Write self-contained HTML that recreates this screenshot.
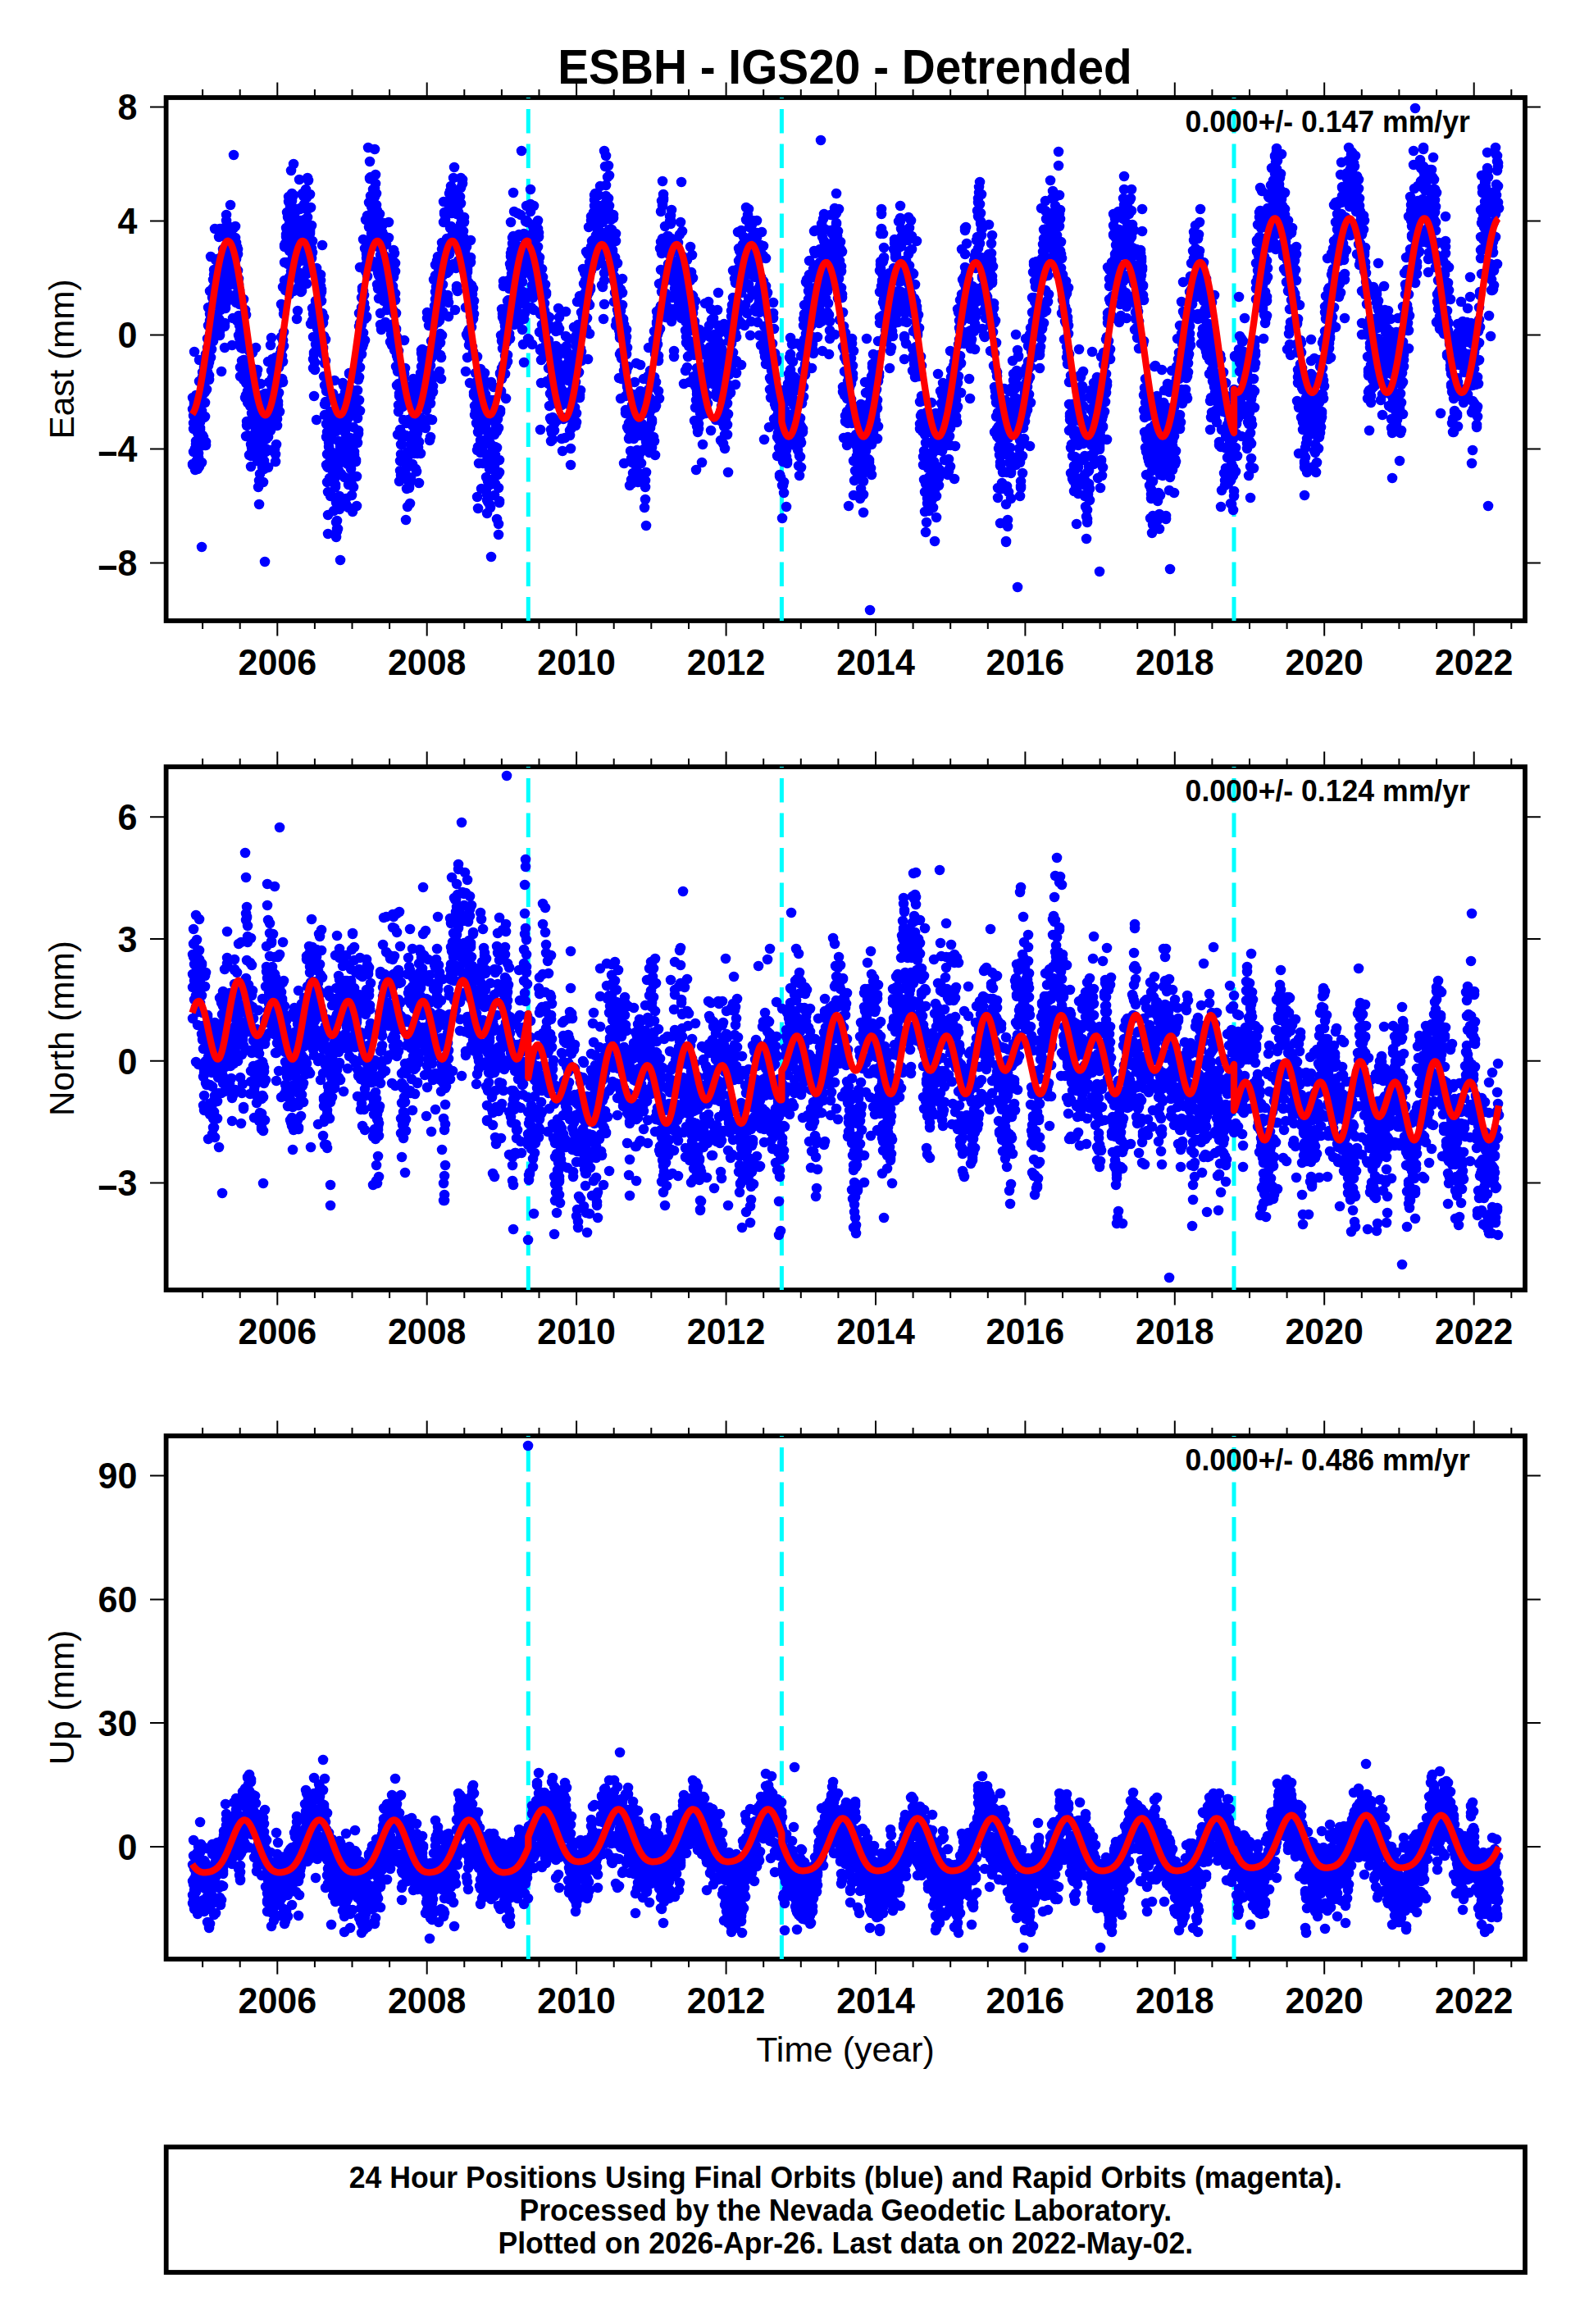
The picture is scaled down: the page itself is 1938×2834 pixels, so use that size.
<!DOCTYPE html><html><head><meta charset="utf-8"><style>html,body{margin:0;padding:0;background:#fff}svg{display:block}text{font-family:"Liberation Sans",sans-serif}</style></head><body>
<svg width="1938" height="2834" viewBox="0 0 1938 2834">
<rect width="1938" height="2834" fill="#fff"/>
<clipPath id="c0"><rect x="202.6" y="119.0" width="1657.4" height="638.0"/></clipPath>
<clipPath id="c1"><rect x="202.6" y="935.1" width="1657.4" height="638.0"/></clipPath>
<clipPath id="c2"><rect x="202.6" y="1751.0" width="1657.4" height="638.0"/></clipPath>
<text transform="translate(1030.4 101.8) scale(0.988 1.035)" text-anchor="middle" font-weight="bold" font-size="57.5">ESBH - IGS20 - Detrended</text>
<rect x="202.6" y="119.0" width="1657.4" height="638.0" fill="none" stroke="#000" stroke-width="5.8"/>
<g clip-path="url(#c0)"><line x1="644.3" y1="119.0" x2="644.3" y2="757.0" stroke="#00ffff" stroke-width="5" stroke-dasharray="29.5 13" stroke-dashoffset="28.6"/><line x1="953.4" y1="119.0" x2="953.4" y2="757.0" stroke="#00ffff" stroke-width="5" stroke-dasharray="29.5 13" stroke-dashoffset="28.6"/><line x1="1505.0" y1="119.0" x2="1505.0" y2="757.0" stroke="#00ffff" stroke-width="5" stroke-dasharray="29.5 13" stroke-dashoffset="28.6"/><path fill="none" stroke="#0000ff" stroke-width="12.5" stroke-linecap="round" d="M235 485h.1M235 567h.1M235 566h.1M235 499h.1M236 516h.1M236 507h.1M236 551h.1M236 523h.1M237 492h.1M237 429h.1M237 494h.1M237 499h.1M237 491h.1M238 512h.1M238 547h.1M238 573h.1M238 492h.1M239 563h.1M239 482h.1M239 542h.1M239 538h.1M240 566h.1M240 543h.1M240 514h.1M240 516h.1M241 568h.1M241 556h.1M241 572h.1M241 528h.1M242 526h.1M242 492h.1M242 558h.1M242 553h.1M243 542h.1M243 465h.1M243 569h.1M243 439h.1M244 515h.1M244 524h.1M244 491h.1M244 522h.1M245 532h.1M245 504h.1M245 507h.1M245 544h.1M246 467h.1M246 564h.1M246 491h.1M246 501h.1M247 531h.1M247 460h.1M247 454h.1M247 541h.1M248 469h.1M248 479h.1M248 480h.1M248 533h.1M249 452h.1M249 448h.1M249 479h.1M249 509h.1M250 491h.1M250 478h.1M250 508h.1M250 543h.1M251 539h.1M251 543h.1M251 475h.1M251 432h.1M252 441h.1M252 475h.1M252 442h.1M253 437h.1M253 413h.1M253 424h.1M253 454h.1M254 436h.1M254 397h.1M254 446h.1M254 375h.1M255 463h.1M255 458h.1M255 442h.1M255 434h.1M256 383h.1M256 408h.1M256 391h.1M256 355h.1M257 436h.1M257 389h.1M257 313h.1M257 384h.1M258 411h.1M258 386h.1M258 426h.1M258 390h.1M259 372h.1M259 386h.1M259 363h.1M259 401h.1M260 351h.1M260 341h.1M260 416h.1M260 383h.1M261 329h.1M261 394h.1M261 335h.1M261 366h.1M262 367h.1M262 348h.1M262 279h.1M262 390h.1M263 339h.1M263 362h.1M263 317h.1M263 348h.1M264 337h.1M264 331h.1M264 345h.1M264 316h.1M265 319h.1M265 369h.1M265 365h.1M265 350h.1M266 318h.1M266 343h.1M266 370h.1M267 370h.1M267 389h.1M267 289h.1M267 327h.1M268 279h.1M268 404h.1M268 409h.1M268 344h.1M269 372h.1M269 378h.1M269 396h.1M269 394h.1M270 453h.1M270 279h.1M270 369h.1M270 355h.1M271 317h.1M271 358h.1M271 331h.1M271 312h.1M272 323h.1M272 318h.1M272 304h.1M272 315h.1M273 359h.1M273 346h.1M273 358h.1M273 325h.1M274 394h.1M274 424h.1M274 398h.1M274 337h.1M275 376h.1M275 372h.1M275 310h.1M275 287h.1M276 262h.1M276 269h.1M276 280h.1M276 290h.1M277 346h.1M277 303h.1M277 310h.1M277 274h.1M278 287h.1M278 358h.1M278 323h.1M278 301h.1M279 329h.1M279 347h.1M279 280h.1M279 366h.1M280 282h.1M280 341h.1M280 324h.1M280 279h.1M281 250h.1M281 347h.1M281 299h.1M281 313h.1M282 327h.1M282 332h.1M282 305h.1M282 285h.1M283 280h.1M283 421h.1M283 337h.1M283 300h.1M284 388h.1M284 298h.1M284 300h.1M284 322h.1M285 278h.1M285 318h.1M285 337h.1M285 323h.1M286 329h.1M286 293h.1M286 320h.1M286 292h.1M287 290h.1M287 276h.1M287 318h.1M287 307h.1M288 359h.1M288 369h.1M288 296h.1M288 316h.1M289 391h.1M289 389h.1M289 301h.1M289 349h.1M290 310h.1M290 304h.1M290 359h.1M290 330h.1M291 409h.1M291 385h.1M291 347h.1M291 340h.1M292 397h.1M292 371h.1M292 412h.1M292 354h.1M293 459h.1M293 417h.1M293 404h.1M293 448h.1M294 424h.1M294 421h.1M294 390h.1M294 397h.1M295 407h.1M295 401h.1M295 420h.1M295 440h.1M296 425h.1M296 440h.1M296 395h.1M296 413h.1M297 399h.1M297 463h.1M297 365h.1M297 439h.1M298 460h.1M298 414h.1M298 411h.1M298 439h.1M299 378h.1M299 443h.1M299 485h.1M300 384h.1M300 467h.1M300 482h.1M300 532h.1M301 519h.1M301 514h.1M301 483h.1M301 452h.1M302 457h.1M302 531h.1M302 491h.1M302 477h.1M303 464h.1M303 466h.1M303 459h.1M303 471h.1M304 487h.1M304 428h.1M304 555h.1M304 482h.1M305 472h.1M305 495h.1M305 491h.1M305 517h.1M306 457h.1M306 556h.1M306 542h.1M306 569h.1M307 546h.1M307 551h.1M307 504h.1M307 479h.1M308 531h.1M308 498h.1M308 430h.1M308 479h.1M309 552h.1M309 450h.1M309 474h.1M309 485h.1M310 477h.1M310 468h.1M310 495h.1M310 470h.1M311 494h.1M311 460h.1M311 471h.1M311 515h.1M312 525h.1M312 424h.1M312 490h.1M312 509h.1M313 454h.1M313 456h.1M313 498h.1M313 470h.1M314 530h.1M314 547h.1M314 562h.1M314 451h.1M315 519h.1M315 509h.1M315 594h.1M315 522h.1M316 615h.1M316 586h.1M316 538h.1M316 516h.1M317 495h.1M317 534h.1M317 578h.1M317 511h.1M318 557h.1M318 506h.1M318 513h.1M318 468h.1M319 482h.1M319 536h.1M319 510h.1M319 551h.1M320 548h.1M320 569h.1M320 561h.1M320 570h.1M321 536h.1M321 588h.1M321 562h.1M321 530h.1M322 564h.1M322 572h.1M322 496h.1M322 562h.1M323 480h.1M323 525h.1M323 509h.1M323 487h.1M324 551h.1M324 547h.1M324 522h.1M324 517h.1M325 480h.1M325 528h.1M325 535h.1M325 503h.1M326 520h.1M326 517h.1M326 494h.1M326 510h.1M327 533h.1M327 441h.1M327 494h.1M327 570h.1M328 501h.1M328 466h.1M328 509h.1M328 526h.1M329 484h.1M329 521h.1M329 502h.1M329 479h.1M330 502h.1M330 421h.1M330 549h.1M330 525h.1M331 452h.1M331 470h.1M331 412h.1M331 442h.1M332 438h.1M332 444h.1M332 461h.1M332 514h.1M333 470h.1M333 452h.1M333 477h.1M333 513h.1M334 451h.1M334 503h.1M334 512h.1M334 493h.1M335 504h.1M335 548h.1M335 512h.1M335 493h.1M336 436h.1M336 563h.1M336 554h.1M336 478h.1M337 482h.1M337 470h.1M337 542h.1M337 489h.1M338 489h.1M338 483h.1M338 519h.1M338 511h.1M339 499h.1M339 494h.1M339 490h.1M340 448h.1M340 479h.1M340 467h.1M340 438h.1M341 467h.1M341 438h.1M341 502h.1M341 443h.1M342 439h.1M342 441h.1M342 443h.1M342 431h.1M343 371h.1M343 411h.1M343 435h.1M343 426h.1M344 434h.1M344 411h.1M344 425h.1M344 462h.1M345 466h.1M345 415h.1M345 441h.1M345 350h.1M346 383h.1M346 405h.1M346 377h.1M346 422h.1M347 320h.1M347 342h.1M347 299h.1M347 301h.1M348 354h.1M348 297h.1M348 350h.1M348 346h.1M349 286h.1M349 289h.1M349 320h.1M349 278h.1M350 301h.1M350 295h.1M350 282h.1M350 259h.1M351 322h.1M351 265h.1M351 300h.1M351 289h.1M352 246h.1M352 266h.1M352 301h.1M352 240h.1M353 359h.1M353 306h.1M353 273h.1M353 338h.1M354 283h.1M354 299h.1M354 252h.1M354 278h.1M355 281h.1M355 331h.1M355 292h.1M355 208h.1M356 236h.1M356 272h.1M356 245h.1M356 296h.1M357 253h.1M357 301h.1M357 314h.1M357 290h.1M358 238h.1M358 306h.1M358 355h.1M358 200h.1M359 302h.1M359 300h.1M359 322h.1M359 269h.1M360 259h.1M360 273h.1M360 294h.1M360 295h.1M361 295h.1M361 324h.1M361 279h.1M362 315h.1M362 303h.1M362 389h.1M362 296h.1M363 339h.1M363 379h.1M363 307h.1M363 255h.1M364 273h.1M364 283h.1M364 341h.1M364 350h.1M365 305h.1M365 339h.1M365 288h.1M365 219h.1M366 255h.1M366 269h.1M366 254h.1M366 333h.1M367 285h.1M367 318h.1M367 356h.1M367 339h.1M368 334h.1M368 301h.1M368 355h.1M368 291h.1M369 300h.1M369 302h.1M369 236h.1M369 283h.1M370 269h.1M370 314h.1M370 239h.1M370 277h.1M371 249h.1M371 270h.1M371 268h.1M371 316h.1M372 277h.1M372 318h.1M372 296h.1M372 274h.1M373 333h.1M373 305h.1M373 282h.1M373 231h.1M374 255h.1M374 334h.1M374 241h.1M374 346h.1M375 328h.1M375 265h.1M375 217h.1M375 295h.1M376 308h.1M376 286h.1M376 254h.1M376 220h.1M377 282h.1M377 293h.1M377 274h.1M377 254h.1M378 237h.1M378 283h.1M378 285h.1M378 281h.1M379 253h.1M379 306h.1M379 395h.1M379 329h.1M380 303h.1M380 315h.1M380 275h.1M380 328h.1M381 294h.1M381 308h.1M381 376h.1M381 391h.1M382 383h.1M382 449h.1M382 411h.1M382 438h.1M383 430h.1M383 483h.1M383 391h.1M383 432h.1M384 380h.1M384 442h.1M384 451h.1M384 429h.1M385 420h.1M385 392h.1M385 367h.1M385 372h.1M386 327h.1M386 383h.1M386 335h.1M386 512h.1M387 383h.1M387 373h.1M387 401h.1M387 384h.1M388 406h.1M388 387h.1M388 423h.1M388 412h.1M389 368h.1M389 391h.1M389 383h.1M389 334h.1M390 338h.1M390 367h.1M390 387h.1M390 358h.1M391 349h.1M391 359h.1M391 335h.1M391 342h.1M392 367h.1M392 356h.1M392 353h.1M392 396h.1M393 382h.1M393 299h.1M393 413h.1M393 418h.1M394 394h.1M394 432h.1M394 425h.1M394 424h.1M395 410h.1M395 387h.1M395 459h.1M396 443h.1M396 493h.1M396 470h.1M396 506h.1M397 440h.1M397 414h.1M397 493h.1M397 490h.1M398 477h.1M398 533h.1M398 567h.1M398 517h.1M399 527h.1M399 588h.1M399 554h.1M399 569h.1M400 600h.1M400 570h.1M400 628h.1M400 651h.1M401 552h.1M401 545h.1M401 565h.1M401 540h.1M402 532h.1M402 569h.1M402 479h.1M402 583h.1M403 559h.1M403 605h.1M403 537h.1M403 502h.1M404 551h.1M404 585h.1M404 604h.1M404 519h.1M405 573h.1M405 554h.1M405 514h.1M405 567h.1M406 511h.1M406 480h.1M406 559h.1M406 528h.1M407 553h.1M407 623h.1M407 565h.1M407 511h.1M408 464h.1M408 563h.1M408 520h.1M408 519h.1M409 559h.1M409 591h.1M409 582h.1M409 594h.1M410 613h.1M410 637h.1M410 655h.1M410 526h.1M411 635h.1M411 648h.1M411 645h.1M411 493h.1M412 568h.1M412 645h.1M412 486h.1M412 552h.1M413 560h.1M413 606h.1M413 538h.1M413 574h.1M414 621h.1M414 605h.1M414 557h.1M414 500h.1M415 545h.1M415 489h.1M415 512h.1M415 554h.1M416 496h.1M416 578h.1M416 564h.1M416 616h.1M417 539h.1M417 485h.1M417 553h.1M417 559h.1M418 467h.1M418 506h.1M418 547h.1M418 519h.1M419 470h.1M419 562h.1M419 509h.1M419 524h.1M420 537h.1M420 557h.1M420 538h.1M420 582h.1M421 536h.1M421 478h.1M421 523h.1M421 528h.1M422 505h.1M422 608h.1M422 615h.1M422 478h.1M423 505h.1M423 506h.1M423 542h.1M423 519h.1M424 511h.1M424 538h.1M424 549h.1M424 566h.1M425 591h.1M425 619h.1M425 556h.1M425 565h.1M426 455h.1M426 552h.1M426 544h.1M426 456h.1M427 564h.1M427 534h.1M427 474h.1M427 479h.1M428 496h.1M428 505h.1M428 582h.1M428 572h.1M429 591h.1M429 550h.1M429 604h.1M429 553h.1M430 555h.1M430 550h.1M430 624h.1M430 544h.1M431 594h.1M431 540h.1M431 557h.1M431 521h.1M432 496h.1M432 551h.1M432 555h.1M432 487h.1M433 454h.1M433 501h.1M433 536h.1M433 461h.1M434 563h.1M434 491h.1M434 561h.1M434 454h.1M435 476h.1M435 534h.1M435 581h.1M435 617h.1M436 510h.1M436 476h.1M436 499h.1M436 540h.1M437 438h.1M437 463h.1M437 525h.1M437 529h.1M438 488h.1M438 398h.1M438 460h.1M438 382h.1M439 394h.1M439 501h.1M439 448h.1M439 326h.1M440 421h.1M440 399h.1M440 412h.1M440 416h.1M441 432h.1M441 396h.1M441 375h.1M441 363h.1M442 351h.1M442 415h.1M442 423h.1M442 354h.1M443 355h.1M443 420h.1M443 406h.1M443 292h.1M444 389h.1M444 387h.1M444 360h.1M444 370h.1M445 415h.1M445 389h.1M445 303h.1M445 376h.1M446 323h.1M446 268h.1M446 331h.1M446 329h.1M447 387h.1M447 386h.1M447 310h.1M447 315h.1M448 309h.1M448 337h.1M448 268h.1M448 263h.1M449 296h.1M449 308h.1M449 321h.1M449 180h.1M450 317h.1M450 277h.1M450 247h.1M450 307h.1M451 268h.1M451 197h.1M451 217h.1M451 218h.1M452 239h.1M452 248h.1M452 245h.1M452 216h.1M453 252h.1M453 244h.1M453 245h.1M453 285h.1M454 271h.1M454 298h.1M454 288h.1M454 259h.1M455 319h.1M455 231h.1M455 272h.1M455 325h.1M456 280h.1M456 283h.1M456 215h.1M456 238h.1M457 230h.1M457 182h.1M457 240h.1M457 255h.1M458 283h.1M458 270h.1M458 224h.1M458 213h.1M459 268h.1M459 250h.1M459 271h.1M459 236h.1M460 274h.1M460 257h.1M460 288h.1M460 297h.1M460 347h.1M461 333h.1M461 301h.1M461 352h.1M461 271h.1M462 336h.1M462 364h.1M462 297h.1M463 261h.1M463 287h.1M463 364h.1M463 324h.1M464 396h.1M464 382h.1M464 327h.1M464 311h.1M465 333h.1M465 294h.1M465 402h.1M466 305h.1M466 349h.1M466 283h.1M466 316h.1M467 274h.1M467 364h.1M467 294h.1M467 337h.1M468 287h.1M468 272h.1M468 367h.1M468 357h.1M469 340h.1M469 363h.1M469 312h.1M469 367h.1M470 393h.1M470 365h.1M470 351h.1M470 296h.1M471 353h.1M471 342h.1M471 294h.1M471 298h.1M472 378h.1M472 365h.1M472 396h.1M472 326h.1M473 374h.1M473 358h.1M473 348h.1M473 342h.1M474 324h.1M474 290h.1M474 315h.1M474 271h.1M475 324h.1M475 398h.1M475 330h.1M475 366h.1M476 316h.1M476 366h.1M476 349h.1M476 417h.1M477 408h.1M477 369h.1M477 403h.1M478 335h.1M478 421h.1M478 411h.1M478 323h.1M479 331h.1M479 378h.1M479 353h.1M479 349h.1M480 395h.1M480 338h.1M480 360h.1M480 305h.1M481 427h.1M481 309h.1M481 383h.1M481 320h.1M482 366h.1M482 331h.1M482 321h.1M482 358h.1M483 382h.1M483 402h.1M483 447h.1M483 401h.1M484 470h.1M484 411h.1M484 433h.1M484 434h.1M485 453h.1M485 437h.1M485 530h.1M485 452h.1M486 468h.1M486 428h.1M486 502h.1M486 494h.1M487 480h.1M487 483h.1M487 530h.1M487 587h.1M488 562h.1M488 574h.1M488 524h.1M489 580h.1M489 527h.1M489 554h.1M489 542h.1M490 533h.1M490 542h.1M490 486h.1M490 466h.1M491 555h.1M491 492h.1M491 496h.1M491 467h.1M492 512h.1M492 461h.1M492 457h.1M492 464h.1M493 415h.1M493 491h.1M493 456h.1M493 451h.1M494 449h.1M494 483h.1M494 470h.1M494 474h.1M495 531h.1M495 572h.1M495 554h.1M495 634h.1M496 516h.1M496 532h.1M496 471h.1M496 596h.1M497 551h.1M497 558h.1M497 557h.1M497 618h.1M498 512h.1M498 586h.1M498 582h.1M498 566h.1M499 594h.1M499 590h.1M499 582h.1M499 595h.1M500 614h.1M500 565h.1M500 534h.1M501 583h.1M501 542h.1M501 493h.1M501 532h.1M502 484h.1M502 487h.1M502 473h.1M502 539h.1M503 519h.1M503 488h.1M503 540h.1M503 566h.1M504 476h.1M504 462h.1M504 541h.1M504 507h.1M505 517h.1M505 528h.1M505 530h.1M505 553h.1M506 541h.1M506 482h.1M506 517h.1M506 488h.1M507 572h.1M507 488h.1M507 490h.1M507 504h.1M508 470h.1M508 530h.1M508 532h.1M508 575h.1M509 553h.1M509 519h.1M509 528h.1M509 497h.1M510 546h.1M510 509h.1M510 538h.1M510 523h.1M511 521h.1M511 589h.1M511 487h.1M511 539h.1M512 509h.1M512 468h.1M512 515h.1M512 492h.1M513 553h.1M513 479h.1M513 455h.1M513 486h.1M514 431h.1M514 427h.1M514 447h.1M514 470h.1M515 437h.1M515 438h.1M515 465h.1M515 426h.1M516 445h.1M516 489h.1M516 466h.1M516 456h.1M517 512h.1M517 518h.1M517 460h.1M517 447h.1M518 482h.1M518 434h.1M518 463h.1M518 475h.1M519 431h.1M519 449h.1M519 515h.1M519 522h.1M520 457h.1M520 483h.1M520 476h.1M520 500h.1M521 460h.1M521 381h.1M521 479h.1M521 388h.1M522 464h.1M522 470h.1M522 428h.1M522 481h.1M523 453h.1M523 431h.1M523 397h.1M524 512h.1M524 537h.1M524 511h.1M524 456h.1M525 492h.1M525 484h.1M525 446h.1M525 533h.1M526 430h.1M526 437h.1M526 426h.1M526 416h.1M527 458h.1M527 463h.1M527 512h.1M527 432h.1M528 471h.1M528 414h.1M528 478h.1M528 415h.1M529 396h.1M529 397h.1M529 341h.1M529 395h.1M530 373h.1M530 384h.1M530 387h.1M530 382h.1M531 365h.1M531 336h.1M531 323h.1M531 356h.1M532 350h.1M532 363h.1M532 413h.1M532 338h.1M533 318h.1M533 370h.1M533 353h.1M533 423h.1M534 364h.1M534 313h.1M534 356h.1M534 393h.1M535 328h.1M535 362h.1M535 386h.1M535 353h.1M536 391h.1M536 347h.1M536 453h.1M536 364h.1M537 418h.1M537 378h.1M537 407h.1M537 433h.1M538 370h.1M538 436h.1M538 462h.1M538 356h.1M539 316h.1M539 296h.1M539 304h.1M539 409h.1M540 336h.1M540 347h.1M540 302h.1M540 380h.1M541 301h.1M541 308h.1M541 271h.1M541 246h.1M542 261h.1M542 329h.1M542 259h.1M542 312h.1M543 310h.1M543 268h.1M543 362h.1M543 318h.1M544 321h.1M544 295h.1M544 301h.1M544 297h.1M545 291h.1M545 333h.1M545 326h.1M545 306h.1M546 299h.1M546 310h.1M546 365h.1M546 360h.1M547 331h.1M547 386h.1M547 369h.1M547 300h.1M548 251h.1M548 310h.1M548 327h.1M548 236h.1M549 247h.1M549 278h.1M549 233h.1M549 234h.1M550 227h.1M550 300h.1M550 237h.1M550 276h.1M551 260h.1M551 297h.1M551 233h.1M551 252h.1M552 286h.1M552 250h.1M552 244h.1M552 240h.1M553 217h.1M553 322h.1M553 295h.1M553 254h.1M554 241h.1M554 289h.1M554 204h.1M554 237h.1M555 326h.1M555 301h.1M555 248h.1M555 378h.1M556 239h.1M556 245h.1M556 327h.1M556 281h.1M557 261h.1M557 353h.1M557 349h.1M557 233h.1M558 279h.1M558 355h.1M558 256h.1M558 241h.1M559 249h.1M559 259h.1M559 289h.1M559 318h.1M560 240h.1M560 247h.1M560 306h.1M560 297h.1M561 278h.1M561 285h.1M561 277h.1M561 240h.1M562 273h.1M562 229h.1M562 248h.1M562 217h.1M563 271h.1M563 219h.1M563 268h.1M563 303h.1M564 224h.1M564 303h.1M564 298h.1M564 219h.1M565 282h.1M565 303h.1M565 299h.1M565 289h.1M566 271h.1M566 313h.1M566 331h.1M566 265h.1M567 306h.1M567 304h.1M567 295h.1M567 310h.1M568 337h.1M568 453h.1M568 321h.1M568 375h.1M569 408h.1M569 338h.1M569 297h.1M569 301h.1M570 332h.1M570 329h.1M570 410h.1M570 436h.1M571 323h.1M571 344h.1M571 352h.1M571 404h.1M572 321h.1M572 402h.1M572 354h.1M572 421h.1M573 467h.1M573 363h.1M573 352h.1M573 417h.1M574 293h.1M574 386h.1M574 320h.1M574 314h.1M575 392h.1M575 348h.1M575 399h.1M575 366h.1M576 378h.1M576 359h.1M576 423h.1M576 380h.1M577 352h.1M577 375h.1M577 429h.1M577 389h.1M578 383h.1M578 367h.1M578 479h.1M578 482h.1M579 506h.1M579 483h.1M579 495h.1M579 470h.1M580 472h.1M580 435h.1M580 455h.1M580 502h.1M581 472h.1M581 516h.1M581 498h.1M581 466h.1M582 489h.1M582 435h.1M582 606h.1M582 549h.1M583 527h.1M583 509h.1M583 545h.1M583 620h.1M584 565h.1M584 521h.1M584 526h.1M584 488h.1M585 472h.1M585 525h.1M585 515h.1M585 494h.1M586 552h.1M586 537h.1M586 450h.1M586 511h.1M587 505h.1M587 596h.1M587 544h.1M587 518h.1M588 499h.1M588 523h.1M588 517h.1M588 546h.1M589 513h.1M589 475h.1M589 539h.1M589 565h.1M590 495h.1M590 463h.1M590 476h.1M590 537h.1M591 516h.1M591 500h.1M591 469h.1M591 455h.1M592 518h.1M592 489h.1M592 500h.1M592 481h.1M593 524h.1M593 525h.1M593 597h.1M593 582h.1M594 556h.1M594 626h.1M594 610h.1M594 603h.1M595 608h.1M595 612h.1M595 587h.1M595 554h.1M596 528h.1M596 558h.1M596 568h.1M596 507h.1M597 615h.1M597 540h.1M597 572h.1M597 565h.1M598 619h.1M598 591h.1M598 541h.1M598 567h.1M599 568h.1M599 512h.1M599 466h.1M599 488h.1M600 497h.1M600 552h.1M600 553h.1M600 545h.1M601 491h.1M601 559h.1M601 490h.1M601 499h.1M602 554h.1M602 488h.1M602 472h.1M602 502h.1M603 530h.1M603 504h.1M603 604h.1M603 568h.1M604 555h.1M604 547h.1M604 545h.1M604 590h.1M605 563h.1M605 521h.1M605 519h.1M605 580h.1M606 577h.1M606 546h.1M606 526h.1M606 633h.1M607 508h.1M607 579h.1M607 511h.1M607 504h.1M608 595h.1M608 639h.1M608 652h.1M608 522h.1M609 611h.1M609 576h.1M609 613h.1M609 561h.1M610 500h.1M610 455h.1M610 456h.1M610 503h.1M611 479h.1M611 477h.1M611 409h.1M611 455h.1M612 462h.1M612 416h.1M612 449h.1M612 377h.1M613 383h.1M613 425h.1M613 415h.1M613 387h.1M614 445h.1M614 349h.1M614 343h.1M614 377h.1M615 387h.1M615 417h.1M615 423h.1M615 392h.1M616 398h.1M616 434h.1M616 404h.1M616 456h.1M617 408h.1M617 486h.1M617 445h.1M617 414h.1M618 388h.1M618 433h.1M618 414h.1M618 417h.1M619 367h.1M619 433h.1M619 409h.1M619 441h.1M620 342h.1M620 366h.1M620 381h.1M620 368h.1M621 342h.1M621 373h.1M621 352h.1M621 407h.1M622 413h.1M622 322h.1M622 346h.1M622 382h.1M623 313h.1M623 309h.1M623 271h.1M623 326h.1M624 305h.1M624 323h.1M624 334h.1M624 321h.1M625 310h.1M625 329h.1M625 290h.1M625 297h.1M626 291h.1M626 235h.1M626 296h.1M626 288h.1M627 258h.1M627 396h.1M627 384h.1M627 349h.1M628 368h.1M628 296h.1M628 354h.1M628 352h.1M629 314h.1M629 392h.1M629 352h.1M629 325h.1M630 376h.1M630 305h.1M630 309h.1M630 310h.1M631 337h.1M631 369h.1M631 260h.1M631 350h.1M632 341h.1M632 340h.1M632 343h.1M632 329h.1M633 393h.1M633 329h.1M633 286h.1M633 361h.1M634 324h.1M634 357h.1M634 322h.1M634 301h.1M635 345h.1M635 262h.1M635 370h.1M635 288h.1M636 363h.1M636 343h.1M636 383h.1M636 318h.1M637 335h.1M637 402h.1M637 344h.1M637 369h.1M638 357h.1M638 420h.1M638 359h.1M638 356h.1M639 285h.1M639 389h.1M639 314h.1M639 442h.1M640 382h.1M640 360h.1M640 371h.1M640 291h.1M641 323h.1M641 310h.1M641 301h.1M641 270h.1M642 330h.1M642 251h.1M642 291h.1M642 269h.1M643 271h.1M643 270h.1M643 296h.1M643 300h.1M644 324h.1M644 301h.1M644 319h.1M644 413h.1M645 414h.1M645 313h.1M645 362h.1M645 318h.1M646 357h.1M646 321h.1M646 306h.1M646 318h.1M647 249h.1M647 231h.1M647 258h.1M647 356h.1M648 336h.1M648 314h.1M648 310h.1M648 375h.1M649 420h.1M649 355h.1M649 293h.1M649 348h.1M650 284h.1M650 340h.1M650 276h.1M650 363h.1M651 319h.1M651 297h.1M651 378h.1M651 251h.1M652 326h.1M652 360h.1M652 333h.1M652 352h.1M653 327h.1M653 278h.1M653 317h.1M653 276h.1M654 344h.1M654 309h.1M654 304h.1M654 282h.1M655 319h.1M655 290h.1M655 271h.1M655 337h.1M656 269h.1M656 279h.1M656 301h.1M656 288h.1M657 289h.1M657 333h.1M657 320h.1M657 284h.1M658 314h.1M658 329h.1M658 359h.1M658 405h.1M659 348h.1M659 383h.1M659 427h.1M659 524h.1M660 439h.1M660 467h.1M660 425h.1M660 382h.1M661 396h.1M661 361h.1M661 328h.1M661 357h.1M662 338h.1M662 384h.1M662 348h.1M662 408h.1M663 406h.1M663 376h.1M663 412h.1M663 435h.1M664 401h.1M664 370h.1M664 379h.1M664 388h.1M665 347h.1M665 387h.1M665 406h.1M665 422h.1M666 404h.1M666 357h.1M666 359h.1M666 395h.1M667 465h.1M667 430h.1M667 385h.1M667 389h.1M668 395h.1M668 390h.1M668 431h.1M668 416h.1M669 429h.1M669 468h.1M669 415h.1M669 449h.1M670 428h.1M670 495h.1M670 397h.1M670 387h.1M671 480h.1M671 450h.1M671 510h.1M671 431h.1M672 538h.1M672 512h.1M672 524h.1M672 445h.1M673 528h.1M673 473h.1M673 460h.1M673 480h.1M674 509h.1M674 484h.1M674 536h.1M674 485h.1M675 490h.1M675 479h.1M675 452h.1M675 511h.1M676 525h.1M676 490h.1M676 492h.1M676 517h.1M677 486h.1M677 462h.1M677 478h.1M677 469h.1M678 466h.1M678 422h.1M678 488h.1M678 404h.1M679 464h.1M679 513h.1M679 437h.1M679 425h.1M680 447h.1M680 426h.1M680 435h.1M680 397h.1M681 458h.1M681 443h.1M681 376h.1M681 403h.1M682 426h.1M682 387h.1M682 462h.1M682 401h.1M682 485h.1M683 470h.1M683 468h.1M683 426h.1M683 448h.1M684 459h.1M684 455h.1M684 447h.1M684 431h.1M685 491h.1M685 494h.1M685 475h.1M685 535h.1M686 550h.1M686 493h.1M686 478h.1M686 509h.1M687 511h.1M687 491h.1M687 447h.1M687 425h.1M688 478h.1M688 452h.1M688 462h.1M688 487h.1M689 449h.1M689 534h.1M689 487h.1M689 451h.1M690 430h.1M690 487h.1M690 410h.1M690 380h.1M691 460h.1M691 422h.1M691 428h.1M692 487h.1M692 433h.1M692 451h.1M692 491h.1M693 434h.1M693 490h.1M693 442h.1M693 464h.1M694 483h.1M694 413h.1M694 436h.1M694 458h.1M695 531h.1M695 510h.1M695 492h.1M695 525h.1M696 547h.1M696 496h.1M696 567h.1M697 489h.1M697 522h.1M697 437h.1M697 491h.1M698 503h.1M698 519h.1M698 475h.1M698 488h.1M699 470h.1M699 436h.1M699 439h.1M699 462h.1M700 453h.1M700 443h.1M700 470h.1M700 399h.1M701 432h.1M701 486h.1M701 497h.1M701 478h.1M702 416h.1M702 519h.1M702 466h.1M702 475h.1M703 515h.1M703 504h.1M703 423h.1M703 409h.1M704 476h.1M704 400h.1M704 406h.1M704 368h.1M705 442h.1M705 415h.1M705 396h.1M705 455h.1M706 428h.1M706 420h.1M706 407h.1M706 454h.1M707 361h.1M707 425h.1M707 482h.1M707 485h.1M708 476h.1M708 413h.1M708 425h.1M708 396h.1M709 400h.1M709 440h.1M709 429h.1M709 381h.1M710 365h.1M710 405h.1M710 394h.1M710 362h.1M711 398h.1M711 369h.1M711 387h.1M711 328h.1M712 372h.1M712 381h.1M712 346h.1M712 394h.1M713 358h.1M713 333h.1M713 385h.1M713 371h.1M714 342h.1M714 386h.1M714 390h.1M714 343h.1M715 401h.1M715 307h.1M715 351h.1M715 369h.1M716 361h.1M716 388h.1M716 331h.1M716 369h.1M717 438h.1M717 369h.1M717 310h.1M717 352h.1M718 357h.1M718 354h.1M718 277h.1M718 339h.1M719 320h.1M719 407h.1M719 352h.1M719 372h.1M720 350h.1M720 328h.1M720 353h.1M720 326h.1M721 269h.1M721 301h.1M721 330h.1M721 264h.1M722 311h.1M722 302h.1M722 265h.1M722 294h.1M723 293h.1M723 272h.1M723 301h.1M723 271h.1M724 308h.1M724 260h.1M724 270h.1M724 259h.1M725 238h.1M725 244h.1M725 262h.1M725 251h.1M726 260h.1M726 259h.1M726 252h.1M726 236h.1M727 292h.1M727 264h.1M727 324h.1M727 287h.1M728 259h.1M728 276h.1M728 275h.1M728 278h.1M729 270h.1M729 263h.1M729 283h.1M729 251h.1M730 308h.1M730 275h.1M730 238h.1M730 276h.1M731 306h.1M731 302h.1M731 272h.1M731 251h.1M732 284h.1M732 290h.1M732 227h.1M732 315h.1M733 255h.1M733 293h.1M733 314h.1M733 295h.1M734 294h.1M734 297h.1M734 269h.1M734 348h.1M735 262h.1M735 271h.1M735 305h.1M735 350h.1M736 261h.1M736 389h.1M736 298h.1M736 308h.1M737 371h.1M737 268h.1M737 342h.1M737 333h.1M738 324h.1M738 302h.1M738 203h.1M738 284h.1M739 190h.1M739 247h.1M739 226h.1M739 239h.1M740 263h.1M740 264h.1M740 260h.1M741 216h.1M741 288h.1M741 295h.1M741 302h.1M742 301h.1M742 257h.1M742 242h.1M742 202h.1M743 251h.1M743 280h.1M743 282h.1M743 214h.1M744 305h.1M744 321h.1M744 286h.1M744 284h.1M745 288h.1M745 309h.1M745 292h.1M745 268h.1M746 267h.1M746 280h.1M746 288h.1M746 310h.1M747 287h.1M747 307h.1M747 305h.1M747 284h.1M748 266h.1M748 328h.1M748 262h.1M748 321h.1M749 368h.1M749 289h.1M749 343h.1M749 337h.1M750 317h.1M750 357h.1M750 314h.1M751 294h.1M751 358h.1M751 397h.1M751 285h.1M752 392h.1M752 343h.1M752 391h.1M752 395h.1M753 321h.1M753 362h.1M753 398h.1M753 378h.1M754 357h.1M754 382h.1M754 349h.1M754 378h.1M755 384h.1M755 382h.1M755 403h.1M755 461h.1M756 383h.1M756 432h.1M756 408h.1M756 412h.1M757 430h.1M757 353h.1M757 486h.1M757 379h.1M758 462h.1M758 437h.1M758 396h.1M758 410h.1M759 399h.1M759 340h.1M759 372h.1M759 357h.1M760 389h.1M760 406h.1M760 432h.1M760 390h.1M761 565h.1M761 414h.1M761 396h.1M761 452h.1M762 406h.1M762 400h.1M762 446h.1M762 429h.1M763 483h.1M763 416h.1M763 504h.1M763 500h.1M764 453h.1M764 432h.1M764 402h.1M764 411h.1M765 424h.1M765 521h.1M765 470h.1M765 472h.1M766 447h.1M766 502h.1M766 477h.1M766 523h.1M767 535h.1M767 521h.1M767 523h.1M767 516h.1M768 533h.1M768 515h.1M768 518h.1M768 592h.1M769 507h.1M769 518h.1M769 531h.1M769 550h.1M770 509h.1M770 590h.1M770 559h.1M770 585h.1M771 532h.1M771 494h.1M771 564h.1M771 529h.1M772 577h.1M772 533h.1M772 481h.1M772 526h.1M773 535h.1M773 489h.1M773 492h.1M773 501h.1M774 483h.1M774 496h.1M774 466h.1M774 486h.1M775 499h.1M775 530h.1M775 556h.1M775 567h.1M776 500h.1M776 443h.1M776 520h.1M777 562h.1M777 514h.1M777 549h.1M777 511h.1M778 576h.1M778 529h.1M778 588h.1M778 495h.1M779 531h.1M779 505h.1M779 510h.1M779 559h.1M780 579h.1M780 496h.1M780 510h.1M780 486h.1M781 445h.1M781 498h.1M781 477h.1M781 552h.1M782 565h.1M782 531h.1M782 525h.1M782 530h.1M783 526h.1M783 503h.1M783 486h.1M783 517h.1M784 520h.1M784 501h.1M784 481h.1M784 482h.1M785 488h.1M785 462h.1M785 495h.1M785 548h.1M786 525h.1M786 487h.1M786 504h.1M786 619h.1M787 609h.1M787 548h.1M787 594h.1M787 586h.1M788 641h.1M788 576h.1M788 539h.1M788 532h.1M789 534h.1M789 528h.1M789 524h.1M789 495h.1M790 498h.1M790 533h.1M790 520h.1M790 459h.1M791 484h.1M791 489h.1M791 424h.1M791 475h.1M792 504h.1M792 530h.1M792 535h.1M792 552h.1M793 522h.1M793 486h.1M793 466h.1M793 452h.1M794 535h.1M794 472h.1M794 517h.1M794 492h.1M795 499h.1M795 512h.1M795 546h.1M795 515h.1M796 496h.1M796 465h.1M796 498h.1M797 415h.1M797 420h.1M797 492h.1M797 533h.1M798 404h.1M798 423h.1M798 460h.1M798 538h.1M799 419h.1M799 432h.1M799 497h.1M799 555h.1M800 425h.1M800 495h.1M800 466h.1M800 433h.1M801 395h.1M801 415h.1M801 380h.1M801 393h.1M802 408h.1M802 387h.1M802 393h.1M802 420h.1M803 405h.1M803 477h.1M803 440h.1M803 434h.1M804 380h.1M804 486h.1M804 346h.1M804 379h.1M805 376h.1M805 401h.1M805 384h.1M805 303h.1M806 329h.1M806 373h.1M806 295h.1M806 258h.1M807 309h.1M807 306h.1M807 245h.1M807 356h.1M808 248h.1M808 291h.1M808 251h.1M808 221h.1M809 242h.1M809 244h.1M809 237h.1M809 298h.1M810 294h.1M810 342h.1M810 304h.1M810 330h.1M811 343h.1M811 335h.1M811 276h.1M811 374h.1M812 358h.1M812 378h.1M812 363h.1M812 387h.1M813 373h.1M813 377h.1M813 291h.1M813 331h.1M814 334h.1M814 385h.1M814 336h.1M814 288h.1M815 322h.1M815 288h.1M815 302h.1M815 296h.1M816 295h.1M816 309h.1M816 310h.1M816 324h.1M817 294h.1M817 264h.1M817 270h.1M817 332h.1M818 269h.1M818 263h.1M818 310h.1M818 273h.1M819 291h.1M819 256h.1M819 392h.1M819 295h.1M820 363h.1M820 324h.1M820 332h.1M820 298h.1M821 335h.1M821 377h.1M821 327h.1M821 343h.1M822 297h.1M822 428h.1M822 324h.1M822 435h.1M823 325h.1M823 346h.1M823 352h.1M823 330h.1M824 331h.1M824 300h.1M824 292h.1M824 355h.1M825 380h.1M825 384h.1M825 319h.1M825 351h.1M826 346h.1M826 306h.1M826 338h.1M826 341h.1M827 338h.1M827 296h.1M827 382h.1M827 362h.1M828 349h.1M828 352h.1M828 369h.1M828 308h.1M829 361h.1M829 286h.1M829 325h.1M829 340h.1M830 366h.1M830 329h.1M830 271h.1M830 325h.1M831 388h.1M831 337h.1M831 222h.1M831 355h.1M832 328h.1M832 318h.1M832 331h.1M832 282h.1M833 339h.1M833 314h.1M833 313h.1M833 345h.1M834 374h.1M834 361h.1M834 351h.1M834 468h.1M835 326h.1M835 362h.1M835 375h.1M835 343h.1M836 452h.1M836 343h.1M836 392h.1M836 403h.1M837 418h.1M837 362h.1M837 411h.1M837 381h.1M838 448h.1M838 360h.1M838 393h.1M838 317h.1M839 374h.1M839 399h.1M839 435h.1M840 390h.1M840 434h.1M840 422h.1M840 337h.1M841 466h.1M841 399h.1M841 383h.1M841 416h.1M842 397h.1M842 403h.1M842 301h.1M842 342h.1M843 332h.1M843 424h.1M843 366h.1M843 397h.1M844 311h.1M844 360h.1M844 377h.1M844 361h.1M845 363h.1M845 382h.1M845 339h.1M845 361h.1M846 394h.1M846 375h.1M846 400h.1M846 459h.1M847 397h.1M847 513h.1M847 392h.1M847 433h.1M848 497h.1M848 431h.1M848 367h.1M848 471h.1M849 497h.1M849 488h.1M849 573h.1M849 471h.1M850 520h.1M850 477h.1M850 449h.1M850 481h.1M851 461h.1M851 527h.1M851 513h.1M851 468h.1M852 517h.1M852 523h.1M852 486h.1M852 448h.1M853 410h.1M853 402h.1M853 422h.1M854 478h.1M854 471h.1M854 504h.1M854 481h.1M855 460h.1M855 413h.1M855 506h.1M855 480h.1M856 500h.1M856 481h.1M856 564h.1M856 411h.1M857 477h.1M857 478h.1M857 542h.1M858 472h.1M858 483h.1M858 459h.1M858 432h.1M859 450h.1M859 477h.1M859 470h.1M859 495h.1M860 370h.1M860 483h.1M860 407h.1M860 479h.1M861 460h.1M861 488h.1M861 504h.1M861 447h.1M862 459h.1M862 461h.1M862 429h.1M862 404h.1M863 482h.1M863 468h.1M863 492h.1M863 456h.1M864 434h.1M864 440h.1M864 425h.1M864 368h.1M865 397h.1M865 443h.1M865 439h.1M866 411h.1M866 454h.1M866 423h.1M866 457h.1M867 424h.1M867 377h.1M867 525h.1M867 438h.1M868 462h.1M868 446h.1M868 390h.1M868 449h.1M869 457h.1M869 426h.1M869 433h.1M869 411h.1M870 388h.1M870 430h.1M870 414h.1M870 459h.1M871 469h.1M871 430h.1M871 429h.1M871 408h.1M872 419h.1M872 445h.1M872 462h.1M872 410h.1M873 417h.1M873 512h.1M873 449h.1M873 453h.1M874 478h.1M874 484h.1M874 412h.1M874 423h.1M875 469h.1M875 414h.1M875 378h.1M875 425h.1M876 357h.1M876 475h.1M876 397h.1M876 440h.1M877 456h.1M877 442h.1M877 397h.1M877 472h.1M878 402h.1M878 398h.1M878 508h.1M878 430h.1M879 405h.1M879 466h.1M879 537h.1M879 419h.1M880 425h.1M880 426h.1M880 495h.1M880 514h.1M881 491h.1M881 435h.1M881 512h.1M881 481h.1M882 541h.1M882 431h.1M882 483h.1M882 480h.1M883 395h.1M883 467h.1M883 503h.1M883 520h.1M884 530h.1M884 547h.1M884 446h.1M884 481h.1M885 468h.1M885 511h.1M885 432h.1M885 494h.1M886 475h.1M886 492h.1M886 478h.1M886 457h.1M887 453h.1M887 518h.1M887 530h.1M887 492h.1M888 469h.1M888 576h.1M888 505h.1M888 482h.1M889 457h.1M889 416h.1M889 471h.1M889 409h.1M890 449h.1M890 400h.1M890 448h.1M890 430h.1M891 395h.1M891 416h.1M891 479h.1M891 397h.1M892 379h.1M892 386h.1M892 419h.1M892 410h.1M893 383h.1M893 372h.1M893 388h.1M893 440h.1M894 444h.1M894 330h.1M894 430h.1M894 363h.1M895 400h.1M895 365h.1M895 377h.1M895 401h.1M896 340h.1M896 385h.1M896 370h.1M896 374h.1M897 469h.1M897 345h.1M897 394h.1M897 407h.1M898 455h.1M898 397h.1M898 440h.1M898 411h.1M899 386h.1M899 369h.1M899 368h.1M899 394h.1M900 372h.1M900 328h.1M900 377h.1M900 283h.1M901 303h.1M901 337h.1M901 372h.1M901 318h.1M902 306h.1M902 327h.1M902 338h.1M902 392h.1M903 315h.1M903 377h.1M903 284h.1M903 329h.1M904 281h.1M904 326h.1M904 445h.1M904 357h.1M905 323h.1M905 313h.1M905 339h.1M905 324h.1M905 395h.1M906 320h.1M906 332h.1M906 298h.1M906 337h.1M907 341h.1M907 340h.1M907 311h.1M907 289h.1M908 310h.1M908 311h.1M908 372h.1M908 397h.1M909 379h.1M909 372h.1M909 313h.1M909 330h.1M910 328h.1M910 253h.1M910 268h.1M911 306h.1M911 350h.1M911 382h.1M911 315h.1M912 299h.1M912 295h.1M912 262h.1M912 294h.1M913 255h.1M913 347h.1M913 364h.1M913 309h.1M914 334h.1M914 296h.1M914 277h.1M914 305h.1M915 314h.1M915 409h.1M915 319h.1M915 307h.1M916 392h.1M916 335h.1M916 331h.1M916 328h.1M917 314h.1M917 274h.1M917 355h.1M917 324h.1M918 313h.1M918 269h.1M918 320h.1M918 287h.1M919 300h.1M919 290h.1M919 293h.1M919 283h.1M920 295h.1M920 322h.1M920 336h.1M921 338h.1M921 291h.1M921 376h.1M922 312h.1M922 358h.1M922 380h.1M922 315h.1M923 269h.1M923 284h.1M923 290h.1M923 337h.1M924 373h.1M924 393h.1M924 361h.1M924 353h.1M925 333h.1M925 339h.1M925 376h.1M925 318h.1M926 409h.1M926 357h.1M926 381h.1M926 368h.1M927 355h.1M927 338h.1M927 348h.1M927 337h.1M928 421h.1M928 338h.1M928 341h.1M928 299h.1M929 300h.1M929 283h.1M929 310h.1M929 361h.1M930 313h.1M930 366h.1M930 370h.1M931 300h.1M931 312h.1M931 343h.1M931 365h.1M932 429h.1M932 363h.1M932 536h.1M932 398h.1M933 427h.1M933 435h.1M933 380h.1M933 420h.1M934 349h.1M934 444h.1M934 315h.1M934 417h.1M935 359h.1M935 404h.1M935 410h.1M935 401h.1M936 357h.1M936 399h.1M936 414h.1M936 408h.1M937 437h.1M937 444h.1M937 411h.1M937 385h.1M938 389h.1M938 425h.1M938 403h.1M938 521h.1M939 475h.1M939 461h.1M939 426h.1M939 422h.1M940 436h.1M940 463h.1M940 387h.1M940 485h.1M941 444h.1M941 474h.1M941 476h.1M941 452h.1M942 419h.1M942 447h.1M942 385h.1M942 449h.1M943 443h.1M943 388h.1M943 369h.1M943 382h.1M944 401h.1M944 511h.1M944 456h.1M944 460h.1M945 493h.1M945 431h.1M945 435h.1M946 518h.1M946 515h.1M946 496h.1M946 463h.1M947 441h.1M947 476h.1M947 438h.1M947 509h.1M948 483h.1M948 533h.1M948 507h.1M948 556h.1M949 505h.1M949 501h.1M949 529h.1M949 528h.1M950 481h.1M950 546h.1M950 479h.1M950 536h.1M951 581h.1M951 579h.1M951 547h.1M951 499h.1M952 533h.1M952 582h.1M952 538h.1M952 488h.1M953 500h.1M953 527h.1M953 529h.1M953 476h.1M954 632h.1M954 592h.1M954 519h.1M954 523h.1M955 510h.1M955 563h.1M955 497h.1M955 592h.1M956 601h.1M956 526h.1M956 588h.1M957 518h.1M957 552h.1M957 500h.1M957 549h.1M958 476h.1M958 541h.1M958 539h.1M958 554h.1M959 557h.1M959 549h.1M959 543h.1M959 618h.1M960 565h.1M960 527h.1M960 562h.1M960 517h.1M961 477h.1M961 471h.1M961 468h.1M961 486h.1M962 456h.1M962 532h.1M962 506h.1M962 525h.1M963 489h.1M963 436h.1M963 461h.1M963 530h.1M964 412h.1M964 432h.1M964 451h.1M964 462h.1M965 478h.1M965 474h.1M965 487h.1M965 439h.1M966 514h.1M966 458h.1M966 420h.1M966 481h.1M967 441h.1M967 469h.1M967 505h.1M968 470h.1M968 468h.1M968 535h.1M968 494h.1M969 543h.1M969 515h.1M969 460h.1M969 508h.1M970 535h.1M970 489h.1M970 467h.1M970 471h.1M971 465h.1M971 492h.1M971 506h.1M971 489h.1M972 469h.1M972 419h.1M972 518h.1M972 519h.1M973 514h.1M973 541h.1M973 531h.1M973 549h.1M974 474h.1M974 489h.1M974 568h.1M974 525h.1M975 580h.1M975 556h.1M975 516h.1M975 524h.1M976 557h.1M976 477h.1M976 510h.1M976 537h.1M977 540h.1M977 570h.1M977 520h.1M977 434h.1M978 424h.1M978 469h.1M978 492h.1M978 463h.1M979 485h.1M979 523h.1M979 527h.1M979 452h.1M980 472h.1M980 484h.1M980 389h.1M980 397h.1M981 372h.1M981 414h.1M981 423h.1M981 383h.1M982 446h.1M982 444h.1M982 390h.1M982 457h.1M983 407h.1M983 428h.1M983 425h.1M983 344h.1M984 426h.1M984 406h.1M984 376h.1M984 341h.1M985 370h.1M985 407h.1M985 397h.1M985 346h.1M986 365h.1M986 376h.1M986 367h.1M986 355h.1M987 364h.1M987 335h.1M987 318h.1M987 384h.1M988 373h.1M988 338h.1M988 354h.1M988 399h.1M989 426h.1M989 410h.1M989 370h.1M989 338h.1M990 416h.1M990 396h.1M990 449h.1M990 377h.1M991 411h.1M991 420h.1M991 426h.1M991 386h.1M992 359h.1M992 431h.1M992 328h.1M992 387h.1M993 364h.1M993 374h.1M993 306h.1M993 282h.1M994 355h.1M994 309h.1M994 338h.1M994 281h.1M995 331h.1M995 366h.1M995 281h.1M995 339h.1M996 350h.1M996 323h.1M996 380h.1M996 356h.1M997 357h.1M997 327h.1M997 411h.1M998 329h.1M998 325h.1M998 361h.1M998 360h.1M999 376h.1M999 348h.1M999 394h.1M999 336h.1M1000 305h.1M1000 320h.1M1000 304h.1M1000 352h.1M1001 328h.1M1001 339h.1M1001 336h.1M1001 364h.1M1002 365h.1M1002 392h.1M1002 386h.1M1002 273h.1M1003 353h.1M1003 333h.1M1003 428h.1M1003 289h.1M1004 278h.1M1004 368h.1M1004 312h.1M1004 267h.1M1005 321h.1M1005 261h.1M1005 308h.1M1005 294h.1M1006 356h.1M1006 330h.1M1006 306h.1M1006 308h.1M1007 364h.1M1007 341h.1M1007 280h.1M1007 329h.1M1008 315h.1M1008 306h.1M1008 346h.1M1008 301h.1M1009 381h.1M1009 355h.1M1009 311h.1M1009 344h.1M1010 370h.1M1010 302h.1M1010 307h.1M1010 338h.1M1011 384h.1M1011 339h.1M1011 432h.1M1011 323h.1M1012 315h.1M1012 413h.1M1012 403h.1M1012 392h.1M1013 346h.1M1013 281h.1M1013 306h.1M1013 262h.1M1014 297h.1M1014 310h.1M1014 345h.1M1014 281h.1M1015 282h.1M1015 348h.1M1015 316h.1M1015 285h.1M1016 336h.1M1016 282h.1M1016 304h.1M1016 309h.1M1017 316h.1M1017 312h.1M1017 263h.1M1017 288h.1M1018 408h.1M1018 334h.1M1018 254h.1M1018 327h.1M1019 302h.1M1019 316h.1M1019 261h.1M1019 339h.1M1020 272h.1M1020 260h.1M1020 236h.1M1020 273h.1M1021 302h.1M1021 288h.1M1021 295h.1M1021 299h.1M1022 282h.1M1022 364h.1M1022 334h.1M1022 293h.1M1023 255h.1M1023 317h.1M1023 340h.1M1023 352h.1M1024 390h.1M1024 318h.1M1024 297h.1M1025 308h.1M1025 295h.1M1025 328h.1M1025 304h.1M1026 305h.1M1026 331h.1M1026 325h.1M1026 351h.1M1027 307h.1M1027 359h.1M1027 381h.1M1027 363h.1M1028 472h.1M1028 478h.1M1028 423h.1M1028 381h.1M1029 404h.1M1029 398h.1M1029 422h.1M1029 534h.1M1030 453h.1M1030 482h.1M1030 436h.1M1030 427h.1M1031 514h.1M1031 481h.1M1031 507h.1M1031 406h.1M1032 440h.1M1032 414h.1M1032 424h.1M1032 478h.1M1033 486h.1M1033 543h.1M1033 483h.1M1033 502h.1M1034 533h.1M1034 539h.1M1034 465h.1M1034 516h.1M1035 617h.1M1035 511h.1M1035 457h.1M1035 459h.1M1036 473h.1M1036 502h.1M1036 471h.1M1036 452h.1M1037 497h.1M1037 488h.1M1037 466h.1M1037 450h.1M1038 468h.1M1038 487h.1M1038 458h.1M1038 437h.1M1039 413h.1M1039 495h.1M1039 419h.1M1039 516h.1M1040 461h.1M1040 456h.1M1040 446h.1M1041 428h.1M1041 497h.1M1041 562h.1M1041 604h.1M1042 540h.1M1042 586h.1M1042 506h.1M1043 505h.1M1043 540h.1M1043 535h.1M1043 574h.1M1044 502h.1M1044 496h.1M1044 543h.1M1044 530h.1M1045 563h.1M1045 503h.1M1045 556h.1M1045 511h.1M1046 580h.1M1046 550h.1M1046 529h.1M1046 562h.1M1047 554h.1M1047 558h.1M1047 579h.1M1047 502h.1M1048 584h.1M1048 538h.1M1048 521h.1M1048 579h.1M1049 555h.1M1049 608h.1M1049 547h.1M1049 521h.1M1050 540h.1M1050 606h.1M1050 596h.1M1050 493h.1M1051 511h.1M1051 550h.1M1051 582h.1M1051 568h.1M1052 577h.1M1052 549h.1M1052 561h.1M1052 556h.1M1053 506h.1M1053 587h.1M1053 625h.1M1053 603h.1M1054 531h.1M1054 566h.1M1054 568h.1M1054 564h.1M1055 573h.1M1055 503h.1M1055 548h.1M1055 466h.1M1056 550h.1M1056 543h.1M1056 519h.1M1056 479h.1M1057 538h.1M1057 509h.1M1057 525h.1M1057 413h.1M1058 494h.1M1058 523h.1M1058 540h.1M1059 563h.1M1059 521h.1M1059 493h.1M1059 560h.1M1060 561h.1M1060 564h.1M1060 499h.1M1060 531h.1M1061 508h.1M1061 471h.1M1061 482h.1M1061 524h.1M1062 488h.1M1062 571h.1M1062 530h.1M1062 495h.1M1063 515h.1M1063 459h.1M1063 579h.1M1063 542h.1M1064 509h.1M1064 474h.1M1064 444h.1M1064 448h.1M1065 432h.1M1065 455h.1M1065 528h.1M1065 495h.1M1066 515h.1M1066 443h.1M1066 504h.1M1066 485h.1M1067 508h.1M1067 484h.1M1067 473h.1M1067 505h.1M1068 513h.1M1068 469h.1M1068 477h.1M1068 440h.1M1069 495h.1M1069 461h.1M1069 441h.1M1069 475h.1M1070 498h.1M1070 488h.1M1070 455h.1M1070 535h.1M1071 416h.1M1071 520h.1M1071 465h.1M1071 448h.1M1072 433h.1M1072 455h.1M1072 459h.1M1072 439h.1M1073 356h.1M1073 387h.1M1073 330h.1M1073 394h.1M1074 328h.1M1074 285h.1M1074 319h.1M1074 323h.1M1075 261h.1M1075 255h.1M1075 279h.1M1075 349h.1M1076 342h.1M1076 344h.1M1076 334h.1M1076 385h.1M1077 319h.1M1077 336h.1M1077 369h.1M1077 285h.1M1078 365h.1M1078 314h.1M1078 315h.1M1078 302h.1M1079 411h.1M1079 374h.1M1079 337h.1M1079 389h.1M1080 358h.1M1080 403h.1M1080 352h.1M1080 372h.1M1081 353h.1M1081 366h.1M1081 416h.1M1081 394h.1M1082 378h.1M1082 377h.1M1082 354h.1M1082 361h.1M1083 353h.1M1083 408h.1M1083 335h.1M1083 344h.1M1084 398h.1M1084 383h.1M1084 410h.1M1084 407h.1M1085 347h.1M1085 333h.1M1085 366h.1M1085 449h.1M1086 428h.1M1086 402h.1M1086 399h.1M1086 390h.1M1087 424h.1M1087 391h.1M1087 381h.1M1087 356h.1M1088 404h.1M1088 393h.1M1088 372h.1M1088 397h.1M1089 391h.1M1089 336h.1M1089 364h.1M1089 410h.1M1090 328h.1M1090 304h.1M1090 327h.1M1090 335h.1M1091 292h.1M1091 293h.1M1091 329h.1M1091 297h.1M1092 330h.1M1092 310h.1M1092 376h.1M1092 314h.1M1093 308h.1M1093 384h.1M1093 341h.1M1093 312h.1M1094 296h.1M1094 300h.1M1094 329h.1M1094 373h.1M1095 296h.1M1095 377h.1M1095 393h.1M1095 355h.1M1096 333h.1M1096 326h.1M1096 341h.1M1096 270h.1M1097 359h.1M1097 332h.1M1097 360h.1M1097 344h.1M1098 270h.1M1098 301h.1M1098 251h.1M1098 266h.1M1099 279h.1M1099 300h.1M1099 364h.1M1099 356h.1M1100 366h.1M1100 380h.1M1100 363h.1M1100 288h.1M1101 329h.1M1101 357h.1M1101 365h.1M1101 336h.1M1102 285h.1M1102 337h.1M1102 374h.1M1102 318h.1M1103 410h.1M1103 438h.1M1103 412h.1M1103 392h.1M1104 382h.1M1104 342h.1M1104 292h.1M1104 359h.1M1105 419h.1M1105 339h.1M1105 318h.1M1105 360h.1M1106 393h.1M1106 326h.1M1106 285h.1M1106 377h.1M1107 292h.1M1107 293h.1M1107 327h.1M1107 365h.1M1108 372h.1M1108 310h.1M1108 346h.1M1108 265h.1M1109 324h.1M1109 278h.1M1109 341h.1M1109 306h.1M1110 351h.1M1110 291h.1M1110 378h.1M1110 350h.1M1111 358h.1M1111 362h.1M1111 269h.1M1111 335h.1M1112 361h.1M1112 377h.1M1112 288h.1M1112 304h.1M1113 372h.1M1113 425h.1M1113 452h.1M1113 333h.1M1114 334h.1M1114 434h.1M1114 404h.1M1114 383h.1M1115 364h.1M1115 440h.1M1115 454h.1M1115 444h.1M1116 460h.1M1116 375h.1M1116 424h.1M1116 347h.1M1117 368h.1M1117 423h.1M1117 400h.1M1117 392h.1M1118 294h.1M1118 374h.1M1118 390h.1M1118 378h.1M1119 407h.1M1119 433h.1M1119 385h.1M1119 409h.1M1120 400h.1M1120 384h.1M1120 459h.1M1121 400h.1M1121 437h.1M1121 445h.1M1122 458h.1M1122 517h.1M1122 490h.1M1122 523h.1M1123 435h.1M1123 507h.1M1123 447h.1M1123 456h.1M1124 488h.1M1124 446h.1M1124 505h.1M1124 483h.1M1125 525h.1M1125 488h.1M1125 489h.1M1125 526h.1M1126 513h.1M1126 557h.1M1126 524h.1M1126 567h.1M1127 505h.1M1127 585h.1M1127 550h.1M1127 557h.1M1127 509h.1M1128 530h.1M1128 624h.1M1128 518h.1M1128 600h.1M1129 540h.1M1129 649h.1M1129 589h.1M1129 590h.1M1130 503h.1M1130 528h.1M1130 560h.1M1130 637h.1M1131 561h.1M1131 608h.1M1131 614h.1M1131 603h.1M1132 592h.1M1132 553h.1M1132 571h.1M1133 522h.1M1133 582h.1M1133 623h.1M1134 607h.1M1134 540h.1M1134 588h.1M1134 618h.1M1135 585h.1M1135 591h.1M1135 569h.1M1135 615h.1M1136 491h.1M1136 587h.1M1136 606h.1M1136 556h.1M1137 512h.1M1137 507h.1M1137 554h.1M1137 609h.1M1138 575h.1M1138 600h.1M1138 619h.1M1138 552h.1M1139 548h.1M1139 600h.1M1139 530h.1M1139 563h.1M1140 660h.1M1140 598h.1M1140 523h.1M1140 531h.1M1141 531h.1M1141 528h.1M1141 504h.1M1141 593h.1M1142 527h.1M1142 514h.1M1142 605h.1M1142 631h.1M1143 569h.1M1143 549h.1M1143 534h.1M1143 542h.1M1144 456h.1M1144 584h.1M1144 574h.1M1144 527h.1M1145 583h.1M1145 592h.1M1145 579h.1M1145 512h.1M1146 542h.1M1146 573h.1M1146 523h.1M1146 514h.1M1147 477h.1M1147 530h.1M1147 511h.1M1147 508h.1M1148 492h.1M1148 517h.1M1148 519h.1M1149 482h.1M1149 513h.1M1149 501h.1M1149 550h.1M1150 509h.1M1150 534h.1M1150 467h.1M1150 501h.1M1151 507h.1M1151 486h.1M1151 491h.1M1151 517h.1M1152 561h.1M1152 470h.1M1152 499h.1M1152 496h.1M1153 536h.1M1153 507h.1M1153 538h.1M1153 483h.1M1154 514h.1M1154 511h.1M1154 481h.1M1154 539h.1M1155 576h.1M1155 539h.1M1155 508h.1M1155 511h.1M1156 510h.1M1156 579h.1M1156 543h.1M1156 528h.1M1157 573h.1M1157 575h.1M1157 473h.1M1157 560h.1M1158 517h.1M1158 532h.1M1158 510h.1M1158 519h.1M1159 543h.1M1159 569h.1M1159 522h.1M1159 428h.1M1160 464h.1M1160 504h.1M1160 460h.1M1160 451h.1M1161 516h.1M1161 492h.1M1161 482h.1M1161 504h.1M1162 488h.1M1162 463h.1M1162 495h.1M1162 500h.1M1163 496h.1M1163 455h.1M1163 446h.1M1163 488h.1M1164 441h.1M1164 584h.1M1164 491h.1M1164 481h.1M1165 435h.1M1165 432h.1M1165 544h.1M1165 492h.1M1166 462h.1M1166 513h.1M1166 488h.1M1166 508h.1M1167 498h.1M1167 468h.1M1167 476h.1M1167 515h.1M1168 467h.1M1168 496h.1M1168 377h.1M1168 447h.1M1169 434h.1M1169 420h.1M1169 459h.1M1169 381h.1M1170 414h.1M1170 391h.1M1170 436h.1M1170 400h.1M1171 434h.1M1171 382h.1M1171 404h.1M1171 366h.1M1172 414h.1M1172 391h.1M1172 479h.1M1172 443h.1M1173 392h.1M1173 413h.1M1173 359h.1M1173 304h.1M1174 388h.1M1174 341h.1M1174 415h.1M1174 371h.1M1175 361h.1M1175 380h.1M1175 405h.1M1175 359h.1M1176 338h.1M1176 419h.1M1176 387h.1M1176 346h.1M1177 310h.1M1177 278h.1M1177 326h.1M1177 281h.1M1178 277h.1M1178 346h.1M1178 333h.1M1178 353h.1M1179 297h.1M1179 343h.1M1179 327h.1M1179 385h.1M1180 384h.1M1180 346h.1M1180 380h.1M1180 344h.1M1181 371h.1M1181 361h.1M1181 341h.1M1182 462h.1M1182 415h.1M1182 412h.1M1182 404h.1M1183 405h.1M1183 389h.1M1183 406h.1M1183 486h.1M1184 367h.1M1184 418h.1M1184 403h.1M1184 425h.1M1185 380h.1M1185 371h.1M1185 414h.1M1185 385h.1M1186 350h.1M1186 368h.1M1186 349h.1M1186 390h.1M1187 369h.1M1187 374h.1M1187 364h.1M1187 381h.1M1188 318h.1M1188 378h.1M1188 361h.1M1188 404h.1M1189 384h.1M1189 395h.1M1189 312h.1M1189 426h.1M1190 308h.1M1190 386h.1M1190 327h.1M1190 322h.1M1191 361h.1M1191 318h.1M1191 293h.1M1191 368h.1M1192 257h.1M1192 352h.1M1192 289h.1M1192 312h.1M1193 303h.1M1193 264h.1M1193 242h.1M1193 247h.1M1194 262h.1M1194 235h.1M1194 248h.1M1194 228h.1M1195 297h.1M1195 249h.1M1195 222h.1M1195 260h.1M1196 270h.1M1196 288h.1M1196 260h.1M1196 273h.1M1197 237h.1M1197 314h.1M1197 280h.1M1197 287h.1M1198 339h.1M1198 337h.1M1198 354h.1M1198 401h.1M1199 356h.1M1199 277h.1M1199 349h.1M1199 324h.1M1200 341h.1M1200 379h.1M1200 325h.1M1200 409h.1M1201 334h.1M1201 411h.1M1201 363h.1M1202 382h.1M1202 388h.1M1202 372h.1M1202 350h.1M1203 347h.1M1203 348h.1M1203 339h.1M1203 360h.1M1204 343h.1M1204 363h.1M1204 317h.1M1204 362h.1M1205 321h.1M1205 349h.1M1205 326h.1M1206 310h.1M1206 274h.1M1206 326h.1M1206 348h.1M1207 346h.1M1207 333h.1M1207 311h.1M1207 390h.1M1208 428h.1M1208 397h.1M1208 318h.1M1208 329h.1M1209 297h.1M1209 321h.1M1209 309h.1M1209 317h.1M1210 337h.1M1210 287h.1M1210 342h.1M1210 345h.1M1211 325h.1M1211 405h.1M1211 389h.1M1211 385h.1M1212 376h.1M1212 394h.1M1212 446h.1M1212 370h.1M1213 393h.1M1213 527h.1M1213 431h.1M1213 472h.1M1214 484h.1M1214 476h.1M1214 391h.1M1214 477h.1M1215 452h.1M1215 491h.1M1215 418h.1M1215 508h.1M1216 523h.1M1216 459h.1M1216 454h.1M1216 532h.1M1217 533h.1M1217 595h.1M1217 607h.1M1217 503h.1M1218 534h.1M1218 492h.1M1218 520h.1M1218 547h.1M1219 533h.1M1219 546h.1M1219 544h.1M1219 555h.1M1220 568h.1M1220 507h.1M1220 564h.1M1220 638h.1M1221 552h.1M1221 515h.1M1221 534h.1M1221 541h.1M1222 589h.1M1222 592h.1M1222 596h.1M1222 553h.1M1223 543h.1M1223 488h.1M1223 474h.1M1223 576h.1M1224 538h.1M1224 554h.1M1224 510h.1M1224 522h.1M1225 515h.1M1225 493h.1M1225 533h.1M1225 474h.1M1226 488h.1M1226 506h.1M1226 522h.1M1226 596h.1M1227 660h.1M1227 518h.1M1227 661h.1M1227 615h.1M1228 545h.1M1228 593h.1M1228 576h.1M1228 529h.1M1229 634h.1M1229 528h.1M1229 642h.1M1229 575h.1M1230 497h.1M1230 507h.1M1230 534h.1M1230 600h.1M1231 556h.1M1231 564h.1M1231 554h.1M1231 477h.1M1232 510h.1M1232 503h.1M1232 546h.1M1232 509h.1M1233 577h.1M1233 576h.1M1233 564h.1M1233 608h.1M1234 525h.1M1234 491h.1M1234 497h.1M1234 473h.1M1235 503h.1M1235 440h.1M1235 498h.1M1235 567h.1M1236 504h.1M1236 567h.1M1236 464h.1M1236 456h.1M1237 558h.1M1237 509h.1M1237 522h.1M1237 510h.1M1238 530h.1M1238 474h.1M1238 485h.1M1238 518h.1M1239 567h.1M1239 504h.1M1239 513h.1M1239 408h.1M1240 469h.1M1240 452h.1M1240 497h.1M1240 530h.1M1241 456h.1M1241 523h.1M1241 427h.1M1241 459h.1M1242 435h.1M1242 503h.1M1242 504h.1M1242 434h.1M1243 487h.1M1243 513h.1M1243 522h.1M1243 547h.1M1244 554h.1M1244 537h.1M1244 564h.1M1244 605h.1M1245 587h.1M1245 595h.1M1245 593h.1M1245 518h.1M1246 502h.1M1246 557h.1M1246 509h.1M1246 541h.1M1247 556h.1M1247 515h.1M1247 577h.1M1247 511h.1M1248 541h.1M1248 522h.1M1248 506h.1M1248 453h.1M1249 505h.1M1249 474h.1M1249 511h.1M1249 535h.1M1250 514h.1M1250 479h.1M1250 487h.1M1250 508h.1M1251 455h.1M1251 468h.1M1251 413h.1M1251 505h.1M1252 466h.1M1252 473h.1M1252 475h.1M1252 448h.1M1253 450h.1M1253 472h.1M1253 500h.1M1253 463h.1M1254 464h.1M1254 441h.1M1254 422h.1M1254 451h.1M1255 411h.1M1255 445h.1M1255 481h.1M1255 414h.1M1256 421h.1M1256 460h.1M1256 408h.1M1256 544h.1M1257 447h.1M1257 491h.1M1257 400h.1M1257 419h.1M1258 403h.1M1258 407h.1M1258 429h.1M1259 409h.1M1259 363h.1M1259 381h.1M1259 433h.1M1260 332h.1M1260 436h.1M1260 392h.1M1260 394h.1M1261 429h.1M1261 363h.1M1261 320h.1M1261 323h.1M1262 368h.1M1262 322h.1M1262 343h.1M1262 365h.1M1263 410h.1M1263 326h.1M1263 321h.1M1263 350h.1M1264 376h.1M1264 319h.1M1264 346h.1M1264 381h.1M1265 374h.1M1265 385h.1M1265 339h.1M1265 369h.1M1266 433h.1M1266 346h.1M1266 374h.1M1266 349h.1M1267 386h.1M1267 378h.1M1267 332h.1M1267 396h.1M1268 428h.1M1268 433h.1M1268 373h.1M1268 449h.1M1269 403h.1M1269 423h.1M1269 391h.1M1269 394h.1M1270 372h.1M1270 413h.1M1270 328h.1M1270 254h.1M1271 371h.1M1271 353h.1M1271 401h.1M1271 315h.1M1272 378h.1M1272 317h.1M1272 298h.1M1272 307h.1M1273 280h.1M1273 381h.1M1273 394h.1M1273 291h.1M1274 320h.1M1274 304h.1M1274 337h.1M1274 335h.1M1275 316h.1M1275 354h.1M1275 257h.1M1275 245h.1M1276 279h.1M1276 267h.1M1276 322h.1M1276 379h.1M1277 367h.1M1277 289h.1M1277 303h.1M1277 330h.1M1278 321h.1M1278 290h.1M1278 336h.1M1278 368h.1M1279 359h.1M1279 316h.1M1279 315h.1M1279 260h.1M1280 280h.1M1280 265h.1M1280 298h.1M1280 281h.1M1281 283h.1M1281 271h.1M1281 268h.1M1281 220h.1M1282 275h.1M1282 291h.1M1282 260h.1M1282 317h.1M1283 268h.1M1283 290h.1M1283 242h.1M1283 273h.1M1284 233h.1M1284 262h.1M1284 300h.1M1284 273h.1M1285 302h.1M1285 286h.1M1285 283h.1M1285 291h.1M1286 313h.1M1286 315h.1M1286 262h.1M1286 310h.1M1287 240h.1M1287 251h.1M1287 274h.1M1287 278h.1M1288 270h.1M1288 286h.1M1288 317h.1M1288 307h.1M1289 287h.1M1289 273h.1M1289 269h.1M1289 261h.1M1290 335h.1M1290 310h.1M1290 312h.1M1290 258h.1M1291 274h.1M1291 270h.1M1291 202h.1M1291 185h.1M1292 238h.1M1292 265h.1M1292 276h.1M1292 261h.1M1293 328h.1M1293 267h.1M1293 306h.1M1293 256h.1M1294 327h.1M1294 310h.1M1294 337h.1M1294 295h.1M1295 382h.1M1295 315h.1M1295 347h.1M1295 342h.1M1296 335h.1M1296 360h.1M1296 337h.1M1296 366h.1M1297 354h.1M1297 345h.1M1297 376h.1M1297 375h.1M1298 367h.1M1298 414h.1M1298 353h.1M1298 370h.1M1299 374h.1M1299 362h.1M1299 353h.1M1299 392h.1M1300 378h.1M1300 384h.1M1300 343h.1M1300 394h.1M1301 436h.1M1301 423h.1M1301 358h.1M1301 379h.1M1302 392h.1M1302 387h.1M1302 444h.1M1302 430h.1M1303 351h.1M1303 430h.1M1303 407h.1M1303 397h.1M1304 466h.1M1304 432h.1M1304 525h.1M1304 493h.1M1305 505h.1M1305 508h.1M1305 512h.1M1306 577h.1M1306 458h.1M1306 546h.1M1306 465h.1M1307 522h.1M1307 523h.1M1307 496h.1M1307 542h.1M1308 505h.1M1308 584h.1M1308 493h.1M1308 556h.1M1309 514h.1M1309 495h.1M1309 525h.1M1309 586h.1M1310 531h.1M1310 599h.1M1310 569h.1M1310 568h.1M1311 525h.1M1311 512h.1M1311 557h.1M1311 588h.1M1312 592h.1M1312 566h.1M1312 582h.1M1312 572h.1M1313 566h.1M1313 600h.1M1313 598h.1M1313 639h.1M1314 559h.1M1314 479h.1M1314 570h.1M1314 537h.1M1315 565h.1M1315 602h.1M1315 543h.1M1315 570h.1M1316 532h.1M1316 485h.1M1316 585h.1M1316 426h.1M1317 481h.1M1317 487h.1M1317 458h.1M1318 460h.1M1318 514h.1M1318 562h.1M1318 538h.1M1319 505h.1M1319 506h.1M1319 526h.1M1319 471h.1M1320 475h.1M1320 471h.1M1320 485h.1M1321 453h.1M1321 541h.1M1321 495h.1M1322 591h.1M1322 560h.1M1322 540h.1M1322 511h.1M1323 556h.1M1323 579h.1M1323 605h.1M1323 591h.1M1324 539h.1M1324 590h.1M1324 618h.1M1324 587h.1M1325 602h.1M1325 657h.1M1325 630h.1M1326 622h.1M1326 637h.1M1326 590h.1M1326 633h.1M1327 603h.1M1327 607h.1M1327 520h.1M1327 575h.1M1328 574h.1M1328 569h.1M1328 534h.1M1328 590h.1M1329 610h.1M1329 596h.1M1329 556h.1M1329 484h.1M1330 499h.1M1330 526h.1M1330 516h.1M1330 476h.1M1331 543h.1M1331 477h.1M1331 519h.1M1331 487h.1M1332 516h.1M1332 532h.1M1332 482h.1M1332 429h.1M1333 485h.1M1333 503h.1M1333 520h.1M1334 467h.1M1334 566h.1M1334 508h.1M1334 552h.1M1335 498h.1M1335 478h.1M1335 509h.1M1335 561h.1M1336 508h.1M1336 471h.1M1336 514h.1M1336 496h.1M1337 493h.1M1337 464h.1M1337 490h.1M1337 498h.1M1338 546h.1M1338 460h.1M1338 479h.1M1338 539h.1M1339 583h.1M1339 513h.1M1339 525h.1M1339 489h.1M1340 544h.1M1340 498h.1M1340 510h.1M1340 527h.1M1341 546h.1M1341 506h.1M1341 548h.1M1341 543h.1M1342 532h.1M1342 526h.1M1342 512h.1M1342 595h.1M1343 561h.1M1343 562h.1M1343 435h.1M1343 479h.1M1344 511h.1M1344 487h.1M1344 580h.1M1344 508h.1M1345 520h.1M1345 570h.1M1345 507h.1M1345 521h.1M1346 502h.1M1346 445h.1M1346 430h.1M1346 464h.1M1347 467h.1M1347 502h.1M1347 441h.1M1347 446h.1M1348 480h.1M1348 490h.1M1348 434h.1M1348 476h.1M1349 473h.1M1349 456h.1M1349 479h.1M1349 414h.1M1350 466h.1M1350 536h.1M1350 411h.1M1350 428h.1M1350 470h.1M1351 394h.1M1351 382h.1M1351 388h.1M1351 326h.1M1352 431h.1M1352 381h.1M1352 384h.1M1352 416h.1M1353 349h.1M1353 340h.1M1353 329h.1M1353 365h.1M1354 438h.1M1354 368h.1M1354 386h.1M1354 426h.1M1355 384h.1M1355 331h.1M1355 339h.1M1355 386h.1M1356 370h.1M1356 334h.1M1356 335h.1M1356 320h.1M1357 388h.1M1357 348h.1M1357 328h.1M1357 361h.1M1358 275h.1M1358 287h.1M1358 261h.1M1358 286h.1M1359 334h.1M1359 277h.1M1359 322h.1M1360 267h.1M1360 289h.1M1360 315h.1M1360 310h.1M1361 299h.1M1361 332h.1M1361 342h.1M1361 284h.1M1362 310h.1M1362 297h.1M1362 320h.1M1362 307h.1M1363 299h.1M1363 305h.1M1363 306h.1M1363 350h.1M1364 295h.1M1364 291h.1M1364 258h.1M1364 262h.1M1365 325h.1M1365 288h.1M1365 280h.1M1365 393h.1M1366 335h.1M1366 339h.1M1366 371h.1M1366 297h.1M1367 359h.1M1367 311h.1M1367 385h.1M1367 331h.1M1368 352h.1M1368 283h.1M1368 324h.1M1368 363h.1M1369 263h.1M1369 369h.1M1369 287h.1M1369 325h.1M1370 311h.1M1370 267h.1M1370 343h.1M1370 242h.1M1371 250h.1M1371 215h.1M1371 258h.1M1371 231h.1M1372 256h.1M1372 302h.1M1372 261h.1M1372 285h.1M1373 309h.1M1373 340h.1M1373 359h.1M1373 357h.1M1374 364h.1M1374 359h.1M1374 388h.1M1374 374h.1M1375 363h.1M1375 273h.1M1375 322h.1M1375 293h.1M1376 336h.1M1376 254h.1M1376 290h.1M1376 255h.1M1377 305h.1M1377 289h.1M1377 322h.1M1377 261h.1M1378 244h.1M1378 302h.1M1378 278h.1M1378 292h.1M1379 242h.1M1379 289h.1M1379 280h.1M1379 312h.1M1380 289h.1M1380 275h.1M1380 231h.1M1380 257h.1M1381 302h.1M1381 282h.1M1381 274h.1M1381 322h.1M1382 327h.1M1382 312h.1M1382 365h.1M1382 363h.1M1383 310h.1M1383 361h.1M1383 346h.1M1383 281h.1M1384 342h.1M1384 326h.1M1384 402h.1M1384 328h.1M1385 370h.1M1385 389h.1M1385 338h.1M1385 381h.1M1386 304h.1M1386 354h.1M1386 402h.1M1386 400h.1M1387 412h.1M1387 367h.1M1387 376h.1M1387 390h.1M1388 380h.1M1388 345h.1M1388 398h.1M1388 368h.1M1389 425h.1M1389 348h.1M1389 340h.1M1389 392h.1M1390 411h.1M1390 308h.1M1390 339h.1M1390 409h.1M1391 349h.1M1391 341h.1M1391 305h.1M1391 309h.1M1392 319h.1M1392 314h.1M1392 336h.1M1392 316h.1M1393 326h.1M1393 282h.1M1393 255h.1M1393 329h.1M1394 360h.1M1394 420h.1M1394 349h.1M1394 348h.1M1395 366h.1M1395 482h.1M1395 416h.1M1395 500h.1M1396 527h.1M1396 480h.1M1396 473h.1M1396 509h.1M1397 491h.1M1397 505h.1M1397 462h.1M1397 546h.1M1398 535h.1M1398 551h.1M1398 533h.1M1398 579h.1M1399 489h.1M1399 552h.1M1399 533h.1M1399 529h.1M1400 492h.1M1400 558h.1M1400 534h.1M1400 501h.1M1401 499h.1M1401 507h.1M1401 562h.1M1401 525h.1M1402 592h.1M1402 526h.1M1402 537h.1M1402 565h.1M1403 522h.1M1403 529h.1M1403 632h.1M1403 563h.1M1404 603h.1M1404 586h.1M1404 608h.1M1404 597h.1M1405 546h.1M1405 574h.1M1405 650h.1M1405 535h.1M1406 528h.1M1406 640h.1M1406 629h.1M1406 587h.1M1407 554h.1M1407 562h.1M1407 549h.1M1407 543h.1M1408 570h.1M1408 518h.1M1408 524h.1M1408 447h.1M1409 563h.1M1409 519h.1M1409 446h.1M1409 490h.1M1410 559h.1M1410 503h.1M1410 506h.1M1410 533h.1M1411 541h.1M1411 483h.1M1411 568h.1M1411 518h.1M1412 553h.1M1412 634h.1M1412 567h.1M1412 611h.1M1413 558h.1M1413 548h.1M1413 513h.1M1413 601h.1M1414 517h.1M1414 645h.1M1414 627h.1M1414 507h.1M1415 579h.1M1415 530h.1M1415 558h.1M1415 604h.1M1416 510h.1M1416 538h.1M1416 495h.1M1416 541h.1M1417 507h.1M1417 451h.1M1417 506h.1M1417 521h.1M1418 576h.1M1418 508h.1M1418 580h.1M1418 567h.1M1419 553h.1M1419 530h.1M1419 577h.1M1419 491h.1M1420 555h.1M1420 476h.1M1420 529h.1M1420 550h.1M1421 564h.1M1421 559h.1M1421 521h.1M1421 578h.1M1422 514h.1M1422 496h.1M1422 633h.1M1422 629h.1M1423 503h.1M1423 526h.1M1423 561h.1M1423 550h.1M1424 551h.1M1424 541h.1M1424 468h.1M1424 516h.1M1425 532h.1M1425 549h.1M1425 512h.1M1425 511h.1M1426 478h.1M1426 598h.1M1426 520h.1M1426 578h.1M1427 469h.1M1427 582h.1M1427 523h.1M1427 518h.1M1428 551h.1M1428 572h.1M1428 506h.1M1429 502h.1M1429 508h.1M1429 452h.1M1429 522h.1M1430 538h.1M1430 573h.1M1430 544h.1M1430 512h.1M1431 567h.1M1431 554h.1M1431 509h.1M1431 549h.1M1432 601h.1M1432 510h.1M1432 497h.1M1432 532h.1M1433 508h.1M1433 566h.1M1433 510h.1M1433 560h.1M1434 550h.1M1434 563h.1M1434 474h.1M1434 524h.1M1435 447h.1M1435 523h.1M1435 476h.1M1435 462h.1M1436 523h.1M1436 487h.1M1436 479h.1M1436 413h.1M1437 447h.1M1437 478h.1M1437 438h.1M1437 517h.1M1438 447h.1M1438 461h.1M1438 430h.1M1438 462h.1M1439 523h.1M1439 440h.1M1439 397h.1M1439 506h.1M1440 480h.1M1440 484h.1M1440 450h.1M1440 515h.1M1441 407h.1M1441 368h.1M1441 475h.1M1441 444h.1M1442 492h.1M1442 457h.1M1442 414h.1M1442 420h.1M1443 380h.1M1443 419h.1M1443 420h.1M1443 344h.1M1444 402h.1M1444 435h.1M1444 446h.1M1444 398h.1M1445 384h.1M1445 401h.1M1445 420h.1M1445 425h.1M1446 411h.1M1446 450h.1M1446 455h.1M1446 475h.1M1447 461h.1M1447 410h.1M1447 483h.1M1448 459h.1M1448 486h.1M1448 416h.1M1448 390h.1M1449 454h.1M1449 443h.1M1449 435h.1M1449 416h.1M1450 424h.1M1450 414h.1M1450 395h.1M1450 432h.1M1451 398h.1M1451 356h.1M1451 407h.1M1451 414h.1M1452 337h.1M1452 382h.1M1452 365h.1M1452 421h.1M1453 387h.1M1453 362h.1M1453 353h.1M1453 321h.1M1454 344h.1M1454 371h.1M1454 383h.1M1454 365h.1M1455 342h.1M1455 306h.1M1455 354h.1M1456 283h.1M1456 293h.1M1456 322h.1M1456 315h.1M1457 289h.1M1457 287h.1M1457 338h.1M1457 354h.1M1458 275h.1M1458 303h.1M1458 313h.1M1458 347h.1M1459 306h.1M1459 362h.1M1459 289h.1M1459 354h.1M1460 291h.1M1460 327h.1M1460 338h.1M1460 318h.1M1461 383h.1M1461 361h.1M1461 291h.1M1461 389h.1M1462 334h.1M1462 329h.1M1462 286h.1M1462 311h.1M1463 271h.1M1463 306h.1M1463 318h.1M1463 317h.1M1464 255h.1M1464 358h.1M1464 336h.1M1464 325h.1M1465 419h.1M1465 344h.1M1465 388h.1M1465 360h.1M1466 408h.1M1466 358h.1M1466 330h.1M1466 347h.1M1467 359h.1M1467 331h.1M1467 323h.1M1467 401h.1M1468 360h.1M1468 320h.1M1468 367h.1M1468 411h.1M1469 379h.1M1469 423h.1M1469 347h.1M1469 403h.1M1470 377h.1M1470 345h.1M1470 413h.1M1470 384h.1M1471 340h.1M1471 429h.1M1471 398h.1M1471 399h.1M1472 434h.1M1472 367h.1M1472 352h.1M1472 378h.1M1473 418h.1M1473 362h.1M1473 382h.1M1473 412h.1M1474 381h.1M1474 420h.1M1474 408h.1M1474 395h.1M1475 404h.1M1475 379h.1M1475 439h.1M1475 456h.1M1476 489h.1M1476 439h.1M1476 413h.1M1476 524h.1M1477 485h.1M1477 420h.1M1477 454h.1M1477 509h.1M1478 451h.1M1478 369h.1M1478 429h.1M1478 503h.1M1479 443h.1M1479 507h.1M1479 465h.1M1480 406h.1M1480 446h.1M1480 440h.1M1480 422h.1M1481 360h.1M1481 472h.1M1481 441h.1M1481 510h.1M1482 509h.1M1482 479h.1M1482 501h.1M1482 470h.1M1483 469h.1M1483 455h.1M1483 467h.1M1483 425h.1M1484 459h.1M1484 431h.1M1484 515h.1M1484 469h.1M1485 482h.1M1485 472h.1M1485 487h.1M1485 442h.1M1486 494h.1M1486 491h.1M1486 478h.1M1486 498h.1M1487 466h.1M1487 539h.1M1487 543h.1M1487 463h.1M1488 458h.1M1488 456h.1M1488 433h.1M1488 489h.1M1489 486h.1M1489 545h.1M1489 438h.1M1489 618h.1M1490 524h.1M1490 598h.1M1490 487h.1M1490 475h.1M1491 488h.1M1491 480h.1M1492 502h.1M1492 482h.1M1492 492h.1M1492 454h.1M1493 489h.1M1493 486h.1M1493 525h.1M1493 577h.1M1494 586h.1M1494 499h.1M1494 592h.1M1494 546h.1M1495 531h.1M1495 571h.1M1495 467h.1M1495 503h.1M1496 525h.1M1496 547h.1M1496 483h.1M1496 584h.1M1497 518h.1M1497 558h.1M1497 484h.1M1497 533h.1M1498 576h.1M1498 520h.1M1498 590h.1M1498 522h.1M1499 523h.1M1499 531h.1M1499 512h.1M1499 570h.1M1500 540h.1M1500 551h.1M1500 512h.1M1500 581h.1M1501 509h.1M1501 614h.1M1501 586h.1M1501 530h.1M1502 531h.1M1502 522h.1M1502 615h.1M1502 566h.1M1503 532h.1M1503 557h.1M1503 548h.1M1503 525h.1M1504 535h.1M1504 580h.1M1504 622h.1M1504 570h.1M1505 605h.1M1505 599h.1M1505 482h.1M1505 475h.1M1506 498h.1M1506 434h.1M1506 435h.1M1506 492h.1M1507 575h.1M1507 546h.1M1507 491h.1M1508 485h.1M1508 490h.1M1508 529h.1M1508 517h.1M1509 494h.1M1509 556h.1M1509 484h.1M1509 481h.1M1510 490h.1M1510 481h.1M1510 505h.1M1510 510h.1M1511 479h.1M1511 362h.1M1511 426h.1M1511 433h.1M1512 453h.1M1512 442h.1M1512 410h.1M1512 476h.1M1513 489h.1M1513 453h.1M1513 444h.1M1514 532h.1M1514 481h.1M1514 413h.1M1514 505h.1M1515 464h.1M1515 417h.1M1515 430h.1M1515 415h.1M1516 462h.1M1516 504h.1M1516 431h.1M1516 416h.1M1517 440h.1M1517 429h.1M1517 474h.1M1517 477h.1M1518 482h.1M1518 456h.1M1518 388h.1M1518 455h.1M1519 463h.1M1519 451h.1M1519 441h.1M1519 458h.1M1520 477h.1M1520 506h.1M1520 498h.1M1520 453h.1M1521 456h.1M1521 547h.1M1521 467h.1M1521 541h.1M1522 449h.1M1522 515h.1M1522 498h.1M1522 532h.1M1523 517h.1M1523 441h.1M1523 580h.1M1523 495h.1M1524 432h.1M1524 494h.1M1524 503h.1M1524 538h.1M1525 444h.1M1525 569h.1M1525 607h.1M1525 528h.1M1526 512h.1M1526 541h.1M1526 559h.1M1526 487h.1M1527 482h.1M1527 495h.1M1527 518h.1M1527 498h.1M1528 435h.1M1528 430h.1M1528 475h.1M1528 479h.1M1529 462h.1M1529 437h.1M1529 571h.1M1529 434h.1M1530 477h.1M1530 497h.1M1530 448h.1M1530 422h.1M1531 443h.1M1531 433h.1M1531 415h.1M1531 429h.1M1532 365h.1M1532 344h.1M1532 352h.1M1532 321h.1M1533 295h.1M1533 307h.1M1533 293h.1M1534 293h.1M1534 274h.1M1534 330h.1M1534 339h.1M1535 367h.1M1535 291h.1M1535 324h.1M1535 312h.1M1536 259h.1M1536 265h.1M1536 309h.1M1536 289h.1M1537 270h.1M1537 229h.1M1537 257h.1M1537 271h.1M1538 364h.1M1538 278h.1M1538 303h.1M1538 337h.1M1539 364h.1M1539 296h.1M1539 363h.1M1539 233h.1M1540 377h.1M1540 348h.1M1540 374h.1M1540 331h.1M1541 274h.1M1541 369h.1M1541 413h.1M1541 317h.1M1542 313h.1M1542 384h.1M1542 291h.1M1543 356h.1M1543 337h.1M1543 276h.1M1543 394h.1M1544 327h.1M1544 342h.1M1544 388h.1M1544 263h.1M1545 385h.1M1545 362h.1M1545 367h.1M1545 318h.1M1546 338h.1M1546 327h.1M1546 254h.1M1546 278h.1M1547 267h.1M1547 274h.1M1547 240h.1M1547 290h.1M1548 302h.1M1548 271h.1M1548 280h.1M1548 241h.1M1549 256h.1M1549 288h.1M1549 274h.1M1549 236h.1M1550 226h.1M1550 257h.1M1550 241h.1M1550 256h.1M1551 257h.1M1551 282h.1M1551 273h.1M1551 205h.1M1552 290h.1M1552 266h.1M1552 256h.1M1552 292h.1M1553 247h.1M1553 295h.1M1553 220h.1M1553 237h.1M1554 226h.1M1554 255h.1M1554 206h.1M1555 190h.1M1555 234h.1M1555 191h.1M1555 212h.1M1556 304h.1M1556 221h.1M1556 216h.1M1556 198h.1M1557 206h.1M1557 230h.1M1557 185h.1M1557 181h.1M1558 236h.1M1558 196h.1M1558 285h.1M1558 282h.1M1559 302h.1M1559 212h.1M1559 230h.1M1559 260h.1M1560 243h.1M1560 225h.1M1560 211h.1M1560 272h.1M1561 217h.1M1561 282h.1M1561 215h.1M1561 231h.1M1562 256h.1M1562 241h.1M1562 212h.1M1563 261h.1M1563 270h.1M1563 243h.1M1563 188h.1M1564 264h.1M1564 251h.1M1564 283h.1M1564 238h.1M1565 312h.1M1565 296h.1M1565 303h.1M1565 278h.1M1566 272h.1M1566 328h.1M1566 311h.1M1566 274h.1M1567 262h.1M1567 278h.1M1567 255h.1M1567 235h.1M1568 295h.1M1568 331h.1M1568 314h.1M1568 303h.1M1569 275h.1M1569 344h.1M1569 313h.1M1569 314h.1M1570 318h.1M1570 283h.1M1570 287h.1M1570 426h.1M1571 355h.1M1571 287h.1M1571 269h.1M1571 307h.1M1572 318h.1M1572 334h.1M1572 353h.1M1572 321h.1M1572 407h.1M1573 400h.1M1573 317h.1M1573 377h.1M1573 420h.1M1574 433h.1M1574 304h.1M1574 325h.1M1574 393h.1M1575 366h.1M1575 321h.1M1575 283h.1M1575 284h.1M1576 344h.1M1576 278h.1M1576 310h.1M1576 336h.1M1577 400h.1M1577 354h.1M1577 323h.1M1577 365h.1M1578 327h.1M1578 334h.1M1578 369h.1M1578 328h.1M1579 318h.1M1579 358h.1M1579 390h.1M1579 359h.1M1580 373h.1M1580 364h.1M1580 329h.1M1580 392h.1M1581 310h.1M1581 420h.1M1581 301h.1M1581 342h.1M1582 394h.1M1582 430h.1M1582 395h.1M1582 489h.1M1583 467h.1M1583 389h.1M1583 460h.1M1583 451h.1M1584 553h.1M1584 457h.1M1584 497h.1M1584 452h.1M1585 450h.1M1585 458h.1M1585 372h.1M1585 452h.1M1586 444h.1M1586 417h.1M1586 415h.1M1586 428h.1M1587 509h.1M1587 418h.1M1587 450h.1M1587 430h.1M1588 449h.1M1588 454h.1M1588 469h.1M1588 473h.1M1589 524h.1M1589 515h.1M1589 494h.1M1589 475h.1M1590 463h.1M1590 474h.1M1590 505h.1M1590 554h.1M1591 604h.1M1591 565h.1M1591 563h.1M1591 570h.1M1592 546h.1M1592 523h.1M1592 558h.1M1592 497h.1M1593 462h.1M1593 541h.1M1593 485h.1M1593 504h.1M1594 576h.1M1594 466h.1M1594 535h.1M1594 512h.1M1595 509h.1M1595 501h.1M1595 493h.1M1595 500h.1M1596 514h.1M1596 531h.1M1596 483h.1M1596 527h.1M1597 571h.1M1597 524h.1M1597 492h.1M1597 467h.1M1598 498h.1M1598 473h.1M1598 506h.1M1598 459h.1M1599 440h.1M1599 414h.1M1599 497h.1M1599 456h.1M1600 479h.1M1600 570h.1M1600 458h.1M1600 463h.1M1601 473h.1M1601 492h.1M1601 466h.1M1602 463h.1M1602 485h.1M1602 522h.1M1602 569h.1M1603 550h.1M1603 460h.1M1603 437h.1M1603 469h.1M1604 509h.1M1604 542h.1M1604 513h.1M1604 552h.1M1605 516h.1M1605 524h.1M1605 576h.1M1605 499h.1M1606 500h.1M1606 515h.1M1606 527h.1M1606 564h.1M1607 486h.1M1607 512h.1M1607 508h.1M1607 533h.1M1608 547h.1M1608 502h.1M1608 530h.1M1608 526h.1M1609 491h.1M1609 517h.1M1609 439h.1M1609 533h.1M1610 528h.1M1610 489h.1M1610 447h.1M1610 519h.1M1611 481h.1M1611 508h.1M1611 521h.1M1611 512h.1M1612 461h.1M1612 504h.1M1612 509h.1M1612 502h.1M1613 449h.1M1613 418h.1M1613 459h.1M1613 481h.1M1614 469h.1M1614 486h.1M1614 464h.1M1614 415h.1M1615 425h.1M1615 471h.1M1615 420h.1M1615 419h.1M1616 412h.1M1616 374h.1M1616 381h.1M1616 404h.1M1617 383h.1M1617 389h.1M1617 361h.1M1618 432h.1M1618 408h.1M1618 385h.1M1619 429h.1M1619 376h.1M1619 315h.1M1619 371h.1M1620 438h.1M1620 408h.1M1620 353h.1M1621 351h.1M1621 419h.1M1621 400h.1M1621 425h.1M1622 405h.1M1622 386h.1M1622 411h.1M1622 413h.1M1623 358h.1M1623 361h.1M1623 436h.1M1623 384h.1M1624 394h.1M1624 385h.1M1624 309h.1M1624 335h.1M1625 387h.1M1625 335h.1M1625 331h.1M1625 356h.1M1626 303h.1M1626 340h.1M1626 328h.1M1626 345h.1M1627 359h.1M1627 294h.1M1627 375h.1M1627 250h.1M1628 317h.1M1628 361h.1M1628 316h.1M1628 314h.1M1629 399h.1M1629 271h.1M1629 247h.1M1629 337h.1M1630 293h.1M1630 251h.1M1630 337h.1M1630 308h.1M1631 280h.1M1631 352h.1M1631 290h.1M1631 261h.1M1632 280h.1M1632 269h.1M1632 246h.1M1633 291h.1M1633 362h.1M1633 305h.1M1633 307h.1M1634 318h.1M1634 307h.1M1634 346h.1M1634 312h.1M1635 357h.1M1635 213h.1M1635 293h.1M1635 295h.1M1636 247h.1M1636 277h.1M1636 261h.1M1636 198h.1M1637 269h.1M1637 239h.1M1637 229h.1M1637 228h.1M1638 300h.1M1638 297h.1M1638 338h.1M1638 265h.1M1639 317h.1M1639 311h.1M1639 288h.1M1639 268h.1M1640 334h.1M1640 388h.1M1640 341h.1M1640 268h.1M1641 265h.1M1641 278h.1M1641 267h.1M1641 277h.1M1642 267h.1M1642 277h.1M1642 305h.1M1642 245h.1M1643 218h.1M1643 226h.1M1643 274h.1M1643 211h.1M1644 196h.1M1644 247h.1M1644 248h.1M1644 241h.1M1645 231h.1M1645 218h.1M1645 180h.1M1646 252h.1M1646 212h.1M1646 221h.1M1646 247h.1M1647 287h.1M1647 199h.1M1647 217h.1M1647 206h.1M1648 237h.1M1648 185h.1M1648 275h.1M1648 189h.1M1649 196h.1M1649 186h.1M1649 209h.1M1649 198h.1M1650 250h.1M1650 221h.1M1650 280h.1M1650 247h.1M1651 192h.1M1651 199h.1M1651 252h.1M1651 223h.1M1652 227h.1M1652 236h.1M1652 203h.1M1652 238h.1M1653 226h.1M1653 241h.1M1653 190h.1M1653 234h.1M1654 250h.1M1654 258h.1M1654 256h.1M1654 227h.1M1655 215h.1M1655 241h.1M1655 233h.1M1655 310h.1M1656 279h.1M1656 276h.1M1656 284h.1M1656 244h.1M1657 298h.1M1657 219h.1M1657 230h.1M1657 257h.1M1658 251h.1M1658 242h.1M1658 323h.1M1658 309h.1M1659 270h.1M1659 319h.1M1659 258h.1M1659 297h.1M1660 314h.1M1660 304h.1M1660 265h.1M1660 302h.1M1661 286h.1M1661 408h.1M1661 355h.1M1661 394h.1M1662 313h.1M1662 321h.1M1662 269h.1M1662 322h.1M1663 263h.1M1663 280h.1M1663 321h.1M1663 268h.1M1664 269h.1M1664 331h.1M1664 308h.1M1664 311h.1M1665 302h.1M1665 326h.1M1665 320h.1M1665 359h.1M1666 333h.1M1666 344h.1M1666 351h.1M1666 408h.1M1667 352h.1M1667 371h.1M1667 346h.1M1667 357h.1M1668 399h.1M1668 435h.1M1668 486h.1M1669 454h.1M1669 458h.1M1669 478h.1M1669 451h.1M1670 525h.1M1670 476h.1M1670 480h.1M1670 394h.1M1671 424h.1M1671 419h.1M1671 389h.1M1671 355h.1M1672 445h.1M1672 418h.1M1672 491h.1M1672 483h.1M1673 454h.1M1673 474h.1M1673 416h.1M1673 431h.1M1674 463h.1M1674 436h.1M1674 429h.1M1674 389h.1M1675 390h.1M1675 350h.1M1675 472h.1M1675 412h.1M1676 355h.1M1676 401h.1M1676 397h.1M1676 402h.1M1677 434h.1M1677 361h.1M1677 470h.1M1677 360h.1M1678 416h.1M1678 363h.1M1678 426h.1M1678 395h.1M1679 415h.1M1679 369h.1M1679 359h.1M1679 355h.1M1680 374h.1M1680 400h.1M1680 369h.1M1680 388h.1M1681 321h.1M1681 413h.1M1681 367h.1M1681 378h.1M1682 386h.1M1682 417h.1M1682 420h.1M1683 425h.1M1683 457h.1M1683 456h.1M1683 451h.1M1684 433h.1M1684 458h.1M1684 488h.1M1684 443h.1M1685 459h.1M1685 466h.1M1685 432h.1M1686 481h.1M1686 451h.1M1686 506h.1M1686 463h.1M1687 433h.1M1687 456h.1M1687 451h.1M1687 435h.1M1688 392h.1M1688 349h.1M1688 448h.1M1688 457h.1M1689 378h.1M1689 445h.1M1689 437h.1M1689 399h.1M1690 425h.1M1690 446h.1M1690 405h.1M1690 468h.1M1691 388h.1M1691 447h.1M1691 417h.1M1691 441h.1M1692 390h.1M1692 470h.1M1692 434h.1M1692 401h.1M1693 379h.1M1693 413h.1M1693 412h.1M1693 404h.1M1694 445h.1M1694 412h.1M1694 495h.1M1694 453h.1M1695 404h.1M1695 422h.1M1695 443h.1M1695 435h.1M1696 389h.1M1696 481h.1M1696 478h.1M1696 414h.1M1697 456h.1M1697 511h.1M1697 522h.1M1697 497h.1M1698 583h.1M1698 474h.1M1698 528h.1M1698 497h.1M1699 448h.1M1699 477h.1M1699 433h.1M1699 488h.1M1700 491h.1M1700 432h.1M1700 498h.1M1700 489h.1M1701 444h.1M1701 521h.1M1701 492h.1M1701 479h.1M1702 501h.1M1702 449h.1M1702 462h.1M1702 457h.1M1703 514h.1M1703 519h.1M1703 405h.1M1703 482h.1M1704 419h.1M1704 512h.1M1704 466h.1M1704 431h.1M1705 388h.1M1705 406h.1M1705 481h.1M1705 422h.1M1706 446h.1M1706 452h.1M1706 412h.1M1706 480h.1M1707 495h.1M1707 562h.1M1707 444h.1M1707 499h.1M1708 434h.1M1708 528h.1M1708 480h.1M1708 408h.1M1709 469h.1M1709 491h.1M1709 439h.1M1709 525h.1M1710 443h.1M1710 455h.1M1710 421h.1M1710 465h.1M1711 466h.1M1711 505h.1M1711 374h.1M1711 417h.1M1712 447h.1M1712 401h.1M1712 439h.1M1712 433h.1M1713 385h.1M1713 383h.1M1713 388h.1M1713 333h.1M1714 396h.1M1714 359h.1M1714 399h.1M1714 347h.1M1715 401h.1M1715 351h.1M1715 379h.1M1715 314h.1M1716 372h.1M1716 397h.1M1716 330h.1M1716 329h.1M1717 394h.1M1717 403h.1M1717 377h.1M1717 381h.1M1718 425h.1M1718 403h.1M1718 264h.1M1718 359h.1M1719 334h.1M1719 344h.1M1719 385h.1M1719 311h.1M1720 313h.1M1720 304h.1M1720 240h.1M1720 263h.1M1721 269h.1M1721 334h.1M1721 250h.1M1721 257h.1M1722 287h.1M1722 276h.1M1722 245h.1M1722 289h.1M1723 261h.1M1723 338h.1M1723 289h.1M1723 290h.1M1724 271h.1M1724 201h.1M1724 184h.1M1724 333h.1M1725 230h.1M1725 252h.1M1725 250h.1M1725 260h.1M1726 308h.1M1726 300h.1M1726 281h.1M1726 345h.1M1727 299h.1M1727 280h.1M1727 246h.1M1727 283h.1M1728 334h.1M1728 310h.1M1728 325h.1M1728 320h.1M1729 294h.1M1729 289h.1M1729 245h.1M1729 227h.1M1730 263h.1M1730 254h.1M1730 297h.1M1730 276h.1M1731 284h.1M1731 294h.1M1731 307h.1M1732 266h.1M1732 284h.1M1732 195h.1M1732 262h.1M1733 221h.1M1733 255h.1M1733 205h.1M1733 254h.1M1734 246h.1M1734 255h.1M1734 262h.1M1734 228h.1M1735 295h.1M1735 281h.1M1735 243h.1M1735 207h.1M1736 180h.1M1736 182h.1M1736 203h.1M1736 218h.1M1737 225h.1M1737 211h.1M1737 245h.1M1737 227h.1M1738 232h.1M1738 260h.1M1738 284h.1M1738 231h.1M1739 250h.1M1739 226h.1M1739 245h.1M1739 232h.1M1740 247h.1M1740 232h.1M1740 292h.1M1740 230h.1M1741 265h.1M1741 296h.1M1741 258h.1M1741 219h.1M1742 332h.1M1742 316h.1M1742 284h.1M1742 269h.1M1743 276h.1M1743 269h.1M1743 308h.1M1743 246h.1M1744 280h.1M1744 207h.1M1744 296h.1M1744 265h.1M1745 269h.1M1745 283h.1M1745 235h.1M1745 313h.1M1746 291h.1M1746 207h.1M1746 274h.1M1746 262h.1M1747 216h.1M1747 281h.1M1747 307h.1M1747 263h.1M1748 255h.1M1748 192h.1M1748 231h.1M1748 259h.1M1749 219h.1M1749 245h.1M1749 316h.1M1749 268h.1M1750 299h.1M1750 259h.1M1750 231h.1M1750 244h.1M1751 271h.1M1751 281h.1M1751 252h.1M1751 326h.1M1752 235h.1M1752 319h.1M1752 311h.1M1752 393h.1M1753 319h.1M1753 392h.1M1753 359h.1M1753 368h.1M1754 316h.1M1754 377h.1M1754 370h.1M1754 342h.1M1755 341h.1M1755 356h.1M1755 368h.1M1755 296h.1M1756 401h.1M1756 393h.1M1756 386h.1M1756 354h.1M1757 394h.1M1757 504h.1M1757 338h.1M1757 384h.1M1758 360h.1M1758 380h.1M1758 382h.1M1758 341h.1M1759 365h.1M1759 363h.1M1759 376h.1M1759 351h.1M1760 351h.1M1760 368h.1M1760 405h.1M1760 318h.1M1761 345h.1M1761 407h.1M1761 348h.1M1761 347h.1M1762 335h.1M1762 331h.1M1762 365h.1M1763 264h.1M1763 309h.1M1763 294h.1M1763 301h.1M1764 323h.1M1764 364h.1M1764 388h.1M1764 345h.1M1765 348h.1M1765 379h.1M1765 432h.1M1765 434h.1M1766 393h.1M1766 345h.1M1766 403h.1M1766 395h.1M1767 410h.1M1767 326h.1M1767 354h.1M1767 411h.1M1768 408h.1M1768 417h.1M1768 420h.1M1769 365h.1M1769 446h.1M1769 450h.1M1769 440h.1M1770 471h.1M1770 456h.1M1770 469h.1M1770 429h.1M1771 516h.1M1771 471h.1M1771 478h.1M1771 421h.1M1772 475h.1M1772 527h.1M1772 458h.1M1772 511h.1M1773 460h.1M1773 527h.1M1773 471h.1M1773 486h.1M1774 503h.1M1774 466h.1M1774 412h.1M1774 501h.1M1775 445h.1M1775 437h.1M1775 435h.1M1775 484h.1M1776 442h.1M1776 426h.1M1776 472h.1M1776 441h.1M1777 507h.1M1777 443h.1M1777 461h.1M1777 505h.1M1778 520h.1M1778 415h.1M1778 466h.1M1778 395h.1M1779 405h.1M1779 431h.1M1779 432h.1M1779 424h.1M1780 445h.1M1780 479h.1M1780 438h.1M1780 440h.1M1781 431h.1M1781 437h.1M1781 444h.1M1781 422h.1M1782 403h.1M1782 423h.1M1782 368h.1M1782 415h.1M1783 394h.1M1783 440h.1M1783 396h.1M1784 392h.1M1784 445h.1M1784 405h.1M1784 475h.1M1785 444h.1M1785 491h.1M1785 475h.1M1785 430h.1M1786 454h.1M1786 442h.1M1786 483h.1M1786 449h.1M1787 436h.1M1787 411h.1M1787 409h.1M1787 415h.1M1788 397h.1M1788 412h.1M1788 407h.1M1788 434h.1M1789 443h.1M1789 439h.1M1789 442h.1M1789 393h.1M1790 481h.1M1790 397h.1M1790 417h.1M1790 376h.1M1791 397h.1M1791 396h.1M1791 432h.1M1791 414h.1M1792 403h.1M1792 405h.1M1792 399h.1M1792 408h.1M1793 362h.1M1793 338h.1M1793 408h.1M1793 442h.1M1794 409h.1M1794 394h.1M1794 396h.1M1794 452h.1M1794 441h.1M1795 468h.1M1795 565h.1M1795 503h.1M1795 470h.1M1796 420h.1M1796 549h.1M1796 489h.1M1796 470h.1M1797 468h.1M1797 459h.1M1797 403h.1M1797 499h.1M1798 430h.1M1798 450h.1M1798 461h.1M1798 492h.1M1799 494h.1M1799 414h.1M1799 423h.1M1799 469h.1M1800 469h.1M1800 423h.1M1800 420h.1M1800 421h.1M1801 466h.1M1801 518h.1M1801 521h.1M1801 499h.1M1802 440h.1M1802 508h.1M1802 460h.1M1802 496h.1M1803 468h.1M1803 404h.1M1803 392h.1M1803 403h.1M1804 390h.1M1804 418h.1M1804 439h.1M1804 375h.1M1805 399h.1M1805 360h.1M1805 356h.1M1806 289h.1M1806 315h.1M1806 256h.1M1806 305h.1M1807 334h.1M1807 304h.1M1807 214h.1M1807 272h.1M1808 229h.1M1808 235h.1M1808 270h.1M1808 268h.1M1809 304h.1M1809 292h.1M1809 261h.1M1809 273h.1M1810 277h.1M1810 287h.1M1810 269h.1M1810 253h.1M1811 222h.1M1811 246h.1M1811 301h.1M1811 271h.1M1812 265h.1M1812 228h.1M1812 222h.1M1812 238h.1M1813 242h.1M1813 273h.1M1813 259h.1M1813 235h.1M1814 186h.1M1814 242h.1M1814 209h.1M1814 205h.1M1815 257h.1M1815 216h.1M1815 234h.1M1816 272h.1M1816 274h.1M1816 385h.1M1816 336h.1M1817 247h.1M1817 305h.1M1817 286h.1M1817 278h.1M1818 410h.1M1818 322h.1M1818 306h.1M1818 339h.1M1819 294h.1M1819 354h.1M1819 341h.1M1819 326h.1M1820 306h.1M1820 354h.1M1820 302h.1M1820 307h.1M1821 324h.1M1821 353h.1M1821 308h.1M1821 295h.1M1822 348h.1M1822 330h.1M1822 288h.1M1822 271h.1M1823 261h.1M1823 324h.1M1823 290h.1M1823 250h.1M1824 233h.1M1824 261h.1M1824 180h.1M1824 289h.1M1825 253h.1M1825 225h.1M1825 238h.1M1825 189h.1M1826 190h.1M1826 197h.1M1826 208h.1M1826 322h.1M1827 199h.1M1827 203h.1M1827 247h.1M1827 227h.1M1828 254h.1M1061 744h.1M1241 716h.1M323 685h.1M1341 697h.1M1427 694h.1M1726 132h.1M1001 171h.1M636 184h.1M285 189h.1M737 184h.1M246 667h.1M599 679h.1M415 683h.1M1815 617h.1"/><path fill="none" stroke="#ff0000" stroke-width="8.3" stroke-linejoin="round" d="M234.5 505.1L236.0 502.9L237.5 499.6L239.0 495.3L240.5 489.9L242.0 483.5L243.5 476.3L245.0 468.2L246.5 459.5L248.0 450.1L249.5 440.1L251.0 429.7L252.5 419.1L254.0 408.2L255.5 397.2L257.0 386.2L258.5 375.4L260.0 364.9L261.5 354.7L263.0 345.1L264.5 336.0L266.0 327.6L267.5 319.9L269.0 313.1L270.5 307.3L272.0 302.4L273.5 298.6L275.0 295.9L276.5 294.2L278.0 293.7L279.5 294.4L281.0 296.1L282.5 299.0L284.0 303.0L285.5 307.9L287.0 313.9L288.5 320.8L290.0 328.5L291.5 337.0L293.0 346.2L294.5 355.9L296.0 366.2L297.5 376.7L299.0 387.6L300.5 398.5L302.0 409.5L303.5 420.4L305.0 431.0L306.5 441.3L308.0 451.2L309.5 460.6L311.0 469.3L312.5 477.2L314.0 484.3L315.5 490.6L317.0 495.8L318.5 500.1L320.0 503.3L321.5 505.3L323.0 506.3L324.5 506.1L326.0 504.8L327.5 502.3L329.0 498.8L330.5 494.2L332.0 488.7L333.5 482.1L335.0 474.7L336.5 466.5L338.0 457.6L339.5 448.1L341.0 438.0L342.5 427.6L344.0 416.9L345.5 405.9L347.0 395.0L348.5 384.0L350.0 373.3L351.5 362.8L353.0 352.7L354.5 343.2L356.0 334.2L357.5 325.9L359.0 318.5L360.5 311.9L362.0 306.2L363.5 301.6L365.0 298.0L366.5 295.4L368.0 294.0L369.5 293.8L371.0 294.6L372.5 296.6L374.0 299.7L375.5 303.9L377.0 309.1L378.5 315.2L380.0 322.3L381.5 330.2L383.0 338.8L384.5 348.1L386.0 358.0L387.5 368.3L389.0 378.9L390.5 389.8L392.0 400.7L393.5 411.7L395.0 422.5L396.5 433.1L398.0 443.4L399.5 453.2L401.0 462.4L402.5 470.9L404.0 478.7L405.5 485.7L407.0 491.7L408.5 496.8L410.0 500.8L411.5 503.8L413.0 505.6L414.5 506.3L416.0 505.9L417.5 504.4L419.0 501.7L420.5 498.0L422.0 493.2L423.5 487.4L425.0 480.7L426.5 473.1L428.0 464.8L429.5 455.7L431.0 446.1L432.5 435.9L434.0 425.4L435.5 414.6L437.0 403.7L438.5 392.7L440.0 381.8L441.5 371.1L443.0 360.7L444.5 350.7L446.0 341.3L447.5 332.5L449.0 324.4L450.5 317.1L452.0 310.6L453.5 305.2L455.0 300.7L456.5 297.4L458.0 295.1L459.5 293.9L461.0 293.9L462.5 295.0L464.0 297.2L465.5 300.5L467.0 304.9L468.5 310.3L470.0 316.6L471.5 323.8L473.0 331.9L474.5 340.7L476.0 350.1L477.5 360.0L479.0 370.4L480.5 381.1L482.0 392.0L483.5 403.0L485.0 413.9L486.5 424.7L488.0 435.3L489.5 445.4L491.0 455.1L492.5 464.2L494.0 472.6L495.5 480.2L497.0 487.0L498.5 492.8L500.0 497.7L501.5 501.5L503.0 504.2L504.5 505.9L506.0 506.3L507.5 505.7L509.0 503.9L510.5 501.0L512.0 497.1L513.5 492.1L515.0 486.1L516.5 479.2L518.0 471.5L519.5 463.0L521.0 453.8L522.5 444.1L524.0 433.8L525.5 423.3L527.1 412.4L528.6 401.5L530.1 390.5L531.6 379.6L533.1 369.0L534.6 358.7L536.1 348.8L537.6 339.4L539.1 330.8L540.6 322.8L542.1 315.7L543.6 309.5L545.1 304.2L546.6 300.0L548.1 296.8L549.6 294.7L551.1 293.8L552.6 294.0L554.1 295.3L555.6 297.8L557.1 301.3L558.6 305.9L560.1 311.5L561.6 318.0L563.1 325.4L564.6 333.6L566.1 342.5L567.6 352.1L569.1 362.1L570.6 372.6L572.1 383.3L573.6 394.2L575.1 405.2L576.6 416.1L578.1 426.9L579.6 437.4L581.1 447.4L582.6 457.0L584.1 465.9L585.6 474.2L587.1 481.7L588.6 488.3L590.1 493.9L591.6 498.5L593.1 502.1L594.6 504.7L596.1 506.0L597.6 506.3L599.1 505.4L600.6 503.4L602.1 500.3L603.6 496.2L605.1 491.0L606.6 484.8L608.1 477.7L609.6 469.8L611.1 461.2L612.6 451.9L614.1 442.0L615.6 431.7L617.1 421.1L618.6 410.2L620.1 399.2L621.6 388.3L623.1 377.4L624.6 366.8L626.1 356.6L627.6 346.8L629.1 337.6L630.6 329.1L632.1 321.3L633.6 314.3L635.1 308.3L636.6 303.3L638.1 299.2L639.6 296.3L641.1 294.5L642.6 293.7L644.1 294.2L644.3 294.3L644.3 298.5L645.6 299.9L647.1 302.6L648.6 306.3L650.1 311.1L651.6 316.9L653.1 323.6L654.6 331.2L656.1 339.6L657.6 348.6L659.1 358.2L660.6 368.4L662.1 378.9L663.6 389.7L665.1 400.6L666.6 411.6L668.1 422.5L669.6 433.2L671.1 443.6L672.6 453.6L674.1 463.0L675.6 471.9L677.1 480.0L678.6 487.2L680.1 493.6L681.6 499.1L683.1 503.5L684.6 506.9L686.1 509.2L687.6 510.4L689.1 510.4L690.6 509.3L692.1 507.1L693.6 503.7L695.1 499.3L696.6 493.9L698.1 487.6L699.6 480.3L701.1 472.3L702.6 463.5L704.1 454.1L705.6 444.1L707.1 433.7L708.6 423.1L710.1 412.2L711.6 401.2L713.1 390.2L714.6 379.4L716.1 368.9L717.6 358.7L719.1 349.1L720.6 340.0L722.1 331.6L723.6 324.0L725.1 317.2L726.6 311.4L728.1 306.5L729.6 302.7L731.1 300.0L732.6 298.4L734.1 297.9L735.6 298.6L737.1 300.3L738.6 303.2L740.1 307.2L741.6 312.2L743.1 318.2L744.6 325.1L746.1 332.8L747.6 341.3L749.1 350.5L750.6 360.3L752.1 370.5L753.6 381.1L755.1 391.9L756.6 402.9L758.1 413.8L759.6 424.7L761.1 435.4L762.6 445.7L764.1 455.5L765.6 464.9L767.1 473.6L768.6 481.5L770.1 488.6L771.6 494.8L773.1 500.1L774.6 504.3L776.1 507.5L777.6 509.5L779.1 510.5L780.6 510.3L782.1 508.9L783.6 506.5L785.1 502.9L786.6 498.3L788.1 492.7L789.6 486.2L791.1 478.8L792.6 470.6L794.1 461.6L795.6 452.1L797.1 442.0L798.6 431.6L800.1 420.9L801.6 409.9L803.1 399.0L804.6 388.0L806.1 377.3L807.6 366.8L809.1 356.7L810.6 347.2L812.1 338.2L813.6 330.0L815.1 322.5L816.6 315.9L818.1 310.3L819.6 305.7L821.1 302.1L822.6 299.6L824.1 298.2L825.6 297.9L827.1 298.8L828.6 300.8L830.1 304.0L831.6 308.1L833.1 313.3L834.6 319.5L836.1 326.6L837.6 334.5L839.1 343.2L840.6 352.5L842.1 362.3L843.6 372.6L845.1 383.3L846.6 394.1L848.1 405.1L849.6 416.0L851.1 426.9L852.6 437.5L854.1 447.7L855.6 457.5L857.1 466.7L858.6 475.2L860.1 483.0L861.6 490.0L863.1 496.0L864.6 501.0L866.1 505.0L867.6 508.0L869.1 509.8L870.6 510.5L872.1 510.1L873.6 508.5L875.1 505.8L876.6 502.1L878.1 497.3L879.6 491.5L881.1 484.7L882.6 477.2L884.1 468.8L885.6 459.7L887.1 450.1L888.6 440.0L890.1 429.4L891.6 418.6L893.1 407.7L894.6 396.7L896.1 385.8L897.6 375.1L899.1 364.7L900.6 354.8L902.1 345.3L903.6 336.5L905.1 328.4L906.6 321.1L908.1 314.7L909.6 309.3L911.1 304.9L912.6 301.5L914.1 299.2L915.6 298.1L917.1 298.0L918.6 299.1L920.1 301.4L921.6 304.7L923.1 309.1L924.6 314.5L926.1 320.9L927.6 328.1L929.1 336.2L930.6 345.0L932.1 354.4L933.6 364.4L935.1 374.8L936.6 385.4L938.1 396.3L939.6 407.3L941.1 418.3L942.6 429.1L944.1 439.6L945.6 449.7L947.1 459.4L948.6 468.5L950.1 476.9L951.6 484.5L953.1 491.3L953.4 492.5L953.4 514.6L954.6 519.1L956.1 524.0L957.6 527.8L959.1 530.5L960.6 532.1L962.1 532.6L963.6 531.9L965.1 530.1L966.6 527.2L968.1 523.2L969.6 518.2L971.1 512.2L972.6 505.3L974.1 497.6L975.6 489.1L977.1 479.9L978.6 470.1L980.1 459.9L981.6 449.3L983.1 438.5L984.6 427.5L986.1 416.6L987.6 405.7L989.1 395.0L990.6 384.7L992.1 374.9L993.6 365.5L995.1 356.9L996.6 348.9L998.1 341.8L999.6 335.6L1001.1 330.4L1002.6 326.1L1004.1 323.0L1005.6 320.9L1007.1 320.0L1008.6 320.2L1010.1 321.6L1011.6 324.0L1013.1 327.6L1014.6 332.2L1016.1 337.8L1017.6 344.3L1019.1 351.8L1020.6 360.0L1022.1 368.9L1023.6 378.5L1025.1 388.5L1026.6 399.0L1028.1 409.7L1029.6 420.6L1031.1 431.6L1032.6 442.5L1034.1 453.3L1035.6 463.7L1037.1 473.8L1038.6 483.4L1040.1 492.3L1041.6 500.6L1043.1 508.0L1044.6 514.6L1046.1 520.2L1047.6 524.8L1049.1 528.4L1050.6 530.9L1052.1 532.3L1053.6 532.5L1055.1 531.6L1056.6 529.6L1058.1 526.5L1059.6 522.3L1061.1 517.1L1062.6 510.9L1064.1 503.8L1065.6 495.9L1067.1 487.3L1068.6 477.9L1070.1 468.1L1071.6 457.8L1073.1 447.1L1074.6 436.3L1076.1 425.3L1077.6 414.3L1079.1 403.5L1080.6 392.9L1082.1 382.7L1083.6 372.9L1085.1 363.7L1086.6 355.2L1088.1 347.4L1089.6 340.5L1091.1 334.5L1092.6 329.4L1094.1 325.4L1095.6 322.5L1097.1 320.7L1098.6 320.0L1100.1 320.4L1101.6 322.0L1103.1 324.7L1104.6 328.4L1106.1 333.2L1107.6 339.0L1109.1 345.8L1110.6 353.4L1112.1 361.7L1113.6 370.8L1115.1 380.5L1116.6 390.6L1118.1 401.1L1119.6 411.9L1121.1 422.9L1122.6 433.8L1124.1 444.7L1125.6 455.4L1127.1 465.8L1128.6 475.8L1130.1 485.2L1131.6 494.0L1133.1 502.1L1134.6 509.4L1136.1 515.8L1137.6 521.2L1139.1 525.7L1140.6 529.0L1142.1 531.3L1143.6 532.4L1145.1 532.4L1146.6 531.3L1148.1 529.1L1149.7 525.7L1151.2 521.3L1152.7 515.9L1154.2 509.5L1155.7 502.3L1157.2 494.2L1158.7 485.4L1160.2 476.0L1161.7 466.0L1163.2 455.6L1164.7 444.9L1166.2 434.0L1167.7 423.1L1169.2 412.1L1170.7 401.3L1172.2 390.8L1173.7 380.7L1175.2 371.0L1176.7 361.9L1178.2 353.5L1179.7 345.9L1181.2 339.2L1182.7 333.3L1184.2 328.5L1185.7 324.7L1187.2 322.0L1188.7 320.4L1190.2 320.0L1191.7 320.6L1193.2 322.4L1194.7 325.3L1196.2 329.3L1197.7 334.3L1199.2 340.3L1200.7 347.3L1202.2 355.0L1203.7 363.5L1205.2 372.7L1206.7 382.5L1208.2 392.7L1209.7 403.3L1211.2 414.1L1212.7 425.1L1214.2 436.1L1215.7 446.9L1217.2 457.6L1218.7 467.9L1220.2 477.8L1221.7 487.1L1223.2 495.7L1224.7 503.7L1226.2 510.8L1227.7 517.0L1229.2 522.2L1230.7 526.4L1232.2 529.6L1233.7 531.6L1235.2 532.5L1236.7 532.3L1238.2 530.9L1239.7 528.5L1241.2 524.9L1242.7 520.3L1244.2 514.7L1245.7 508.1L1247.2 500.7L1248.7 492.5L1250.2 483.5L1251.7 474.0L1253.2 463.9L1254.7 453.5L1256.2 442.7L1257.7 431.8L1259.2 420.8L1260.7 409.9L1262.2 399.2L1263.7 388.7L1265.2 378.6L1266.7 369.1L1268.2 360.2L1269.7 351.9L1271.2 344.5L1272.7 337.9L1274.2 332.3L1275.7 327.7L1277.2 324.1L1278.7 321.6L1280.2 320.2L1281.7 320.0L1283.2 320.9L1284.7 322.9L1286.2 326.1L1287.7 330.3L1289.2 335.5L1290.7 341.7L1292.2 348.8L1293.7 356.7L1295.2 365.4L1296.7 374.7L1298.2 384.5L1299.7 394.8L1301.2 405.5L1302.7 416.3L1304.2 427.3L1305.7 438.3L1307.2 449.1L1308.7 459.7L1310.2 469.9L1311.7 479.7L1313.2 488.9L1314.7 497.4L1316.2 505.2L1317.7 512.1L1319.2 518.1L1320.7 523.2L1322.2 527.2L1323.7 530.1L1325.2 531.9L1326.7 532.6L1328.2 532.1L1329.7 530.5L1331.2 527.8L1332.7 524.1L1334.2 519.2L1335.7 513.4L1337.2 506.7L1338.7 499.1L1340.2 490.7L1341.7 481.7L1343.2 472.0L1344.7 461.9L1346.2 451.3L1347.7 440.5L1349.2 429.6L1350.7 418.6L1352.2 407.7L1353.7 397.0L1355.2 386.6L1356.7 376.7L1358.2 367.2L1359.7 358.4L1361.2 350.3L1362.7 343.1L1364.2 336.7L1365.7 331.3L1367.2 326.8L1368.7 323.5L1370.2 321.2L1371.7 320.1L1373.2 320.1L1374.7 321.2L1376.2 323.5L1377.7 326.8L1379.2 331.2L1380.7 336.7L1382.2 343.0L1383.7 350.3L1385.2 358.4L1386.7 367.2L1388.2 376.6L1389.7 386.6L1391.2 397.0L1392.7 407.7L1394.2 418.6L1395.7 429.5L1397.2 440.5L1398.7 451.3L1400.2 461.8L1401.7 472.0L1403.2 481.6L1404.7 490.7L1406.2 499.1L1407.7 506.7L1409.2 513.4L1410.7 519.2L1412.2 524.1L1413.7 527.8L1415.2 530.5L1416.7 532.1L1418.2 532.6L1419.7 531.9L1421.2 530.1L1422.7 527.2L1424.2 523.2L1425.7 518.1L1427.2 512.1L1428.7 505.2L1430.2 497.5L1431.7 488.9L1433.2 479.7L1434.7 470.0L1436.2 459.7L1437.7 449.2L1439.2 438.3L1440.7 427.4L1442.2 416.4L1443.7 405.5L1445.2 394.9L1446.7 384.6L1448.2 374.7L1449.7 365.4L1451.2 356.7L1452.7 348.8L1454.2 341.7L1455.7 335.5L1457.2 330.3L1458.7 326.1L1460.2 322.9L1461.7 320.9L1463.2 320.0L1464.7 320.2L1466.2 321.6L1467.7 324.1L1469.2 327.6L1470.7 332.3L1472.2 337.9L1473.7 344.5L1475.2 351.9L1476.7 360.1L1478.2 369.1L1479.7 378.6L1481.2 388.7L1482.7 399.1L1484.2 409.9L1485.7 420.8L1487.2 431.8L1488.7 442.7L1490.2 453.4L1491.7 463.9L1493.2 474.0L1494.7 483.5L1496.2 492.4L1497.7 500.7L1499.2 508.1L1500.7 514.7L1502.2 520.3L1503.7 524.9L1505.0 528.0L1505.0 474.4L1505.2 474.8L1506.7 477.3L1508.2 478.6L1509.7 478.8L1511.2 477.9L1512.7 475.9L1514.2 472.8L1515.7 468.6L1517.2 463.3L1518.7 457.1L1520.2 450.0L1521.7 442.1L1523.2 433.4L1524.7 424.1L1526.2 414.3L1527.7 403.9L1529.2 393.3L1530.7 382.4L1532.2 371.5L1533.7 360.5L1535.2 349.7L1536.7 339.1L1538.2 328.9L1539.7 319.1L1541.2 309.9L1542.7 301.4L1544.2 293.6L1545.7 286.7L1547.2 280.7L1548.7 275.7L1550.2 271.7L1551.7 268.8L1553.2 267.0L1554.7 266.3L1556.2 266.8L1557.7 268.3L1559.2 271.0L1560.7 274.8L1562.2 279.7L1563.7 285.5L1565.2 292.2L1566.7 299.8L1568.2 308.2L1569.7 317.3L1571.2 326.9L1572.7 337.1L1574.2 347.6L1575.7 358.4L1577.2 369.4L1578.7 380.3L1580.2 391.2L1581.7 401.9L1583.2 412.3L1584.7 422.3L1586.2 431.7L1587.7 440.5L1589.2 448.6L1590.7 455.8L1592.2 462.2L1593.7 467.6L1595.2 472.0L1596.7 475.4L1598.2 477.6L1599.7 478.8L1601.2 478.8L1602.7 477.6L1604.2 475.4L1605.7 472.0L1607.2 467.6L1608.7 462.1L1610.2 455.8L1611.7 448.5L1613.2 440.4L1614.7 431.6L1616.2 422.2L1617.7 412.2L1619.2 401.8L1620.7 391.1L1622.2 380.2L1623.7 369.2L1625.2 358.3L1626.7 347.5L1628.2 337.0L1629.7 326.8L1631.2 317.2L1632.7 308.1L1634.2 299.7L1635.7 292.1L1637.2 285.4L1638.7 279.6L1640.2 274.8L1641.7 271.0L1643.2 268.3L1644.7 266.7L1646.2 266.3L1647.7 267.0L1649.2 268.8L1650.7 271.7L1652.2 275.7L1653.7 280.8L1655.2 286.8L1656.7 293.7L1658.2 301.5L1659.7 310.0L1661.2 319.2L1662.7 329.0L1664.2 339.2L1665.7 349.8L1667.2 360.6L1668.7 371.6L1670.2 382.6L1671.7 393.4L1673.2 404.1L1674.7 414.4L1676.2 424.2L1677.7 433.5L1679.2 442.2L1680.7 450.1L1682.2 457.2L1683.7 463.4L1685.2 468.6L1686.7 472.8L1688.2 475.9L1689.7 478.0L1691.2 478.9L1692.7 478.6L1694.2 477.2L1695.7 474.8L1697.2 471.2L1698.7 466.6L1700.2 460.9L1701.7 454.4L1703.2 446.9L1704.7 438.7L1706.2 429.7L1707.7 420.2L1709.2 410.1L1710.7 399.7L1712.2 388.9L1713.7 378.0L1715.2 367.0L1716.7 356.1L1718.2 345.3L1719.7 334.9L1721.2 324.8L1722.7 315.3L1724.2 306.4L1725.7 298.1L1727.2 290.7L1728.7 284.1L1730.2 278.5L1731.7 273.9L1733.2 270.4L1734.7 267.9L1736.2 266.6L1737.7 266.3L1739.2 267.3L1740.7 269.3L1742.2 272.5L1743.7 276.7L1745.2 281.9L1746.7 288.1L1748.2 295.2L1749.7 303.1L1751.2 311.8L1752.7 321.1L1754.2 331.0L1755.7 341.3L1757.2 352.0L1758.7 362.8L1760.2 373.8L1761.7 384.8L1763.2 395.6L1764.7 406.2L1766.2 416.4L1767.7 426.2L1769.2 435.4L1770.8 443.9L1772.3 451.6L1773.8 458.5L1775.3 464.5L1776.8 469.6L1778.3 473.5L1779.8 476.4L1781.3 478.2L1782.8 478.9L1784.3 478.4L1785.8 476.8L1787.3 474.1L1788.8 470.3L1790.3 465.5L1791.8 459.7L1793.3 452.9L1794.8 445.3L1796.3 436.9L1797.8 427.8L1799.3 418.2L1800.8 408.0L1802.3 397.5L1803.8 386.7L1805.3 375.7L1806.8 364.8L1808.3 353.9L1809.8 343.2L1811.3 332.8L1812.8 322.8L1814.3 313.4L1815.8 304.6L1817.3 296.6L1818.8 289.3L1820.3 282.9L1821.8 277.5L1823.3 273.1L1824.8 269.8L1826.3 267.5L1827.8 266.4"/></g>
<path stroke="#000" stroke-width="2" fill="none" d="M247.1 119.0v-10.0M247.1 757.0v10.0M292.7 119.0v-10.0M292.7 757.0v10.0M338.3 119.0v-18.5M338.3 757.0v18.5M383.9 119.0v-10.0M383.9 757.0v10.0M429.5 119.0v-10.0M429.5 757.0v10.0M475.1 119.0v-10.0M475.1 757.0v10.0M520.7 119.0v-18.5M520.7 757.0v18.5M566.3 119.0v-10.0M566.3 757.0v10.0M611.9 119.0v-10.0M611.9 757.0v10.0M657.5 119.0v-10.0M657.5 757.0v10.0M703.1 119.0v-18.5M703.1 757.0v18.5M748.7 119.0v-10.0M748.7 757.0v10.0M794.3 119.0v-10.0M794.3 757.0v10.0M840.0 119.0v-10.0M840.0 757.0v10.0M885.6 119.0v-18.5M885.6 757.0v18.5M931.2 119.0v-10.0M931.2 757.0v10.0M976.8 119.0v-10.0M976.8 757.0v10.0M1022.4 119.0v-10.0M1022.4 757.0v10.0M1068.0 119.0v-18.5M1068.0 757.0v18.5M1113.6 119.0v-10.0M1113.6 757.0v10.0M1159.2 119.0v-10.0M1159.2 757.0v10.0M1204.8 119.0v-10.0M1204.8 757.0v10.0M1250.4 119.0v-18.5M1250.4 757.0v18.5M1296.0 119.0v-10.0M1296.0 757.0v10.0M1341.6 119.0v-10.0M1341.6 757.0v10.0M1387.2 119.0v-10.0M1387.2 757.0v10.0M1432.8 119.0v-18.5M1432.8 757.0v18.5M1478.4 119.0v-10.0M1478.4 757.0v10.0M1524.0 119.0v-10.0M1524.0 757.0v10.0M1569.6 119.0v-10.0M1569.6 757.0v10.0M1615.2 119.0v-18.5M1615.2 757.0v18.5M1660.8 119.0v-10.0M1660.8 757.0v10.0M1706.4 119.0v-10.0M1706.4 757.0v10.0M1752.1 119.0v-10.0M1752.1 757.0v10.0M1797.7 119.0v-18.5M1797.7 757.0v18.5M1843.3 119.0v-10.0M1843.3 757.0v10.0M202.6 130.6H183.0M1860.0 130.6H1878.9M202.6 269.6H183.0M1860.0 269.6H1878.9M202.6 408.6H183.0M1860.0 408.6H1878.9M202.6 547.5H183.0M1860.0 547.5H1878.9M202.6 686.5H183.0M1860.0 686.5H1878.9"/>
<text transform="translate(167.4 146.4) scale(1 1.035)" text-anchor="end" font-weight="bold" font-size="43">8</text>
<text transform="translate(167.4 285.4) scale(1 1.035)" text-anchor="end" font-weight="bold" font-size="43">4</text>
<text transform="translate(167.4 424.4) scale(1 1.035)" text-anchor="end" font-weight="bold" font-size="43">0</text>
<text transform="translate(167.4 563.3) scale(1 1.035)" text-anchor="end" font-weight="bold" font-size="43">4</text>
<rect x="120.8" y="550.9" width="21.2" height="5" fill="#000"/>
<text transform="translate(167.4 702.3) scale(1 1.035)" text-anchor="end" font-weight="bold" font-size="43">8</text>
<rect x="120.8" y="689.9" width="21.2" height="5" fill="#000"/>
<text transform="translate(338.3 823.3) scale(1 1.035)" text-anchor="middle" font-weight="bold" font-size="43">2006</text>
<text transform="translate(520.7 823.3) scale(1 1.035)" text-anchor="middle" font-weight="bold" font-size="43">2008</text>
<text transform="translate(703.1 823.3) scale(1 1.035)" text-anchor="middle" font-weight="bold" font-size="43">2010</text>
<text transform="translate(885.6 823.3) scale(1 1.035)" text-anchor="middle" font-weight="bold" font-size="43">2012</text>
<text transform="translate(1068.0 823.3) scale(1 1.035)" text-anchor="middle" font-weight="bold" font-size="43">2014</text>
<text transform="translate(1250.4 823.3) scale(1 1.035)" text-anchor="middle" font-weight="bold" font-size="43">2016</text>
<text transform="translate(1432.8 823.3) scale(1 1.035)" text-anchor="middle" font-weight="bold" font-size="43">2018</text>
<text transform="translate(1615.2 823.3) scale(1 1.035)" text-anchor="middle" font-weight="bold" font-size="43">2020</text>
<text transform="translate(1797.7 823.3) scale(1 1.035)" text-anchor="middle" font-weight="bold" font-size="43">2022</text>
<text transform="translate(90 438.0) rotate(-90) scale(0.984 1)" text-anchor="middle" font-size="43">East (mm)</text>
<text transform="translate(1792.8 160.5) scale(0.989 1.04)" text-anchor="end" font-weight="bold" font-size="36">0.000+/- 0.147 mm/yr</text>
<rect x="202.6" y="935.1" width="1657.4" height="638.0" fill="none" stroke="#000" stroke-width="5.8"/>
<g clip-path="url(#c1)"><line x1="644.3" y1="935.1" x2="644.3" y2="1573.1" stroke="#00ffff" stroke-width="5" stroke-dasharray="29.5 13" stroke-dashoffset="28.6"/><line x1="953.4" y1="935.1" x2="953.4" y2="1573.1" stroke="#00ffff" stroke-width="5" stroke-dasharray="29.5 13" stroke-dashoffset="28.6"/><line x1="1505.0" y1="935.1" x2="1505.0" y2="1573.1" stroke="#00ffff" stroke-width="5" stroke-dasharray="29.5 13" stroke-dashoffset="28.6"/><path fill="none" stroke="#0000ff" stroke-width="12.5" stroke-linecap="round" d="M235 1188h.1M235 1242h.1M235 1204h.1M235 1164h.1M236 1167h.1M236 1151h.1M236 1204h.1M236 1133h.1M237 1219h.1M237 1196h.1M237 1204h.1M237 1176h.1M237 1150h.1M238 1194h.1M238 1190h.1M238 1177h.1M238 1174h.1M239 1228h.1M239 1116h.1M239 1295h.1M239 1214h.1M240 1190h.1M240 1205h.1M240 1234h.1M240 1146h.1M241 1169h.1M241 1160h.1M241 1195h.1M241 1250h.1M242 1298h.1M242 1195h.1M242 1234h.1M242 1203h.1M243 1121h.1M243 1159h.1M243 1170h.1M243 1189h.1M244 1223h.1M244 1211h.1M244 1216h.1M244 1196h.1M245 1214h.1M245 1175h.1M245 1185h.1M245 1174h.1M246 1175h.1M246 1261h.1M246 1214h.1M246 1177h.1M247 1235h.1M247 1268h.1M247 1251h.1M247 1253h.1M248 1279h.1M248 1300h.1M248 1313h.1M248 1348h.1M249 1354h.1M249 1305h.1M249 1336h.1M249 1309h.1M250 1295h.1M250 1256h.1M250 1190h.1M250 1203h.1M251 1321h.1M251 1261h.1M251 1186h.1M251 1294h.1M252 1259h.1M252 1323h.1M252 1294h.1M252 1302h.1M253 1276h.1M253 1240h.1M253 1238h.1M253 1275h.1M254 1305h.1M254 1323h.1M254 1389h.1M254 1289h.1M255 1272h.1M255 1292h.1M255 1273h.1M255 1253h.1M256 1250h.1M256 1346h.1M256 1359h.1M256 1323h.1M257 1287h.1M257 1292h.1M257 1288h.1M257 1291h.1M258 1350h.1M258 1308h.1M258 1306h.1M258 1260h.1M259 1251h.1M259 1383h.1M259 1325h.1M259 1346h.1M260 1300h.1M260 1281h.1M260 1364h.1M260 1375h.1M261 1365h.1M261 1356h.1M261 1375h.1M261 1342h.1M262 1336h.1M262 1247h.1M262 1308h.1M262 1387h.1M263 1338h.1M263 1291h.1M263 1283h.1M263 1260h.1M264 1270h.1M264 1306h.1M264 1274h.1M264 1305h.1M265 1343h.1M265 1256h.1M265 1364h.1M265 1283h.1M266 1297h.1M266 1314h.1M266 1265h.1M266 1285h.1M267 1278h.1M267 1277h.1M267 1399h.1M267 1333h.1M268 1276h.1M268 1271h.1M268 1279h.1M268 1217h.1M269 1288h.1M269 1305h.1M269 1253h.1M269 1216h.1M270 1219h.1M270 1284h.1M270 1223h.1M270 1333h.1M271 1310h.1M271 1237h.1M271 1285h.1M271 1311h.1M272 1227h.1M272 1209h.1M272 1321h.1M272 1248h.1M273 1317h.1M273 1258h.1M273 1245h.1M273 1280h.1M274 1262h.1M274 1182h.1M274 1331h.1M274 1315h.1M275 1267h.1M275 1233h.1M275 1292h.1M275 1301h.1M276 1276h.1M276 1269h.1M276 1244h.1M276 1230h.1M277 1237h.1M277 1168h.1M277 1175h.1M277 1136h.1M278 1217h.1M278 1212h.1M278 1261h.1M278 1229h.1M279 1241h.1M279 1275h.1M279 1323h.1M280 1289h.1M280 1273h.1M280 1211h.1M280 1322h.1M281 1264h.1M281 1300h.1M281 1287h.1M281 1267h.1M282 1330h.1M282 1271h.1M282 1315h.1M282 1299h.1M283 1292h.1M283 1367h.1M283 1339h.1M283 1268h.1M284 1336h.1M284 1254h.1M284 1230h.1M284 1286h.1M285 1254h.1M285 1277h.1M285 1286h.1M285 1297h.1M286 1170h.1M286 1200h.1M286 1182h.1M286 1183h.1M287 1251h.1M287 1261h.1M287 1223h.1M287 1329h.1M288 1234h.1M288 1240h.1M288 1276h.1M288 1257h.1M289 1222h.1M289 1289h.1M289 1186h.1M289 1245h.1M290 1294h.1M290 1209h.1M290 1247h.1M290 1210h.1M291 1288h.1M291 1151h.1M291 1210h.1M291 1255h.1M292 1263h.1M292 1259h.1M292 1245h.1M292 1253h.1M293 1214h.1M293 1265h.1M293 1314h.1M293 1229h.1M294 1149h.1M294 1246h.1M294 1370h.1M295 1333h.1M295 1286h.1M295 1266h.1M295 1253h.1M296 1322h.1M296 1268h.1M296 1273h.1M296 1264h.1M297 1234h.1M297 1352h.1M297 1275h.1M297 1350h.1M298 1252h.1M298 1253h.1M298 1209h.1M299 1247h.1M299 1248h.1M299 1253h.1M299 1225h.1M300 1193h.1M300 1114h.1M300 1122h.1M300 1070h.1M301 1119h.1M301 1106h.1M301 1118h.1M301 1171h.1M302 1216h.1M302 1142h.1M302 1149h.1M302 1129h.1M303 1229h.1M303 1201h.1M303 1243h.1M303 1230h.1M304 1209h.1M304 1244h.1M304 1258h.1M304 1233h.1M305 1281h.1M305 1174h.1M305 1334h.1M305 1226h.1M306 1306h.1M306 1319h.1M306 1246h.1M306 1144h.1M307 1281h.1M307 1214h.1M307 1284h.1M307 1177h.1M308 1255h.1M308 1228h.1M308 1208h.1M309 1242h.1M309 1269h.1M309 1302h.1M309 1300h.1M310 1260h.1M310 1363h.1M310 1328h.1M310 1307h.1M311 1280h.1M311 1313h.1M311 1304h.1M311 1283h.1M312 1280h.1M312 1335h.1M312 1322h.1M312 1277h.1M313 1255h.1M313 1270h.1M313 1283h.1M313 1345h.1M314 1320h.1M314 1278h.1M314 1299h.1M314 1338h.1M315 1232h.1M315 1261h.1M315 1279h.1M315 1272h.1M316 1298h.1M316 1367h.1M316 1271h.1M316 1285h.1M317 1306h.1M317 1318h.1M317 1357h.1M317 1340h.1M318 1313h.1M318 1304h.1M318 1297h.1M318 1298h.1M319 1375h.1M319 1340h.1M319 1377h.1M319 1358h.1M320 1336h.1M320 1218h.1M320 1295h.1M320 1299h.1M321 1299h.1M321 1379h.1M321 1443h.1M321 1338h.1M322 1321h.1M322 1307h.1M322 1302h.1M323 1243h.1M323 1366h.1M323 1247h.1M323 1273h.1M324 1317h.1M324 1266h.1M324 1243h.1M324 1203h.1M325 1179h.1M325 1154h.1M325 1185h.1M325 1241h.1M326 1183h.1M326 1193h.1M326 1078h.1M326 1104h.1M327 1232h.1M327 1122h.1M327 1182h.1M328 1224h.1M328 1260h.1M328 1198h.1M328 1210h.1M329 1126h.1M329 1166h.1M329 1195h.1M329 1138h.1M330 1231h.1M330 1213h.1M330 1180h.1M330 1195h.1M331 1148h.1M331 1244h.1M331 1250h.1M331 1150h.1M332 1200h.1M332 1238h.1M332 1209h.1M332 1179h.1M333 1208h.1M333 1139h.1M333 1186h.1M333 1251h.1M334 1259h.1M334 1261h.1M334 1225h.1M334 1212h.1M335 1167h.1M335 1081h.1M335 1195h.1M335 1188h.1M336 1192h.1M336 1238h.1M336 1284h.1M336 1204h.1M337 1318h.1M337 1254h.1M337 1262h.1M337 1284h.1M338 1264h.1M338 1272h.1M338 1246h.1M338 1283h.1M339 1210h.1M339 1255h.1M339 1237h.1M339 1167h.1M340 1257h.1M340 1306h.1M340 1263h.1M340 1226h.1M341 1235h.1M341 1205h.1M341 1164h.1M341 1230h.1M342 1217h.1M342 1256h.1M342 1272h.1M342 1222h.1M343 1220h.1M343 1338h.1M343 1260h.1M343 1210h.1M344 1254h.1M344 1221h.1M344 1218h.1M344 1220h.1M345 1149h.1M345 1198h.1M345 1241h.1M345 1229h.1M346 1196h.1M346 1280h.1M346 1268h.1M346 1236h.1M347 1238h.1M347 1227h.1M347 1261h.1M347 1334h.1M348 1295h.1M348 1283h.1M348 1246h.1M348 1323h.1M349 1306h.1M349 1253h.1M349 1329h.1M349 1245h.1M350 1302h.1M350 1282h.1M350 1264h.1M350 1313h.1M351 1261h.1M351 1349h.1M351 1338h.1M351 1334h.1M352 1271h.1M352 1277h.1M352 1294h.1M352 1259h.1M353 1333h.1M353 1312h.1M353 1311h.1M353 1290h.1M354 1341h.1M354 1335h.1M354 1366h.1M354 1268h.1M355 1264h.1M355 1281h.1M355 1369h.1M355 1311h.1M356 1363h.1M356 1305h.1M356 1324h.1M356 1373h.1M357 1350h.1M357 1402h.1M357 1346h.1M357 1328h.1M358 1240h.1M358 1234h.1M358 1378h.1M358 1275h.1M359 1264h.1M359 1229h.1M359 1290h.1M359 1259h.1M360 1260h.1M360 1303h.1M360 1237h.1M360 1274h.1M361 1300h.1M361 1328h.1M361 1295h.1M361 1296h.1M362 1282h.1M362 1331h.1M362 1320h.1M362 1345h.1M363 1249h.1M363 1263h.1M363 1305h.1M363 1366h.1M364 1377h.1M364 1375h.1M364 1348h.1M364 1208h.1M365 1345h.1M365 1279h.1M365 1316h.1M365 1334h.1M366 1270h.1M366 1328h.1M366 1273h.1M366 1251h.1M367 1296h.1M367 1245h.1M367 1288h.1M367 1361h.1M368 1224h.1M368 1235h.1M368 1335h.1M368 1287h.1M369 1277h.1M369 1324h.1M369 1225h.1M369 1303h.1M370 1260h.1M370 1267h.1M370 1344h.1M370 1321h.1M371 1291h.1M371 1217h.1M371 1276h.1M371 1267h.1M372 1296h.1M372 1261h.1M372 1232h.1M372 1267h.1M373 1293h.1M373 1250h.1M373 1310h.1M373 1225h.1M374 1297h.1M374 1166h.1M374 1235h.1M374 1170h.1M375 1203h.1M375 1246h.1M375 1218h.1M376 1263h.1M376 1306h.1M376 1272h.1M376 1256h.1M377 1215h.1M377 1219h.1M377 1163h.1M377 1154h.1M378 1186h.1M378 1245h.1M378 1179h.1M378 1309h.1M379 1231h.1M379 1198h.1M379 1399h.1M379 1212h.1M380 1257h.1M380 1174h.1M380 1121h.1M380 1244h.1M381 1247h.1M381 1201h.1M381 1155h.1M381 1267h.1M382 1233h.1M382 1237h.1M382 1197h.1M382 1280h.1M383 1180h.1M383 1232h.1M383 1287h.1M383 1246h.1M384 1255h.1M384 1245h.1M384 1222h.1M384 1237h.1M385 1215h.1M385 1197h.1M385 1234h.1M385 1237h.1M386 1238h.1M386 1167h.1M386 1158h.1M386 1224h.1M387 1198h.1M387 1204h.1M387 1260h.1M387 1273h.1M388 1184h.1M388 1294h.1M388 1371h.1M388 1199h.1M389 1225h.1M389 1220h.1M389 1208h.1M389 1139h.1M390 1268h.1M390 1142h.1M390 1263h.1M390 1176h.1M391 1189h.1M391 1228h.1M391 1290h.1M391 1317h.1M392 1273h.1M392 1134h.1M392 1159h.1M392 1211h.1M393 1240h.1M393 1192h.1M393 1273h.1M393 1234h.1M394 1279h.1M394 1256h.1M394 1385h.1M394 1309h.1M395 1349h.1M395 1368h.1M395 1341h.1M395 1339h.1M396 1364h.1M396 1396h.1M396 1346h.1M396 1263h.1M397 1265h.1M397 1275h.1M397 1251h.1M397 1299h.1M398 1300h.1M398 1337h.1M398 1396h.1M398 1346h.1M399 1354h.1M399 1243h.1M399 1359h.1M399 1400h.1M400 1325h.1M400 1346h.1M400 1250h.1M400 1281h.1M401 1282h.1M401 1293h.1M401 1208h.1M401 1331h.1M402 1289h.1M402 1215h.1M402 1364h.1M402 1307h.1M403 1470h.1M403 1301h.1M403 1344h.1M403 1445h.1M404 1323h.1M404 1251h.1M404 1314h.1M404 1322h.1M405 1250h.1M405 1226h.1M405 1254h.1M405 1338h.1M406 1280h.1M406 1293h.1M406 1284h.1M406 1279h.1M407 1218h.1M407 1304h.1M407 1316h.1M407 1285h.1M408 1325h.1M408 1258h.1M408 1271h.1M408 1327h.1M409 1282h.1M409 1165h.1M409 1226h.1M409 1262h.1M410 1240h.1M410 1247h.1M410 1205h.1M410 1252h.1M411 1141h.1M411 1237h.1M411 1305h.1M411 1262h.1M412 1227h.1M412 1300h.1M412 1297h.1M412 1236h.1M413 1190h.1M413 1280h.1M413 1283h.1M413 1314h.1M414 1157h.1M414 1195h.1M414 1296h.1M414 1168h.1M415 1317h.1M415 1195h.1M415 1211h.1M415 1213h.1M416 1213h.1M416 1195h.1M416 1265h.1M416 1241h.1M417 1245h.1M417 1204h.1M417 1271h.1M417 1272h.1M418 1203h.1M418 1222h.1M418 1178h.1M418 1223h.1M419 1277h.1M419 1331h.1M419 1237h.1M419 1234h.1M420 1246h.1M420 1229h.1M420 1204h.1M421 1264h.1M421 1278h.1M421 1196h.1M421 1261h.1M422 1264h.1M422 1201h.1M422 1165h.1M422 1175h.1M423 1196h.1M423 1210h.1M423 1253h.1M423 1199h.1M424 1303h.1M424 1238h.1M424 1217h.1M425 1279h.1M425 1266h.1M425 1274h.1M425 1205h.1M426 1288h.1M426 1214h.1M426 1250h.1M426 1199h.1M427 1202h.1M427 1265h.1M427 1201h.1M428 1182h.1M428 1198h.1M428 1221h.1M428 1196h.1M429 1224h.1M429 1220h.1M429 1234h.1M429 1158h.1M430 1264h.1M430 1242h.1M430 1138h.1M430 1139h.1M431 1292h.1M431 1207h.1M431 1236h.1M431 1234h.1M432 1205h.1M432 1221h.1M432 1155h.1M432 1171h.1M433 1224h.1M433 1273h.1M433 1255h.1M433 1277h.1M434 1246h.1M434 1251h.1M434 1186h.1M434 1296h.1M435 1233h.1M435 1229h.1M435 1244h.1M435 1247h.1M436 1231h.1M436 1260h.1M436 1337h.1M436 1304h.1M437 1294h.1M437 1312h.1M437 1266h.1M437 1305h.1M438 1224h.1M438 1236h.1M438 1213h.1M438 1182h.1M439 1189h.1M439 1168h.1M439 1269h.1M439 1217h.1M440 1353h.1M440 1229h.1M440 1316h.1M440 1259h.1M441 1293h.1M441 1346h.1M441 1312h.1M441 1337h.1M442 1214h.1M442 1373h.1M442 1191h.1M442 1279h.1M443 1280h.1M443 1287h.1M443 1310h.1M443 1262h.1M444 1285h.1M444 1337h.1M444 1261h.1M444 1353h.1M445 1307h.1M445 1319h.1M445 1378h.1M445 1328h.1M446 1212h.1M446 1237h.1M446 1307h.1M446 1223h.1M447 1286h.1M447 1170h.1M447 1321h.1M447 1207h.1M448 1298h.1M448 1213h.1M448 1259h.1M448 1177h.1M449 1290h.1M449 1275h.1M449 1188h.1M449 1184h.1M450 1285h.1M450 1180h.1M450 1208h.1M450 1214h.1M451 1254h.1M451 1231h.1M451 1260h.1M451 1226h.1M452 1252h.1M452 1248h.1M452 1296h.1M452 1199h.1M453 1312h.1M453 1320h.1M453 1337h.1M453 1265h.1M454 1350h.1M454 1320h.1M454 1304h.1M454 1303h.1M455 1295h.1M455 1338h.1M455 1445h.1M455 1386h.1M456 1359h.1M456 1379h.1M456 1343h.1M456 1318h.1M457 1377h.1M457 1315h.1M457 1317h.1M457 1293h.1M458 1332h.1M458 1313h.1M458 1346h.1M458 1389h.1M459 1350h.1M459 1440h.1M459 1340h.1M459 1421h.1M460 1443h.1M460 1365h.1M460 1319h.1M460 1359h.1M460 1313h.1M461 1378h.1M461 1410h.1M461 1374h.1M461 1366h.1M462 1435h.1M462 1353h.1M462 1370h.1M462 1385h.1M463 1312h.1M463 1235h.1M463 1349h.1M463 1255h.1M464 1321h.1M464 1185h.1M464 1282h.1M464 1188h.1M465 1249h.1M465 1300h.1M465 1259h.1M465 1280h.1M466 1309h.1M466 1263h.1M466 1294h.1M466 1275h.1M467 1204h.1M467 1236h.1M467 1152h.1M467 1215h.1M468 1223h.1M468 1119h.1M468 1200h.1M468 1212h.1M469 1188h.1M469 1240h.1M469 1221h.1M470 1224h.1M470 1239h.1M470 1197h.1M470 1306h.1M471 1161h.1M471 1205h.1M471 1118h.1M471 1225h.1M472 1193h.1M472 1292h.1M472 1224h.1M472 1198h.1M473 1226h.1M473 1236h.1M473 1240h.1M473 1223h.1M474 1251h.1M474 1287h.1M474 1209h.1M474 1203h.1M475 1165h.1M475 1194h.1M475 1241h.1M476 1201h.1M476 1169h.1M476 1238h.1M476 1234h.1M477 1286h.1M477 1226h.1M477 1190h.1M477 1203h.1M478 1212h.1M478 1267h.1M478 1321h.1M478 1206h.1M479 1115h.1M479 1131h.1M479 1170h.1M479 1204h.1M480 1118h.1M480 1188h.1M480 1263h.1M480 1276h.1M481 1166h.1M481 1132h.1M481 1190h.1M481 1247h.1M482 1324h.1M482 1270h.1M482 1265h.1M482 1258h.1M483 1251h.1M483 1230h.1M483 1192h.1M483 1224h.1M484 1288h.1M484 1242h.1M484 1137h.1M484 1114h.1M485 1184h.1M485 1186h.1M485 1273h.1M485 1230h.1M486 1183h.1M486 1219h.1M486 1249h.1M486 1282h.1M487 1237h.1M487 1112h.1M487 1188h.1M487 1199h.1M488 1154h.1M488 1255h.1M488 1253h.1M488 1223h.1M489 1364h.1M489 1239h.1M489 1198h.1M489 1382h.1M490 1411h.1M490 1345h.1M490 1309h.1M490 1321h.1M491 1372h.1M491 1344h.1M491 1365h.1M491 1326h.1M492 1367h.1M492 1388h.1M492 1356h.1M492 1327h.1M493 1370h.1M493 1306h.1M493 1325h.1M493 1338h.1M494 1344h.1M494 1430h.1M494 1297h.1M494 1357h.1M495 1365h.1M495 1309h.1M495 1379h.1M495 1243h.1M496 1299h.1M496 1243h.1M496 1275h.1M496 1246h.1M497 1188h.1M497 1274h.1M497 1300h.1M497 1262h.1M498 1168h.1M498 1220h.1M498 1266h.1M498 1211h.1M499 1179h.1M499 1207h.1M499 1276h.1M499 1296h.1M500 1133h.1M500 1183h.1M500 1274h.1M500 1330h.1M501 1224h.1M501 1278h.1M501 1295h.1M501 1333h.1M502 1248h.1M502 1246h.1M502 1270h.1M502 1316h.1M503 1157h.1M503 1191h.1M503 1203h.1M503 1354h.1M504 1221h.1M504 1193h.1M504 1288h.1M504 1299h.1M505 1293h.1M505 1304h.1M505 1230h.1M506 1277h.1M506 1334h.1M506 1212h.1M507 1302h.1M507 1249h.1M507 1262h.1M507 1250h.1M508 1221h.1M508 1199h.1M508 1256h.1M508 1211h.1M509 1321h.1M509 1230h.1M509 1320h.1M509 1228h.1M510 1284h.1M510 1296h.1M510 1216h.1M510 1238h.1M511 1229h.1M511 1219h.1M511 1291h.1M511 1175h.1M512 1186h.1M512 1158h.1M512 1270h.1M513 1215h.1M513 1161h.1M513 1162h.1M513 1205h.1M514 1194h.1M514 1225h.1M514 1199h.1M514 1168h.1M515 1238h.1M515 1253h.1M515 1164h.1M515 1181h.1M516 1261h.1M516 1187h.1M516 1082h.1M516 1139h.1M517 1263h.1M517 1165h.1M517 1272h.1M517 1274h.1M518 1281h.1M518 1311h.1M518 1237h.1M518 1253h.1M519 1135h.1M519 1235h.1M519 1282h.1M519 1190h.1M520 1218h.1M520 1253h.1M520 1254h.1M520 1361h.1M521 1326h.1M521 1270h.1M521 1300h.1M521 1283h.1M522 1292h.1M522 1219h.1M522 1170h.1M522 1277h.1M523 1270h.1M523 1278h.1M523 1236h.1M523 1197h.1M524 1272h.1M524 1223h.1M524 1288h.1M524 1189h.1M525 1235h.1M525 1242h.1M525 1258h.1M525 1247h.1M526 1247h.1M526 1255h.1M526 1380h.1M526 1261h.1M527 1310h.1M527 1297h.1M527 1272h.1M527 1259h.1M528 1261h.1M528 1241h.1M528 1317h.1M528 1250h.1M529 1288h.1M529 1239h.1M529 1256h.1M529 1206h.1M530 1177h.1M530 1256h.1M530 1174h.1M530 1200h.1M531 1180h.1M531 1309h.1M531 1353h.1M532 1273h.1M532 1170h.1M532 1285h.1M532 1209h.1M533 1254h.1M533 1157h.1M533 1267h.1M533 1215h.1M534 1118h.1M534 1207h.1M534 1201h.1M534 1224h.1M535 1177h.1M535 1309h.1M535 1190h.1M535 1246h.1M536 1194h.1M536 1236h.1M536 1277h.1M536 1186h.1M537 1250h.1M537 1242h.1M537 1317h.1M537 1308h.1M538 1220h.1M538 1266h.1M538 1237h.1M538 1331h.1M539 1300h.1M539 1402h.1M539 1294h.1M540 1311h.1M540 1194h.1M540 1320h.1M540 1309h.1M541 1291h.1M541 1364h.1M541 1464h.1M541 1443h.1M542 1457h.1M542 1378h.1M542 1434h.1M542 1464h.1M543 1347h.1M543 1371h.1M543 1327h.1M543 1421h.1M544 1325h.1M544 1312h.1M544 1299h.1M544 1319h.1M545 1286h.1M545 1241h.1M545 1289h.1M545 1252h.1M546 1302h.1M546 1272h.1M546 1260h.1M546 1263h.1M547 1281h.1M547 1207h.1M547 1291h.1M547 1254h.1M548 1214h.1M548 1249h.1M548 1240h.1M548 1237h.1M549 1316h.1M549 1194h.1M549 1182h.1M549 1120h.1M550 1176h.1M550 1189h.1M550 1155h.1M550 1126h.1M551 1070h.1M551 1195h.1M551 1157h.1M551 1160h.1M552 1149h.1M552 1189h.1M552 1306h.1M552 1216h.1M553 1167h.1M553 1124h.1M553 1138h.1M553 1154h.1M554 1196h.1M554 1095h.1M554 1154h.1M554 1220h.1M555 1156h.1M555 1148h.1M555 1159h.1M555 1097h.1M556 1112h.1M556 1147h.1M556 1232h.1M556 1097h.1M557 1178h.1M557 1106h.1M557 1078h.1M557 1140h.1M558 1128h.1M558 1115h.1M558 1107h.1M558 1091h.1M559 1054h.1M559 1060h.1M559 1112h.1M559 1132h.1M560 1166h.1M560 1159h.1M560 1151h.1M560 1184h.1M561 1257h.1M561 1120h.1M561 1243h.1M561 1222h.1M562 1196h.1M562 1164h.1M562 1185h.1M562 1160h.1M563 1197h.1M563 1312h.1M563 1213h.1M563 1162h.1M564 1116h.1M564 1088h.1M564 1186h.1M564 1158h.1M565 1123h.1M565 1211h.1M565 1153h.1M565 1171h.1M566 1104h.1M566 1121h.1M566 1150h.1M566 1090h.1M567 1174h.1M567 1258h.1M567 1064h.1M567 1214h.1M568 1089h.1M568 1287h.1M568 1172h.1M568 1282h.1M569 1282h.1M569 1163h.1M569 1191h.1M569 1154h.1M570 1240h.1M570 1169h.1M570 1073h.1M570 1162h.1M571 1174h.1M571 1124h.1M571 1248h.1M571 1201h.1M572 1260h.1M572 1147h.1M572 1187h.1M572 1183h.1M573 1182h.1M573 1109h.1M573 1117h.1M573 1093h.1M574 1152h.1M574 1155h.1M574 1150h.1M574 1218h.1M575 1104h.1M575 1275h.1M575 1240h.1M575 1167h.1M576 1190h.1M576 1178h.1M576 1191h.1M576 1239h.1M577 1139h.1M577 1268h.1M577 1137h.1M577 1197h.1M578 1235h.1M578 1277h.1M578 1182h.1M578 1255h.1M579 1221h.1M579 1270h.1M579 1282h.1M579 1218h.1M580 1222h.1M580 1229h.1M580 1208h.1M580 1191h.1M581 1282h.1M581 1241h.1M581 1236h.1M581 1322h.1M582 1243h.1M582 1276h.1M582 1266h.1M582 1310h.1M583 1272h.1M583 1281h.1M583 1262h.1M583 1289h.1M584 1303h.1M584 1274h.1M584 1293h.1M584 1294h.1M585 1211h.1M585 1194h.1M585 1188h.1M585 1280h.1M586 1182h.1M586 1198h.1M586 1113h.1M586 1280h.1M587 1179h.1M587 1277h.1M587 1121h.1M587 1246h.1M588 1173h.1M588 1203h.1M588 1222h.1M588 1187h.1M589 1255h.1M589 1213h.1M589 1133h.1M589 1244h.1M590 1275h.1M590 1187h.1M590 1173h.1M590 1156h.1M591 1166h.1M591 1162h.1M591 1228h.1M591 1227h.1M592 1187h.1M592 1272h.1M592 1207h.1M592 1299h.1M593 1169h.1M593 1295h.1M593 1325h.1M593 1183h.1M594 1366h.1M594 1367h.1M594 1348h.1M594 1260h.1M595 1284h.1M595 1225h.1M595 1330h.1M596 1308h.1M596 1219h.1M596 1320h.1M596 1227h.1M597 1270h.1M597 1279h.1M597 1266h.1M597 1278h.1M598 1297h.1M598 1199h.1M598 1281h.1M598 1298h.1M599 1309h.1M599 1225h.1M599 1291h.1M599 1308h.1M600 1338h.1M600 1337h.1M600 1245h.1M600 1353h.1M601 1372h.1M601 1431h.1M601 1246h.1M601 1357h.1M602 1285h.1M602 1257h.1M602 1302h.1M602 1251h.1M603 1435h.1M603 1182h.1M603 1213h.1M603 1308h.1M604 1330h.1M604 1186h.1M604 1288h.1M604 1387h.1M605 1395h.1M605 1350h.1M605 1279h.1M605 1304h.1M606 1154h.1M606 1289h.1M606 1300h.1M606 1238h.1M607 1183h.1M607 1162h.1M607 1200h.1M607 1138h.1M608 1355h.1M608 1209h.1M608 1159h.1M608 1277h.1M609 1320h.1M609 1285h.1M609 1171h.1M609 1119h.1M610 1205h.1M610 1325h.1M610 1281h.1M610 1287h.1M611 1388h.1M611 1351h.1M611 1256h.1M611 1266h.1M612 1264h.1M612 1346h.1M612 1226h.1M612 1321h.1M613 1134h.1M613 1223h.1M613 1277h.1M613 1167h.1M614 1221h.1M614 1212h.1M614 1227h.1M614 1330h.1M615 1293h.1M615 1304h.1M615 1253h.1M615 1274h.1M616 1208h.1M616 1164h.1M616 1155h.1M616 1192h.1M617 1247h.1M617 1127h.1M617 1198h.1M617 1136h.1M618 1228h.1M618 1237h.1M618 1195h.1M618 1214h.1M619 1220h.1M619 1204h.1M619 1175h.1M619 1210h.1M620 1201h.1M620 1275h.1M620 1242h.1M620 1257h.1M621 1180h.1M621 1408h.1M621 1356h.1M621 1254h.1M622 1295h.1M622 1240h.1M622 1260h.1M622 1269h.1M623 1295h.1M623 1284h.1M623 1299h.1M623 1362h.1M624 1288h.1M624 1330h.1M624 1369h.1M624 1276h.1M625 1411h.1M625 1348h.1M625 1440h.1M625 1421h.1M626 1445h.1M626 1341h.1M626 1499h.1M626 1330h.1M627 1352h.1M627 1353h.1M627 1274h.1M627 1338h.1M628 1306h.1M628 1339h.1M628 1406h.1M628 1333h.1M629 1286h.1M629 1371h.1M629 1246h.1M629 1406h.1M630 1378h.1M630 1407h.1M630 1336h.1M630 1388h.1M631 1274h.1M631 1378h.1M631 1349h.1M631 1275h.1M632 1301h.1M632 1241h.1M632 1316h.1M632 1279h.1M633 1253h.1M633 1183h.1M633 1308h.1M633 1306h.1M634 1300h.1M634 1238h.1M634 1220h.1M634 1256h.1M635 1392h.1M635 1310h.1M635 1283h.1M635 1351h.1M636 1295h.1M636 1283h.1M636 1406h.1M636 1260h.1M637 1254h.1M637 1314h.1M637 1323h.1M637 1272h.1M638 1253h.1M638 1322h.1M638 1295h.1M638 1335h.1M639 1158h.1M639 1196h.1M639 1175h.1M639 1180h.1M640 1211h.1M640 1139h.1M640 1114h.1M640 1079h.1M641 1057h.1M641 1221h.1M641 1048h.1M641 1132h.1M642 1164h.1M642 1146h.1M642 1186h.1M642 1179h.1M643 1304h.1M643 1200h.1M643 1239h.1M643 1338h.1M644 1396h.1M644 1280h.1M644 1383h.1M644 1356h.1M645 1433h.1M645 1439h.1M645 1370h.1M645 1389h.1M646 1432h.1M646 1430h.1M646 1366h.1M646 1293h.1M647 1366h.1M647 1372h.1M647 1245h.1M647 1265h.1M648 1356h.1M648 1391h.1M648 1401h.1M648 1348h.1M649 1363h.1M649 1390h.1M649 1313h.1M649 1296h.1M650 1312h.1M650 1413h.1M650 1361h.1M650 1423h.1M651 1480h.1M651 1379h.1M651 1377h.1M651 1310h.1M652 1337h.1M652 1317h.1M652 1406h.1M653 1390h.1M653 1317h.1M653 1394h.1M653 1303h.1M654 1303h.1M654 1319h.1M654 1353h.1M654 1306h.1M655 1280h.1M655 1286h.1M655 1327h.1M655 1300h.1M656 1315h.1M656 1309h.1M656 1381h.1M656 1355h.1M657 1263h.1M657 1387h.1M657 1205h.1M657 1375h.1M658 1192h.1M658 1365h.1M658 1212h.1M658 1235h.1M659 1323h.1M659 1316h.1M659 1231h.1M659 1378h.1M660 1358h.1M660 1344h.1M660 1326h.1M660 1282h.1M661 1356h.1M661 1312h.1M661 1330h.1M661 1228h.1M662 1127h.1M662 1102h.1M662 1188h.1M662 1260h.1M663 1299h.1M663 1323h.1M663 1313h.1M663 1266h.1M664 1300h.1M664 1281h.1M664 1274h.1M664 1282h.1M665 1231h.1M665 1107h.1M665 1137h.1M665 1210h.1M666 1162h.1M666 1254h.1M666 1152h.1M666 1227h.1M667 1246h.1M667 1323h.1M667 1311h.1M667 1281h.1M668 1284h.1M668 1380h.1M668 1172h.1M668 1245h.1M669 1333h.1M669 1237h.1M669 1187h.1M669 1282h.1M670 1328h.1M670 1352h.1M670 1271h.1M670 1262h.1M671 1267h.1M671 1261h.1M671 1213h.1M671 1302h.1M672 1243h.1M672 1165h.1M672 1216h.1M672 1238h.1M673 1277h.1M673 1318h.1M673 1224h.1M673 1267h.1M674 1298h.1M674 1304h.1M674 1371h.1M674 1314h.1M675 1293h.1M675 1326h.1M675 1375h.1M675 1388h.1M676 1371h.1M676 1435h.1M676 1346h.1M676 1505h.1M677 1394h.1M677 1411h.1M677 1444h.1M677 1464h.1M678 1454h.1M678 1326h.1M678 1324h.1M678 1339h.1M679 1374h.1M679 1407h.1M679 1438h.1M679 1479h.1M680 1427h.1M680 1450h.1M680 1411h.1M680 1365h.1M681 1327h.1M681 1418h.1M681 1428h.1M681 1379h.1M682 1341h.1M682 1457h.1M682 1435h.1M682 1439h.1M682 1441h.1M683 1408h.1M683 1467h.1M683 1381h.1M683 1372h.1M684 1401h.1M684 1393h.1M684 1414h.1M684 1340h.1M685 1376h.1M685 1420h.1M685 1390h.1M685 1284h.1M686 1247h.1M686 1285h.1M686 1338h.1M686 1392h.1M687 1360h.1M687 1383h.1M687 1263h.1M687 1295h.1M688 1245h.1M688 1268h.1M688 1270h.1M688 1318h.1M689 1317h.1M689 1389h.1M689 1395h.1M689 1321h.1M690 1345h.1M690 1272h.1M690 1399h.1M690 1349h.1M691 1353h.1M691 1301h.1M691 1321h.1M691 1333h.1M692 1424h.1M692 1353h.1M692 1342h.1M692 1326h.1M693 1268h.1M693 1296h.1M693 1262h.1M693 1307h.1M694 1266h.1M694 1242h.1M694 1298h.1M694 1320h.1M695 1365h.1M695 1269h.1M695 1234h.1M695 1363h.1M696 1160h.1M696 1238h.1M696 1282h.1M696 1205h.1M697 1285h.1M697 1236h.1M697 1275h.1M697 1239h.1M698 1242h.1M698 1342h.1M698 1402h.1M698 1376h.1M699 1392h.1M699 1429h.1M699 1302h.1M699 1435h.1M700 1382h.1M700 1395h.1M700 1369h.1M700 1280h.1M701 1274h.1M701 1393h.1M701 1335h.1M701 1303h.1M702 1382h.1M702 1360h.1M702 1363h.1M702 1339h.1M703 1345h.1M703 1483h.1M703 1417h.1M703 1398h.1M704 1388h.1M704 1475h.1M704 1383h.1M704 1404h.1M705 1490h.1M705 1396h.1M705 1347h.1M705 1497h.1M706 1358h.1M706 1404h.1M706 1334h.1M706 1459h.1M707 1362h.1M707 1385h.1M707 1388h.1M707 1313h.1M708 1320h.1M708 1462h.1M708 1417h.1M708 1346h.1M709 1395h.1M709 1314h.1M709 1358h.1M709 1337h.1M710 1356h.1M710 1337h.1M710 1364h.1M711 1314h.1M711 1394h.1M711 1294h.1M711 1377h.1M712 1471h.1M712 1391h.1M712 1350h.1M712 1296h.1M713 1426h.1M713 1420h.1M713 1411h.1M713 1367h.1M714 1446h.1M714 1398h.1M714 1343h.1M714 1431h.1M715 1431h.1M715 1366h.1M715 1479h.1M715 1396h.1M716 1392h.1M716 1337h.1M716 1503h.1M716 1368h.1M717 1385h.1M717 1404h.1M717 1420h.1M717 1343h.1M718 1361h.1M718 1383h.1M718 1351h.1M718 1359h.1M719 1405h.1M719 1480h.1M719 1355h.1M719 1354h.1M720 1424h.1M720 1322h.1M720 1324h.1M720 1339h.1M721 1285h.1M721 1412h.1M721 1305h.1M721 1319h.1M722 1351h.1M722 1348h.1M722 1384h.1M722 1458h.1M723 1336h.1M723 1314h.1M723 1248h.1M723 1309h.1M724 1235h.1M724 1408h.1M724 1440h.1M724 1271h.1M725 1394h.1M725 1406h.1M725 1334h.1M725 1370h.1M726 1320h.1M726 1308h.1M726 1287h.1M726 1299h.1M727 1341h.1M727 1398h.1M727 1412h.1M727 1436h.1M728 1466h.1M728 1470h.1M728 1347h.1M728 1457h.1M729 1454h.1M729 1485h.1M729 1330h.1M729 1316h.1M730 1327h.1M730 1369h.1M730 1389h.1M730 1315h.1M731 1341h.1M731 1299h.1M731 1389h.1M731 1277h.1M732 1252h.1M732 1181h.1M732 1215h.1M732 1365h.1M733 1352h.1M733 1404h.1M733 1357h.1M733 1383h.1M734 1297h.1M734 1291h.1M734 1342h.1M734 1409h.1M735 1308h.1M735 1342h.1M735 1317h.1M735 1316h.1M736 1374h.1M736 1363h.1M736 1445h.1M736 1364h.1M737 1337h.1M737 1376h.1M737 1314h.1M737 1295h.1M738 1286h.1M738 1279h.1M738 1355h.1M738 1308h.1M739 1287h.1M739 1381h.1M739 1382h.1M739 1278h.1M740 1284h.1M740 1298h.1M740 1175h.1M740 1202h.1M741 1362h.1M741 1299h.1M741 1218h.1M741 1287h.1M742 1298h.1M742 1280h.1M742 1295h.1M742 1293h.1M743 1330h.1M743 1214h.1M743 1428h.1M743 1235h.1M744 1266h.1M744 1256h.1M744 1268h.1M744 1227h.1M745 1256h.1M745 1271h.1M745 1282h.1M745 1292h.1M746 1176h.1M746 1326h.1M746 1215h.1M746 1189h.1M747 1244h.1M747 1257h.1M747 1265h.1M747 1319h.1M748 1300h.1M748 1198h.1M748 1262h.1M748 1302h.1M749 1242h.1M749 1297h.1M749 1254h.1M749 1276h.1M750 1206h.1M750 1196h.1M750 1272h.1M750 1173h.1M751 1251h.1M751 1232h.1M751 1321h.1M752 1232h.1M752 1233h.1M752 1207h.1M752 1222h.1M753 1253h.1M753 1301h.1M753 1360h.1M753 1339h.1M754 1298h.1M754 1183h.1M754 1303h.1M754 1241h.1M755 1294h.1M755 1258h.1M755 1289h.1M755 1300h.1M756 1246h.1M756 1297h.1M756 1292h.1M756 1243h.1M757 1331h.1M757 1281h.1M757 1301h.1M757 1322h.1M758 1264h.1M758 1256h.1M758 1282h.1M758 1331h.1M759 1228h.1M759 1249h.1M759 1283h.1M759 1260h.1M760 1285h.1M760 1344h.1M760 1310h.1M760 1349h.1M761 1291h.1M761 1327h.1M761 1282h.1M761 1277h.1M762 1216h.1M762 1339h.1M762 1238h.1M762 1337h.1M763 1224h.1M763 1250h.1M763 1292h.1M763 1227h.1M764 1257h.1M764 1293h.1M764 1281h.1M764 1350h.1M765 1394h.1M765 1357h.1M765 1342h.1M766 1227h.1M766 1333h.1M766 1339h.1M766 1304h.1M767 1313h.1M767 1346h.1M767 1433h.1M767 1360h.1M768 1458h.1M768 1370h.1M768 1414h.1M768 1368h.1M769 1302h.1M769 1286h.1M769 1312h.1M769 1293h.1M770 1287h.1M770 1337h.1M770 1312h.1M770 1361h.1M771 1312h.1M771 1279h.1M771 1360h.1M771 1282h.1M772 1361h.1M772 1285h.1M772 1291h.1M772 1336h.1M773 1358h.1M773 1272h.1M773 1229h.1M773 1317h.1M774 1306h.1M774 1280h.1M774 1355h.1M775 1289h.1M775 1318h.1M775 1259h.1M775 1398h.1M776 1398h.1M776 1440h.1M776 1365h.1M776 1286h.1M777 1305h.1M777 1346h.1M777 1264h.1M777 1317h.1M778 1265h.1M778 1249h.1M778 1258h.1M778 1363h.1M779 1272h.1M779 1262h.1M779 1303h.1M779 1277h.1M780 1243h.1M780 1274h.1M780 1248h.1M780 1393h.1M781 1391h.1M781 1334h.1M781 1286h.1M781 1353h.1M782 1306h.1M782 1348h.1M782 1324h.1M782 1322h.1M783 1293h.1M783 1313h.1M783 1350h.1M783 1282h.1M784 1336h.1M784 1259h.1M784 1350h.1M784 1349h.1M785 1355h.1M785 1345h.1M785 1377h.1M785 1333h.1M786 1281h.1M786 1309h.1M786 1264h.1M786 1292h.1M787 1226h.1M787 1262h.1M787 1257h.1M787 1287h.1M788 1275h.1M788 1262h.1M788 1308h.1M788 1284h.1M789 1290h.1M789 1195h.1M789 1286h.1M789 1343h.1M790 1366h.1M790 1394h.1M790 1241h.1M790 1294h.1M791 1270h.1M791 1268h.1M791 1289h.1M791 1278h.1M792 1181h.1M792 1214h.1M792 1247h.1M792 1328h.1M793 1310h.1M793 1274h.1M793 1214h.1M793 1180h.1M794 1173h.1M794 1208h.1M794 1334h.1M794 1179h.1M795 1175h.1M795 1228h.1M795 1223h.1M795 1314h.1M796 1322h.1M796 1191h.1M796 1259h.1M797 1201h.1M797 1296h.1M797 1181h.1M797 1216h.1M798 1259h.1M798 1300h.1M798 1245h.1M798 1198h.1M799 1233h.1M799 1169h.1M799 1363h.1M799 1380h.1M800 1365h.1M800 1299h.1M800 1283h.1M800 1199h.1M801 1356h.1M801 1270h.1M801 1307h.1M801 1284h.1M802 1288h.1M802 1351h.1M802 1314h.1M802 1330h.1M803 1363h.1M803 1318h.1M803 1255h.1M803 1336h.1M804 1320h.1M804 1403h.1M804 1357h.1M804 1366h.1M805 1291h.1M805 1308h.1M805 1406h.1M805 1398h.1M806 1338h.1M806 1378h.1M806 1397h.1M806 1342h.1M807 1441h.1M807 1304h.1M807 1315h.1M807 1387h.1M808 1355h.1M808 1302h.1M808 1349h.1M808 1415h.1M809 1422h.1M809 1393h.1M809 1434h.1M809 1454h.1M810 1383h.1M810 1402h.1M810 1429h.1M810 1267h.1M811 1433h.1M811 1385h.1M811 1470h.1M811 1416h.1M812 1326h.1M812 1434h.1M812 1418h.1M812 1374h.1M813 1434h.1M813 1446h.1M813 1393h.1M813 1327h.1M814 1398h.1M814 1408h.1M814 1264h.1M814 1432h.1M815 1354h.1M815 1404h.1M815 1314h.1M815 1409h.1M816 1346h.1M816 1433h.1M816 1369h.1M816 1390h.1M817 1304h.1M817 1347h.1M817 1332h.1M817 1282h.1M818 1195h.1M818 1365h.1M818 1321h.1M818 1305h.1M819 1353h.1M819 1402h.1M819 1317h.1M819 1264h.1M820 1329h.1M820 1360h.1M820 1349h.1M820 1431h.1M821 1299h.1M821 1356h.1M821 1374h.1M821 1378h.1M822 1351h.1M822 1403h.1M822 1231h.1M822 1331h.1M823 1213h.1M823 1173h.1M823 1207h.1M823 1256h.1M824 1293h.1M824 1377h.1M824 1287h.1M824 1302h.1M825 1320h.1M825 1358h.1M825 1301h.1M825 1382h.1M826 1347h.1M826 1334h.1M826 1366h.1M826 1287h.1M827 1434h.1M827 1327h.1M827 1391h.1M827 1295h.1M828 1277h.1M828 1203h.1M828 1293h.1M828 1258h.1M829 1159h.1M829 1270h.1M829 1360h.1M829 1262h.1M830 1283h.1M830 1199h.1M830 1177h.1M830 1156h.1M831 1290h.1M831 1223h.1M831 1317h.1M831 1219h.1M832 1254h.1M832 1264h.1M832 1236h.1M832 1237h.1M833 1295h.1M833 1320h.1M833 1314h.1M833 1297h.1M834 1332h.1M834 1355h.1M834 1381h.1M834 1380h.1M835 1296h.1M835 1340h.1M835 1349h.1M835 1204h.1M836 1411h.1M836 1400h.1M836 1328h.1M836 1357h.1M837 1374h.1M837 1317h.1M837 1347h.1M837 1356h.1M838 1235h.1M838 1233h.1M838 1347h.1M838 1194h.1M839 1377h.1M839 1277h.1M839 1288h.1M839 1251h.1M840 1299h.1M840 1335h.1M840 1236h.1M840 1349h.1M841 1359h.1M841 1340h.1M841 1415h.1M841 1407h.1M842 1326h.1M842 1403h.1M842 1275h.1M842 1368h.1M843 1383h.1M843 1442h.1M843 1307h.1M843 1313h.1M844 1267h.1M844 1301h.1M844 1291h.1M844 1392h.1M845 1305h.1M845 1337h.1M845 1317h.1M845 1374h.1M846 1438h.1M846 1369h.1M846 1425h.1M846 1355h.1M847 1339h.1M847 1415h.1M847 1387h.1M847 1297h.1M848 1354h.1M848 1348h.1M848 1248h.1M848 1385h.1M849 1402h.1M849 1386h.1M849 1370h.1M849 1399h.1M850 1333h.1M850 1381h.1M850 1431h.1M850 1349h.1M851 1318h.1M851 1313h.1M851 1406h.1M851 1353h.1M852 1422h.1M852 1323h.1M852 1333h.1M852 1434h.1M853 1413h.1M853 1439h.1M853 1415h.1M853 1400h.1M854 1425h.1M854 1464h.1M854 1476h.1M854 1475h.1M855 1465h.1M855 1429h.1M855 1386h.1M855 1348h.1M856 1344h.1M856 1387h.1M856 1382h.1M856 1276h.1M857 1383h.1M857 1371h.1M857 1397h.1M857 1339h.1M858 1294h.1M858 1399h.1M858 1292h.1M858 1377h.1M859 1362h.1M859 1278h.1M859 1324h.1M859 1391h.1M860 1334h.1M860 1324h.1M860 1389h.1M861 1371h.1M861 1300h.1M861 1331h.1M861 1341h.1M862 1312h.1M862 1393h.1M862 1436h.1M862 1303h.1M863 1394h.1M863 1314h.1M863 1346h.1M864 1359h.1M864 1385h.1M864 1334h.1M864 1221h.1M865 1284h.1M865 1367h.1M865 1239h.1M865 1273h.1M866 1276h.1M866 1311h.1M866 1320h.1M866 1242h.1M867 1223h.1M867 1318h.1M867 1384h.1M867 1310h.1M868 1314h.1M868 1319h.1M868 1409h.1M868 1273h.1M869 1409h.1M869 1340h.1M869 1305h.1M869 1268h.1M870 1246h.1M870 1252h.1M870 1315h.1M870 1285h.1M871 1449h.1M871 1381h.1M871 1374h.1M871 1310h.1M872 1341h.1M872 1313h.1M872 1275h.1M872 1332h.1M873 1282h.1M873 1292h.1M873 1260h.1M873 1330h.1M874 1392h.1M874 1372h.1M874 1332h.1M874 1389h.1M875 1323h.1M875 1292h.1M875 1254h.1M876 1273h.1M876 1221h.1M876 1296h.1M876 1318h.1M877 1224h.1M877 1297h.1M877 1275h.1M877 1362h.1M878 1343h.1M878 1391h.1M878 1394h.1M878 1392h.1M879 1429h.1M879 1297h.1M879 1385h.1M879 1289h.1M880 1437h.1M880 1391h.1M880 1304h.1M880 1282h.1M881 1325h.1M881 1335h.1M881 1250h.1M881 1221h.1M882 1335h.1M882 1247h.1M882 1265h.1M882 1379h.1M883 1274h.1M883 1282h.1M883 1357h.1M883 1289h.1M884 1307h.1M884 1351h.1M884 1360h.1M884 1305h.1M885 1299h.1M885 1319h.1M885 1300h.1M885 1169h.1M886 1233h.1M886 1261h.1M886 1290h.1M886 1307h.1M887 1320h.1M887 1265h.1M887 1378h.1M887 1347h.1M888 1364h.1M888 1470h.1M888 1315h.1M888 1403h.1M889 1370h.1M889 1351h.1M889 1280h.1M889 1355h.1M890 1336h.1M890 1298h.1M890 1381h.1M890 1379h.1M891 1412h.1M891 1373h.1M891 1356h.1M891 1367h.1M892 1317h.1M892 1297h.1M892 1294h.1M892 1229h.1M893 1232h.1M893 1288h.1M893 1305h.1M893 1408h.1M894 1313h.1M894 1390h.1M894 1371h.1M894 1224h.1M895 1353h.1M895 1191h.1M895 1224h.1M895 1317h.1M896 1274h.1M896 1262h.1M896 1232h.1M896 1280h.1M897 1377h.1M897 1228h.1M897 1250h.1M897 1311h.1M898 1288h.1M898 1300h.1M898 1350h.1M898 1242h.1M899 1309h.1M899 1315h.1M899 1218h.1M899 1277h.1M900 1265h.1M900 1375h.1M900 1371h.1M901 1316h.1M901 1429h.1M901 1366h.1M901 1306h.1M902 1410h.1M902 1366h.1M902 1421h.1M902 1454h.1M903 1391h.1M903 1443h.1M903 1386h.1M903 1444h.1M904 1400h.1M904 1422h.1M904 1394h.1M904 1345h.1M905 1398h.1M905 1440h.1M905 1288h.1M905 1362h.1M905 1497h.1M906 1306h.1M906 1389h.1M906 1434h.1M906 1432h.1M907 1430h.1M907 1369h.1M907 1354h.1M907 1364h.1M908 1384h.1M908 1398h.1M908 1310h.1M908 1392h.1M909 1324h.1M909 1369h.1M909 1368h.1M909 1405h.1M910 1423h.1M910 1333h.1M910 1376h.1M910 1478h.1M911 1410h.1M911 1403h.1M911 1431h.1M911 1412h.1M912 1379h.1M912 1372h.1M912 1424h.1M912 1429h.1M913 1304h.1M913 1412h.1M913 1349h.1M913 1366h.1M914 1392h.1M914 1319h.1M914 1432h.1M914 1391h.1M915 1491h.1M915 1421h.1M915 1442h.1M915 1471h.1M916 1447h.1M916 1443h.1M916 1377h.1M916 1463h.1M917 1429h.1M917 1397h.1M917 1339h.1M917 1443h.1M918 1419h.1M918 1390h.1M918 1394h.1M918 1275h.1M919 1343h.1M919 1416h.1M919 1444h.1M919 1351h.1M920 1282h.1M920 1362h.1M920 1367h.1M920 1328h.1M921 1328h.1M921 1316h.1M921 1292h.1M921 1323h.1M922 1268h.1M922 1349h.1M922 1347h.1M922 1274h.1M923 1410h.1M923 1317h.1M923 1328h.1M923 1300h.1M924 1298h.1M924 1373h.1M924 1335h.1M924 1361h.1M925 1178h.1M925 1274h.1M925 1293h.1M925 1329h.1M926 1318h.1M926 1423h.1M926 1286h.1M926 1350h.1M927 1422h.1M927 1330h.1M927 1342h.1M928 1332h.1M928 1351h.1M928 1376h.1M928 1361h.1M929 1373h.1M929 1370h.1M929 1366h.1M929 1331h.1M930 1352h.1M930 1354h.1M930 1252h.1M930 1299h.1M931 1360h.1M931 1316h.1M931 1246h.1M931 1324h.1M932 1377h.1M932 1293h.1M932 1393h.1M932 1356h.1M933 1359h.1M933 1336h.1M933 1235h.1M933 1355h.1M934 1361h.1M934 1356h.1M934 1248h.1M934 1303h.1M935 1320h.1M935 1301h.1M935 1313h.1M935 1245h.1M936 1247h.1M936 1170h.1M936 1258h.1M936 1358h.1M937 1271h.1M937 1320h.1M937 1245h.1M937 1279h.1M938 1284h.1M938 1246h.1M938 1260h.1M938 1330h.1M939 1278h.1M939 1157h.1M939 1264h.1M939 1261h.1M940 1392h.1M940 1371h.1M940 1380h.1M940 1335h.1M941 1327h.1M941 1326h.1M941 1273h.1M941 1361h.1M942 1298h.1M942 1376h.1M942 1301h.1M942 1401h.1M943 1293h.1M943 1387h.1M943 1324h.1M943 1322h.1M944 1290h.1M944 1266h.1M944 1327h.1M944 1364h.1M945 1298h.1M945 1284h.1M945 1289h.1M945 1401h.1M946 1352h.1M946 1276h.1M946 1418h.1M946 1373h.1M947 1356h.1M947 1222h.1M947 1359h.1M947 1264h.1M948 1288h.1M948 1317h.1M948 1324h.1M948 1427h.1M949 1347h.1M949 1405h.1M949 1343h.1M949 1338h.1M950 1316h.1M950 1362h.1M950 1506h.1M950 1465h.1M951 1383h.1M951 1427h.1M951 1373h.1M951 1435h.1M952 1342h.1M952 1501h.1M952 1413h.1M952 1414h.1M953 1320h.1M953 1348h.1M953 1403h.1M953 1349h.1M954 1230h.1M954 1388h.1M954 1340h.1M954 1394h.1M955 1412h.1M955 1325h.1M955 1410h.1M955 1323h.1M956 1403h.1M956 1411h.1M956 1373h.1M956 1341h.1M957 1374h.1M957 1327h.1M957 1304h.1M957 1345h.1M958 1278h.1M958 1287h.1M958 1333h.1M959 1285h.1M959 1264h.1M959 1256h.1M959 1356h.1M960 1235h.1M960 1299h.1M960 1346h.1M960 1231h.1M961 1269h.1M961 1326h.1M961 1311h.1M961 1302h.1M962 1280h.1M962 1349h.1M962 1282h.1M962 1242h.1M963 1269h.1M963 1276h.1M963 1359h.1M963 1247h.1M964 1223h.1M964 1250h.1M964 1205h.1M964 1278h.1M965 1233h.1M965 1113h.1M965 1206h.1M965 1292h.1M966 1246h.1M966 1286h.1M966 1294h.1M966 1345h.1M967 1295h.1M967 1328h.1M967 1254h.1M967 1298h.1M968 1269h.1M968 1273h.1M968 1260h.1M968 1349h.1M969 1213h.1M969 1333h.1M969 1317h.1M969 1278h.1M970 1273h.1M970 1233h.1M970 1251h.1M970 1196h.1M971 1196h.1M971 1220h.1M971 1157h.1M971 1325h.1M972 1241h.1M972 1272h.1M972 1306h.1M972 1194h.1M973 1269h.1M973 1287h.1M973 1254h.1M973 1277h.1M974 1193h.1M974 1289h.1M974 1194h.1M974 1163h.1M975 1256h.1M975 1199h.1M975 1186h.1M975 1305h.1M976 1251h.1M976 1258h.1M976 1284h.1M976 1211h.1M977 1229h.1M977 1197h.1M977 1335h.1M977 1269h.1M978 1330h.1M978 1311h.1M978 1279h.1M978 1325h.1M979 1363h.1M979 1281h.1M979 1294h.1M979 1315h.1M980 1311h.1M980 1301h.1M980 1294h.1M980 1275h.1M981 1287h.1M981 1283h.1M981 1229h.1M981 1276h.1M982 1204h.1M982 1212h.1M982 1232h.1M982 1285h.1M983 1232h.1M983 1318h.1M983 1246h.1M983 1240h.1M984 1235h.1M984 1251h.1M984 1207h.1M984 1268h.1M985 1360h.1M985 1314h.1M985 1303h.1M985 1288h.1M986 1253h.1M986 1267h.1M986 1293h.1M986 1299h.1M987 1299h.1M987 1392h.1M987 1286h.1M987 1268h.1M988 1373h.1M988 1258h.1M988 1230h.1M988 1292h.1M989 1365h.1M989 1424h.1M989 1329h.1M989 1352h.1M990 1404h.1M990 1305h.1M990 1313h.1M990 1315h.1M991 1309h.1M991 1370h.1M991 1373h.1M991 1359h.1M992 1344h.1M992 1404h.1M992 1306h.1M992 1291h.1M993 1368h.1M993 1349h.1M993 1350h.1M993 1324h.1M994 1267h.1M994 1385h.1M994 1319h.1M994 1392h.1M995 1389h.1M995 1359h.1M995 1459h.1M995 1411h.1M996 1334h.1M996 1394h.1M996 1326h.1M996 1449h.1M997 1354h.1M997 1426h.1M997 1298h.1M997 1351h.1M998 1327h.1M998 1298h.1M998 1310h.1M998 1242h.1M999 1320h.1M999 1297h.1M999 1326h.1M999 1345h.1M1000 1306h.1M1000 1313h.1M1000 1291h.1M1000 1277h.1M1001 1333h.1M1001 1300h.1M1001 1284h.1M1001 1357h.1M1002 1295h.1M1002 1317h.1M1002 1314h.1M1002 1357h.1M1003 1311h.1M1003 1324h.1M1003 1269h.1M1003 1325h.1M1004 1310h.1M1004 1322h.1M1004 1342h.1M1004 1333h.1M1005 1396h.1M1005 1278h.1M1005 1281h.1M1005 1259h.1M1006 1233h.1M1006 1218h.1M1006 1234h.1M1006 1392h.1M1007 1276h.1M1007 1253h.1M1007 1242h.1M1007 1274h.1M1008 1266h.1M1008 1234h.1M1008 1286h.1M1008 1242h.1M1009 1279h.1M1009 1235h.1M1009 1257h.1M1009 1287h.1M1010 1313h.1M1010 1235h.1M1010 1303h.1M1010 1291h.1M1011 1282h.1M1011 1295h.1M1011 1275h.1M1011 1272h.1M1012 1243h.1M1012 1229h.1M1012 1248h.1M1012 1323h.1M1013 1360h.1M1013 1296h.1M1013 1308h.1M1013 1342h.1M1014 1296h.1M1014 1295h.1M1014 1297h.1M1014 1332h.1M1015 1265h.1M1015 1238h.1M1015 1268h.1M1015 1294h.1M1016 1253h.1M1016 1240h.1M1016 1226h.1M1016 1144h.1M1017 1306h.1M1017 1280h.1M1017 1266h.1M1017 1320h.1M1018 1151h.1M1018 1203h.1M1018 1225h.1M1018 1320h.1M1019 1178h.1M1019 1263h.1M1019 1228h.1M1019 1201h.1M1020 1220h.1M1020 1352h.1M1020 1191h.1M1020 1288h.1M1021 1191h.1M1021 1245h.1M1021 1294h.1M1021 1228h.1M1022 1180h.1M1022 1245h.1M1022 1365h.1M1022 1295h.1M1023 1290h.1M1023 1167h.1M1023 1257h.1M1023 1260h.1M1024 1297h.1M1024 1203h.1M1024 1279h.1M1024 1249h.1M1025 1177h.1M1025 1224h.1M1025 1243h.1M1025 1206h.1M1026 1291h.1M1026 1242h.1M1026 1270h.1M1026 1249h.1M1027 1337h.1M1027 1265h.1M1027 1256h.1M1027 1219h.1M1028 1194h.1M1028 1193h.1M1028 1269h.1M1028 1239h.1M1029 1225h.1M1029 1285h.1M1029 1253h.1M1029 1293h.1M1030 1228h.1M1030 1219h.1M1030 1266h.1M1030 1213h.1M1031 1229h.1M1031 1331h.1M1031 1238h.1M1031 1211h.1M1032 1224h.1M1032 1299h.1M1032 1280h.1M1033 1211h.1M1033 1267h.1M1033 1319h.1M1033 1285h.1M1034 1298h.1M1034 1386h.1M1034 1280h.1M1034 1345h.1M1035 1325h.1M1035 1363h.1M1035 1380h.1M1035 1369h.1M1036 1354h.1M1036 1333h.1M1036 1379h.1M1036 1363h.1M1037 1353h.1M1037 1334h.1M1037 1372h.1M1037 1356h.1M1038 1352h.1M1038 1341h.1M1038 1385h.1M1038 1366h.1M1039 1394h.1M1039 1315h.1M1039 1451h.1M1039 1353h.1M1040 1462h.1M1040 1409h.1M1040 1360h.1M1040 1353h.1M1041 1421h.1M1041 1427h.1M1041 1497h.1M1041 1450h.1M1042 1404h.1M1042 1442h.1M1042 1478h.1M1042 1469h.1M1043 1443h.1M1043 1498h.1M1043 1485h.1M1043 1460h.1M1044 1504h.1M1044 1494h.1M1044 1423h.1M1044 1386h.1M1045 1421h.1M1045 1414h.1M1045 1405h.1M1045 1370h.1M1046 1411h.1M1046 1449h.1M1046 1452h.1M1046 1403h.1M1047 1407h.1M1047 1385h.1M1047 1340h.1M1047 1329h.1M1048 1281h.1M1048 1334h.1M1048 1351h.1M1048 1350h.1M1049 1395h.1M1049 1264h.1M1049 1367h.1M1049 1288h.1M1050 1352h.1M1050 1247h.1M1050 1359h.1M1050 1320h.1M1051 1349h.1M1051 1287h.1M1051 1295h.1M1051 1378h.1M1052 1303h.1M1052 1299h.1M1052 1266h.1M1052 1265h.1M1053 1292h.1M1053 1256h.1M1053 1270h.1M1053 1252h.1M1054 1442h.1M1054 1211h.1M1054 1409h.1M1054 1228h.1M1055 1206h.1M1055 1233h.1M1055 1258h.1M1056 1332h.1M1056 1296h.1M1056 1210h.1M1056 1251h.1M1057 1240h.1M1057 1256h.1M1057 1244h.1M1057 1228h.1M1058 1268h.1M1058 1219h.1M1058 1174h.1M1058 1206h.1M1059 1290h.1M1059 1309h.1M1059 1252h.1M1060 1231h.1M1060 1277h.1M1060 1233h.1M1060 1258h.1M1061 1266h.1M1061 1309h.1M1061 1261h.1M1061 1338h.1M1062 1207h.1M1062 1160h.1M1062 1220h.1M1062 1385h.1M1063 1208h.1M1063 1188h.1M1063 1271h.1M1063 1251h.1M1064 1232h.1M1064 1207h.1M1064 1248h.1M1064 1284h.1M1065 1350h.1M1065 1197h.1M1065 1264h.1M1065 1281h.1M1066 1193h.1M1066 1228h.1M1066 1304h.1M1067 1308h.1M1067 1340h.1M1067 1359h.1M1067 1234h.1M1068 1220h.1M1068 1231h.1M1068 1251h.1M1068 1273h.1M1069 1281h.1M1069 1282h.1M1069 1289h.1M1070 1308h.1M1070 1378h.1M1070 1213h.1M1070 1218h.1M1071 1201h.1M1071 1279h.1M1071 1261h.1M1071 1249h.1M1072 1302h.1M1072 1345h.1M1072 1310h.1M1072 1328h.1M1073 1358h.1M1073 1267h.1M1073 1335h.1M1073 1380h.1M1074 1353h.1M1074 1264h.1M1074 1246h.1M1074 1333h.1M1075 1285h.1M1075 1295h.1M1075 1324h.1M1075 1312h.1M1076 1388h.1M1076 1320h.1M1076 1316h.1M1076 1431h.1M1077 1403h.1M1077 1391h.1M1077 1372h.1M1077 1392h.1M1078 1485h.1M1078 1334h.1M1078 1335h.1M1078 1320h.1M1079 1345h.1M1079 1326h.1M1079 1276h.1M1079 1352h.1M1080 1297h.1M1080 1312h.1M1080 1359h.1M1080 1327h.1M1081 1291h.1M1081 1386h.1M1081 1283h.1M1081 1305h.1M1082 1343h.1M1082 1425h.1M1082 1409h.1M1082 1368h.1M1083 1375h.1M1083 1381h.1M1083 1403h.1M1083 1330h.1M1084 1365h.1M1084 1340h.1M1084 1320h.1M1084 1307h.1M1085 1355h.1M1085 1356h.1M1085 1399h.1M1085 1300h.1M1086 1413h.1M1086 1352h.1M1086 1368h.1M1086 1415h.1M1087 1330h.1M1087 1387h.1M1087 1407h.1M1087 1361h.1M1088 1322h.1M1088 1443h.1M1088 1390h.1M1088 1252h.1M1089 1223h.1M1089 1315h.1M1089 1206h.1M1089 1218h.1M1090 1246h.1M1090 1332h.1M1090 1242h.1M1090 1286h.1M1091 1281h.1M1091 1274h.1M1091 1324h.1M1091 1249h.1M1092 1258h.1M1092 1342h.1M1092 1334h.1M1092 1316h.1M1093 1247h.1M1093 1227h.1M1093 1191h.1M1093 1204h.1M1094 1258h.1M1094 1248h.1M1094 1233h.1M1094 1287h.1M1095 1213h.1M1095 1188h.1M1095 1247h.1M1095 1234h.1M1096 1255h.1M1096 1228h.1M1096 1321h.1M1096 1194h.1M1097 1224h.1M1097 1217h.1M1097 1269h.1M1097 1338h.1M1098 1261h.1M1098 1205h.1M1098 1272h.1M1099 1168h.1M1099 1236h.1M1099 1301h.1M1099 1327h.1M1100 1230h.1M1100 1141h.1M1100 1156h.1M1100 1192h.1M1101 1205h.1M1101 1308h.1M1101 1145h.1M1101 1123h.1M1102 1132h.1M1102 1102h.1M1102 1095h.1M1102 1134h.1M1103 1151h.1M1103 1112h.1M1103 1110h.1M1103 1163h.1M1104 1189h.1M1104 1142h.1M1104 1166h.1M1104 1186h.1M1105 1242h.1M1105 1264h.1M1105 1261h.1M1105 1196h.1M1106 1265h.1M1106 1140h.1M1106 1218h.1M1106 1160h.1M1107 1228h.1M1107 1193h.1M1107 1201h.1M1107 1168h.1M1108 1157h.1M1108 1230h.1M1108 1224h.1M1108 1216h.1M1109 1147h.1M1109 1132h.1M1109 1271h.1M1109 1212h.1M1110 1207h.1M1110 1280h.1M1110 1230h.1M1110 1255h.1M1111 1186h.1M1111 1301h.1M1111 1236h.1M1111 1309h.1M1112 1163h.1M1112 1252h.1M1112 1168h.1M1112 1255h.1M1113 1140h.1M1113 1190h.1M1113 1125h.1M1113 1093h.1M1114 1199h.1M1114 1146h.1M1114 1221h.1M1114 1261h.1M1115 1157h.1M1115 1148h.1M1115 1096h.1M1115 1117h.1M1116 1137h.1M1116 1091h.1M1116 1194h.1M1116 1123h.1M1117 1225h.1M1117 1064h.1M1117 1094h.1M1117 1103h.1M1118 1183h.1M1118 1269h.1M1118 1186h.1M1118 1239h.1M1119 1171h.1M1119 1159h.1M1119 1187h.1M1119 1222h.1M1120 1222h.1M1120 1259h.1M1120 1145h.1M1120 1152h.1M1121 1239h.1M1121 1228h.1M1121 1182h.1M1121 1187h.1M1122 1163h.1M1122 1150h.1M1122 1122h.1M1122 1184h.1M1123 1233h.1M1123 1247h.1M1123 1272h.1M1123 1243h.1M1124 1213h.1M1124 1194h.1M1124 1181h.1M1124 1210h.1M1125 1277h.1M1125 1254h.1M1125 1239h.1M1125 1250h.1M1126 1300h.1M1126 1250h.1M1126 1338h.1M1126 1268h.1M1127 1282h.1M1127 1256h.1M1127 1190h.1M1127 1271h.1M1127 1352h.1M1128 1287h.1M1128 1132h.1M1128 1261h.1M1128 1206h.1M1129 1285h.1M1129 1208h.1M1129 1227h.1M1129 1343h.1M1130 1321h.1M1130 1317h.1M1130 1400h.1M1130 1293h.1M1131 1361h.1M1131 1330h.1M1131 1311h.1M1131 1408h.1M1132 1337h.1M1132 1329h.1M1132 1297h.1M1132 1357h.1M1133 1302h.1M1133 1300h.1M1133 1359h.1M1133 1326h.1M1134 1369h.1M1134 1375h.1M1134 1412h.1M1134 1339h.1M1135 1264h.1M1135 1324h.1M1135 1349h.1M1135 1273h.1M1136 1268h.1M1136 1354h.1M1136 1297h.1M1137 1260h.1M1137 1297h.1M1137 1303h.1M1137 1290h.1M1138 1334h.1M1138 1316h.1M1138 1312h.1M1138 1275h.1M1139 1331h.1M1139 1280h.1M1139 1170h.1M1139 1315h.1M1140 1341h.1M1140 1236h.1M1140 1359h.1M1140 1302h.1M1141 1321h.1M1141 1339h.1M1141 1312h.1M1141 1224h.1M1142 1336h.1M1142 1252h.1M1142 1283h.1M1142 1237h.1M1143 1293h.1M1143 1305h.1M1143 1228h.1M1143 1292h.1M1144 1199h.1M1144 1245h.1M1144 1316h.1M1144 1243h.1M1145 1252h.1M1145 1250h.1M1145 1337h.1M1145 1267h.1M1146 1311h.1M1146 1341h.1M1146 1310h.1M1146 1344h.1M1147 1200h.1M1147 1150h.1M1147 1333h.1M1147 1208h.1M1148 1242h.1M1148 1271h.1M1148 1166h.1M1148 1263h.1M1149 1366h.1M1149 1306h.1M1149 1290h.1M1149 1351h.1M1150 1315h.1M1150 1358h.1M1150 1210h.1M1150 1373h.1M1151 1307h.1M1151 1308h.1M1151 1354h.1M1151 1253h.1M1152 1306h.1M1152 1231h.1M1152 1344h.1M1152 1325h.1M1153 1274h.1M1153 1246h.1M1153 1259h.1M1153 1192h.1M1154 1126h.1M1154 1264h.1M1154 1180h.1M1154 1167h.1M1155 1206h.1M1155 1213h.1M1155 1269h.1M1155 1262h.1M1156 1207h.1M1156 1266h.1M1156 1217h.1M1156 1210h.1M1157 1311h.1M1157 1252h.1M1157 1265h.1M1157 1296h.1M1158 1257h.1M1158 1252h.1M1158 1169h.1M1158 1220h.1M1159 1242h.1M1159 1216h.1M1159 1284h.1M1159 1167h.1M1160 1152h.1M1160 1250h.1M1160 1247h.1M1160 1276h.1M1161 1319h.1M1161 1246h.1M1161 1371h.1M1161 1296h.1M1162 1248h.1M1162 1258h.1M1162 1346h.1M1163 1291h.1M1163 1220h.1M1163 1263h.1M1163 1292h.1M1164 1277h.1M1164 1164h.1M1164 1209h.1M1164 1174h.1M1165 1217h.1M1165 1207h.1M1165 1240h.1M1165 1356h.1M1166 1265h.1M1166 1204h.1M1166 1302h.1M1166 1259h.1M1167 1295h.1M1167 1371h.1M1167 1168h.1M1167 1256h.1M1168 1254h.1M1168 1377h.1M1168 1286h.1M1168 1297h.1M1169 1259h.1M1169 1295h.1M1169 1331h.1M1169 1174h.1M1170 1348h.1M1170 1274h.1M1170 1275h.1M1170 1305h.1M1171 1281h.1M1171 1397h.1M1171 1300h.1M1171 1390h.1M1172 1361h.1M1172 1298h.1M1172 1315h.1M1173 1327h.1M1173 1400h.1M1173 1390h.1M1173 1329h.1M1174 1337h.1M1174 1407h.1M1174 1428h.1M1174 1387h.1M1175 1432h.1M1175 1379h.1M1175 1312h.1M1175 1314h.1M1176 1435h.1M1176 1367h.1M1176 1325h.1M1176 1233h.1M1177 1324h.1M1177 1370h.1M1177 1333h.1M1177 1329h.1M1178 1326h.1M1178 1361h.1M1178 1322h.1M1178 1303h.1M1179 1374h.1M1179 1360h.1M1179 1365h.1M1179 1307h.1M1180 1370h.1M1180 1325h.1M1180 1313h.1M1181 1203h.1M1181 1314h.1M1181 1239h.1M1181 1376h.1M1182 1285h.1M1182 1309h.1M1182 1404h.1M1182 1374h.1M1183 1330h.1M1183 1339h.1M1183 1367h.1M1183 1404h.1M1184 1419h.1M1184 1312h.1M1184 1282h.1M1184 1403h.1M1185 1314h.1M1185 1344h.1M1185 1388h.1M1185 1295h.1M1186 1397h.1M1186 1384h.1M1186 1412h.1M1186 1415h.1M1187 1389h.1M1187 1363h.1M1187 1406h.1M1187 1405h.1M1188 1324h.1M1188 1289h.1M1188 1365h.1M1188 1353h.1M1189 1284h.1M1189 1400h.1M1189 1381h.1M1189 1326h.1M1190 1348h.1M1190 1275h.1M1190 1247h.1M1190 1359h.1M1191 1266h.1M1191 1285h.1M1191 1227h.1M1192 1364h.1M1192 1346h.1M1192 1341h.1M1192 1376h.1M1193 1280h.1M1193 1371h.1M1193 1364h.1M1193 1359h.1M1194 1359h.1M1194 1301h.1M1194 1321h.1M1194 1255h.1M1195 1344h.1M1195 1258h.1M1195 1221h.1M1195 1277h.1M1196 1251h.1M1196 1237h.1M1196 1256h.1M1197 1334h.1M1197 1240h.1M1197 1257h.1M1197 1317h.1M1198 1249h.1M1198 1254h.1M1198 1266h.1M1199 1215h.1M1199 1227h.1M1199 1241h.1M1199 1242h.1M1200 1184h.1M1200 1248h.1M1200 1241h.1M1200 1267h.1M1201 1248h.1M1201 1281h.1M1201 1287h.1M1201 1182h.1M1202 1277h.1M1202 1217h.1M1202 1295h.1M1202 1338h.1M1203 1236h.1M1203 1304h.1M1203 1180h.1M1203 1265h.1M1204 1267h.1M1204 1261h.1M1204 1273h.1M1204 1259h.1M1205 1285h.1M1205 1297h.1M1205 1264h.1M1205 1286h.1M1206 1239h.1M1206 1240h.1M1206 1238h.1M1206 1284h.1M1207 1353h.1M1207 1292h.1M1207 1285h.1M1207 1345h.1M1208 1238h.1M1208 1256h.1M1208 1133h.1M1208 1218h.1M1209 1247h.1M1209 1200h.1M1209 1203h.1M1209 1268h.1M1210 1318h.1M1210 1186h.1M1210 1333h.1M1210 1271h.1M1211 1267h.1M1211 1229h.1M1211 1205h.1M1211 1218h.1M1212 1276h.1M1212 1248h.1M1212 1243h.1M1212 1259h.1M1213 1238h.1M1213 1269h.1M1213 1246h.1M1213 1258h.1M1214 1229h.1M1214 1243h.1M1214 1191h.1M1214 1258h.1M1215 1241h.1M1215 1272h.1M1215 1313h.1M1215 1299h.1M1216 1220h.1M1216 1229h.1M1216 1190h.1M1216 1307h.1M1217 1276h.1M1217 1245h.1M1217 1315h.1M1217 1342h.1M1218 1305h.1M1218 1312h.1M1218 1326h.1M1218 1367h.1M1219 1380h.1M1219 1345h.1M1219 1382h.1M1219 1311h.1M1220 1315h.1M1220 1347h.1M1220 1297h.1M1220 1251h.1M1221 1318h.1M1221 1254h.1M1221 1249h.1M1221 1309h.1M1222 1321h.1M1222 1390h.1M1222 1277h.1M1222 1353h.1M1223 1375h.1M1223 1378h.1M1223 1404h.1M1224 1350h.1M1224 1338h.1M1224 1332h.1M1224 1334h.1M1225 1339h.1M1225 1367h.1M1225 1352h.1M1225 1278h.1M1226 1297h.1M1226 1367h.1M1226 1413h.1M1226 1374h.1M1227 1265h.1M1227 1379h.1M1227 1340h.1M1227 1394h.1M1228 1395h.1M1228 1423h.1M1228 1362h.1M1228 1293h.1M1229 1336h.1M1229 1309h.1M1229 1363h.1M1229 1308h.1M1230 1316h.1M1230 1317h.1M1230 1280h.1M1230 1356h.1M1231 1383h.1M1231 1452h.1M1231 1327h.1M1231 1329h.1M1232 1400h.1M1232 1468h.1M1232 1403h.1M1233 1362h.1M1233 1444h.1M1233 1389h.1M1233 1385h.1M1234 1316h.1M1234 1388h.1M1234 1300h.1M1234 1362h.1M1235 1298h.1M1235 1407h.1M1235 1319h.1M1236 1284h.1M1236 1273h.1M1236 1327h.1M1236 1349h.1M1237 1321h.1M1237 1277h.1M1237 1317h.1M1237 1346h.1M1238 1283h.1M1238 1354h.1M1238 1295h.1M1238 1196h.1M1239 1195h.1M1239 1193h.1M1239 1247h.1M1239 1203h.1M1240 1213h.1M1240 1267h.1M1240 1176h.1M1240 1215h.1M1241 1250h.1M1241 1293h.1M1241 1262h.1M1241 1329h.1M1242 1183h.1M1242 1263h.1M1242 1211h.1M1242 1248h.1M1243 1268h.1M1243 1240h.1M1243 1288h.1M1243 1232h.1M1244 1246h.1M1244 1088h.1M1244 1274h.1M1244 1229h.1M1245 1082h.1M1245 1178h.1M1245 1233h.1M1245 1174h.1M1246 1248h.1M1246 1239h.1M1246 1242h.1M1246 1246h.1M1247 1203h.1M1247 1164h.1M1247 1237h.1M1248 1118h.1M1248 1226h.1M1248 1246h.1M1248 1223h.1M1249 1149h.1M1249 1169h.1M1249 1197h.1M1249 1223h.1M1250 1206h.1M1250 1215h.1M1250 1179h.1M1250 1247h.1M1251 1197h.1M1251 1238h.1M1251 1215h.1M1251 1255h.1M1252 1194h.1M1252 1205h.1M1252 1207h.1M1252 1193h.1M1253 1195h.1M1253 1188h.1M1253 1217h.1M1253 1230h.1M1254 1155h.1M1254 1140h.1M1254 1172h.1M1254 1200h.1M1255 1187h.1M1255 1231h.1M1255 1216h.1M1255 1205h.1M1256 1238h.1M1256 1271h.1M1256 1276h.1M1256 1268h.1M1257 1270h.1M1257 1276h.1M1257 1347h.1M1257 1252h.1M1258 1326h.1M1258 1263h.1M1258 1379h.1M1258 1394h.1M1259 1372h.1M1259 1430h.1M1259 1384h.1M1259 1334h.1M1260 1281h.1M1260 1364h.1M1260 1361h.1M1260 1391h.1M1261 1348h.1M1261 1434h.1M1261 1414h.1M1261 1397h.1M1262 1457h.1M1262 1433h.1M1262 1386h.1M1262 1384h.1M1263 1351h.1M1263 1379h.1M1263 1306h.1M1264 1314h.1M1264 1363h.1M1264 1449h.1M1264 1396h.1M1265 1356h.1M1265 1347h.1M1265 1446h.1M1265 1448h.1M1266 1437h.1M1266 1419h.1M1266 1337h.1M1266 1269h.1M1267 1363h.1M1267 1316h.1M1267 1314h.1M1267 1366h.1M1268 1417h.1M1268 1346h.1M1268 1315h.1M1268 1387h.1M1269 1399h.1M1269 1284h.1M1269 1292h.1M1269 1270h.1M1270 1303h.1M1270 1277h.1M1270 1287h.1M1270 1240h.1M1271 1225h.1M1271 1223h.1M1271 1258h.1M1271 1290h.1M1272 1235h.1M1272 1331h.1M1272 1279h.1M1273 1297h.1M1273 1262h.1M1273 1249h.1M1273 1298h.1M1274 1217h.1M1274 1235h.1M1274 1230h.1M1274 1215h.1M1275 1187h.1M1275 1278h.1M1275 1243h.1M1275 1252h.1M1276 1251h.1M1276 1229h.1M1276 1215h.1M1276 1263h.1M1277 1325h.1M1277 1238h.1M1277 1201h.1M1277 1329h.1M1278 1261h.1M1278 1324h.1M1278 1337h.1M1278 1270h.1M1279 1321h.1M1279 1220h.1M1279 1269h.1M1279 1244h.1M1280 1373h.1M1280 1259h.1M1280 1261h.1M1280 1182h.1M1281 1214h.1M1281 1259h.1M1281 1264h.1M1281 1192h.1M1282 1299h.1M1282 1337h.1M1282 1218h.1M1282 1278h.1M1283 1246h.1M1283 1275h.1M1283 1277h.1M1283 1197h.1M1284 1121h.1M1284 1179h.1M1284 1214h.1M1284 1140h.1M1285 1201h.1M1285 1117h.1M1285 1232h.1M1285 1193h.1M1286 1208h.1M1286 1094h.1M1286 1124h.1M1286 1252h.1M1287 1161h.1M1287 1239h.1M1287 1068h.1M1287 1122h.1M1288 1176h.1M1288 1153h.1M1288 1173h.1M1288 1167h.1M1289 1143h.1M1289 1234h.1M1289 1167h.1M1289 1046h.1M1290 1195h.1M1290 1212h.1M1290 1166h.1M1290 1200h.1M1291 1161h.1M1291 1203h.1M1291 1172h.1M1291 1181h.1M1292 1076h.1M1292 1206h.1M1292 1131h.1M1292 1134h.1M1293 1206h.1M1293 1237h.1M1293 1181h.1M1293 1069h.1M1294 1219h.1M1294 1233h.1M1294 1185h.1M1294 1312h.1M1295 1226h.1M1295 1284h.1M1295 1194h.1M1295 1236h.1M1296 1170h.1M1296 1164h.1M1296 1233h.1M1296 1206h.1M1297 1216h.1M1297 1287h.1M1297 1232h.1M1297 1264h.1M1298 1252h.1M1298 1273h.1M1298 1210h.1M1298 1269h.1M1299 1312h.1M1299 1288h.1M1299 1239h.1M1299 1240h.1M1300 1268h.1M1300 1260h.1M1300 1289h.1M1300 1253h.1M1301 1339h.1M1301 1177h.1M1301 1269h.1M1301 1277h.1M1302 1238h.1M1302 1295h.1M1302 1300h.1M1302 1274h.1M1303 1344h.1M1303 1298h.1M1303 1358h.1M1303 1268h.1M1304 1271h.1M1304 1294h.1M1304 1389h.1M1304 1311h.1M1305 1207h.1M1305 1234h.1M1305 1256h.1M1305 1301h.1M1306 1264h.1M1306 1341h.1M1306 1237h.1M1306 1386h.1M1307 1296h.1M1307 1320h.1M1307 1389h.1M1307 1281h.1M1308 1316h.1M1308 1273h.1M1308 1330h.1M1308 1287h.1M1309 1287h.1M1309 1257h.1M1309 1281h.1M1309 1246h.1M1310 1284h.1M1310 1301h.1M1310 1263h.1M1310 1289h.1M1311 1288h.1M1311 1306h.1M1311 1266h.1M1311 1267h.1M1312 1386h.1M1312 1268h.1M1312 1248h.1M1312 1289h.1M1313 1329h.1M1313 1281h.1M1313 1330h.1M1313 1349h.1M1314 1362h.1M1314 1347h.1M1314 1258h.1M1314 1317h.1M1315 1259h.1M1315 1270h.1M1315 1348h.1M1315 1381h.1M1316 1328h.1M1316 1315h.1M1316 1284h.1M1316 1221h.1M1317 1351h.1M1317 1311h.1M1317 1269h.1M1317 1397h.1M1318 1355h.1M1318 1349h.1M1318 1318h.1M1318 1303h.1M1319 1361h.1M1319 1254h.1M1319 1286h.1M1319 1250h.1M1320 1335h.1M1320 1341h.1M1320 1230h.1M1320 1267h.1M1321 1217h.1M1321 1332h.1M1321 1250h.1M1321 1304h.1M1322 1302h.1M1322 1315h.1M1322 1319h.1M1322 1277h.1M1323 1307h.1M1323 1328h.1M1323 1299h.1M1323 1221h.1M1324 1210h.1M1324 1240h.1M1324 1270h.1M1324 1329h.1M1325 1305h.1M1325 1395h.1M1325 1285h.1M1325 1304h.1M1326 1272h.1M1326 1364h.1M1326 1311h.1M1326 1198h.1M1327 1322h.1M1327 1235h.1M1327 1233h.1M1327 1230h.1M1328 1347h.1M1328 1207h.1M1328 1227h.1M1328 1226h.1M1329 1239h.1M1329 1193h.1M1329 1351h.1M1329 1252h.1M1330 1241h.1M1330 1227h.1M1330 1211h.1M1330 1288h.1M1331 1267h.1M1331 1250h.1M1331 1345h.1M1331 1294h.1M1332 1263h.1M1332 1308h.1M1332 1239h.1M1332 1338h.1M1333 1340h.1M1333 1289h.1M1333 1216h.1M1333 1169h.1M1334 1206h.1M1334 1224h.1M1334 1142h.1M1334 1238h.1M1335 1273h.1M1335 1299h.1M1335 1270h.1M1336 1372h.1M1336 1329h.1M1336 1256h.1M1336 1358h.1M1337 1330h.1M1337 1259h.1M1337 1291h.1M1337 1298h.1M1338 1399h.1M1338 1415h.1M1338 1322h.1M1338 1346h.1M1339 1361h.1M1339 1401h.1M1339 1285h.1M1339 1354h.1M1340 1403h.1M1340 1339h.1M1340 1388h.1M1340 1382h.1M1341 1423h.1M1341 1306h.1M1341 1396h.1M1341 1252h.1M1342 1400h.1M1342 1299h.1M1342 1291h.1M1342 1416h.1M1343 1403h.1M1343 1367h.1M1343 1277h.1M1343 1254h.1M1344 1350h.1M1344 1293h.1M1344 1328h.1M1344 1303h.1M1345 1322h.1M1345 1258h.1M1345 1293h.1M1345 1172h.1M1346 1297h.1M1346 1276h.1M1346 1296h.1M1346 1260h.1M1347 1298h.1M1347 1366h.1M1347 1211h.1M1347 1215h.1M1348 1234h.1M1348 1195h.1M1348 1199h.1M1348 1227h.1M1349 1233h.1M1349 1216h.1M1349 1226h.1M1349 1244h.1M1350 1234h.1M1350 1263h.1M1350 1270h.1M1350 1156h.1M1350 1204h.1M1351 1302h.1M1351 1315h.1M1351 1289h.1M1351 1203h.1M1352 1286h.1M1352 1207h.1M1352 1301h.1M1352 1305h.1M1353 1261h.1M1353 1280h.1M1353 1296h.1M1353 1337h.1M1354 1271h.1M1354 1201h.1M1354 1252h.1M1354 1308h.1M1355 1192h.1M1355 1365h.1M1355 1290h.1M1355 1305h.1M1356 1306h.1M1356 1341h.1M1356 1385h.1M1356 1381h.1M1357 1405h.1M1357 1368h.1M1357 1324h.1M1357 1362h.1M1358 1378h.1M1358 1331h.1M1358 1372h.1M1358 1340h.1M1359 1405h.1M1359 1348h.1M1359 1371h.1M1359 1422h.1M1360 1362h.1M1360 1424h.1M1360 1415h.1M1360 1386h.1M1361 1419h.1M1361 1420h.1M1361 1445h.1M1361 1407h.1M1362 1430h.1M1362 1433h.1M1362 1492h.1M1362 1437h.1M1363 1485h.1M1363 1374h.1M1363 1382h.1M1363 1403h.1M1364 1404h.1M1364 1477h.1M1364 1318h.1M1364 1360h.1M1365 1340h.1M1365 1367h.1M1365 1346h.1M1365 1358h.1M1366 1390h.1M1366 1332h.1M1366 1386h.1M1366 1345h.1M1367 1318h.1M1367 1423h.1M1367 1381h.1M1367 1348h.1M1368 1402h.1M1368 1372h.1M1368 1339h.1M1368 1391h.1M1369 1492h.1M1369 1425h.1M1369 1367h.1M1369 1405h.1M1370 1364h.1M1370 1307h.1M1370 1401h.1M1370 1275h.1M1371 1299h.1M1371 1253h.1M1371 1267h.1M1371 1276h.1M1372 1312h.1M1372 1277h.1M1372 1337h.1M1372 1314h.1M1373 1330h.1M1373 1245h.1M1373 1293h.1M1373 1310h.1M1374 1317h.1M1374 1396h.1M1374 1283h.1M1374 1248h.1M1375 1351h.1M1375 1322h.1M1375 1242h.1M1375 1289h.1M1376 1342h.1M1376 1271h.1M1376 1257h.1M1376 1269h.1M1377 1313h.1M1377 1350h.1M1377 1258h.1M1377 1275h.1M1378 1280h.1M1378 1327h.1M1378 1317h.1M1378 1298h.1M1379 1395h.1M1379 1322h.1M1379 1295h.1M1379 1334h.1M1380 1333h.1M1380 1335h.1M1380 1271h.1M1380 1322h.1M1381 1280h.1M1381 1269h.1M1381 1213h.1M1381 1299h.1M1382 1242h.1M1382 1216h.1M1382 1273h.1M1382 1238h.1M1383 1201h.1M1383 1162h.1M1383 1180h.1M1383 1220h.1M1384 1132h.1M1384 1239h.1M1384 1178h.1M1384 1127h.1M1385 1225h.1M1385 1345h.1M1385 1284h.1M1385 1194h.1M1386 1307h.1M1386 1294h.1M1386 1182h.1M1386 1362h.1M1387 1370h.1M1387 1259h.1M1387 1307h.1M1387 1326h.1M1388 1301h.1M1388 1308h.1M1388 1258h.1M1388 1352h.1M1389 1297h.1M1389 1287h.1M1389 1350h.1M1389 1406h.1M1390 1339h.1M1390 1369h.1M1390 1277h.1M1390 1273h.1M1391 1258h.1M1391 1321h.1M1391 1369h.1M1391 1366h.1M1392 1342h.1M1392 1367h.1M1392 1364h.1M1392 1314h.1M1393 1312h.1M1393 1298h.1M1393 1418h.1M1393 1393h.1M1394 1385h.1M1394 1384h.1M1394 1314h.1M1394 1381h.1M1395 1327h.1M1395 1317h.1M1395 1289h.1M1395 1242h.1M1396 1420h.1M1396 1267h.1M1396 1270h.1M1396 1221h.1M1397 1315h.1M1397 1256h.1M1397 1273h.1M1397 1275h.1M1398 1292h.1M1398 1229h.1M1398 1269h.1M1398 1219h.1M1399 1304h.1M1399 1289h.1M1399 1379h.1M1399 1329h.1M1400 1384h.1M1400 1296h.1M1400 1365h.1M1400 1309h.1M1401 1332h.1M1401 1315h.1M1401 1253h.1M1401 1231h.1M1402 1302h.1M1402 1235h.1M1402 1250h.1M1402 1329h.1M1403 1290h.1M1403 1198h.1M1403 1259h.1M1403 1276h.1M1404 1270h.1M1404 1294h.1M1404 1306h.1M1404 1210h.1M1405 1266h.1M1405 1374h.1M1405 1322h.1M1405 1307h.1M1406 1273h.1M1406 1306h.1M1406 1322h.1M1406 1354h.1M1407 1286h.1M1407 1306h.1M1407 1204h.1M1407 1216h.1M1408 1258h.1M1408 1191h.1M1408 1271h.1M1408 1264h.1M1409 1236h.1M1409 1257h.1M1409 1288h.1M1409 1233h.1M1410 1281h.1M1410 1271h.1M1410 1231h.1M1410 1224h.1M1411 1222h.1M1411 1228h.1M1411 1226h.1M1411 1231h.1M1412 1256h.1M1412 1355h.1M1412 1294h.1M1412 1240h.1M1413 1330h.1M1413 1338h.1M1413 1245h.1M1413 1392h.1M1414 1351h.1M1414 1305h.1M1414 1333h.1M1414 1360h.1M1415 1379h.1M1415 1285h.1M1415 1319h.1M1415 1313h.1M1416 1264h.1M1416 1364h.1M1416 1339h.1M1416 1404h.1M1417 1420h.1M1417 1383h.1M1417 1377h.1M1417 1233h.1M1418 1343h.1M1418 1263h.1M1418 1255h.1M1418 1308h.1M1419 1250h.1M1419 1327h.1M1419 1203h.1M1419 1157h.1M1420 1226h.1M1420 1236h.1M1420 1247h.1M1420 1249h.1M1421 1167h.1M1421 1225h.1M1421 1196h.1M1421 1285h.1M1422 1157h.1M1422 1200h.1M1422 1290h.1M1422 1274h.1M1423 1209h.1M1423 1206h.1M1423 1317h.1M1423 1239h.1M1424 1312h.1M1424 1230h.1M1424 1246h.1M1424 1243h.1M1425 1315h.1M1425 1234h.1M1425 1227h.1M1425 1230h.1M1426 1258h.1M1426 1265h.1M1426 1308h.1M1426 1194h.1M1427 1249h.1M1427 1242h.1M1427 1274h.1M1427 1327h.1M1428 1340h.1M1428 1361h.1M1428 1330h.1M1428 1270h.1M1429 1318h.1M1429 1354h.1M1429 1317h.1M1429 1362h.1M1430 1207h.1M1430 1295h.1M1430 1304h.1M1431 1329h.1M1431 1281h.1M1431 1283h.1M1432 1325h.1M1432 1372h.1M1432 1287h.1M1432 1364h.1M1433 1219h.1M1433 1279h.1M1433 1259h.1M1434 1248h.1M1434 1277h.1M1434 1336h.1M1434 1296h.1M1435 1308h.1M1435 1291h.1M1435 1288h.1M1435 1253h.1M1436 1312h.1M1436 1350h.1M1436 1229h.1M1436 1295h.1M1437 1242h.1M1437 1245h.1M1437 1313h.1M1437 1395h.1M1438 1371h.1M1438 1343h.1M1438 1303h.1M1438 1327h.1M1439 1346h.1M1439 1396h.1M1439 1378h.1M1439 1330h.1M1440 1423h.1M1440 1309h.1M1440 1378h.1M1440 1402h.1M1441 1370h.1M1441 1366h.1M1441 1333h.1M1441 1364h.1M1442 1288h.1M1442 1392h.1M1442 1397h.1M1442 1323h.1M1443 1322h.1M1443 1295h.1M1443 1348h.1M1444 1349h.1M1444 1335h.1M1444 1312h.1M1444 1291h.1M1445 1325h.1M1445 1366h.1M1445 1318h.1M1445 1271h.1M1446 1227h.1M1446 1286h.1M1446 1313h.1M1446 1298h.1M1447 1319h.1M1447 1293h.1M1447 1370h.1M1447 1232h.1M1448 1300h.1M1448 1214h.1M1448 1287h.1M1448 1281h.1M1449 1324h.1M1449 1369h.1M1449 1220h.1M1449 1297h.1M1450 1334h.1M1450 1339h.1M1450 1321h.1M1450 1308h.1M1451 1307h.1M1451 1354h.1M1451 1364h.1M1451 1374h.1M1452 1365h.1M1452 1272h.1M1452 1346h.1M1452 1285h.1M1453 1381h.1M1453 1373h.1M1453 1421h.1M1453 1403h.1M1454 1373h.1M1454 1350h.1M1454 1495h.1M1454 1349h.1M1455 1445h.1M1455 1463h.1M1455 1393h.1M1455 1371h.1M1456 1422h.1M1456 1368h.1M1456 1309h.1M1456 1406h.1M1457 1367h.1M1457 1353h.1M1457 1418h.1M1457 1435h.1M1458 1252h.1M1458 1299h.1M1458 1338h.1M1458 1352h.1M1459 1377h.1M1459 1276h.1M1459 1246h.1M1459 1329h.1M1460 1280h.1M1460 1372h.1M1460 1325h.1M1460 1390h.1M1461 1241h.1M1461 1284h.1M1461 1355h.1M1461 1339h.1M1462 1352h.1M1462 1354h.1M1462 1357h.1M1462 1310h.1M1463 1319h.1M1463 1256h.1M1463 1266h.1M1463 1321h.1M1464 1250h.1M1464 1321h.1M1464 1352h.1M1464 1341h.1M1465 1226h.1M1465 1393h.1M1465 1280h.1M1465 1253h.1M1466 1377h.1M1466 1331h.1M1466 1373h.1M1466 1430h.1M1467 1348h.1M1467 1323h.1M1467 1387h.1M1467 1314h.1M1468 1175h.1M1468 1363h.1M1468 1411h.1M1468 1270h.1M1469 1293h.1M1469 1340h.1M1469 1382h.1M1469 1335h.1M1470 1408h.1M1470 1372h.1M1470 1389h.1M1470 1366h.1M1471 1374h.1M1471 1360h.1M1471 1300h.1M1471 1296h.1M1472 1361h.1M1472 1478h.1M1472 1357h.1M1472 1313h.1M1473 1385h.1M1473 1260h.1M1473 1411h.1M1473 1346h.1M1474 1332h.1M1474 1321h.1M1474 1323h.1M1474 1325h.1M1475 1410h.1M1475 1285h.1M1475 1212h.1M1475 1223h.1M1476 1305h.1M1476 1285h.1M1476 1254h.1M1476 1347h.1M1477 1326h.1M1477 1339h.1M1477 1328h.1M1477 1295h.1M1478 1282h.1M1478 1254h.1M1478 1235h.1M1478 1244h.1M1479 1256h.1M1479 1305h.1M1479 1273h.1M1479 1238h.1M1480 1269h.1M1480 1279h.1M1480 1155h.1M1480 1324h.1M1481 1330h.1M1481 1256h.1M1481 1354h.1M1481 1329h.1M1482 1249h.1M1482 1316h.1M1482 1406h.1M1482 1380h.1M1483 1266h.1M1483 1336h.1M1483 1383h.1M1483 1316h.1M1484 1364h.1M1484 1336h.1M1484 1381h.1M1484 1235h.1M1485 1341h.1M1485 1381h.1M1485 1434h.1M1485 1355h.1M1486 1345h.1M1486 1344h.1M1486 1476h.1M1486 1372h.1M1487 1305h.1M1487 1432h.1M1487 1390h.1M1487 1403h.1M1488 1363h.1M1488 1419h.1M1488 1294h.1M1488 1325h.1M1489 1386h.1M1489 1454h.1M1489 1354h.1M1489 1316h.1M1490 1362h.1M1490 1387h.1M1490 1327h.1M1490 1328h.1M1491 1360h.1M1491 1390h.1M1491 1385h.1M1491 1405h.1M1492 1394h.1M1492 1391h.1M1492 1374h.1M1492 1406h.1M1493 1379h.1M1493 1291h.1M1493 1348h.1M1493 1389h.1M1494 1364h.1M1494 1368h.1M1494 1419h.1M1494 1410h.1M1495 1441h.1M1495 1420h.1M1495 1347h.1M1495 1421h.1M1496 1362h.1M1496 1367h.1M1496 1359h.1M1496 1414h.1M1497 1359h.1M1497 1261h.1M1497 1318h.1M1497 1334h.1M1498 1314h.1M1498 1359h.1M1498 1322h.1M1498 1299h.1M1499 1327h.1M1499 1352h.1M1499 1333h.1M1499 1275h.1M1500 1202h.1M1500 1318h.1M1500 1298h.1M1500 1348h.1M1501 1296h.1M1501 1303h.1M1501 1276h.1M1501 1230h.1M1502 1329h.1M1502 1256h.1M1502 1355h.1M1502 1373h.1M1503 1300h.1M1503 1284h.1M1503 1318h.1M1503 1267h.1M1504 1301h.1M1504 1334h.1M1504 1227h.1M1504 1277h.1M1505 1214h.1M1505 1278h.1M1505 1295h.1M1505 1381h.1M1506 1316h.1M1506 1318h.1M1506 1309h.1M1506 1280h.1M1507 1332h.1M1507 1314h.1M1507 1276h.1M1507 1370h.1M1508 1345h.1M1508 1327h.1M1508 1286h.1M1508 1346h.1M1509 1237h.1M1509 1308h.1M1509 1297h.1M1509 1317h.1M1510 1374h.1M1510 1283h.1M1510 1282h.1M1510 1258h.1M1511 1325h.1M1511 1271h.1M1511 1327h.1M1511 1238h.1M1512 1265h.1M1512 1352h.1M1512 1281h.1M1512 1297h.1M1513 1274h.1M1513 1268h.1M1513 1263h.1M1513 1275h.1M1514 1327h.1M1514 1335h.1M1514 1320h.1M1514 1290h.1M1515 1267h.1M1515 1314h.1M1515 1346h.1M1515 1383h.1M1516 1355h.1M1516 1397h.1M1516 1423h.1M1516 1356h.1M1517 1324h.1M1517 1333h.1M1517 1357h.1M1517 1277h.1M1518 1339h.1M1518 1278h.1M1518 1291h.1M1518 1312h.1M1519 1253h.1M1519 1292h.1M1519 1256h.1M1519 1267h.1M1520 1197h.1M1520 1220h.1M1520 1291h.1M1520 1208h.1M1521 1267h.1M1521 1185h.1M1521 1179h.1M1521 1273h.1M1522 1265h.1M1522 1220h.1M1522 1219h.1M1522 1277h.1M1523 1284h.1M1523 1241h.1M1523 1252h.1M1523 1292h.1M1524 1244h.1M1524 1352h.1M1524 1199h.1M1524 1279h.1M1525 1215h.1M1525 1274h.1M1525 1230h.1M1525 1227h.1M1526 1225h.1M1526 1266h.1M1526 1163h.1M1526 1235h.1M1527 1263h.1M1527 1210h.1M1527 1277h.1M1527 1240h.1M1528 1219h.1M1528 1275h.1M1528 1268h.1M1529 1321h.1M1529 1328h.1M1529 1323h.1M1529 1288h.1M1530 1341h.1M1530 1323h.1M1530 1277h.1M1530 1326h.1M1531 1275h.1M1531 1296h.1M1531 1251h.1M1531 1266h.1M1532 1262h.1M1532 1277h.1M1532 1279h.1M1532 1274h.1M1533 1320h.1M1533 1264h.1M1533 1319h.1M1533 1316h.1M1534 1327h.1M1534 1331h.1M1534 1374h.1M1534 1310h.1M1535 1255h.1M1535 1334h.1M1535 1369h.1M1535 1343h.1M1536 1335h.1M1536 1370h.1M1536 1405h.1M1536 1321h.1M1537 1331h.1M1537 1351h.1M1537 1378h.1M1537 1482h.1M1538 1406h.1M1538 1398h.1M1538 1388h.1M1538 1346h.1M1539 1382h.1M1539 1473h.1M1539 1393h.1M1539 1449h.1M1540 1364h.1M1540 1412h.1M1540 1368h.1M1540 1447h.1M1541 1467h.1M1541 1398h.1M1541 1418h.1M1541 1431h.1M1542 1409h.1M1542 1456h.1M1542 1439h.1M1542 1454h.1M1543 1351h.1M1543 1415h.1M1543 1412h.1M1543 1447h.1M1544 1484h.1M1544 1465h.1M1544 1410h.1M1544 1393h.1M1545 1381h.1M1545 1388h.1M1545 1307h.1M1545 1434h.1M1546 1366h.1M1546 1310h.1M1546 1401h.1M1546 1447h.1M1547 1428h.1M1547 1285h.1M1547 1381h.1M1547 1365h.1M1548 1464h.1M1548 1275h.1M1548 1399h.1M1548 1331h.1M1549 1418h.1M1549 1380h.1M1549 1402h.1M1549 1404h.1M1550 1445h.1M1550 1437h.1M1550 1448h.1M1550 1399h.1M1551 1415h.1M1551 1448h.1M1551 1313h.1M1551 1423h.1M1552 1356h.1M1552 1419h.1M1552 1447h.1M1552 1422h.1M1553 1389h.1M1553 1422h.1M1553 1333h.1M1553 1462h.1M1554 1335h.1M1554 1411h.1M1554 1343h.1M1554 1457h.1M1555 1312h.1M1555 1392h.1M1555 1369h.1M1555 1301h.1M1556 1393h.1M1556 1318h.1M1556 1349h.1M1556 1256h.1M1557 1219h.1M1557 1341h.1M1557 1340h.1M1557 1369h.1M1558 1369h.1M1558 1338h.1M1558 1450h.1M1558 1282h.1M1559 1329h.1M1559 1239h.1M1559 1278h.1M1559 1242h.1M1560 1266h.1M1560 1298h.1M1560 1244h.1M1560 1213h.1M1561 1201h.1M1561 1258h.1M1561 1316h.1M1561 1240h.1M1562 1224h.1M1562 1231h.1M1562 1207h.1M1562 1183h.1M1563 1334h.1M1563 1261h.1M1563 1272h.1M1563 1265h.1M1564 1300h.1M1564 1299h.1M1564 1236h.1M1564 1221h.1M1565 1352h.1M1565 1328h.1M1565 1351h.1M1565 1412h.1M1566 1340h.1M1566 1378h.1M1566 1298h.1M1566 1323h.1M1567 1268h.1M1567 1246h.1M1567 1247h.1M1568 1255h.1M1568 1275h.1M1568 1367h.1M1568 1304h.1M1569 1416h.1M1569 1232h.1M1569 1220h.1M1569 1256h.1M1570 1260h.1M1570 1310h.1M1570 1306h.1M1570 1216h.1M1571 1277h.1M1571 1304h.1M1571 1329h.1M1571 1284h.1M1572 1278h.1M1572 1325h.1M1572 1255h.1M1572 1216h.1M1572 1235h.1M1573 1217h.1M1573 1352h.1M1573 1251h.1M1573 1282h.1M1574 1257h.1M1574 1328h.1M1574 1287h.1M1574 1300h.1M1575 1247h.1M1575 1303h.1M1575 1295h.1M1575 1288h.1M1576 1332h.1M1576 1289h.1M1576 1250h.1M1576 1347h.1M1577 1360h.1M1577 1330h.1M1577 1395h.1M1578 1356h.1M1578 1342h.1M1578 1370h.1M1578 1391h.1M1579 1334h.1M1579 1359h.1M1579 1272h.1M1579 1342h.1M1580 1398h.1M1580 1243h.1M1580 1345h.1M1580 1309h.1M1581 1332h.1M1581 1349h.1M1581 1294h.1M1581 1436h.1M1582 1295h.1M1582 1345h.1M1582 1273h.1M1582 1306h.1M1583 1320h.1M1583 1313h.1M1583 1356h.1M1583 1323h.1M1584 1267h.1M1584 1273h.1M1584 1354h.1M1584 1335h.1M1585 1309h.1M1585 1323h.1M1585 1339h.1M1585 1282h.1M1586 1259h.1M1586 1342h.1M1586 1265h.1M1587 1335h.1M1587 1372h.1M1587 1344h.1M1587 1354h.1M1588 1309h.1M1588 1418h.1M1588 1370h.1M1588 1457h.1M1589 1358h.1M1589 1481h.1M1589 1365h.1M1589 1493h.1M1590 1409h.1M1590 1379h.1M1590 1382h.1M1590 1396h.1M1591 1394h.1M1591 1383h.1M1591 1402h.1M1591 1359h.1M1592 1372h.1M1592 1374h.1M1592 1345h.1M1592 1357h.1M1593 1308h.1M1593 1380h.1M1593 1346h.1M1593 1360h.1M1594 1319h.1M1594 1416h.1M1594 1348h.1M1594 1375h.1M1595 1401h.1M1595 1319h.1M1595 1367h.1M1595 1370h.1M1596 1396h.1M1596 1481h.1M1596 1356h.1M1596 1350h.1M1597 1391h.1M1597 1317h.1M1597 1337h.1M1597 1402h.1M1598 1365h.1M1598 1441h.1M1598 1289h.1M1598 1361h.1M1599 1309h.1M1599 1388h.1M1599 1435h.1M1599 1417h.1M1600 1442h.1M1600 1445h.1M1600 1364h.1M1600 1447h.1M1601 1354h.1M1601 1410h.1M1601 1366h.1M1602 1404h.1M1602 1319h.1M1602 1340h.1M1602 1286h.1M1603 1364h.1M1603 1389h.1M1603 1396h.1M1603 1283h.1M1604 1378h.1M1604 1398h.1M1604 1332h.1M1604 1412h.1M1605 1334h.1M1605 1352h.1M1605 1359h.1M1605 1349h.1M1606 1407h.1M1606 1382h.1M1606 1361h.1M1606 1280h.1M1607 1354h.1M1607 1346h.1M1607 1351h.1M1607 1382h.1M1608 1297h.1M1608 1333h.1M1608 1352h.1M1608 1331h.1M1609 1436h.1M1609 1299h.1M1609 1263h.1M1609 1330h.1M1610 1362h.1M1610 1312h.1M1610 1255h.1M1610 1235h.1M1611 1373h.1M1611 1385h.1M1611 1302h.1M1611 1358h.1M1612 1291h.1M1612 1228h.1M1612 1274h.1M1612 1284h.1M1613 1331h.1M1613 1215h.1M1613 1273h.1M1613 1234h.1M1614 1205h.1M1614 1292h.1M1614 1208h.1M1614 1229h.1M1615 1299h.1M1615 1213h.1M1615 1254h.1M1615 1302h.1M1616 1272h.1M1616 1245h.1M1616 1209h.1M1616 1321h.1M1617 1330h.1M1617 1362h.1M1617 1322h.1M1617 1267h.1M1618 1280h.1M1618 1238h.1M1618 1307h.1M1618 1316h.1M1619 1435h.1M1619 1267h.1M1619 1360h.1M1619 1348h.1M1620 1345h.1M1620 1385h.1M1620 1326h.1M1620 1308h.1M1621 1274h.1M1621 1379h.1M1621 1277h.1M1621 1287h.1M1622 1404h.1M1622 1283h.1M1622 1289h.1M1622 1314h.1M1623 1298h.1M1623 1316h.1M1623 1327h.1M1623 1286h.1M1624 1336h.1M1624 1340h.1M1624 1335h.1M1624 1381h.1M1625 1360h.1M1625 1385h.1M1625 1359h.1M1625 1341h.1M1626 1369h.1M1626 1344h.1M1626 1411h.1M1626 1376h.1M1627 1290h.1M1627 1275h.1M1627 1362h.1M1627 1333h.1M1628 1285h.1M1628 1289h.1M1628 1301h.1M1628 1320h.1M1629 1345h.1M1629 1296h.1M1629 1258h.1M1629 1349h.1M1630 1254h.1M1630 1315h.1M1630 1337h.1M1631 1413h.1M1631 1395h.1M1631 1388h.1M1631 1347h.1M1632 1399h.1M1632 1417h.1M1632 1416h.1M1632 1340h.1M1633 1364h.1M1633 1350h.1M1633 1361h.1M1633 1360h.1M1634 1471h.1M1634 1332h.1M1634 1326h.1M1634 1361h.1M1635 1356h.1M1635 1395h.1M1635 1355h.1M1635 1312h.1M1636 1362h.1M1636 1393h.1M1636 1268h.1M1636 1418h.1M1637 1301h.1M1637 1334h.1M1637 1344h.1M1637 1402h.1M1638 1383h.1M1638 1311h.1M1638 1384h.1M1638 1415h.1M1639 1271h.1M1639 1390h.1M1639 1428h.1M1639 1353h.1M1640 1366h.1M1640 1414h.1M1640 1390h.1M1640 1386h.1M1641 1387h.1M1641 1352h.1M1641 1366h.1M1641 1388h.1M1642 1407h.1M1642 1419h.1M1642 1340h.1M1642 1319h.1M1643 1375h.1M1643 1376h.1M1643 1429h.1M1643 1337h.1M1644 1436h.1M1644 1455h.1M1644 1446h.1M1644 1399h.1M1645 1374h.1M1645 1410h.1M1645 1359h.1M1645 1370h.1M1646 1359h.1M1646 1437h.1M1646 1344h.1M1646 1373h.1M1647 1406h.1M1647 1463h.1M1647 1319h.1M1647 1457h.1M1648 1502h.1M1648 1409h.1M1648 1405h.1M1648 1379h.1M1649 1419h.1M1649 1342h.1M1649 1381h.1M1649 1354h.1M1650 1371h.1M1650 1449h.1M1650 1476h.1M1651 1437h.1M1651 1410h.1M1651 1426h.1M1651 1373h.1M1652 1418h.1M1652 1456h.1M1652 1403h.1M1652 1490h.1M1653 1459h.1M1653 1406h.1M1653 1386h.1M1653 1496h.1M1654 1408h.1M1654 1428h.1M1654 1403h.1M1654 1407h.1M1655 1307h.1M1655 1318h.1M1655 1400h.1M1655 1349h.1M1656 1332h.1M1656 1322h.1M1656 1284h.1M1656 1236h.1M1657 1293h.1M1657 1349h.1M1657 1181h.1M1657 1233h.1M1658 1238h.1M1658 1262h.1M1658 1253h.1M1658 1294h.1M1659 1223h.1M1659 1241h.1M1659 1225h.1M1659 1272h.1M1660 1252h.1M1660 1234h.1M1660 1308h.1M1660 1299h.1M1661 1298h.1M1661 1387h.1M1661 1255h.1M1661 1408h.1M1662 1287h.1M1662 1237h.1M1662 1280h.1M1662 1272h.1M1663 1305h.1M1663 1268h.1M1663 1307h.1M1663 1251h.1M1664 1360h.1M1664 1294h.1M1664 1323h.1M1664 1339h.1M1665 1265h.1M1665 1225h.1M1665 1284h.1M1665 1264h.1M1666 1251h.1M1666 1317h.1M1666 1352h.1M1666 1348h.1M1667 1331h.1M1667 1416h.1M1667 1392h.1M1667 1319h.1M1668 1499h.1M1668 1418h.1M1668 1328h.1M1668 1337h.1M1669 1290h.1M1669 1326h.1M1669 1368h.1M1669 1337h.1M1670 1377h.1M1670 1349h.1M1670 1370h.1M1670 1400h.1M1671 1369h.1M1671 1356h.1M1671 1454h.1M1671 1388h.1M1672 1448h.1M1672 1353h.1M1672 1375h.1M1672 1317h.1M1673 1442h.1M1673 1454h.1M1673 1375h.1M1673 1368h.1M1674 1384h.1M1674 1447h.1M1674 1426h.1M1674 1423h.1M1675 1418h.1M1675 1447h.1M1675 1387h.1M1675 1396h.1M1676 1383h.1M1676 1410h.1M1676 1459h.1M1676 1356h.1M1677 1361h.1M1677 1409h.1M1677 1391h.1M1677 1434h.1M1678 1419h.1M1678 1461h.1M1678 1310h.1M1678 1404h.1M1679 1501h.1M1679 1453h.1M1679 1404h.1M1679 1385h.1M1680 1415h.1M1680 1343h.1M1680 1492h.1M1680 1382h.1M1681 1351h.1M1681 1375h.1M1681 1316h.1M1681 1413h.1M1682 1406h.1M1682 1360h.1M1682 1301h.1M1682 1438h.1M1683 1315h.1M1683 1396h.1M1683 1344h.1M1683 1294h.1M1684 1385h.1M1684 1402h.1M1684 1438h.1M1684 1368h.1M1685 1303h.1M1685 1295h.1M1685 1289h.1M1685 1288h.1M1686 1341h.1M1686 1365h.1M1686 1409h.1M1686 1388h.1M1687 1314h.1M1687 1401h.1M1687 1452h.1M1687 1318h.1M1688 1368h.1M1688 1393h.1M1688 1252h.1M1688 1385h.1M1689 1337h.1M1689 1303h.1M1689 1381h.1M1689 1395h.1M1690 1403h.1M1690 1439h.1M1690 1442h.1M1691 1491h.1M1691 1375h.1M1691 1411h.1M1691 1426h.1M1692 1479h.1M1692 1459h.1M1692 1387h.1M1692 1361h.1M1693 1363h.1M1693 1399h.1M1693 1337h.1M1693 1347h.1M1694 1366h.1M1694 1390h.1M1694 1391h.1M1694 1330h.1M1695 1335h.1M1695 1353h.1M1695 1366h.1M1695 1373h.1M1696 1354h.1M1696 1357h.1M1696 1370h.1M1696 1324h.1M1697 1315h.1M1697 1366h.1M1697 1308h.1M1697 1437h.1M1698 1322h.1M1698 1370h.1M1698 1333h.1M1698 1336h.1M1699 1251h.1M1699 1284h.1M1699 1332h.1M1699 1279h.1M1700 1305h.1M1700 1336h.1M1700 1317h.1M1700 1344h.1M1701 1301h.1M1701 1393h.1M1701 1397h.1M1701 1264h.1M1702 1307h.1M1702 1295h.1M1702 1301h.1M1702 1294h.1M1703 1317h.1M1703 1297h.1M1703 1271h.1M1703 1340h.1M1704 1343h.1M1704 1255h.1M1704 1287h.1M1704 1293h.1M1705 1308h.1M1705 1394h.1M1705 1374h.1M1705 1323h.1M1706 1333h.1M1706 1341h.1M1706 1353h.1M1706 1349h.1M1707 1397h.1M1707 1321h.1M1707 1357h.1M1707 1364h.1M1708 1309h.1M1708 1324h.1M1708 1294h.1M1708 1374h.1M1709 1268h.1M1709 1337h.1M1709 1266h.1M1709 1330h.1M1710 1320h.1M1710 1266h.1M1710 1338h.1M1710 1228h.1M1711 1245h.1M1711 1246h.1M1711 1314h.1M1711 1355h.1M1712 1285h.1M1712 1255h.1M1712 1360h.1M1712 1252h.1M1713 1387h.1M1713 1392h.1M1713 1386h.1M1713 1352h.1M1714 1350h.1M1714 1329h.1M1714 1388h.1M1714 1349h.1M1715 1369h.1M1715 1375h.1M1715 1421h.1M1715 1405h.1M1716 1496h.1M1716 1453h.1M1716 1383h.1M1716 1388h.1M1717 1400h.1M1717 1363h.1M1717 1409h.1M1717 1398h.1M1718 1444h.1M1718 1441h.1M1718 1394h.1M1718 1468h.1M1719 1423h.1M1719 1388h.1M1719 1473h.1M1719 1462h.1M1720 1392h.1M1720 1464h.1M1720 1448h.1M1720 1391h.1M1721 1453h.1M1721 1405h.1M1721 1407h.1M1721 1395h.1M1722 1394h.1M1722 1428h.1M1722 1406h.1M1722 1369h.1M1723 1435h.1M1723 1417h.1M1723 1401h.1M1723 1412h.1M1724 1434h.1M1724 1452h.1M1724 1409h.1M1724 1413h.1M1725 1425h.1M1725 1437h.1M1725 1397h.1M1725 1358h.1M1726 1486h.1M1726 1455h.1M1726 1365h.1M1726 1451h.1M1727 1420h.1M1727 1425h.1M1727 1393h.1M1727 1400h.1M1728 1303h.1M1728 1407h.1M1728 1359h.1M1728 1351h.1M1729 1367h.1M1729 1350h.1M1729 1348h.1M1729 1276h.1M1730 1392h.1M1730 1290h.1M1730 1367h.1M1730 1365h.1M1731 1322h.1M1731 1307h.1M1731 1304h.1M1731 1263h.1M1732 1333h.1M1732 1322h.1M1732 1270h.1M1732 1370h.1M1733 1366h.1M1733 1357h.1M1733 1367h.1M1733 1387h.1M1734 1316h.1M1734 1329h.1M1734 1273h.1M1734 1355h.1M1735 1346h.1M1735 1372h.1M1735 1384h.1M1735 1435h.1M1736 1292h.1M1736 1315h.1M1736 1287h.1M1736 1298h.1M1737 1333h.1M1737 1386h.1M1737 1437h.1M1737 1365h.1M1738 1292h.1M1738 1301h.1M1738 1330h.1M1738 1334h.1M1739 1276h.1M1739 1263h.1M1739 1251h.1M1739 1393h.1M1740 1288h.1M1740 1342h.1M1740 1279h.1M1740 1304h.1M1741 1259h.1M1741 1288h.1M1741 1306h.1M1741 1364h.1M1742 1352h.1M1742 1304h.1M1742 1353h.1M1742 1302h.1M1743 1348h.1M1743 1418h.1M1743 1357h.1M1743 1302h.1M1744 1313h.1M1744 1269h.1M1744 1299h.1M1744 1273h.1M1745 1256h.1M1745 1320h.1M1745 1298h.1M1745 1311h.1M1746 1249h.1M1746 1307h.1M1746 1401h.1M1746 1371h.1M1747 1270h.1M1747 1295h.1M1747 1347h.1M1747 1331h.1M1748 1283h.1M1748 1372h.1M1748 1317h.1M1749 1237h.1M1749 1343h.1M1749 1283h.1M1749 1323h.1M1750 1222h.1M1750 1277h.1M1750 1258h.1M1750 1274h.1M1751 1231h.1M1751 1330h.1M1751 1310h.1M1751 1247h.1M1752 1219h.1M1752 1296h.1M1752 1204h.1M1752 1209h.1M1753 1256h.1M1753 1242h.1M1753 1286h.1M1753 1266h.1M1754 1324h.1M1754 1249h.1M1754 1196h.1M1754 1281h.1M1755 1292h.1M1755 1256h.1M1755 1322h.1M1755 1314h.1M1756 1275h.1M1756 1323h.1M1756 1208h.1M1757 1292h.1M1757 1241h.1M1757 1238h.1M1757 1251h.1M1758 1210h.1M1758 1286h.1M1758 1263h.1M1758 1279h.1M1759 1410h.1M1759 1340h.1M1759 1339h.1M1759 1348h.1M1760 1321h.1M1760 1277h.1M1760 1359h.1M1760 1264h.1M1761 1318h.1M1761 1374h.1M1761 1379h.1M1761 1332h.1M1762 1263h.1M1762 1301h.1M1762 1265h.1M1762 1277h.1M1763 1253h.1M1763 1352h.1M1763 1335h.1M1763 1347h.1M1764 1320h.1M1764 1392h.1M1764 1374h.1M1764 1397h.1M1765 1340h.1M1765 1331h.1M1765 1408h.1M1765 1345h.1M1766 1404h.1M1766 1468h.1M1766 1431h.1M1766 1414h.1M1767 1416h.1M1767 1433h.1M1767 1443h.1M1767 1381h.1M1768 1436h.1M1768 1356h.1M1768 1404h.1M1768 1381h.1M1769 1280h.1M1769 1348h.1M1769 1413h.1M1769 1388h.1M1770 1365h.1M1770 1324h.1M1770 1397h.1M1770 1408h.1M1771 1348h.1M1771 1273h.1M1771 1323h.1M1771 1420h.1M1772 1342h.1M1772 1384h.1M1772 1437h.1M1772 1326h.1M1773 1376h.1M1773 1366h.1M1773 1322h.1M1773 1355h.1M1774 1385h.1M1774 1355h.1M1774 1362h.1M1774 1340h.1M1775 1400h.1M1775 1452h.1M1775 1420h.1M1775 1486h.1M1776 1386h.1M1776 1411h.1M1776 1435h.1M1776 1439h.1M1777 1345h.1M1777 1393h.1M1777 1458h.1M1777 1346h.1M1778 1406h.1M1778 1416h.1M1778 1411h.1M1778 1355h.1M1779 1494h.1M1779 1404h.1M1779 1443h.1M1779 1377h.1M1780 1442h.1M1780 1446h.1M1780 1321h.1M1780 1484h.1M1781 1432h.1M1781 1354h.1M1781 1439h.1M1781 1339h.1M1782 1370h.1M1782 1467h.1M1782 1381h.1M1782 1356h.1M1783 1340h.1M1783 1421h.1M1783 1434h.1M1783 1450h.1M1784 1428h.1M1784 1352h.1M1784 1436h.1M1784 1353h.1M1785 1371h.1M1785 1405h.1M1785 1417h.1M1785 1438h.1M1786 1339h.1M1786 1371h.1M1786 1326h.1M1786 1376h.1M1787 1386h.1M1787 1318h.1M1787 1300h.1M1788 1311h.1M1788 1210h.1M1788 1283h.1M1788 1327h.1M1789 1283h.1M1789 1220h.1M1789 1239h.1M1789 1275h.1M1790 1286h.1M1790 1256h.1M1790 1307h.1M1790 1203h.1M1791 1237h.1M1791 1293h.1M1791 1357h.1M1791 1294h.1M1792 1303h.1M1792 1313h.1M1792 1326h.1M1792 1306h.1M1793 1356h.1M1793 1387h.1M1793 1416h.1M1793 1251h.1M1794 1239h.1M1794 1347h.1M1794 1261h.1M1794 1172h.1M1794 1255h.1M1795 1310h.1M1795 1298h.1M1795 1211h.1M1795 1307h.1M1796 1316h.1M1796 1325h.1M1796 1366h.1M1796 1308h.1M1797 1264h.1M1797 1255h.1M1797 1311h.1M1797 1316h.1M1798 1349h.1M1798 1209h.1M1798 1213h.1M1798 1268h.1M1799 1246h.1M1799 1301h.1M1799 1268h.1M1799 1273h.1M1800 1357h.1M1800 1337h.1M1800 1336h.1M1800 1362h.1M1801 1363h.1M1801 1389h.1M1801 1400h.1M1801 1360h.1M1802 1361h.1M1802 1381h.1M1802 1477h.1M1802 1482h.1M1803 1452h.1M1803 1373h.1M1803 1372h.1M1804 1461h.1M1804 1383h.1M1804 1419h.1M1805 1453h.1M1805 1349h.1M1805 1434h.1M1805 1374h.1M1806 1458h.1M1806 1478h.1M1806 1417h.1M1806 1431h.1M1807 1476h.1M1807 1428h.1M1807 1339h.1M1807 1397h.1M1808 1414h.1M1808 1380h.1M1808 1455h.1M1808 1433h.1M1809 1454h.1M1809 1493h.1M1809 1425h.1M1809 1418h.1M1810 1426h.1M1810 1461h.1M1810 1448h.1M1810 1438h.1M1811 1344h.1M1811 1356h.1M1811 1382h.1M1811 1446h.1M1812 1381h.1M1812 1392h.1M1812 1403h.1M1812 1434h.1M1813 1429h.1M1813 1384h.1M1813 1436h.1M1813 1422h.1M1814 1414h.1M1814 1405h.1M1814 1456h.1M1814 1483h.1M1815 1491h.1M1815 1442h.1M1815 1487h.1M1815 1500h.1M1816 1504h.1M1816 1320h.1M1816 1357h.1M1816 1487h.1M1817 1432h.1M1817 1385h.1M1817 1407h.1M1817 1415h.1M1818 1480h.1M1818 1403h.1M1818 1404h.1M1818 1492h.1M1819 1504h.1M1819 1436h.1M1819 1407h.1M1819 1421h.1M1820 1472h.1M1820 1422h.1M1820 1308h.1M1820 1433h.1M1821 1392h.1M1821 1393h.1M1821 1388h.1M1821 1400h.1M1822 1425h.1M1822 1486h.1M1822 1437h.1M1822 1444h.1M1823 1409h.1M1823 1398h.1M1823 1430h.1M1823 1410h.1M1824 1485h.1M1824 1491h.1M1824 1449h.1M1825 1358h.1M1825 1389h.1M1825 1448h.1M1825 1377h.1M1826 1473h.1M1826 1476h.1M1826 1332h.1M1826 1355h.1M1827 1297h.1M1827 1506h.1M1827 1346h.1M1827 1387h.1M1828 1360h.1M618 946h.1M341 1009h.1M299 1040h.1M271 1455h.1M644 1512h.1M1426 1558h.1M1710 1542h.1M1795 1114h.1M563 1003h.1M1114 1065h.1M1146 1061h.1M1295 1079h.1M833 1087h.1M1812 1495h.1"/><path fill="none" stroke="#ff0000" stroke-width="8.3" stroke-linejoin="round" d="M234.5 1235.1L236.0 1230.6L237.5 1226.6L239.0 1223.6L240.5 1221.6L242.0 1220.8L243.5 1221.3L245.0 1223.1L246.5 1226.1L248.0 1230.4L249.5 1235.7L251.0 1241.9L252.5 1248.7L254.0 1255.8L255.5 1263.0L257.0 1269.9L258.5 1276.3L260.0 1281.9L261.5 1286.4L263.0 1289.6L264.5 1291.4L266.0 1291.6L267.5 1290.3L269.0 1287.3L270.5 1282.8L272.0 1277.0L273.5 1270.0L275.0 1262.1L276.5 1253.5L278.0 1244.6L279.5 1235.7L281.0 1227.0L282.5 1218.9L284.0 1211.7L285.5 1205.6L287.0 1200.9L288.5 1197.6L290.0 1195.8L291.5 1195.7L293.0 1197.1L294.5 1199.9L296.0 1204.1L297.5 1209.3L299.0 1215.4L300.5 1222.0L302.0 1228.9L303.5 1235.8L305.0 1242.4L306.5 1248.5L308.0 1253.7L309.5 1257.9L311.0 1260.9L312.5 1262.7L314.0 1263.2L315.5 1262.4L317.0 1260.4L318.5 1257.4L320.0 1253.5L321.5 1249.0L323.0 1244.1L324.5 1239.0L326.0 1234.1L327.5 1229.7L329.0 1226.0L330.5 1223.1L332.0 1221.3L333.5 1220.8L335.0 1221.5L336.5 1223.6L338.0 1226.9L339.5 1231.4L341.0 1236.9L342.5 1243.2L344.0 1250.1L345.5 1257.3L347.0 1264.4L348.5 1271.3L350.0 1277.5L351.5 1282.9L353.0 1287.2L354.5 1290.1L356.0 1291.6L357.5 1291.5L359.0 1289.8L360.5 1286.5L362.0 1281.8L363.5 1275.7L365.0 1268.5L366.5 1260.4L368.0 1251.7L369.5 1242.8L371.0 1233.9L372.5 1225.3L374.0 1217.4L375.5 1210.4L377.0 1204.5L378.5 1200.1L380.0 1197.1L381.5 1195.7L383.0 1195.8L384.5 1197.5L386.0 1200.7L387.5 1205.0L389.0 1210.5L390.5 1216.7L392.0 1223.4L393.5 1230.3L395.0 1237.2L396.5 1243.7L398.0 1249.6L399.5 1254.6L401.0 1258.6L402.5 1261.4L404.0 1262.9L405.5 1263.1L407.0 1262.1L408.5 1259.9L410.0 1256.7L411.5 1252.6L413.0 1248.0L414.5 1243.0L416.0 1238.0L417.5 1233.2L419.0 1228.9L420.5 1225.3L422.0 1222.7L423.5 1221.1L425.0 1220.8L426.5 1221.8L428.0 1224.2L429.5 1227.7L431.0 1232.5L432.5 1238.1L434.0 1244.6L435.5 1251.5L437.0 1258.7L438.5 1265.9L440.0 1272.6L441.5 1278.7L443.0 1283.9L444.5 1287.9L446.0 1290.5L447.5 1291.7L449.0 1291.3L450.5 1289.2L452.0 1285.7L453.5 1280.6L455.0 1274.3L456.5 1266.9L458.0 1258.7L459.5 1249.9L461.0 1241.0L462.5 1232.1L464.0 1223.6L465.5 1215.9L467.0 1209.1L468.5 1203.5L470.0 1199.3L471.5 1196.7L473.0 1195.6L474.5 1196.1L476.0 1198.1L477.5 1201.4L479.0 1206.1L480.5 1211.7L482.0 1218.0L483.5 1224.8L485.0 1231.8L486.5 1238.6L488.0 1245.0L489.5 1250.7L491.0 1255.5L492.5 1259.3L494.0 1261.8L495.5 1263.1L497.0 1263.0L498.5 1261.7L500.0 1259.3L501.5 1255.9L503.0 1251.7L504.5 1247.0L506.0 1242.0L507.5 1237.0L509.0 1232.3L510.5 1228.1L512.0 1224.7L513.5 1222.2L515.0 1221.0L516.5 1220.9L518.0 1222.2L519.5 1224.8L521.0 1228.6L522.5 1233.5L524.0 1239.4L525.5 1246.0L527.1 1253.0L528.6 1260.2L530.1 1267.3L531.6 1273.9L533.1 1279.8L534.6 1284.8L536.1 1288.5L537.6 1290.9L539.1 1291.7L540.6 1291.0L542.1 1288.6L543.6 1284.8L545.1 1279.4L546.6 1272.9L548.1 1265.3L549.6 1256.9L551.1 1248.1L552.6 1239.1L554.1 1230.3L555.6 1222.0L557.1 1214.4L558.6 1207.8L560.1 1202.5L561.6 1198.7L563.1 1196.3L564.6 1195.5L566.1 1196.3L567.6 1198.6L569.1 1202.3L570.6 1207.1L572.1 1212.9L573.6 1219.4L575.1 1226.2L576.6 1233.2L578.1 1239.9L579.6 1246.2L581.1 1251.8L582.6 1256.4L584.1 1259.9L585.6 1262.2L587.1 1263.1L588.6 1262.8L590.1 1261.3L591.6 1258.7L593.1 1255.1L594.6 1250.8L596.1 1246.0L597.6 1241.0L599.1 1236.0L600.6 1231.4L602.1 1227.3L603.6 1224.1L605.1 1221.9L606.6 1220.9L608.1 1221.1L609.6 1222.6L611.1 1225.5L612.6 1229.5L614.1 1234.7L615.6 1240.7L617.1 1247.4L618.6 1254.5L620.1 1261.6L621.6 1268.7L623.1 1275.2L624.6 1280.9L626.1 1285.6L627.6 1289.1L629.1 1291.2L630.6 1291.7L632.1 1290.6L633.6 1288.0L635.1 1283.8L636.6 1278.2L638.1 1271.4L639.6 1263.7L641.1 1255.2L642.6 1246.3L644.1 1237.3L644.3 1235.9L644.3 1314.2L645.6 1306.9L647.1 1298.7L648.6 1291.3L650.1 1285.0L651.6 1280.0L653.1 1276.4L654.6 1274.4L656.1 1273.9L657.6 1275.0L659.1 1277.6L660.6 1281.5L662.1 1286.6L663.6 1292.5L665.1 1299.1L666.6 1306.0L668.1 1312.9L669.6 1319.6L671.1 1325.8L672.6 1331.1L674.1 1335.5L675.6 1338.8L677.1 1340.8L678.6 1341.5L680.1 1341.0L681.6 1339.2L683.1 1336.4L684.6 1332.6L686.1 1328.2L687.6 1323.3L689.1 1318.3L690.6 1313.4L692.1 1308.8L693.6 1304.9L695.1 1301.9L696.6 1299.9L698.1 1299.1L699.6 1299.6L701.1 1301.5L702.6 1304.6L704.1 1308.8L705.6 1314.2L707.1 1320.3L708.6 1327.1L710.1 1334.3L711.6 1341.4L713.1 1348.4L714.6 1354.8L716.1 1360.3L717.6 1364.8L719.1 1368.0L720.6 1369.8L722.1 1370.0L723.6 1368.6L725.1 1365.6L726.6 1361.1L728.1 1355.3L729.6 1348.3L731.1 1340.3L732.6 1331.7L734.1 1322.8L735.6 1313.9L737.1 1305.2L738.6 1297.1L740.1 1289.9L741.6 1283.9L743.1 1279.1L744.6 1275.9L746.1 1274.2L747.6 1274.0L749.1 1275.5L750.6 1278.3L752.1 1282.5L753.6 1287.7L755.1 1293.8L756.6 1300.5L758.1 1307.4L759.6 1314.3L761.1 1320.9L762.6 1326.9L764.1 1332.1L765.6 1336.3L767.1 1339.3L768.6 1341.1L770.1 1341.5L771.6 1340.7L773.1 1338.7L774.6 1335.7L776.1 1331.8L777.6 1327.2L779.1 1322.3L780.6 1317.3L782.1 1312.4L783.6 1308.0L785.1 1304.3L786.6 1301.4L788.1 1299.7L789.6 1299.1L791.1 1299.9L792.6 1302.0L794.1 1305.3L795.6 1309.8L797.1 1315.4L798.6 1321.7L800.1 1328.6L801.6 1335.7L803.1 1342.9L804.6 1349.7L806.1 1356.0L807.6 1361.3L809.1 1365.6L810.6 1368.5L812.1 1369.9L813.6 1369.8L815.1 1368.1L816.6 1364.8L818.1 1360.0L819.6 1353.9L821.1 1346.7L822.6 1338.6L824.1 1330.0L825.6 1321.0L827.1 1312.1L828.6 1303.5L830.1 1295.6L831.6 1288.6L833.1 1282.8L834.6 1278.4L836.1 1275.4L837.6 1274.0L839.1 1274.2L840.6 1275.9L842.1 1279.1L843.6 1283.5L845.1 1288.9L846.6 1295.1L848.1 1301.9L849.6 1308.8L851.1 1315.7L852.6 1322.2L854.1 1328.0L855.6 1333.1L857.1 1337.0L858.6 1339.8L860.1 1341.3L861.6 1341.5L863.1 1340.4L864.6 1338.2L866.1 1335.0L867.6 1330.9L869.1 1326.3L870.6 1321.3L872.1 1316.3L873.6 1311.5L875.1 1307.2L876.6 1303.6L878.1 1301.0L879.6 1299.5L881.1 1299.2L882.6 1300.2L884.1 1302.6L885.6 1306.2L887.1 1310.9L888.6 1316.6L890.1 1323.0L891.6 1330.0L893.1 1337.2L894.6 1344.3L896.1 1351.1L897.6 1357.1L899.1 1362.3L900.6 1366.3L902.1 1368.9L903.6 1370.0L905.1 1369.6L906.6 1367.6L908.1 1364.0L909.6 1358.9L911.1 1352.6L912.6 1345.1L914.1 1336.9L915.6 1328.1L917.1 1319.2L918.6 1310.3L920.1 1301.8L921.6 1294.1L923.1 1287.3L924.6 1281.8L926.1 1277.6L927.6 1275.0L929.1 1273.9L930.6 1274.4L932.1 1276.5L933.6 1279.9L935.1 1284.5L936.6 1290.1L938.1 1296.5L939.6 1303.3L941.1 1310.2L942.6 1317.0L944.1 1323.4L945.6 1329.1L947.1 1333.9L948.6 1337.7L950.1 1340.2L951.6 1341.4L953.1 1341.4L953.4 1341.2L953.4 1305.2L954.6 1304.1L956.1 1301.7L957.6 1298.2L959.1 1294.1L960.6 1289.3L962.1 1284.3L963.6 1279.3L965.1 1274.6L966.6 1270.4L968.1 1267.0L969.6 1264.6L971.1 1263.4L972.6 1263.3L974.1 1264.6L975.6 1267.2L977.1 1271.1L978.6 1276.0L980.1 1281.9L981.6 1288.5L983.1 1295.5L984.6 1302.7L986.1 1309.8L987.6 1316.4L989.1 1322.3L990.6 1327.3L992.1 1331.0L993.6 1333.3L995.1 1334.1L996.6 1333.4L998.1 1331.0L999.6 1327.1L1001.1 1321.8L1002.6 1315.2L1004.1 1307.6L1005.6 1299.2L1007.1 1290.4L1008.6 1281.4L1010.1 1272.6L1011.6 1264.2L1013.1 1256.7L1014.6 1250.2L1016.1 1244.9L1017.6 1241.0L1019.1 1238.7L1020.6 1237.9L1022.1 1238.8L1023.6 1241.1L1025.1 1244.8L1026.6 1249.6L1028.1 1255.4L1029.6 1261.9L1031.1 1268.7L1032.6 1275.7L1034.1 1282.4L1035.6 1288.7L1037.1 1294.2L1038.6 1298.8L1040.1 1302.3L1041.6 1304.6L1043.1 1305.6L1044.6 1305.2L1046.1 1303.7L1047.6 1301.0L1049.1 1297.4L1050.6 1293.1L1052.1 1288.3L1053.6 1283.3L1055.1 1278.3L1056.6 1273.7L1058.1 1269.7L1059.6 1266.5L1061.1 1264.3L1062.6 1263.2L1064.1 1263.5L1065.6 1265.1L1067.1 1267.9L1068.6 1272.0L1070.1 1277.1L1071.6 1283.2L1073.1 1289.9L1074.6 1297.0L1076.1 1304.2L1077.6 1311.2L1079.1 1317.7L1080.6 1323.4L1082.1 1328.1L1083.6 1331.6L1085.1 1333.6L1086.6 1334.1L1088.1 1333.0L1089.6 1330.3L1091.1 1326.1L1092.6 1320.5L1094.1 1313.7L1095.6 1305.9L1097.1 1297.4L1098.6 1288.6L1100.1 1279.6L1101.6 1270.8L1103.1 1262.6L1104.6 1255.3L1106.1 1249.0L1107.6 1244.0L1109.1 1240.4L1110.6 1238.4L1112.1 1238.0L1113.6 1239.1L1115.1 1241.7L1116.6 1245.7L1118.1 1250.7L1119.6 1256.7L1121.1 1263.2L1122.6 1270.1L1124.1 1277.1L1125.6 1283.7L1127.1 1289.9L1128.6 1295.3L1130.1 1299.6L1131.6 1302.9L1133.1 1304.9L1134.6 1305.6L1136.1 1305.0L1137.6 1303.2L1139.1 1300.4L1140.6 1296.6L1142.1 1292.2L1143.6 1287.3L1145.1 1282.3L1146.6 1277.4L1148.1 1272.8L1149.7 1268.9L1151.2 1265.9L1152.7 1264.0L1154.2 1263.2L1155.7 1263.7L1157.2 1265.5L1158.7 1268.7L1160.2 1273.0L1161.7 1278.3L1163.2 1284.5L1164.7 1291.3L1166.2 1298.4L1167.7 1305.6L1169.2 1312.5L1170.7 1318.9L1172.2 1324.5L1173.7 1328.9L1175.2 1332.1L1176.7 1333.8L1178.2 1334.0L1179.7 1332.6L1181.2 1329.6L1182.7 1325.1L1184.2 1319.2L1185.7 1312.2L1187.2 1304.2L1188.7 1295.7L1190.2 1286.7L1191.7 1277.8L1193.2 1269.1L1194.7 1261.1L1196.2 1253.9L1197.7 1247.8L1199.2 1243.1L1200.7 1239.9L1202.2 1238.2L1203.7 1238.1L1205.2 1239.5L1206.7 1242.4L1208.2 1246.6L1209.7 1251.9L1211.2 1258.0L1212.7 1264.6L1214.2 1271.5L1215.7 1278.5L1217.2 1285.0L1218.7 1291.1L1220.2 1296.2L1221.7 1300.4L1223.2 1303.4L1224.7 1305.1L1226.2 1305.6L1227.7 1304.7L1229.2 1302.7L1230.7 1299.7L1232.2 1295.8L1233.7 1291.2L1235.2 1286.3L1236.7 1281.3L1238.2 1276.4L1239.7 1272.0L1241.2 1268.2L1242.7 1265.4L1244.2 1263.7L1245.7 1263.2L1247.2 1264.0L1248.7 1266.1L1250.2 1269.4L1251.7 1274.0L1253.2 1279.5L1254.7 1285.8L1256.2 1292.7L1257.7 1299.9L1259.2 1307.0L1260.7 1313.9L1262.2 1320.1L1263.7 1325.5L1265.2 1329.7L1266.7 1332.6L1268.2 1334.0L1269.7 1333.9L1271.2 1332.1L1272.7 1328.8L1274.2 1324.0L1275.7 1317.9L1277.2 1310.6L1278.7 1302.5L1280.2 1293.9L1281.7 1284.9L1283.2 1276.0L1284.7 1267.4L1286.2 1259.5L1287.7 1252.6L1289.2 1246.8L1290.7 1242.3L1292.2 1239.4L1293.7 1238.1L1295.2 1238.3L1296.7 1240.0L1298.2 1243.2L1299.7 1247.6L1301.2 1253.0L1302.7 1259.3L1304.2 1266.0L1305.7 1273.0L1307.2 1279.8L1308.7 1286.3L1310.2 1292.2L1311.7 1297.2L1313.2 1301.1L1314.7 1303.9L1316.2 1305.3L1317.7 1305.5L1319.2 1304.4L1320.7 1302.2L1322.2 1298.9L1323.7 1294.9L1325.2 1290.2L1326.7 1285.3L1328.2 1280.3L1329.7 1275.5L1331.2 1271.2L1332.7 1267.6L1334.2 1265.0L1335.7 1263.5L1337.2 1263.2L1338.7 1264.3L1340.2 1266.7L1341.7 1270.3L1343.2 1275.0L1344.7 1280.7L1346.2 1287.2L1347.7 1294.2L1349.2 1301.4L1350.7 1308.5L1352.2 1315.2L1353.7 1321.3L1355.2 1326.4L1356.7 1330.4L1358.2 1333.0L1359.7 1334.1L1361.2 1333.6L1362.7 1331.6L1364.2 1327.9L1365.7 1322.9L1367.2 1316.5L1368.7 1309.1L1370.2 1300.8L1371.7 1292.1L1373.2 1283.1L1374.7 1274.2L1376.2 1265.8L1377.7 1258.0L1379.2 1251.3L1380.7 1245.8L1382.2 1241.6L1383.7 1239.0L1385.2 1238.0L1386.7 1238.5L1388.2 1240.5L1389.7 1244.0L1391.2 1248.6L1392.7 1254.2L1394.2 1260.6L1395.7 1267.4L1397.2 1274.4L1398.7 1281.2L1400.2 1287.6L1401.7 1293.3L1403.2 1298.1L1404.7 1301.8L1406.2 1304.3L1407.7 1305.5L1409.2 1305.4L1410.7 1304.1L1412.2 1301.6L1413.7 1298.2L1415.2 1294.0L1416.7 1289.2L1418.2 1284.2L1419.7 1279.3L1421.2 1274.5L1422.7 1270.4L1424.2 1267.0L1425.7 1264.6L1427.2 1263.3L1428.7 1263.4L1430.2 1264.7L1431.7 1267.3L1433.2 1271.1L1434.7 1276.1L1436.2 1282.0L1437.7 1288.6L1439.2 1295.6L1440.7 1302.8L1442.2 1309.9L1443.7 1316.5L1445.2 1322.4L1446.7 1327.3L1448.2 1331.0L1449.7 1333.3L1451.2 1334.1L1452.7 1333.3L1454.2 1330.9L1455.7 1327.0L1457.2 1321.7L1458.7 1315.1L1460.2 1307.4L1461.7 1299.1L1463.2 1290.2L1464.7 1281.3L1466.2 1272.4L1467.7 1264.1L1469.2 1256.6L1470.7 1250.1L1472.2 1244.8L1473.7 1241.0L1475.2 1238.7L1476.7 1238.0L1478.2 1238.8L1479.7 1241.1L1481.2 1244.8L1482.7 1249.7L1484.2 1255.5L1485.7 1262.0L1487.2 1268.8L1488.7 1275.8L1490.2 1282.5L1491.7 1288.8L1493.2 1294.3L1494.7 1298.9L1496.2 1302.4L1497.7 1304.6L1499.2 1305.6L1500.7 1305.2L1502.2 1303.7L1503.7 1301.0L1505.0 1297.9L1505.0 1354.2L1505.2 1353.7L1506.7 1349.3L1508.2 1344.5L1509.7 1339.5L1511.2 1334.5L1512.7 1329.9L1514.2 1325.9L1515.7 1322.7L1517.2 1320.5L1518.7 1319.5L1520.2 1319.8L1521.7 1321.4L1523.2 1324.3L1524.7 1328.4L1526.2 1333.5L1527.7 1339.6L1529.2 1346.3L1530.7 1353.4L1532.2 1360.6L1533.7 1367.6L1535.2 1374.1L1536.7 1379.8L1538.2 1384.5L1539.7 1387.9L1541.2 1389.9L1542.7 1390.4L1544.2 1389.3L1545.7 1386.6L1547.2 1382.3L1548.7 1376.7L1550.2 1369.9L1551.7 1362.1L1553.2 1353.6L1554.7 1344.7L1556.2 1335.7L1557.7 1327.0L1559.2 1318.8L1560.7 1311.4L1562.2 1305.2L1563.7 1300.2L1565.2 1296.7L1566.7 1294.7L1568.2 1294.3L1569.7 1295.4L1571.2 1298.1L1572.7 1302.0L1574.2 1307.1L1575.7 1313.0L1577.2 1319.6L1578.7 1326.5L1580.2 1333.5L1581.7 1340.1L1583.2 1346.3L1584.7 1351.6L1586.2 1356.0L1587.7 1359.2L1589.2 1361.2L1590.7 1361.9L1592.2 1361.3L1593.7 1359.5L1595.2 1356.6L1596.7 1352.8L1598.2 1348.4L1599.7 1343.5L1601.2 1338.5L1602.7 1333.6L1604.2 1329.0L1605.7 1325.2L1607.2 1322.2L1608.7 1320.2L1610.2 1319.5L1611.7 1320.0L1613.2 1321.9L1614.7 1325.0L1616.2 1329.3L1617.7 1334.7L1619.2 1340.9L1620.7 1347.7L1622.2 1354.8L1623.7 1362.0L1625.2 1368.9L1626.7 1375.3L1628.2 1380.8L1629.7 1385.3L1631.2 1388.4L1632.7 1390.1L1634.2 1390.3L1635.7 1388.8L1637.2 1385.8L1638.7 1381.3L1640.2 1375.4L1641.7 1368.4L1643.2 1360.4L1644.7 1351.8L1646.2 1342.9L1647.7 1333.9L1649.2 1325.3L1650.7 1317.2L1652.2 1310.1L1653.7 1304.0L1655.2 1299.4L1656.7 1296.1L1658.2 1294.5L1659.7 1294.4L1661.2 1295.9L1662.7 1298.8L1664.2 1303.0L1665.7 1308.2L1667.2 1314.3L1668.7 1321.0L1670.2 1327.9L1671.7 1334.8L1673.2 1341.4L1674.7 1347.4L1676.2 1352.6L1677.7 1356.7L1679.2 1359.7L1680.7 1361.4L1682.2 1361.9L1683.7 1361.0L1685.2 1359.0L1686.7 1355.9L1688.2 1352.0L1689.7 1347.4L1691.2 1342.5L1692.7 1337.5L1694.2 1332.6L1695.7 1328.2L1697.2 1324.5L1698.7 1321.7L1700.2 1320.0L1701.7 1319.5L1703.2 1320.3L1704.7 1322.4L1706.2 1325.8L1707.7 1330.3L1709.2 1335.9L1710.7 1342.2L1712.2 1349.1L1713.7 1356.3L1715.2 1363.4L1716.7 1370.3L1718.2 1376.5L1719.7 1381.8L1721.2 1386.0L1722.7 1388.9L1724.2 1390.3L1725.7 1390.1L1727.2 1388.3L1728.7 1385.0L1730.2 1380.2L1731.7 1374.1L1733.2 1366.8L1734.7 1358.7L1736.2 1350.0L1737.7 1341.0L1739.2 1332.1L1740.7 1323.6L1742.2 1315.7L1743.7 1308.8L1745.2 1303.0L1746.7 1298.6L1748.2 1295.7L1749.7 1294.3L1751.2 1294.6L1752.7 1296.3L1754.2 1299.5L1755.7 1303.9L1757.2 1309.4L1758.7 1315.7L1760.2 1322.4L1761.7 1329.4L1763.2 1336.2L1764.7 1342.7L1766.2 1348.5L1767.7 1353.5L1769.2 1357.4L1770.8 1360.2L1772.3 1361.6L1773.8 1361.8L1775.3 1360.7L1776.8 1358.4L1778.3 1355.2L1779.8 1351.1L1781.3 1346.5L1782.8 1341.5L1784.3 1336.5L1785.8 1331.7L1787.3 1327.4L1788.8 1323.8L1790.3 1321.2L1791.8 1319.8L1793.3 1319.5L1794.8 1320.6L1796.3 1323.0L1797.8 1326.6L1799.3 1331.4L1800.8 1337.1L1802.3 1343.6L1803.8 1350.6L1805.3 1357.8L1806.8 1364.9L1808.3 1371.6L1809.8 1377.6L1811.3 1382.8L1812.8 1386.7L1814.3 1389.3L1815.8 1390.4L1817.3 1389.9L1818.8 1387.8L1820.3 1384.1L1821.8 1379.1L1823.3 1372.7L1824.8 1365.2L1826.3 1357.0L1827.8 1348.2"/></g>
<path stroke="#000" stroke-width="2" fill="none" d="M247.1 935.1v-10.0M247.1 1573.1v10.0M292.7 935.1v-10.0M292.7 1573.1v10.0M338.3 935.1v-18.5M338.3 1573.1v18.5M383.9 935.1v-10.0M383.9 1573.1v10.0M429.5 935.1v-10.0M429.5 1573.1v10.0M475.1 935.1v-10.0M475.1 1573.1v10.0M520.7 935.1v-18.5M520.7 1573.1v18.5M566.3 935.1v-10.0M566.3 1573.1v10.0M611.9 935.1v-10.0M611.9 1573.1v10.0M657.5 935.1v-10.0M657.5 1573.1v10.0M703.1 935.1v-18.5M703.1 1573.1v18.5M748.7 935.1v-10.0M748.7 1573.1v10.0M794.3 935.1v-10.0M794.3 1573.1v10.0M840.0 935.1v-10.0M840.0 1573.1v10.0M885.6 935.1v-18.5M885.6 1573.1v18.5M931.2 935.1v-10.0M931.2 1573.1v10.0M976.8 935.1v-10.0M976.8 1573.1v10.0M1022.4 935.1v-10.0M1022.4 1573.1v10.0M1068.0 935.1v-18.5M1068.0 1573.1v18.5M1113.6 935.1v-10.0M1113.6 1573.1v10.0M1159.2 935.1v-10.0M1159.2 1573.1v10.0M1204.8 935.1v-10.0M1204.8 1573.1v10.0M1250.4 935.1v-18.5M1250.4 1573.1v18.5M1296.0 935.1v-10.0M1296.0 1573.1v10.0M1341.6 935.1v-10.0M1341.6 1573.1v10.0M1387.2 935.1v-10.0M1387.2 1573.1v10.0M1432.8 935.1v-18.5M1432.8 1573.1v18.5M1478.4 935.1v-10.0M1478.4 1573.1v10.0M1524.0 935.1v-10.0M1524.0 1573.1v10.0M1569.6 935.1v-10.0M1569.6 1573.1v10.0M1615.2 935.1v-18.5M1615.2 1573.1v18.5M1660.8 935.1v-10.0M1660.8 1573.1v10.0M1706.4 935.1v-10.0M1706.4 1573.1v10.0M1752.1 935.1v-10.0M1752.1 1573.1v10.0M1797.7 935.1v-18.5M1797.7 1573.1v18.5M1843.3 935.1v-10.0M1843.3 1573.1v10.0M202.6 996.2H183.0M1860.0 996.2H1878.9M202.6 1144.9H183.0M1860.0 1144.9H1878.9M202.6 1293.7H183.0M1860.0 1293.7H1878.9M202.6 1442.5H183.0M1860.0 1442.5H1878.9"/>
<text transform="translate(167.4 1012.0) scale(1 1.035)" text-anchor="end" font-weight="bold" font-size="43">6</text>
<text transform="translate(167.4 1160.7) scale(1 1.035)" text-anchor="end" font-weight="bold" font-size="43">3</text>
<text transform="translate(167.4 1309.5) scale(1 1.035)" text-anchor="end" font-weight="bold" font-size="43">0</text>
<text transform="translate(167.4 1458.3) scale(1 1.035)" text-anchor="end" font-weight="bold" font-size="43">3</text>
<rect x="120.8" y="1445.9" width="21.2" height="5" fill="#000"/>
<text transform="translate(338.3 1639.4) scale(1 1.035)" text-anchor="middle" font-weight="bold" font-size="43">2006</text>
<text transform="translate(520.7 1639.4) scale(1 1.035)" text-anchor="middle" font-weight="bold" font-size="43">2008</text>
<text transform="translate(703.1 1639.4) scale(1 1.035)" text-anchor="middle" font-weight="bold" font-size="43">2010</text>
<text transform="translate(885.6 1639.4) scale(1 1.035)" text-anchor="middle" font-weight="bold" font-size="43">2012</text>
<text transform="translate(1068.0 1639.4) scale(1 1.035)" text-anchor="middle" font-weight="bold" font-size="43">2014</text>
<text transform="translate(1250.4 1639.4) scale(1 1.035)" text-anchor="middle" font-weight="bold" font-size="43">2016</text>
<text transform="translate(1432.8 1639.4) scale(1 1.035)" text-anchor="middle" font-weight="bold" font-size="43">2018</text>
<text transform="translate(1615.2 1639.4) scale(1 1.035)" text-anchor="middle" font-weight="bold" font-size="43">2020</text>
<text transform="translate(1797.7 1639.4) scale(1 1.035)" text-anchor="middle" font-weight="bold" font-size="43">2022</text>
<text transform="translate(90 1254.1) rotate(-90) scale(0.984 1)" text-anchor="middle" font-size="43">North (mm)</text>
<text transform="translate(1792.8 976.6) scale(0.989 1.04)" text-anchor="end" font-weight="bold" font-size="36">0.000+/- 0.124 mm/yr</text>
<rect x="202.6" y="1751.0" width="1657.4" height="638.0" fill="none" stroke="#000" stroke-width="5.8"/>
<g clip-path="url(#c2)"><line x1="644.3" y1="1751.0" x2="644.3" y2="2389.0" stroke="#00ffff" stroke-width="5" stroke-dasharray="29.5 13" stroke-dashoffset="28.6"/><line x1="953.4" y1="1751.0" x2="953.4" y2="2389.0" stroke="#00ffff" stroke-width="5" stroke-dasharray="29.5 13" stroke-dashoffset="28.6"/><line x1="1505.0" y1="1751.0" x2="1505.0" y2="2389.0" stroke="#00ffff" stroke-width="5" stroke-dasharray="29.5 13" stroke-dashoffset="28.6"/><path fill="none" stroke="#0000ff" stroke-width="12.5" stroke-linecap="round" d="M235 2274h.1M235 2321h.1M235 2294h.1M235 2311h.1M236 2318h.1M236 2263h.1M236 2298h.1M236 2244h.1M237 2314h.1M237 2279h.1M237 2305h.1M237 2291h.1M237 2328h.1M238 2306h.1M238 2302h.1M238 2326h.1M238 2307h.1M239 2307h.1M239 2286h.1M239 2264h.1M239 2267h.1M240 2271h.1M240 2260h.1M240 2297h.1M240 2286h.1M241 2277h.1M241 2334h.1M241 2259h.1M241 2320h.1M242 2285h.1M242 2252h.1M242 2298h.1M242 2263h.1M243 2283h.1M243 2285h.1M243 2277h.1M243 2293h.1M244 2258h.1M244 2222h.1M244 2259h.1M244 2267h.1M245 2292h.1M245 2278h.1M245 2254h.1M245 2249h.1M246 2273h.1M246 2301h.1M246 2285h.1M246 2284h.1M247 2252h.1M247 2282h.1M247 2299h.1M248 2283h.1M248 2280h.1M248 2317h.1M248 2328h.1M249 2269h.1M249 2331h.1M249 2296h.1M249 2293h.1M250 2271h.1M250 2297h.1M250 2293h.1M250 2303h.1M251 2288h.1M251 2277h.1M251 2323h.1M251 2281h.1M252 2254h.1M252 2314h.1M252 2290h.1M252 2318h.1M253 2318h.1M253 2291h.1M253 2344h.1M253 2301h.1M254 2294h.1M254 2318h.1M254 2299h.1M254 2310h.1M255 2326h.1M255 2351h.1M255 2293h.1M256 2299h.1M256 2312h.1M256 2328h.1M256 2346h.1M257 2321h.1M257 2300h.1M257 2279h.1M257 2319h.1M258 2305h.1M258 2296h.1M258 2302h.1M258 2311h.1M259 2292h.1M259 2321h.1M259 2261h.1M259 2249h.1M260 2290h.1M260 2279h.1M260 2292h.1M260 2291h.1M261 2283h.1M261 2335h.1M261 2296h.1M261 2274h.1M262 2296h.1M262 2285h.1M262 2280h.1M263 2289h.1M263 2333h.1M263 2270h.1M263 2285h.1M264 2258h.1M264 2253h.1M264 2254h.1M264 2286h.1M265 2248h.1M265 2265h.1M265 2247h.1M265 2259h.1M266 2259h.1M266 2262h.1M266 2275h.1M266 2279h.1M267 2252h.1M267 2279h.1M267 2302h.1M267 2274h.1M268 2265h.1M268 2314h.1M268 2264h.1M268 2274h.1M269 2271h.1M269 2264h.1M269 2254h.1M269 2323h.1M270 2317h.1M270 2262h.1M270 2251h.1M270 2299h.1M271 2273h.1M271 2279h.1M271 2244h.1M271 2262h.1M272 2278h.1M272 2300h.1M272 2282h.1M272 2285h.1M273 2239h.1M273 2272h.1M273 2233h.1M273 2238h.1M274 2234h.1M274 2238h.1M274 2248h.1M274 2264h.1M275 2245h.1M275 2231h.1M275 2200h.1M275 2259h.1M276 2226h.1M276 2212h.1M276 2219h.1M276 2270h.1M277 2253h.1M277 2239h.1M277 2236h.1M277 2224h.1M278 2250h.1M278 2248h.1M278 2229h.1M278 2238h.1M279 2247h.1M279 2246h.1M279 2240h.1M279 2250h.1M280 2249h.1M280 2263h.1M280 2247h.1M280 2224h.1M281 2232h.1M281 2263h.1M281 2222h.1M281 2234h.1M282 2220h.1M282 2261h.1M282 2235h.1M282 2268h.1M283 2273h.1M283 2258h.1M283 2251h.1M283 2267h.1M284 2218h.1M284 2220h.1M284 2237h.1M284 2216h.1M285 2198h.1M285 2232h.1M285 2238h.1M285 2247h.1M286 2238h.1M286 2218h.1M286 2258h.1M286 2231h.1M287 2227h.1M287 2222h.1M287 2219h.1M287 2254h.1M288 2207h.1M288 2225h.1M288 2211h.1M288 2193h.1M289 2226h.1M289 2214h.1M289 2211h.1M289 2221h.1M290 2238h.1M290 2197h.1M290 2259h.1M290 2256h.1M291 2241h.1M291 2257h.1M291 2279h.1M291 2239h.1M292 2246h.1M292 2253h.1M292 2263h.1M292 2287h.1M293 2292h.1M293 2275h.1M293 2283h.1M293 2293h.1M294 2235h.1M294 2260h.1M294 2254h.1M294 2243h.1M295 2241h.1M295 2221h.1M295 2253h.1M295 2227h.1M296 2219h.1M296 2193h.1M296 2229h.1M296 2185h.1M297 2255h.1M297 2239h.1M297 2202h.1M297 2241h.1M298 2247h.1M298 2202h.1M298 2195h.1M298 2236h.1M299 2198h.1M299 2214h.1M299 2181h.1M299 2249h.1M300 2194h.1M300 2251h.1M300 2217h.1M300 2231h.1M301 2215h.1M301 2205h.1M301 2206h.1M301 2199h.1M302 2198h.1M302 2168h.1M302 2184h.1M302 2167h.1M303 2193h.1M303 2176h.1M303 2216h.1M304 2186h.1M304 2164h.1M304 2253h.1M304 2184h.1M305 2233h.1M305 2201h.1M305 2186h.1M305 2195h.1M306 2173h.1M306 2170h.1M306 2196h.1M306 2200h.1M307 2202h.1M307 2192h.1M307 2237h.1M307 2222h.1M308 2212h.1M308 2211h.1M308 2229h.1M308 2228h.1M309 2231h.1M309 2189h.1M309 2208h.1M309 2218h.1M310 2219h.1M310 2265h.1M310 2234h.1M311 2220h.1M311 2219h.1M311 2190h.1M311 2211h.1M312 2231h.1M312 2199h.1M312 2258h.1M312 2227h.1M313 2267h.1M313 2282h.1M313 2256h.1M314 2275h.1M314 2220h.1M314 2240h.1M314 2257h.1M315 2271h.1M315 2249h.1M315 2263h.1M315 2213h.1M316 2247h.1M316 2223h.1M317 2242h.1M317 2252h.1M317 2230h.1M317 2267h.1M318 2219h.1M318 2273h.1M318 2225h.1M318 2214h.1M319 2237h.1M319 2262h.1M319 2240h.1M319 2287h.1M320 2236h.1M320 2242h.1M320 2241h.1M320 2226h.1M321 2235h.1M321 2234h.1M321 2261h.1M321 2217h.1M322 2240h.1M322 2234h.1M322 2259h.1M322 2224h.1M323 2269h.1M323 2261h.1M323 2247h.1M323 2207h.1M324 2301h.1M324 2264h.1M324 2243h.1M324 2255h.1M325 2277h.1M325 2244h.1M325 2284h.1M325 2265h.1M326 2320h.1M326 2309h.1M326 2318h.1M326 2331h.1M327 2285h.1M327 2304h.1M327 2293h.1M327 2316h.1M328 2285h.1M328 2321h.1M328 2280h.1M328 2277h.1M329 2272h.1M329 2299h.1M329 2282h.1M329 2304h.1M330 2311h.1M330 2327h.1M330 2259h.1M330 2287h.1M331 2271h.1M331 2286h.1M331 2349h.1M331 2297h.1M332 2303h.1M332 2324h.1M332 2333h.1M332 2301h.1M333 2328h.1M333 2281h.1M333 2314h.1M334 2342h.1M334 2287h.1M334 2315h.1M334 2318h.1M335 2290h.1M335 2293h.1M335 2273h.1M335 2272h.1M336 2302h.1M336 2293h.1M336 2309h.1M337 2235h.1M337 2288h.1M337 2312h.1M337 2281h.1M338 2303h.1M338 2281h.1M338 2302h.1M338 2261h.1M339 2247h.1M339 2294h.1M339 2286h.1M339 2310h.1M340 2286h.1M340 2283h.1M340 2312h.1M340 2287h.1M341 2336h.1M341 2272h.1M341 2281h.1M341 2323h.1M342 2298h.1M342 2305h.1M342 2317h.1M342 2296h.1M343 2291h.1M343 2295h.1M343 2305h.1M343 2312h.1M344 2292h.1M344 2314h.1M344 2307h.1M344 2290h.1M345 2284h.1M345 2283h.1M345 2298h.1M345 2333h.1M346 2282h.1M346 2295h.1M346 2328h.1M346 2337h.1M347 2330h.1M347 2310h.1M347 2264h.1M347 2346h.1M348 2343h.1M348 2329h.1M348 2294h.1M348 2282h.1M349 2311h.1M349 2285h.1M349 2330h.1M349 2331h.1M350 2271h.1M350 2266h.1M350 2281h.1M350 2273h.1M351 2337h.1M351 2292h.1M351 2272h.1M351 2311h.1M352 2282h.1M352 2258h.1M352 2266h.1M352 2276h.1M353 2262h.1M353 2300h.1M353 2289h.1M353 2296h.1M354 2275h.1M354 2285h.1M354 2255h.1M354 2287h.1M355 2260h.1M355 2254h.1M355 2277h.1M355 2285h.1M356 2253h.1M356 2265h.1M356 2264h.1M356 2323h.1M357 2265h.1M357 2296h.1M357 2282h.1M357 2298h.1M358 2281h.1M358 2271h.1M358 2294h.1M358 2260h.1M359 2235h.1M359 2265h.1M359 2272h.1M359 2252h.1M360 2258h.1M360 2252h.1M360 2234h.1M360 2240h.1M361 2239h.1M361 2238h.1M361 2307h.1M361 2230h.1M362 2256h.1M362 2222h.1M362 2215h.1M362 2250h.1M363 2242h.1M363 2288h.1M363 2270h.1M363 2262h.1M364 2294h.1M364 2336h.1M364 2277h.1M365 2311h.1M365 2284h.1M365 2282h.1M365 2277h.1M366 2251h.1M366 2281h.1M366 2287h.1M366 2260h.1M367 2256h.1M367 2259h.1M367 2251h.1M367 2277h.1M368 2257h.1M368 2237h.1M368 2252h.1M368 2259h.1M369 2263h.1M369 2247h.1M369 2239h.1M369 2262h.1M370 2254h.1M370 2234h.1M370 2264h.1M370 2240h.1M371 2236h.1M371 2216h.1M371 2249h.1M372 2265h.1M372 2240h.1M372 2230h.1M372 2200h.1M373 2239h.1M373 2217h.1M373 2209h.1M373 2183h.1M374 2229h.1M374 2223h.1M374 2185h.1M374 2187h.1M375 2225h.1M375 2270h.1M375 2228h.1M375 2198h.1M376 2192h.1M376 2205h.1M376 2194h.1M376 2210h.1M377 2234h.1M377 2222h.1M377 2188h.1M377 2200h.1M378 2201h.1M378 2204h.1M378 2225h.1M378 2251h.1M379 2236h.1M379 2216h.1M379 2266h.1M379 2226h.1M380 2233h.1M380 2226h.1M380 2205h.1M380 2257h.1M381 2221h.1M381 2211h.1M381 2240h.1M381 2238h.1M382 2234h.1M382 2213h.1M382 2205h.1M382 2228h.1M383 2208h.1M383 2237h.1M383 2168h.1M383 2187h.1M384 2219h.1M384 2230h.1M384 2206h.1M384 2209h.1M385 2252h.1M385 2290h.1M385 2259h.1M385 2258h.1M386 2207h.1M386 2230h.1M386 2244h.1M386 2246h.1M387 2238h.1M387 2267h.1M387 2194h.1M387 2213h.1M388 2208h.1M388 2210h.1M388 2218h.1M388 2224h.1M389 2210h.1M389 2253h.1M389 2176h.1M389 2184h.1M390 2212h.1M390 2191h.1M390 2184h.1M390 2179h.1M391 2185h.1M391 2184h.1M391 2241h.1M391 2217h.1M392 2241h.1M392 2227h.1M392 2201h.1M392 2206h.1M393 2242h.1M393 2200h.1M393 2257h.1M393 2211h.1M394 2183h.1M394 2219h.1M394 2212h.1M394 2216h.1M395 2204h.1M395 2201h.1M395 2227h.1M395 2205h.1M396 2220h.1M396 2169h.1M396 2241h.1M396 2219h.1M397 2222h.1M397 2240h.1M397 2302h.1M397 2251h.1M398 2262h.1M398 2237h.1M398 2231h.1M398 2244h.1M399 2287h.1M399 2211h.1M399 2300h.1M399 2268h.1M400 2256h.1M400 2279h.1M400 2250h.1M400 2297h.1M401 2261h.1M401 2289h.1M401 2235h.1M401 2277h.1M402 2255h.1M402 2288h.1M402 2261h.1M403 2281h.1M403 2269h.1M403 2254h.1M403 2258h.1M404 2243h.1M404 2286h.1M404 2347h.1M404 2279h.1M405 2301h.1M405 2270h.1M405 2264h.1M405 2243h.1M406 2304h.1M406 2273h.1M406 2312h.1M406 2274h.1M407 2281h.1M407 2295h.1M407 2257h.1M407 2277h.1M408 2305h.1M408 2313h.1M408 2275h.1M408 2293h.1M409 2293h.1M409 2319h.1M409 2281h.1M409 2298h.1M410 2246h.1M410 2276h.1M410 2296h.1M410 2261h.1M411 2249h.1M411 2264h.1M411 2290h.1M411 2265h.1M412 2272h.1M412 2318h.1M412 2315h.1M412 2281h.1M413 2255h.1M413 2263h.1M413 2253h.1M413 2295h.1M414 2257h.1M414 2245h.1M414 2274h.1M415 2254h.1M415 2256h.1M415 2266h.1M415 2247h.1M416 2253h.1M416 2261h.1M416 2250h.1M416 2277h.1M417 2291h.1M417 2293h.1M417 2264h.1M417 2271h.1M418 2312h.1M418 2318h.1M418 2330h.1M418 2305h.1M419 2303h.1M419 2285h.1M419 2308h.1M420 2305h.1M420 2326h.1M420 2337h.1M420 2356h.1M421 2326h.1M421 2335h.1M421 2308h.1M421 2334h.1M422 2273h.1M422 2236h.1M422 2320h.1M422 2331h.1M423 2329h.1M423 2281h.1M423 2331h.1M423 2301h.1M424 2310h.1M424 2316h.1M424 2275h.1M424 2274h.1M425 2300h.1M425 2267h.1M425 2256h.1M425 2313h.1M426 2282h.1M426 2252h.1M426 2303h.1M426 2296h.1M427 2329h.1M427 2280h.1M427 2334h.1M427 2351h.1M428 2307h.1M428 2292h.1M428 2269h.1M428 2290h.1M429 2292h.1M429 2304h.1M429 2293h.1M430 2286h.1M430 2274h.1M430 2329h.1M430 2295h.1M431 2283h.1M431 2288h.1M431 2282h.1M431 2286h.1M432 2257h.1M432 2287h.1M432 2261h.1M432 2269h.1M433 2275h.1M433 2257h.1M433 2232h.1M433 2265h.1M434 2269h.1M434 2266h.1M434 2275h.1M434 2270h.1M435 2260h.1M435 2283h.1M435 2295h.1M435 2284h.1M436 2284h.1M436 2278h.1M436 2297h.1M436 2314h.1M437 2308h.1M437 2294h.1M437 2278h.1M437 2299h.1M438 2290h.1M438 2339h.1M438 2307h.1M438 2311h.1M439 2282h.1M439 2302h.1M439 2270h.1M439 2313h.1M440 2309h.1M440 2318h.1M440 2327h.1M440 2344h.1M441 2291h.1M441 2293h.1M441 2357h.1M441 2318h.1M442 2343h.1M442 2304h.1M442 2348h.1M442 2306h.1M443 2323h.1M443 2332h.1M443 2307h.1M443 2330h.1M444 2301h.1M444 2353h.1M444 2348h.1M444 2334h.1M445 2304h.1M445 2338h.1M445 2295h.1M445 2336h.1M446 2280h.1M446 2328h.1M446 2334h.1M446 2351h.1M447 2304h.1M447 2296h.1M447 2314h.1M448 2303h.1M448 2350h.1M448 2347h.1M448 2316h.1M449 2314h.1M449 2325h.1M449 2304h.1M449 2271h.1M450 2281h.1M450 2314h.1M450 2261h.1M450 2263h.1M451 2286h.1M451 2312h.1M451 2278h.1M451 2276h.1M452 2311h.1M452 2265h.1M452 2275h.1M452 2300h.1M453 2328h.1M453 2256h.1M453 2271h.1M453 2303h.1M454 2263h.1M454 2251h.1M454 2318h.1M454 2281h.1M455 2314h.1M455 2268h.1M455 2266h.1M455 2285h.1M456 2344h.1M456 2282h.1M456 2327h.1M457 2346h.1M457 2314h.1M457 2260h.1M457 2285h.1M458 2322h.1M458 2339h.1M458 2275h.1M458 2306h.1M459 2309h.1M459 2272h.1M459 2318h.1M459 2243h.1M460 2298h.1M460 2288h.1M460 2313h.1M460 2272h.1M460 2269h.1M461 2315h.1M461 2276h.1M461 2282h.1M461 2290h.1M462 2253h.1M462 2248h.1M462 2260h.1M462 2299h.1M463 2268h.1M463 2285h.1M463 2271h.1M463 2293h.1M464 2300h.1M464 2326h.1M464 2301h.1M464 2243h.1M465 2243h.1M465 2272h.1M465 2252h.1M466 2237h.1M466 2253h.1M466 2280h.1M466 2276h.1M467 2227h.1M467 2275h.1M467 2235h.1M467 2232h.1M468 2219h.1M468 2218h.1M468 2205h.1M468 2225h.1M469 2206h.1M469 2239h.1M469 2248h.1M469 2220h.1M470 2261h.1M470 2217h.1M470 2206h.1M470 2242h.1M471 2255h.1M471 2246h.1M471 2227h.1M471 2229h.1M472 2292h.1M472 2200h.1M472 2235h.1M472 2220h.1M473 2204h.1M473 2211h.1M473 2241h.1M473 2258h.1M474 2212h.1M474 2256h.1M474 2249h.1M474 2250h.1M475 2270h.1M475 2225h.1M475 2217h.1M475 2240h.1M476 2222h.1M476 2229h.1M476 2279h.1M476 2239h.1M477 2220h.1M477 2259h.1M477 2269h.1M478 2230h.1M478 2207h.1M478 2221h.1M478 2189h.1M479 2212h.1M479 2200h.1M479 2191h.1M480 2193h.1M480 2209h.1M480 2195h.1M481 2201h.1M481 2245h.1M481 2250h.1M481 2222h.1M482 2225h.1M482 2201h.1M482 2210h.1M482 2169h.1M483 2217h.1M483 2204h.1M483 2226h.1M483 2250h.1M484 2247h.1M484 2219h.1M484 2270h.1M484 2200h.1M485 2223h.1M485 2211h.1M485 2221h.1M485 2262h.1M486 2211h.1M486 2214h.1M486 2219h.1M486 2191h.1M487 2249h.1M487 2211h.1M487 2265h.1M487 2244h.1M488 2262h.1M488 2267h.1M488 2270h.1M488 2234h.1M489 2266h.1M489 2189h.1M489 2240h.1M489 2273h.1M490 2271h.1M490 2282h.1M490 2317h.1M490 2302h.1M491 2263h.1M491 2284h.1M491 2298h.1M491 2250h.1M492 2234h.1M492 2278h.1M492 2221h.1M492 2244h.1M493 2261h.1M493 2246h.1M493 2282h.1M493 2237h.1M494 2226h.1M494 2252h.1M494 2271h.1M494 2246h.1M495 2264h.1M495 2288h.1M495 2283h.1M495 2231h.1M496 2237h.1M496 2271h.1M496 2272h.1M496 2258h.1M497 2294h.1M497 2244h.1M497 2255h.1M497 2219h.1M498 2248h.1M498 2279h.1M498 2254h.1M498 2287h.1M499 2268h.1M499 2229h.1M499 2256h.1M499 2239h.1M500 2243h.1M500 2292h.1M500 2259h.1M500 2261h.1M501 2264h.1M501 2239h.1M501 2243h.1M501 2279h.1M502 2263h.1M502 2286h.1M502 2240h.1M502 2217h.1M503 2222h.1M503 2290h.1M503 2259h.1M503 2255h.1M504 2268h.1M504 2275h.1M504 2305h.1M505 2274h.1M505 2272h.1M505 2260h.1M505 2292h.1M506 2302h.1M506 2267h.1M506 2259h.1M506 2277h.1M507 2244h.1M507 2256h.1M507 2289h.1M507 2270h.1M508 2249h.1M508 2272h.1M508 2224h.1M508 2236h.1M509 2240h.1M509 2239h.1M509 2304h.1M509 2301h.1M510 2251h.1M510 2250h.1M510 2241h.1M511 2291h.1M511 2258h.1M511 2240h.1M511 2269h.1M512 2270h.1M512 2243h.1M512 2264h.1M512 2278h.1M513 2252h.1M513 2266h.1M513 2277h.1M513 2260h.1M514 2255h.1M514 2268h.1M514 2261h.1M514 2259h.1M515 2239h.1M515 2265h.1M515 2260h.1M515 2255h.1M516 2253h.1M516 2251h.1M516 2269h.1M516 2305h.1M517 2276h.1M517 2284h.1M517 2298h.1M517 2278h.1M518 2281h.1M518 2280h.1M518 2295h.1M518 2287h.1M519 2333h.1M519 2292h.1M519 2308h.1M519 2297h.1M520 2286h.1M520 2320h.1M520 2333h.1M520 2300h.1M521 2318h.1M521 2320h.1M521 2329h.1M521 2316h.1M522 2302h.1M522 2289h.1M522 2329h.1M522 2324h.1M523 2313h.1M523 2293h.1M523 2316h.1M523 2334h.1M524 2307h.1M524 2276h.1M524 2280h.1M524 2331h.1M525 2303h.1M525 2287h.1M525 2272h.1M525 2339h.1M526 2321h.1M526 2312h.1M526 2306h.1M526 2299h.1M527 2341h.1M527 2311h.1M527 2327h.1M527 2321h.1M528 2334h.1M528 2293h.1M528 2316h.1M528 2303h.1M529 2284h.1M529 2278h.1M529 2293h.1M529 2260h.1M530 2291h.1M530 2278h.1M530 2294h.1M530 2305h.1M531 2251h.1M531 2243h.1M531 2274h.1M531 2220h.1M532 2259h.1M532 2277h.1M532 2241h.1M532 2239h.1M533 2274h.1M533 2280h.1M533 2241h.1M533 2265h.1M534 2244h.1M534 2234h.1M534 2228h.1M534 2255h.1M535 2261h.1M535 2344h.1M535 2278h.1M535 2259h.1M536 2293h.1M536 2276h.1M536 2269h.1M536 2256h.1M537 2299h.1M537 2281h.1M537 2277h.1M538 2263h.1M538 2301h.1M538 2271h.1M538 2328h.1M539 2332h.1M539 2304h.1M539 2290h.1M539 2294h.1M540 2299h.1M540 2281h.1M540 2303h.1M540 2276h.1M541 2337h.1M541 2269h.1M541 2330h.1M541 2293h.1M542 2289h.1M542 2290h.1M542 2333h.1M542 2315h.1M543 2297h.1M543 2273h.1M543 2264h.1M543 2255h.1M544 2249h.1M544 2298h.1M544 2267h.1M544 2261h.1M545 2239h.1M545 2237h.1M545 2264h.1M545 2252h.1M546 2260h.1M546 2252h.1M546 2244h.1M546 2304h.1M547 2236h.1M547 2241h.1M547 2287h.1M547 2257h.1M548 2291h.1M548 2316h.1M548 2256h.1M548 2301h.1M549 2256h.1M549 2285h.1M549 2280h.1M550 2301h.1M550 2258h.1M550 2312h.1M550 2263h.1M551 2262h.1M551 2278h.1M551 2263h.1M552 2287h.1M552 2270h.1M552 2285h.1M552 2257h.1M553 2269h.1M553 2254h.1M553 2320h.1M554 2292h.1M554 2349h.1M554 2274h.1M554 2286h.1M555 2288h.1M555 2258h.1M555 2269h.1M555 2270h.1M556 2255h.1M556 2297h.1M556 2260h.1M556 2253h.1M557 2250h.1M557 2265h.1M557 2231h.1M557 2219h.1M558 2220h.1M558 2263h.1M558 2274h.1M558 2243h.1M559 2253h.1M559 2204h.1M559 2207h.1M559 2187h.1M560 2231h.1M560 2236h.1M560 2212h.1M561 2201h.1M561 2239h.1M561 2189h.1M561 2194h.1M562 2208h.1M562 2234h.1M562 2236h.1M563 2213h.1M563 2214h.1M563 2237h.1M563 2204h.1M564 2228h.1M564 2217h.1M564 2223h.1M564 2258h.1M565 2193h.1M565 2234h.1M565 2197h.1M565 2217h.1M566 2226h.1M566 2219h.1M566 2211h.1M566 2196h.1M567 2215h.1M567 2214h.1M567 2218h.1M567 2195h.1M568 2211h.1M568 2197h.1M568 2236h.1M569 2220h.1M569 2261h.1M569 2254h.1M569 2289h.1M570 2295h.1M570 2253h.1M570 2208h.1M570 2233h.1M571 2218h.1M571 2304h.1M571 2262h.1M571 2278h.1M572 2266h.1M572 2215h.1M572 2207h.1M572 2271h.1M573 2218h.1M573 2243h.1M573 2237h.1M573 2212h.1M574 2214h.1M574 2228h.1M574 2200h.1M574 2232h.1M575 2223h.1M575 2210h.1M575 2190h.1M575 2202h.1M576 2185h.1M576 2180h.1M576 2218h.1M576 2200h.1M577 2237h.1M577 2177h.1M577 2214h.1M577 2212h.1M578 2209h.1M578 2187h.1M578 2215h.1M578 2221h.1M579 2258h.1M579 2249h.1M579 2260h.1M579 2250h.1M580 2219h.1M580 2216h.1M580 2256h.1M580 2260h.1M581 2274h.1M581 2241h.1M581 2231h.1M581 2250h.1M582 2224h.1M582 2264h.1M582 2240h.1M582 2274h.1M583 2236h.1M583 2210h.1M583 2253h.1M583 2239h.1M584 2260h.1M584 2264h.1M584 2278h.1M584 2256h.1M585 2244h.1M585 2278h.1M585 2229h.1M585 2300h.1M586 2270h.1M586 2322h.1M586 2292h.1M586 2303h.1M587 2258h.1M587 2245h.1M587 2268h.1M587 2239h.1M588 2285h.1M588 2315h.1M588 2276h.1M588 2278h.1M589 2272h.1M589 2313h.1M589 2287h.1M589 2257h.1M590 2270h.1M590 2281h.1M590 2265h.1M591 2292h.1M591 2262h.1M591 2299h.1M591 2256h.1M592 2300h.1M592 2254h.1M592 2245h.1M593 2271h.1M593 2247h.1M593 2261h.1M594 2249h.1M594 2294h.1M594 2283h.1M594 2305h.1M595 2289h.1M595 2262h.1M595 2313h.1M595 2288h.1M596 2290h.1M596 2298h.1M596 2292h.1M596 2261h.1M597 2288h.1M597 2247h.1M597 2236h.1M598 2268h.1M598 2303h.1M598 2277h.1M598 2289h.1M599 2290h.1M599 2303h.1M599 2316h.1M599 2283h.1M600 2286h.1M600 2258h.1M600 2274h.1M600 2271h.1M601 2308h.1M601 2288h.1M601 2296h.1M602 2255h.1M602 2259h.1M602 2238h.1M602 2236h.1M603 2270h.1M603 2278h.1M603 2312h.1M603 2250h.1M604 2276h.1M604 2266h.1M604 2249h.1M604 2271h.1M605 2244h.1M605 2266h.1M605 2246h.1M605 2251h.1M606 2309h.1M606 2266h.1M606 2308h.1M606 2246h.1M607 2281h.1M607 2296h.1M607 2289h.1M607 2282h.1M608 2260h.1M608 2268h.1M608 2276h.1M608 2324h.1M609 2301h.1M609 2256h.1M609 2282h.1M609 2302h.1M610 2275h.1M610 2291h.1M610 2267h.1M610 2328h.1M611 2270h.1M611 2286h.1M611 2295h.1M611 2271h.1M612 2279h.1M612 2285h.1M612 2286h.1M612 2281h.1M613 2280h.1M613 2293h.1M613 2248h.1M613 2265h.1M614 2267h.1M614 2299h.1M614 2275h.1M614 2306h.1M615 2318h.1M615 2312h.1M615 2278h.1M615 2295h.1M616 2298h.1M616 2250h.1M616 2256h.1M616 2291h.1M617 2288h.1M617 2280h.1M617 2298h.1M617 2289h.1M618 2340h.1M618 2324h.1M618 2325h.1M618 2283h.1M619 2292h.1M619 2317h.1M619 2291h.1M619 2265h.1M620 2290h.1M620 2296h.1M620 2284h.1M621 2254h.1M621 2275h.1M621 2330h.1M621 2307h.1M622 2310h.1M622 2337h.1M622 2298h.1M622 2346h.1M623 2314h.1M623 2308h.1M623 2311h.1M623 2292h.1M624 2281h.1M624 2246h.1M624 2256h.1M624 2291h.1M625 2251h.1M625 2259h.1M625 2297h.1M625 2257h.1M626 2260h.1M626 2277h.1M626 2276h.1M626 2286h.1M627 2248h.1M627 2278h.1M627 2262h.1M627 2272h.1M628 2270h.1M628 2307h.1M628 2282h.1M628 2260h.1M629 2309h.1M629 2297h.1M629 2253h.1M630 2279h.1M630 2304h.1M630 2306h.1M630 2268h.1M631 2312h.1M631 2297h.1M631 2282h.1M631 2315h.1M632 2309h.1M632 2290h.1M632 2289h.1M632 2256h.1M633 2241h.1M633 2252h.1M633 2231h.1M633 2267h.1M634 2252h.1M634 2236h.1M634 2253h.1M634 2245h.1M635 2244h.1M635 2240h.1M635 2239h.1M635 2251h.1M636 2266h.1M636 2243h.1M636 2251h.1M636 2258h.1M637 2273h.1M637 2253h.1M637 2301h.1M637 2266h.1M638 2270h.1M638 2241h.1M638 2234h.1M638 2262h.1M639 2298h.1M639 2233h.1M639 2322h.1M639 2234h.1M640 2262h.1M640 2283h.1M640 2309h.1M641 2290h.1M641 2297h.1M641 2288h.1M641 2285h.1M642 2258h.1M642 2284h.1M642 2265h.1M642 2251h.1M643 2284h.1M643 2248h.1M643 2253h.1M643 2290h.1M644 2281h.1M644 2315h.1M644 2251h.1M644 2247h.1M645 2274h.1M645 2227h.1M645 2250h.1M645 2248h.1M646 2245h.1M646 2271h.1M646 2241h.1M646 2227h.1M647 2229h.1M647 2266h.1M647 2230h.1M647 2241h.1M648 2253h.1M648 2246h.1M648 2225h.1M648 2232h.1M649 2255h.1M649 2212h.1M649 2202h.1M649 2230h.1M650 2240h.1M650 2236h.1M650 2226h.1M650 2209h.1M651 2221h.1M651 2223h.1M651 2278h.1M651 2265h.1M652 2219h.1M652 2214h.1M652 2207h.1M652 2238h.1M653 2234h.1M653 2261h.1M653 2231h.1M653 2201h.1M654 2219h.1M654 2196h.1M654 2255h.1M654 2221h.1M655 2177h.1M655 2214h.1M655 2208h.1M655 2174h.1M656 2203h.1M656 2227h.1M656 2197h.1M656 2233h.1M657 2217h.1M657 2162h.1M657 2187h.1M657 2219h.1M658 2209h.1M658 2185h.1M658 2222h.1M658 2240h.1M659 2256h.1M659 2275h.1M659 2252h.1M659 2250h.1M660 2233h.1M660 2210h.1M660 2222h.1M660 2218h.1M661 2230h.1M661 2229h.1M661 2239h.1M661 2277h.1M662 2207h.1M662 2253h.1M662 2228h.1M662 2259h.1M663 2224h.1M663 2196h.1M663 2193h.1M663 2232h.1M664 2204h.1M664 2186h.1M664 2246h.1M664 2248h.1M665 2237h.1M665 2218h.1M665 2221h.1M665 2266h.1M666 2272h.1M666 2236h.1M666 2221h.1M666 2250h.1M667 2268h.1M667 2240h.1M667 2241h.1M667 2229h.1M668 2263h.1M668 2191h.1M668 2246h.1M668 2250h.1M669 2249h.1M669 2242h.1M669 2209h.1M669 2192h.1M670 2255h.1M670 2262h.1M670 2219h.1M670 2194h.1M671 2206h.1M671 2239h.1M671 2193h.1M671 2214h.1M672 2241h.1M672 2240h.1M672 2211h.1M673 2234h.1M673 2222h.1M673 2206h.1M673 2173h.1M674 2196h.1M674 2168h.1M674 2198h.1M674 2218h.1M675 2188h.1M675 2196h.1M675 2214h.1M675 2219h.1M676 2221h.1M676 2203h.1M676 2179h.1M676 2234h.1M677 2225h.1M677 2247h.1M677 2218h.1M677 2256h.1M678 2218h.1M678 2290h.1M678 2268h.1M678 2217h.1M679 2221h.1M679 2227h.1M679 2241h.1M679 2213h.1M680 2199h.1M680 2217h.1M680 2232h.1M680 2222h.1M681 2203h.1M681 2286h.1M681 2260h.1M681 2237h.1M682 2302h.1M682 2265h.1M682 2229h.1M682 2262h.1M682 2232h.1M683 2241h.1M683 2232h.1M683 2229h.1M683 2240h.1M684 2219h.1M684 2240h.1M684 2251h.1M684 2235h.1M685 2224h.1M685 2192h.1M685 2193h.1M685 2183h.1M686 2206h.1M686 2216h.1M686 2198h.1M686 2219h.1M687 2227h.1M687 2207h.1M687 2226h.1M687 2198h.1M688 2181h.1M688 2194h.1M688 2190h.1M689 2231h.1M689 2174h.1M689 2200h.1M689 2218h.1M690 2213h.1M690 2202h.1M690 2194h.1M690 2220h.1M691 2180h.1M691 2238h.1M691 2225h.1M691 2209h.1M692 2233h.1M692 2242h.1M692 2235h.1M692 2267h.1M693 2260h.1M693 2269h.1M693 2257h.1M693 2293h.1M694 2303h.1M694 2308h.1M694 2278h.1M694 2259h.1M695 2282h.1M695 2275h.1M695 2253h.1M695 2259h.1M696 2254h.1M696 2225h.1M696 2257h.1M696 2236h.1M697 2251h.1M697 2247h.1M697 2215h.1M697 2254h.1M698 2255h.1M698 2250h.1M698 2278h.1M698 2246h.1M699 2259h.1M699 2278h.1M699 2314h.1M699 2267h.1M700 2250h.1M700 2313h.1M700 2295h.1M700 2275h.1M701 2286h.1M701 2297h.1M701 2288h.1M701 2317h.1M702 2331h.1M702 2282h.1M702 2300h.1M702 2296h.1M703 2271h.1M703 2283h.1M703 2306h.1M703 2323h.1M704 2304h.1M704 2264h.1M704 2314h.1M704 2305h.1M705 2316h.1M705 2273h.1M705 2286h.1M706 2304h.1M706 2278h.1M706 2276h.1M706 2262h.1M707 2247h.1M707 2276h.1M707 2246h.1M707 2308h.1M708 2262h.1M708 2244h.1M708 2310h.1M708 2285h.1M709 2261h.1M709 2281h.1M709 2260h.1M710 2251h.1M710 2303h.1M710 2276h.1M710 2278h.1M711 2284h.1M711 2270h.1M711 2313h.1M711 2282h.1M712 2292h.1M712 2289h.1M712 2249h.1M713 2273h.1M713 2286h.1M713 2276h.1M713 2253h.1M714 2272h.1M714 2264h.1M714 2308h.1M714 2265h.1M715 2244h.1M715 2283h.1M715 2260h.1M715 2274h.1M716 2291h.1M716 2278h.1M716 2315h.1M716 2282h.1M717 2270h.1M717 2312h.1M717 2280h.1M717 2265h.1M718 2271h.1M718 2260h.1M718 2269h.1M718 2295h.1M719 2305h.1M719 2272h.1M719 2267h.1M719 2273h.1M720 2255h.1M720 2254h.1M720 2266h.1M720 2242h.1M721 2271h.1M721 2270h.1M721 2227h.1M721 2219h.1M722 2245h.1M722 2248h.1M722 2238h.1M722 2239h.1M723 2242h.1M723 2203h.1M723 2254h.1M723 2233h.1M724 2248h.1M724 2254h.1M724 2265h.1M724 2239h.1M725 2201h.1M725 2249h.1M725 2258h.1M725 2244h.1M726 2272h.1M726 2244h.1M726 2282h.1M726 2250h.1M727 2250h.1M727 2247h.1M727 2270h.1M727 2248h.1M728 2277h.1M728 2256h.1M728 2248h.1M728 2240h.1M729 2238h.1M729 2286h.1M729 2302h.1M729 2265h.1M730 2236h.1M730 2238h.1M730 2246h.1M731 2243h.1M731 2256h.1M731 2251h.1M731 2221h.1M732 2240h.1M732 2259h.1M732 2241h.1M732 2262h.1M733 2251h.1M733 2214h.1M733 2247h.1M733 2241h.1M734 2190h.1M734 2246h.1M734 2200h.1M734 2191h.1M735 2204h.1M735 2261h.1M735 2214h.1M735 2222h.1M736 2203h.1M736 2216h.1M736 2198h.1M736 2201h.1M737 2191h.1M737 2182h.1M737 2236h.1M737 2190h.1M738 2248h.1M738 2181h.1M738 2221h.1M738 2217h.1M739 2243h.1M739 2247h.1M739 2235h.1M739 2233h.1M740 2213h.1M740 2226h.1M740 2207h.1M740 2231h.1M741 2243h.1M741 2260h.1M741 2224h.1M741 2207h.1M742 2203h.1M742 2198h.1M742 2218h.1M742 2211h.1M743 2229h.1M743 2192h.1M743 2171h.1M743 2196h.1M744 2215h.1M744 2209h.1M744 2200h.1M744 2226h.1M745 2248h.1M745 2238h.1M745 2224h.1M745 2265h.1M746 2194h.1M746 2248h.1M746 2221h.1M746 2271h.1M747 2272h.1M747 2214h.1M747 2213h.1M747 2189h.1M748 2187h.1M748 2192h.1M748 2190h.1M749 2193h.1M749 2171h.1M749 2213h.1M749 2185h.1M750 2197h.1M750 2209h.1M750 2215h.1M751 2204h.1M751 2240h.1M751 2297h.1M751 2266h.1M752 2248h.1M752 2214h.1M752 2219h.1M753 2219h.1M753 2179h.1M753 2302h.1M753 2214h.1M754 2216h.1M754 2237h.1M754 2218h.1M754 2214h.1M755 2204h.1M755 2267h.1M755 2236h.1M755 2300h.1M756 2237h.1M756 2230h.1M756 2207h.1M756 2231h.1M757 2214h.1M757 2253h.1M757 2224h.1M758 2194h.1M758 2206h.1M758 2215h.1M758 2243h.1M759 2196h.1M759 2223h.1M759 2198h.1M759 2284h.1M760 2282h.1M760 2207h.1M760 2217h.1M760 2193h.1M761 2249h.1M761 2214h.1M761 2235h.1M762 2255h.1M762 2214h.1M762 2242h.1M762 2220h.1M763 2236h.1M763 2210h.1M763 2188h.1M763 2240h.1M764 2209h.1M764 2234h.1M764 2272h.1M764 2227h.1M765 2241h.1M765 2216h.1M765 2215h.1M765 2207h.1M766 2240h.1M766 2180h.1M766 2188h.1M766 2214h.1M767 2264h.1M767 2229h.1M767 2208h.1M767 2218h.1M768 2257h.1M768 2284h.1M768 2215h.1M768 2237h.1M769 2245h.1M769 2227h.1M769 2225h.1M769 2237h.1M770 2224h.1M770 2221h.1M770 2232h.1M771 2235h.1M771 2229h.1M771 2249h.1M771 2222h.1M772 2197h.1M772 2259h.1M772 2204h.1M772 2214h.1M773 2217h.1M773 2285h.1M773 2255h.1M773 2280h.1M774 2249h.1M774 2272h.1M774 2275h.1M774 2279h.1M775 2275h.1M775 2333h.1M775 2309h.1M775 2245h.1M776 2271h.1M776 2279h.1M776 2277h.1M777 2268h.1M777 2235h.1M777 2303h.1M777 2267h.1M778 2237h.1M778 2296h.1M778 2241h.1M778 2208h.1M779 2223h.1M779 2221h.1M779 2287h.1M779 2265h.1M780 2227h.1M780 2256h.1M780 2261h.1M780 2236h.1M781 2248h.1M781 2289h.1M781 2258h.1M781 2262h.1M782 2258h.1M782 2260h.1M782 2239h.1M782 2244h.1M783 2272h.1M783 2260h.1M783 2259h.1M783 2254h.1M784 2233h.1M784 2314h.1M784 2271h.1M784 2276h.1M785 2255h.1M785 2245h.1M785 2271h.1M785 2241h.1M786 2233h.1M786 2264h.1M786 2292h.1M786 2283h.1M787 2297h.1M787 2279h.1M787 2256h.1M787 2264h.1M788 2235h.1M788 2268h.1M788 2266h.1M788 2306h.1M789 2306h.1M789 2307h.1M789 2254h.1M789 2288h.1M790 2253h.1M790 2297h.1M790 2298h.1M790 2257h.1M791 2298h.1M791 2254h.1M791 2251h.1M791 2282h.1M792 2320h.1M792 2271h.1M792 2281h.1M792 2275h.1M793 2289h.1M793 2259h.1M793 2240h.1M793 2285h.1M794 2286h.1M794 2265h.1M794 2297h.1M794 2261h.1M795 2285h.1M795 2272h.1M795 2249h.1M795 2251h.1M796 2245h.1M796 2253h.1M796 2235h.1M796 2237h.1M797 2252h.1M797 2249h.1M797 2263h.1M797 2239h.1M798 2242h.1M798 2248h.1M798 2243h.1M798 2250h.1M799 2257h.1M799 2240h.1M799 2217h.1M799 2279h.1M800 2247h.1M800 2228h.1M800 2230h.1M800 2231h.1M801 2249h.1M801 2248h.1M801 2227h.1M801 2224h.1M802 2242h.1M802 2276h.1M802 2256h.1M802 2291h.1M803 2253h.1M803 2255h.1M803 2245h.1M803 2238h.1M804 2303h.1M804 2275h.1M804 2277h.1M804 2262h.1M805 2271h.1M805 2267h.1M805 2254h.1M805 2273h.1M806 2288h.1M806 2299h.1M806 2314h.1M806 2327h.1M807 2294h.1M807 2311h.1M807 2328h.1M807 2262h.1M808 2287h.1M808 2286h.1M808 2300h.1M808 2293h.1M809 2302h.1M809 2345h.1M809 2276h.1M809 2303h.1M810 2257h.1M810 2293h.1M810 2319h.1M811 2289h.1M811 2244h.1M811 2248h.1M812 2245h.1M812 2282h.1M812 2279h.1M812 2315h.1M813 2290h.1M813 2289h.1M813 2243h.1M813 2271h.1M814 2293h.1M814 2272h.1M814 2288h.1M814 2304h.1M815 2296h.1M815 2265h.1M815 2275h.1M815 2280h.1M816 2315h.1M816 2259h.1M816 2295h.1M816 2304h.1M817 2258h.1M817 2305h.1M817 2254h.1M817 2273h.1M818 2232h.1M818 2270h.1M818 2246h.1M818 2220h.1M819 2242h.1M819 2222h.1M819 2286h.1M819 2227h.1M820 2252h.1M820 2247h.1M820 2279h.1M820 2276h.1M821 2271h.1M821 2286h.1M821 2272h.1M821 2266h.1M822 2288h.1M822 2286h.1M822 2249h.1M822 2276h.1M823 2253h.1M823 2313h.1M823 2246h.1M823 2255h.1M824 2244h.1M824 2264h.1M824 2230h.1M824 2280h.1M825 2224h.1M825 2248h.1M825 2285h.1M825 2269h.1M826 2271h.1M826 2260h.1M826 2213h.1M826 2228h.1M827 2269h.1M827 2223h.1M827 2262h.1M827 2215h.1M828 2258h.1M828 2236h.1M828 2267h.1M828 2305h.1M829 2296h.1M829 2254h.1M829 2241h.1M830 2263h.1M830 2272h.1M830 2275h.1M830 2269h.1M831 2258h.1M831 2219h.1M831 2261h.1M831 2217h.1M832 2253h.1M832 2247h.1M832 2224h.1M832 2246h.1M833 2240h.1M833 2197h.1M833 2202h.1M833 2208h.1M834 2222h.1M834 2196h.1M834 2189h.1M834 2210h.1M835 2239h.1M835 2212h.1M835 2211h.1M835 2206h.1M836 2235h.1M836 2228h.1M836 2222h.1M836 2202h.1M837 2233h.1M837 2238h.1M837 2214h.1M837 2260h.1M838 2198h.1M838 2207h.1M838 2245h.1M838 2232h.1M839 2195h.1M839 2220h.1M839 2221h.1M840 2236h.1M840 2228h.1M840 2205h.1M840 2194h.1M841 2244h.1M841 2239h.1M841 2246h.1M841 2249h.1M842 2193h.1M842 2206h.1M842 2212h.1M843 2200h.1M843 2242h.1M843 2235h.1M843 2206h.1M844 2210h.1M844 2237h.1M844 2224h.1M844 2222h.1M845 2207h.1M845 2224h.1M845 2195h.1M845 2171h.1M846 2206h.1M846 2180h.1M846 2182h.1M846 2173h.1M847 2182h.1M847 2181h.1M847 2204h.1M848 2241h.1M848 2240h.1M848 2197h.1M848 2204h.1M849 2228h.1M849 2193h.1M849 2174h.1M849 2190h.1M850 2186h.1M850 2184h.1M850 2212h.1M850 2199h.1M851 2179h.1M851 2213h.1M851 2256h.1M851 2223h.1M852 2230h.1M852 2248h.1M852 2217h.1M852 2207h.1M853 2216h.1M853 2247h.1M853 2207h.1M853 2238h.1M854 2235h.1M854 2210h.1M854 2231h.1M854 2199h.1M855 2231h.1M855 2205h.1M855 2243h.1M855 2207h.1M856 2261h.1M856 2212h.1M856 2223h.1M856 2221h.1M857 2214h.1M857 2202h.1M857 2258h.1M857 2230h.1M858 2191h.1M858 2253h.1M858 2228h.1M858 2218h.1M859 2207h.1M859 2193h.1M859 2236h.1M859 2218h.1M860 2208h.1M860 2245h.1M860 2229h.1M860 2258h.1M861 2249h.1M861 2266h.1M861 2259h.1M862 2271h.1M862 2305h.1M862 2266h.1M862 2247h.1M863 2270h.1M863 2221h.1M863 2237h.1M863 2253h.1M864 2228h.1M864 2246h.1M864 2254h.1M864 2244h.1M865 2204h.1M865 2236h.1M865 2220h.1M865 2230h.1M866 2284h.1M866 2261h.1M866 2217h.1M866 2230h.1M867 2267h.1M867 2241h.1M867 2213h.1M867 2252h.1M868 2279h.1M868 2240h.1M868 2222h.1M869 2270h.1M869 2253h.1M869 2238h.1M869 2206h.1M870 2222h.1M870 2251h.1M870 2298h.1M871 2248h.1M871 2289h.1M871 2225h.1M871 2224h.1M872 2252h.1M872 2261h.1M872 2231h.1M873 2232h.1M873 2241h.1M873 2220h.1M873 2239h.1M874 2249h.1M874 2257h.1M874 2262h.1M874 2246h.1M875 2225h.1M875 2255h.1M875 2271h.1M875 2254h.1M876 2292h.1M876 2245h.1M876 2249h.1M876 2273h.1M877 2266h.1M877 2261h.1M877 2257h.1M877 2244h.1M878 2251h.1M878 2249h.1M878 2212h.1M879 2269h.1M879 2245h.1M879 2281h.1M879 2258h.1M880 2274h.1M880 2251h.1M880 2286h.1M880 2290h.1M881 2275h.1M881 2310h.1M881 2250h.1M881 2235h.1M882 2259h.1M882 2260h.1M882 2281h.1M882 2305h.1M883 2287h.1M883 2292h.1M883 2265h.1M883 2342h.1M884 2313h.1M884 2283h.1M884 2323h.1M884 2307h.1M885 2293h.1M885 2320h.1M885 2290h.1M886 2288h.1M886 2285h.1M886 2331h.1M886 2277h.1M887 2321h.1M887 2338h.1M887 2327h.1M887 2307h.1M888 2337h.1M888 2321h.1M888 2314h.1M888 2345h.1M889 2283h.1M889 2332h.1M889 2259h.1M889 2321h.1M890 2337h.1M890 2292h.1M890 2318h.1M890 2344h.1M891 2310h.1M891 2266h.1M891 2332h.1M891 2347h.1M892 2356h.1M892 2350h.1M892 2329h.1M892 2300h.1M893 2275h.1M893 2320h.1M893 2301h.1M894 2344h.1M894 2279h.1M894 2341h.1M894 2275h.1M895 2294h.1M895 2290h.1M895 2322h.1M895 2317h.1M896 2292h.1M896 2303h.1M896 2296h.1M897 2351h.1M897 2280h.1M897 2293h.1M897 2317h.1M898 2306h.1M898 2261h.1M898 2328h.1M898 2300h.1M899 2280h.1M899 2304h.1M899 2329h.1M899 2278h.1M900 2287h.1M900 2297h.1M900 2335h.1M900 2302h.1M901 2287h.1M901 2335h.1M901 2307h.1M901 2337h.1M902 2278h.1M902 2310h.1M902 2273h.1M902 2280h.1M903 2308h.1M903 2268h.1M903 2310h.1M903 2316h.1M904 2288h.1M904 2337h.1M904 2343h.1M904 2336h.1M905 2331h.1M905 2324h.1M905 2300h.1M905 2277h.1M905 2357h.1M906 2270h.1M906 2276h.1M906 2277h.1M906 2245h.1M907 2327h.1M907 2270h.1M907 2251h.1M907 2276h.1M908 2295h.1M908 2281h.1M908 2311h.1M908 2302h.1M909 2286h.1M909 2281h.1M909 2213h.1M909 2313h.1M910 2220h.1M910 2247h.1M910 2269h.1M910 2241h.1M911 2244h.1M911 2282h.1M911 2256h.1M911 2253h.1M912 2276h.1M912 2268h.1M912 2249h.1M913 2291h.1M913 2248h.1M913 2287h.1M913 2234h.1M914 2243h.1M914 2240h.1M914 2259h.1M914 2275h.1M915 2247h.1M915 2239h.1M915 2226h.1M915 2206h.1M916 2254h.1M916 2258h.1M916 2235h.1M916 2227h.1M917 2228h.1M917 2278h.1M917 2284h.1M917 2251h.1M918 2240h.1M918 2234h.1M918 2252h.1M918 2235h.1M919 2226h.1M919 2250h.1M919 2257h.1M920 2268h.1M920 2234h.1M920 2294h.1M920 2238h.1M921 2241h.1M921 2224h.1M921 2254h.1M921 2221h.1M922 2208h.1M922 2239h.1M922 2251h.1M922 2259h.1M923 2229h.1M923 2276h.1M923 2206h.1M923 2227h.1M924 2257h.1M924 2237h.1M924 2220h.1M924 2225h.1M925 2227h.1M925 2204h.1M925 2266h.1M925 2222h.1M926 2224h.1M926 2238h.1M926 2258h.1M926 2269h.1M927 2258h.1M927 2235h.1M927 2240h.1M927 2223h.1M928 2200h.1M928 2191h.1M928 2218h.1M929 2217h.1M929 2228h.1M929 2202h.1M929 2226h.1M930 2228h.1M930 2215h.1M930 2238h.1M930 2232h.1M931 2242h.1M931 2238h.1M931 2232h.1M932 2236h.1M932 2223h.1M932 2239h.1M932 2209h.1M933 2230h.1M933 2221h.1M933 2236h.1M933 2216h.1M934 2209h.1M934 2206h.1M934 2163h.1M934 2178h.1M935 2190h.1M935 2202h.1M935 2194h.1M936 2189h.1M936 2204h.1M936 2229h.1M936 2208h.1M937 2177h.1M937 2187h.1M937 2183h.1M937 2228h.1M938 2182h.1M938 2204h.1M938 2209h.1M938 2224h.1M939 2245h.1M939 2213h.1M939 2217h.1M939 2232h.1M940 2266h.1M940 2244h.1M940 2207h.1M940 2187h.1M941 2214h.1M941 2166h.1M941 2186h.1M941 2226h.1M942 2207h.1M942 2187h.1M942 2201h.1M942 2209h.1M943 2224h.1M943 2217h.1M943 2214h.1M943 2230h.1M944 2211h.1M944 2200h.1M944 2247h.1M944 2230h.1M945 2283h.1M945 2226h.1M945 2234h.1M945 2258h.1M946 2194h.1M946 2222h.1M946 2200h.1M946 2212h.1M947 2213h.1M947 2217h.1M947 2195h.1M947 2211h.1M948 2194h.1M948 2209h.1M948 2226h.1M948 2205h.1M949 2229h.1M949 2217h.1M949 2203h.1M949 2204h.1M950 2218h.1M950 2230h.1M950 2199h.1M950 2263h.1M951 2236h.1M951 2225h.1M951 2211h.1M951 2200h.1M952 2226h.1M952 2222h.1M952 2256h.1M952 2220h.1M953 2211h.1M953 2209h.1M953 2198h.1M953 2228h.1M954 2248h.1M954 2216h.1M954 2237h.1M954 2231h.1M955 2314h.1M955 2243h.1M955 2274h.1M955 2277h.1M956 2242h.1M956 2310h.1M956 2241h.1M956 2288h.1M957 2289h.1M957 2321h.1M957 2283h.1M957 2354h.1M958 2295h.1M958 2274h.1M958 2257h.1M959 2267h.1M959 2272h.1M959 2255h.1M959 2237h.1M960 2297h.1M960 2273h.1M960 2304h.1M960 2282h.1M961 2257h.1M961 2267h.1M961 2263h.1M961 2300h.1M962 2254h.1M962 2269h.1M962 2266h.1M962 2287h.1M963 2270h.1M963 2310h.1M963 2285h.1M963 2298h.1M964 2282h.1M964 2303h.1M964 2297h.1M964 2294h.1M965 2265h.1M965 2258h.1M965 2290h.1M965 2312h.1M966 2307h.1M966 2299h.1M966 2268h.1M966 2245h.1M967 2265h.1M967 2257h.1M967 2293h.1M968 2313h.1M968 2228h.1M968 2277h.1M968 2287h.1M969 2269h.1M969 2270h.1M969 2281h.1M969 2265h.1M970 2316h.1M970 2285h.1M970 2325h.1M970 2300h.1M971 2308h.1M971 2329h.1M971 2323h.1M972 2289h.1M972 2320h.1M972 2332h.1M972 2353h.1M973 2284h.1M973 2278h.1M973 2286h.1M973 2310h.1M974 2297h.1M974 2284h.1M974 2335h.1M974 2300h.1M975 2275h.1M975 2286h.1M975 2304h.1M975 2269h.1M976 2337h.1M976 2273h.1M976 2271h.1M976 2266h.1M977 2306h.1M977 2255h.1M977 2291h.1M978 2256h.1M978 2269h.1M978 2289h.1M978 2297h.1M979 2331h.1M979 2297h.1M979 2283h.1M979 2340h.1M980 2325h.1M980 2313h.1M980 2324h.1M980 2317h.1M981 2300h.1M981 2318h.1M981 2275h.1M981 2271h.1M982 2277h.1M982 2303h.1M982 2311h.1M982 2291h.1M983 2308h.1M983 2283h.1M983 2297h.1M983 2341h.1M984 2307h.1M984 2292h.1M984 2289h.1M984 2286h.1M985 2301h.1M985 2303h.1M985 2328h.1M985 2319h.1M986 2335h.1M986 2307h.1M986 2315h.1M986 2284h.1M987 2277h.1M987 2298h.1M987 2332h.1M987 2319h.1M988 2295h.1M988 2323h.1M988 2346h.1M988 2336h.1M989 2345h.1M989 2321h.1M989 2320h.1M989 2288h.1M990 2291h.1M990 2324h.1M990 2319h.1M990 2299h.1M991 2331h.1M991 2292h.1M991 2325h.1M991 2310h.1M992 2296h.1M992 2315h.1M992 2286h.1M992 2281h.1M993 2305h.1M993 2292h.1M993 2288h.1M993 2285h.1M994 2283h.1M994 2274h.1M994 2265h.1M994 2299h.1M995 2284h.1M995 2307h.1M995 2290h.1M995 2279h.1M996 2294h.1M996 2307h.1M996 2297h.1M996 2264h.1M997 2284h.1M997 2299h.1M997 2287h.1M997 2272h.1M998 2252h.1M998 2257h.1M998 2259h.1M998 2233h.1M999 2252h.1M999 2246h.1M999 2276h.1M1000 2253h.1M1000 2254h.1M1000 2265h.1M1000 2231h.1M1001 2244h.1M1001 2238h.1M1001 2266h.1M1001 2261h.1M1002 2267h.1M1002 2246h.1M1002 2205h.1M1002 2266h.1M1003 2264h.1M1003 2259h.1M1003 2251h.1M1003 2224h.1M1004 2249h.1M1004 2235h.1M1004 2251h.1M1004 2275h.1M1005 2237h.1M1005 2252h.1M1005 2241h.1M1005 2238h.1M1006 2226h.1M1006 2216h.1M1006 2237h.1M1006 2238h.1M1007 2236h.1M1007 2244h.1M1007 2237h.1M1007 2216h.1M1008 2217h.1M1008 2207h.1M1008 2202h.1M1008 2212h.1M1009 2202h.1M1009 2227h.1M1009 2237h.1M1009 2231h.1M1010 2233h.1M1010 2209h.1M1010 2228h.1M1010 2218h.1M1011 2208h.1M1011 2223h.1M1011 2230h.1M1011 2202h.1M1012 2253h.1M1012 2205h.1M1012 2197h.1M1012 2224h.1M1013 2206h.1M1013 2238h.1M1013 2205h.1M1014 2209h.1M1014 2214h.1M1014 2191h.1M1014 2189h.1M1015 2179h.1M1015 2215h.1M1015 2234h.1M1015 2193h.1M1016 2212h.1M1016 2194h.1M1016 2173h.1M1016 2219h.1M1017 2206h.1M1017 2211h.1M1017 2260h.1M1017 2198h.1M1018 2232h.1M1018 2217h.1M1018 2191h.1M1018 2231h.1M1019 2230h.1M1019 2192h.1M1019 2226h.1M1019 2206h.1M1020 2216h.1M1020 2217h.1M1020 2208h.1M1020 2246h.1M1021 2229h.1M1021 2216h.1M1021 2223h.1M1021 2207h.1M1022 2227h.1M1022 2187h.1M1022 2210h.1M1022 2261h.1M1023 2219h.1M1023 2236h.1M1023 2218h.1M1023 2258h.1M1024 2241h.1M1024 2236h.1M1024 2250h.1M1024 2212h.1M1025 2270h.1M1025 2227h.1M1025 2260h.1M1025 2261h.1M1026 2264h.1M1026 2238h.1M1026 2297h.1M1026 2285h.1M1027 2285h.1M1027 2293h.1M1027 2247h.1M1027 2287h.1M1028 2228h.1M1028 2250h.1M1028 2233h.1M1028 2234h.1M1029 2249h.1M1029 2228h.1M1029 2237h.1M1030 2204h.1M1030 2229h.1M1030 2213h.1M1030 2222h.1M1031 2205h.1M1031 2273h.1M1031 2246h.1M1031 2260h.1M1032 2235h.1M1032 2224h.1M1032 2198h.1M1032 2237h.1M1033 2247h.1M1033 2226h.1M1033 2246h.1M1033 2254h.1M1034 2240h.1M1034 2258h.1M1034 2261h.1M1034 2225h.1M1035 2249h.1M1035 2243h.1M1035 2232h.1M1035 2208h.1M1036 2267h.1M1036 2260h.1M1036 2284h.1M1036 2268h.1M1037 2304h.1M1037 2320h.1M1037 2306h.1M1037 2278h.1M1038 2276h.1M1038 2246h.1M1038 2288h.1M1038 2263h.1M1039 2214h.1M1039 2296h.1M1039 2272h.1M1039 2231h.1M1040 2230h.1M1040 2212h.1M1040 2219h.1M1040 2236h.1M1041 2236h.1M1041 2212h.1M1041 2208h.1M1041 2206h.1M1042 2219h.1M1042 2233h.1M1042 2218h.1M1043 2202h.1M1043 2210h.1M1043 2200h.1M1043 2197h.1M1044 2237h.1M1044 2241h.1M1044 2251h.1M1044 2217h.1M1045 2246h.1M1045 2266h.1M1045 2294h.1M1046 2236h.1M1046 2250h.1M1046 2326h.1M1046 2260h.1M1047 2267h.1M1047 2275h.1M1047 2259h.1M1047 2279h.1M1048 2251h.1M1048 2250h.1M1048 2333h.1M1048 2252h.1M1049 2284h.1M1049 2246h.1M1049 2295h.1M1049 2306h.1M1050 2231h.1M1050 2269h.1M1050 2274h.1M1050 2254h.1M1051 2260h.1M1051 2274h.1M1051 2295h.1M1051 2303h.1M1052 2272h.1M1052 2305h.1M1052 2230h.1M1052 2266h.1M1053 2264h.1M1053 2252h.1M1053 2266h.1M1053 2294h.1M1054 2256h.1M1054 2254h.1M1054 2249h.1M1054 2261h.1M1055 2234h.1M1055 2251h.1M1055 2270h.1M1055 2266h.1M1056 2291h.1M1056 2249h.1M1056 2274h.1M1056 2300h.1M1057 2304h.1M1057 2281h.1M1057 2256h.1M1057 2289h.1M1058 2267h.1M1058 2242h.1M1058 2302h.1M1058 2295h.1M1059 2269h.1M1059 2304h.1M1059 2275h.1M1059 2249h.1M1060 2318h.1M1060 2281h.1M1060 2262h.1M1060 2282h.1M1061 2329h.1M1061 2313h.1M1061 2351h.1M1061 2270h.1M1062 2331h.1M1062 2325h.1M1062 2330h.1M1062 2321h.1M1063 2333h.1M1063 2299h.1M1063 2284h.1M1063 2296h.1M1064 2322h.1M1064 2286h.1M1064 2329h.1M1064 2313h.1M1065 2286h.1M1065 2306h.1M1065 2258h.1M1065 2276h.1M1066 2251h.1M1066 2295h.1M1066 2270h.1M1066 2275h.1M1067 2313h.1M1067 2283h.1M1067 2295h.1M1067 2290h.1M1068 2306h.1M1068 2334h.1M1068 2292h.1M1068 2322h.1M1069 2320h.1M1069 2334h.1M1069 2323h.1M1069 2338h.1M1070 2303h.1M1070 2289h.1M1070 2338h.1M1070 2330h.1M1071 2337h.1M1071 2307h.1M1071 2272h.1M1072 2274h.1M1072 2325h.1M1072 2337h.1M1072 2306h.1M1073 2355h.1M1073 2352h.1M1073 2296h.1M1074 2321h.1M1074 2331h.1M1074 2320h.1M1074 2322h.1M1075 2260h.1M1075 2323h.1M1075 2269h.1M1075 2322h.1M1076 2275h.1M1076 2291h.1M1076 2301h.1M1076 2333h.1M1077 2286h.1M1077 2333h.1M1077 2326h.1M1078 2315h.1M1078 2277h.1M1078 2304h.1M1078 2280h.1M1079 2310h.1M1079 2282h.1M1079 2297h.1M1079 2293h.1M1080 2304h.1M1080 2298h.1M1080 2300h.1M1080 2309h.1M1081 2278h.1M1081 2316h.1M1081 2318h.1M1081 2321h.1M1082 2281h.1M1082 2315h.1M1082 2308h.1M1082 2302h.1M1083 2299h.1M1083 2295h.1M1083 2271h.1M1083 2278h.1M1084 2259h.1M1084 2278h.1M1084 2272h.1M1084 2263h.1M1085 2275h.1M1085 2276h.1M1085 2268h.1M1085 2258h.1M1086 2260h.1M1086 2231h.1M1086 2286h.1M1086 2250h.1M1087 2238h.1M1087 2258h.1M1087 2263h.1M1087 2301h.1M1088 2267h.1M1088 2270h.1M1088 2314h.1M1088 2264h.1M1089 2330h.1M1089 2306h.1M1089 2256h.1M1089 2301h.1M1090 2304h.1M1090 2327h.1M1090 2290h.1M1090 2281h.1M1091 2293h.1M1091 2320h.1M1091 2300h.1M1091 2308h.1M1092 2302h.1M1092 2284h.1M1092 2289h.1M1092 2298h.1M1093 2270h.1M1093 2290h.1M1093 2287h.1M1093 2279h.1M1094 2288h.1M1094 2295h.1M1094 2306h.1M1095 2286h.1M1095 2287h.1M1095 2294h.1M1095 2307h.1M1096 2267h.1M1096 2289h.1M1096 2259h.1M1096 2308h.1M1097 2302h.1M1097 2272h.1M1097 2305h.1M1097 2285h.1M1098 2289h.1M1098 2274h.1M1098 2324h.1M1098 2270h.1M1099 2249h.1M1099 2287h.1M1099 2278h.1M1099 2257h.1M1100 2263h.1M1100 2277h.1M1100 2284h.1M1100 2275h.1M1101 2275h.1M1101 2279h.1M1101 2265h.1M1101 2247h.1M1102 2225h.1M1102 2228h.1M1102 2243h.1M1102 2251h.1M1103 2239h.1M1103 2254h.1M1103 2247h.1M1103 2219h.1M1104 2213h.1M1104 2251h.1M1104 2281h.1M1104 2262h.1M1105 2232h.1M1105 2270h.1M1105 2288h.1M1105 2267h.1M1106 2263h.1M1106 2244h.1M1106 2243h.1M1106 2272h.1M1107 2239h.1M1107 2223h.1M1107 2265h.1M1107 2243h.1M1108 2230h.1M1108 2216h.1M1108 2221h.1M1108 2258h.1M1109 2254h.1M1109 2231h.1M1109 2244h.1M1109 2243h.1M1110 2237h.1M1110 2233h.1M1110 2223h.1M1110 2232h.1M1111 2216h.1M1111 2192h.1M1111 2240h.1M1111 2231h.1M1112 2191h.1M1112 2231h.1M1112 2220h.1M1113 2217h.1M1113 2235h.1M1113 2254h.1M1113 2204h.1M1114 2223h.1M1114 2215h.1M1114 2210h.1M1114 2194h.1M1115 2222h.1M1115 2220h.1M1115 2261h.1M1115 2233h.1M1116 2262h.1M1116 2222h.1M1116 2219h.1M1116 2207h.1M1117 2252h.1M1117 2212h.1M1118 2228h.1M1118 2270h.1M1118 2237h.1M1118 2238h.1M1119 2237h.1M1119 2240h.1M1119 2266h.1M1119 2287h.1M1120 2236h.1M1120 2273h.1M1120 2216h.1M1120 2257h.1M1121 2271h.1M1121 2234h.1M1121 2263h.1M1121 2233h.1M1122 2277h.1M1122 2268h.1M1122 2232h.1M1122 2203h.1M1123 2264h.1M1123 2251h.1M1123 2262h.1M1123 2261h.1M1124 2287h.1M1124 2225h.1M1124 2207h.1M1124 2279h.1M1125 2208h.1M1125 2234h.1M1125 2246h.1M1125 2216h.1M1126 2245h.1M1126 2262h.1M1126 2284h.1M1127 2270h.1M1127 2236h.1M1127 2256h.1M1127 2220h.1M1127 2207h.1M1128 2221h.1M1128 2249h.1M1128 2273h.1M1129 2263h.1M1129 2234h.1M1129 2248h.1M1129 2265h.1M1130 2249h.1M1130 2256h.1M1130 2243h.1M1130 2270h.1M1131 2261h.1M1131 2270h.1M1131 2246h.1M1131 2236h.1M1132 2249h.1M1132 2251h.1M1132 2298h.1M1132 2303h.1M1133 2272h.1M1133 2264h.1M1133 2231h.1M1133 2276h.1M1134 2275h.1M1134 2259h.1M1134 2285h.1M1134 2265h.1M1135 2267h.1M1135 2253h.1M1135 2238h.1M1135 2244h.1M1136 2283h.1M1136 2250h.1M1136 2253h.1M1136 2289h.1M1137 2213h.1M1137 2232h.1M1137 2244h.1M1137 2273h.1M1138 2265h.1M1138 2278h.1M1138 2275h.1M1138 2324h.1M1139 2271h.1M1139 2308h.1M1139 2295h.1M1139 2274h.1M1140 2281h.1M1140 2318h.1M1140 2323h.1M1140 2319h.1M1141 2354h.1M1141 2336h.1M1141 2295h.1M1141 2266h.1M1142 2318h.1M1142 2349h.1M1142 2253h.1M1142 2352h.1M1143 2337h.1M1143 2307h.1M1143 2248h.1M1143 2305h.1M1144 2336h.1M1144 2297h.1M1144 2321h.1M1144 2339h.1M1145 2296h.1M1145 2309h.1M1145 2302h.1M1146 2345h.1M1146 2287h.1M1146 2320h.1M1146 2303h.1M1147 2331h.1M1147 2291h.1M1147 2267h.1M1147 2287h.1M1148 2299h.1M1148 2265h.1M1148 2259h.1M1148 2289h.1M1149 2286h.1M1149 2302h.1M1149 2243h.1M1149 2276h.1M1150 2233h.1M1150 2289h.1M1150 2276h.1M1150 2271h.1M1151 2284h.1M1151 2241h.1M1151 2271h.1M1151 2305h.1M1152 2287h.1M1152 2318h.1M1152 2311h.1M1152 2285h.1M1153 2307h.1M1153 2305h.1M1153 2336h.1M1153 2314h.1M1154 2288h.1M1154 2286h.1M1154 2275h.1M1154 2301h.1M1155 2290h.1M1155 2332h.1M1155 2277h.1M1155 2333h.1M1156 2287h.1M1156 2319h.1M1156 2272h.1M1156 2255h.1M1157 2291h.1M1157 2310h.1M1157 2308h.1M1158 2293h.1M1158 2290h.1M1158 2328h.1M1158 2281h.1M1159 2304h.1M1159 2296h.1M1159 2298h.1M1160 2274h.1M1160 2320h.1M1160 2287h.1M1160 2302h.1M1161 2288h.1M1161 2284h.1M1161 2324h.1M1161 2316h.1M1162 2317h.1M1162 2329h.1M1162 2280h.1M1162 2291h.1M1163 2288h.1M1163 2282h.1M1163 2277h.1M1163 2325h.1M1164 2306h.1M1164 2350h.1M1164 2290h.1M1164 2291h.1M1165 2312h.1M1165 2274h.1M1166 2334h.1M1166 2315h.1M1166 2278h.1M1166 2351h.1M1167 2314h.1M1167 2294h.1M1167 2350h.1M1167 2336h.1M1168 2317h.1M1168 2345h.1M1168 2287h.1M1168 2337h.1M1169 2320h.1M1169 2357h.1M1169 2311h.1M1169 2326h.1M1170 2304h.1M1170 2291h.1M1170 2307h.1M1170 2313h.1M1171 2289h.1M1171 2263h.1M1171 2333h.1M1171 2283h.1M1172 2280h.1M1172 2300h.1M1172 2311h.1M1172 2269h.1M1173 2282h.1M1173 2262h.1M1173 2236h.1M1173 2265h.1M1174 2239h.1M1174 2258h.1M1174 2271h.1M1174 2237h.1M1175 2255h.1M1175 2254h.1M1175 2257h.1M1175 2246h.1M1176 2275h.1M1176 2257h.1M1176 2255h.1M1176 2261h.1M1177 2254h.1M1177 2246h.1M1177 2270h.1M1177 2256h.1M1178 2273h.1M1178 2267h.1M1178 2289h.1M1178 2272h.1M1179 2305h.1M1179 2300h.1M1179 2260h.1M1179 2270h.1M1180 2286h.1M1180 2245h.1M1180 2248h.1M1180 2293h.1M1181 2235h.1M1181 2276h.1M1181 2259h.1M1181 2285h.1M1182 2285h.1M1182 2312h.1M1182 2291h.1M1182 2293h.1M1183 2293h.1M1183 2279h.1M1183 2274h.1M1183 2260h.1M1184 2264h.1M1184 2259h.1M1184 2267h.1M1184 2273h.1M1185 2322h.1M1185 2282h.1M1185 2280h.1M1185 2347h.1M1186 2267h.1M1186 2321h.1M1186 2254h.1M1186 2272h.1M1187 2312h.1M1187 2326h.1M1187 2321h.1M1187 2293h.1M1188 2227h.1M1188 2280h.1M1188 2262h.1M1188 2240h.1M1189 2262h.1M1189 2241h.1M1189 2279h.1M1189 2226h.1M1190 2250h.1M1190 2290h.1M1190 2238h.1M1190 2288h.1M1191 2308h.1M1191 2243h.1M1191 2248h.1M1191 2265h.1M1192 2239h.1M1192 2217h.1M1192 2218h.1M1192 2227h.1M1193 2199h.1M1193 2183h.1M1193 2178h.1M1193 2191h.1M1194 2210h.1M1194 2191h.1M1194 2185h.1M1194 2230h.1M1195 2205h.1M1195 2209h.1M1195 2221h.1M1195 2179h.1M1196 2203h.1M1196 2209h.1M1196 2213h.1M1196 2186h.1M1197 2182h.1M1197 2213h.1M1197 2204h.1M1197 2188h.1M1198 2179h.1M1198 2166h.1M1198 2192h.1M1198 2193h.1M1199 2213h.1M1199 2206h.1M1199 2190h.1M1199 2236h.1M1200 2191h.1M1200 2208h.1M1200 2216h.1M1200 2196h.1M1201 2221h.1M1201 2201h.1M1201 2245h.1M1201 2279h.1M1202 2260h.1M1202 2233h.1M1202 2254h.1M1202 2208h.1M1203 2217h.1M1203 2252h.1M1203 2212h.1M1203 2226h.1M1204 2238h.1M1204 2201h.1M1204 2178h.1M1204 2245h.1M1205 2190h.1M1205 2215h.1M1205 2195h.1M1205 2184h.1M1206 2224h.1M1206 2186h.1M1206 2209h.1M1206 2192h.1M1207 2188h.1M1207 2227h.1M1207 2301h.1M1207 2249h.1M1208 2243h.1M1208 2253h.1M1208 2266h.1M1208 2247h.1M1209 2225h.1M1209 2240h.1M1209 2257h.1M1209 2249h.1M1210 2278h.1M1210 2286h.1M1210 2257h.1M1210 2262h.1M1211 2271h.1M1211 2280h.1M1211 2270h.1M1211 2194h.1M1212 2216h.1M1212 2257h.1M1212 2205h.1M1212 2265h.1M1213 2220h.1M1213 2253h.1M1213 2254h.1M1214 2226h.1M1214 2278h.1M1214 2228h.1M1214 2218h.1M1215 2229h.1M1215 2251h.1M1215 2258h.1M1215 2247h.1M1216 2218h.1M1216 2254h.1M1216 2269h.1M1216 2256h.1M1217 2210h.1M1217 2227h.1M1217 2263h.1M1217 2246h.1M1218 2266h.1M1218 2292h.1M1218 2252h.1M1218 2208h.1M1219 2230h.1M1219 2276h.1M1219 2234h.1M1219 2239h.1M1220 2187h.1M1220 2260h.1M1220 2237h.1M1220 2277h.1M1221 2251h.1M1221 2225h.1M1221 2213h.1M1221 2240h.1M1222 2263h.1M1222 2246h.1M1222 2278h.1M1222 2209h.1M1223 2241h.1M1223 2255h.1M1223 2207h.1M1223 2226h.1M1224 2253h.1M1224 2250h.1M1224 2254h.1M1224 2293h.1M1225 2292h.1M1225 2235h.1M1225 2212h.1M1225 2230h.1M1226 2238h.1M1226 2240h.1M1226 2281h.1M1226 2220h.1M1227 2247h.1M1227 2267h.1M1227 2244h.1M1227 2281h.1M1228 2284h.1M1228 2279h.1M1228 2242h.1M1228 2267h.1M1229 2307h.1M1229 2271h.1M1229 2284h.1M1229 2255h.1M1230 2256h.1M1230 2234h.1M1230 2263h.1M1230 2249h.1M1231 2290h.1M1231 2306h.1M1231 2309h.1M1231 2245h.1M1232 2315h.1M1232 2278h.1M1232 2275h.1M1232 2285h.1M1233 2270h.1M1233 2262h.1M1233 2264h.1M1233 2273h.1M1234 2300h.1M1234 2282h.1M1234 2256h.1M1234 2277h.1M1235 2251h.1M1235 2272h.1M1235 2278h.1M1235 2293h.1M1236 2275h.1M1236 2244h.1M1236 2308h.1M1236 2265h.1M1237 2299h.1M1237 2251h.1M1237 2262h.1M1237 2257h.1M1238 2267h.1M1238 2327h.1M1238 2246h.1M1238 2259h.1M1239 2249h.1M1239 2293h.1M1239 2298h.1M1240 2277h.1M1240 2339h.1M1240 2299h.1M1240 2260h.1M1241 2313h.1M1241 2305h.1M1241 2291h.1M1241 2320h.1M1242 2295h.1M1242 2317h.1M1242 2260h.1M1242 2261h.1M1243 2296h.1M1243 2320h.1M1243 2311h.1M1243 2263h.1M1244 2267h.1M1244 2260h.1M1244 2269h.1M1244 2265h.1M1245 2278h.1M1245 2281h.1M1245 2310h.1M1245 2269h.1M1246 2332h.1M1246 2263h.1M1246 2256h.1M1246 2330h.1M1247 2289h.1M1247 2304h.1M1247 2278h.1M1247 2310h.1M1248 2295h.1M1248 2285h.1M1248 2322h.1M1248 2311h.1M1249 2318h.1M1249 2306h.1M1249 2307h.1M1249 2333h.1M1250 2353h.1M1250 2330h.1M1250 2354h.1M1250 2329h.1M1251 2310h.1M1251 2287h.1M1251 2324h.1M1251 2340h.1M1252 2313h.1M1252 2325h.1M1252 2282h.1M1252 2320h.1M1253 2324h.1M1253 2311h.1M1253 2307h.1M1254 2322h.1M1254 2279h.1M1254 2266h.1M1254 2311h.1M1255 2287h.1M1255 2274h.1M1255 2342h.1M1255 2307h.1M1256 2332h.1M1256 2276h.1M1256 2301h.1M1256 2337h.1M1257 2356h.1M1257 2305h.1M1257 2319h.1M1258 2302h.1M1258 2274h.1M1258 2320h.1M1258 2293h.1M1259 2292h.1M1259 2311h.1M1259 2307h.1M1259 2283h.1M1260 2349h.1M1260 2298h.1M1260 2273h.1M1260 2297h.1M1261 2320h.1M1261 2292h.1M1261 2286h.1M1261 2311h.1M1262 2316h.1M1262 2288h.1M1262 2264h.1M1262 2281h.1M1263 2279h.1M1263 2285h.1M1263 2252h.1M1263 2314h.1M1264 2297h.1M1264 2312h.1M1264 2284h.1M1264 2269h.1M1265 2267h.1M1265 2273h.1M1265 2291h.1M1265 2259h.1M1266 2223h.1M1266 2276h.1M1266 2249h.1M1266 2261h.1M1267 2246h.1M1267 2292h.1M1267 2255h.1M1267 2241h.1M1268 2269h.1M1268 2291h.1M1268 2258h.1M1268 2272h.1M1269 2272h.1M1269 2291h.1M1269 2279h.1M1269 2295h.1M1270 2272h.1M1270 2267h.1M1270 2262h.1M1270 2277h.1M1271 2264h.1M1271 2279h.1M1271 2282h.1M1271 2265h.1M1272 2297h.1M1272 2331h.1M1272 2304h.1M1272 2309h.1M1273 2269h.1M1273 2277h.1M1273 2299h.1M1273 2283h.1M1274 2284h.1M1274 2312h.1M1274 2263h.1M1274 2268h.1M1275 2290h.1M1275 2280h.1M1275 2300h.1M1275 2308h.1M1276 2300h.1M1276 2280h.1M1276 2284h.1M1276 2305h.1M1277 2280h.1M1277 2260h.1M1277 2267h.1M1277 2291h.1M1278 2329h.1M1278 2293h.1M1278 2311h.1M1278 2296h.1M1279 2298h.1M1279 2260h.1M1279 2257h.1M1279 2276h.1M1280 2283h.1M1280 2266h.1M1280 2298h.1M1280 2273h.1M1281 2256h.1M1281 2250h.1M1281 2249h.1M1281 2240h.1M1282 2243h.1M1282 2260h.1M1282 2247h.1M1282 2306h.1M1283 2237h.1M1283 2273h.1M1283 2225h.1M1283 2298h.1M1284 2238h.1M1284 2239h.1M1284 2237h.1M1284 2245h.1M1285 2260h.1M1285 2257h.1M1285 2222h.1M1285 2266h.1M1286 2269h.1M1286 2313h.1M1286 2272h.1M1286 2268h.1M1287 2316h.1M1287 2299h.1M1287 2267h.1M1287 2286h.1M1288 2268h.1M1288 2269h.1M1288 2254h.1M1288 2258h.1M1289 2237h.1M1289 2262h.1M1289 2270h.1M1289 2271h.1M1290 2256h.1M1290 2316h.1M1290 2229h.1M1290 2276h.1M1291 2232h.1M1291 2259h.1M1291 2250h.1M1291 2301h.1M1292 2225h.1M1292 2221h.1M1292 2187h.1M1292 2204h.1M1293 2197h.1M1293 2218h.1M1293 2236h.1M1293 2195h.1M1294 2188h.1M1294 2225h.1M1294 2247h.1M1294 2193h.1M1295 2199h.1M1295 2217h.1M1295 2200h.1M1295 2221h.1M1296 2222h.1M1296 2213h.1M1296 2201h.1M1297 2225h.1M1297 2207h.1M1297 2206h.1M1297 2216h.1M1298 2214h.1M1298 2195h.1M1298 2220h.1M1298 2268h.1M1299 2197h.1M1299 2213h.1M1299 2194h.1M1300 2229h.1M1300 2219h.1M1300 2232h.1M1300 2194h.1M1301 2204h.1M1301 2188h.1M1301 2258h.1M1301 2199h.1M1302 2228h.1M1302 2217h.1M1302 2253h.1M1302 2259h.1M1303 2215h.1M1303 2205h.1M1303 2200h.1M1303 2219h.1M1304 2246h.1M1304 2267h.1M1304 2227h.1M1304 2251h.1M1305 2253h.1M1305 2255h.1M1305 2284h.1M1305 2248h.1M1306 2255h.1M1306 2242h.1M1306 2239h.1M1306 2267h.1M1307 2276h.1M1307 2268h.1M1307 2243h.1M1307 2246h.1M1308 2254h.1M1308 2292h.1M1308 2281h.1M1308 2240h.1M1309 2294h.1M1309 2248h.1M1309 2243h.1M1309 2221h.1M1310 2274h.1M1310 2279h.1M1310 2312h.1M1310 2263h.1M1311 2283h.1M1311 2272h.1M1311 2268h.1M1311 2318h.1M1312 2309h.1M1312 2262h.1M1312 2249h.1M1312 2237h.1M1313 2264h.1M1313 2263h.1M1313 2287h.1M1314 2268h.1M1314 2298h.1M1314 2290h.1M1314 2285h.1M1315 2220h.1M1315 2243h.1M1315 2262h.1M1315 2241h.1M1316 2232h.1M1316 2252h.1M1316 2237h.1M1316 2248h.1M1317 2220h.1M1317 2258h.1M1317 2241h.1M1317 2198h.1M1318 2249h.1M1318 2268h.1M1318 2242h.1M1318 2269h.1M1319 2229h.1M1319 2230h.1M1319 2228h.1M1319 2278h.1M1320 2254h.1M1320 2249h.1M1320 2245h.1M1320 2272h.1M1321 2269h.1M1321 2246h.1M1321 2257h.1M1321 2247h.1M1322 2266h.1M1322 2273h.1M1322 2252h.1M1322 2272h.1M1323 2287h.1M1323 2228h.1M1323 2260h.1M1323 2246h.1M1324 2212h.1M1324 2217h.1M1324 2249h.1M1324 2232h.1M1325 2252h.1M1325 2228h.1M1325 2255h.1M1325 2245h.1M1326 2257h.1M1326 2261h.1M1326 2250h.1M1326 2267h.1M1327 2238h.1M1327 2258h.1M1327 2288h.1M1327 2247h.1M1328 2272h.1M1328 2246h.1M1328 2252h.1M1328 2275h.1M1329 2246h.1M1329 2241h.1M1329 2233h.1M1329 2276h.1M1330 2286h.1M1330 2288h.1M1330 2257h.1M1330 2239h.1M1331 2309h.1M1331 2268h.1M1331 2294h.1M1331 2255h.1M1332 2317h.1M1332 2315h.1M1332 2281h.1M1332 2302h.1M1333 2283h.1M1333 2240h.1M1333 2262h.1M1333 2278h.1M1334 2252h.1M1334 2270h.1M1334 2261h.1M1334 2262h.1M1335 2283h.1M1335 2293h.1M1335 2279h.1M1335 2268h.1M1336 2274h.1M1336 2266h.1M1336 2290h.1M1336 2250h.1M1337 2310h.1M1337 2279h.1M1337 2281h.1M1337 2292h.1M1338 2286h.1M1338 2327h.1M1338 2306h.1M1338 2297h.1M1339 2302h.1M1339 2306h.1M1339 2309h.1M1339 2278h.1M1340 2274h.1M1340 2282h.1M1340 2289h.1M1340 2314h.1M1341 2281h.1M1341 2320h.1M1341 2303h.1M1341 2305h.1M1342 2307h.1M1342 2273h.1M1342 2285h.1M1342 2282h.1M1343 2301h.1M1343 2275h.1M1343 2314h.1M1343 2296h.1M1344 2303h.1M1344 2306h.1M1344 2311h.1M1344 2288h.1M1345 2295h.1M1345 2304h.1M1345 2283h.1M1345 2326h.1M1346 2304h.1M1346 2308h.1M1346 2315h.1M1346 2283h.1M1347 2285h.1M1347 2284h.1M1347 2289h.1M1347 2290h.1M1348 2286h.1M1348 2277h.1M1348 2283h.1M1348 2289h.1M1349 2277h.1M1349 2265h.1M1349 2288h.1M1349 2318h.1M1350 2296h.1M1350 2325h.1M1350 2318h.1M1350 2329h.1M1350 2294h.1M1351 2308h.1M1351 2321h.1M1351 2317h.1M1351 2300h.1M1352 2334h.1M1352 2302h.1M1352 2316h.1M1352 2348h.1M1353 2339h.1M1353 2347h.1M1353 2336h.1M1353 2343h.1M1354 2344h.1M1354 2288h.1M1354 2275h.1M1354 2284h.1M1355 2318h.1M1355 2311h.1M1355 2298h.1M1355 2346h.1M1356 2356h.1M1356 2273h.1M1356 2348h.1M1356 2342h.1M1357 2321h.1M1357 2334h.1M1357 2294h.1M1357 2311h.1M1358 2282h.1M1358 2322h.1M1358 2265h.1M1358 2274h.1M1359 2255h.1M1359 2292h.1M1359 2276h.1M1359 2258h.1M1360 2255h.1M1360 2261h.1M1360 2252h.1M1361 2271h.1M1361 2265h.1M1361 2246h.1M1362 2260h.1M1362 2259h.1M1362 2288h.1M1362 2281h.1M1363 2315h.1M1363 2266h.1M1363 2286h.1M1363 2310h.1M1364 2321h.1M1364 2320h.1M1364 2303h.1M1364 2266h.1M1365 2296h.1M1365 2250h.1M1365 2304h.1M1365 2326h.1M1366 2307h.1M1366 2290h.1M1366 2316h.1M1367 2287h.1M1367 2256h.1M1367 2278h.1M1367 2307h.1M1368 2275h.1M1368 2281h.1M1368 2335h.1M1368 2243h.1M1369 2269h.1M1369 2257h.1M1369 2270h.1M1369 2297h.1M1370 2284h.1M1370 2265h.1M1370 2305h.1M1370 2255h.1M1371 2241h.1M1371 2252h.1M1371 2258h.1M1371 2272h.1M1372 2263h.1M1372 2258h.1M1372 2279h.1M1372 2227h.1M1373 2262h.1M1373 2292h.1M1373 2242h.1M1373 2246h.1M1374 2283h.1M1374 2288h.1M1374 2233h.1M1374 2289h.1M1375 2228h.1M1375 2248h.1M1375 2224h.1M1375 2233h.1M1376 2233h.1M1376 2239h.1M1376 2221h.1M1376 2290h.1M1377 2270h.1M1377 2211h.1M1377 2245h.1M1377 2248h.1M1378 2230h.1M1378 2218h.1M1378 2287h.1M1378 2243h.1M1379 2255h.1M1379 2224h.1M1379 2196h.1M1379 2227h.1M1380 2219h.1M1380 2209h.1M1380 2211h.1M1380 2207h.1M1381 2206h.1M1381 2218h.1M1381 2212h.1M1381 2205h.1M1382 2217h.1M1382 2186h.1M1382 2197h.1M1382 2219h.1M1383 2231h.1M1383 2203h.1M1383 2217h.1M1383 2227h.1M1384 2240h.1M1384 2214h.1M1384 2254h.1M1384 2241h.1M1385 2220h.1M1385 2217h.1M1385 2208h.1M1385 2232h.1M1386 2207h.1M1386 2225h.1M1386 2242h.1M1387 2253h.1M1387 2202h.1M1387 2201h.1M1387 2223h.1M1388 2239h.1M1388 2236h.1M1388 2206h.1M1388 2216h.1M1389 2205h.1M1389 2220h.1M1389 2210h.1M1389 2233h.1M1390 2245h.1M1390 2246h.1M1390 2208h.1M1390 2255h.1M1391 2224h.1M1391 2212h.1M1391 2294h.1M1391 2230h.1M1392 2233h.1M1392 2206h.1M1392 2269h.1M1392 2294h.1M1393 2236h.1M1393 2243h.1M1393 2215h.1M1393 2212h.1M1394 2223h.1M1394 2277h.1M1394 2217h.1M1394 2248h.1M1395 2225h.1M1395 2218h.1M1395 2210h.1M1395 2230h.1M1396 2233h.1M1396 2238h.1M1396 2217h.1M1396 2256h.1M1397 2267h.1M1397 2239h.1M1397 2255h.1M1398 2287h.1M1398 2251h.1M1398 2274h.1M1398 2321h.1M1399 2331h.1M1399 2301h.1M1399 2264h.1M1399 2246h.1M1400 2245h.1M1400 2256h.1M1400 2267h.1M1401 2262h.1M1401 2229h.1M1401 2275h.1M1401 2224h.1M1402 2222h.1M1402 2231h.1M1402 2257h.1M1403 2235h.1M1403 2216h.1M1403 2229h.1M1403 2217h.1M1404 2238h.1M1404 2257h.1M1404 2232h.1M1404 2233h.1M1405 2221h.1M1405 2254h.1M1405 2292h.1M1405 2319h.1M1406 2255h.1M1406 2288h.1M1406 2268h.1M1406 2263h.1M1407 2248h.1M1407 2226h.1M1407 2210h.1M1407 2260h.1M1408 2217h.1M1408 2230h.1M1408 2215h.1M1408 2195h.1M1409 2229h.1M1409 2206h.1M1409 2221h.1M1409 2223h.1M1410 2292h.1M1410 2240h.1M1410 2233h.1M1410 2243h.1M1411 2236h.1M1411 2250h.1M1411 2192h.1M1411 2247h.1M1412 2226h.1M1412 2230h.1M1412 2282h.1M1412 2259h.1M1413 2266h.1M1413 2289h.1M1413 2280h.1M1413 2253h.1M1414 2262h.1M1414 2268h.1M1414 2232h.1M1414 2280h.1M1415 2234h.1M1415 2244h.1M1415 2287h.1M1415 2271h.1M1416 2268h.1M1416 2245h.1M1416 2223h.1M1416 2243h.1M1417 2267h.1M1417 2258h.1M1417 2270h.1M1417 2277h.1M1418 2271h.1M1418 2269h.1M1418 2229h.1M1418 2275h.1M1419 2271h.1M1419 2258h.1M1419 2270h.1M1419 2266h.1M1420 2279h.1M1420 2288h.1M1420 2252h.1M1420 2319h.1M1421 2246h.1M1421 2249h.1M1421 2258h.1M1421 2266h.1M1422 2254h.1M1422 2242h.1M1422 2256h.1M1422 2247h.1M1423 2236h.1M1423 2242h.1M1423 2278h.1M1423 2297h.1M1424 2294h.1M1424 2274h.1M1424 2263h.1M1424 2241h.1M1425 2269h.1M1425 2265h.1M1425 2276h.1M1425 2271h.1M1426 2244h.1M1426 2249h.1M1426 2243h.1M1426 2300h.1M1427 2274h.1M1427 2277h.1M1427 2248h.1M1427 2246h.1M1428 2270h.1M1428 2271h.1M1428 2290h.1M1428 2259h.1M1429 2294h.1M1429 2295h.1M1429 2279h.1M1429 2267h.1M1430 2288h.1M1430 2305h.1M1430 2255h.1M1430 2276h.1M1431 2302h.1M1431 2303h.1M1431 2295h.1M1431 2269h.1M1432 2328h.1M1432 2286h.1M1432 2295h.1M1432 2294h.1M1433 2302h.1M1433 2300h.1M1433 2314h.1M1433 2332h.1M1434 2294h.1M1434 2270h.1M1434 2284h.1M1434 2276h.1M1435 2334h.1M1435 2312h.1M1435 2294h.1M1435 2315h.1M1436 2290h.1M1436 2317h.1M1436 2329h.1M1436 2294h.1M1437 2296h.1M1437 2291h.1M1437 2293h.1M1437 2282h.1M1438 2301h.1M1438 2305h.1M1438 2306h.1M1438 2354h.1M1439 2311h.1M1439 2318h.1M1439 2330h.1M1439 2319h.1M1440 2337h.1M1440 2277h.1M1440 2292h.1M1440 2306h.1M1441 2314h.1M1441 2291h.1M1441 2340h.1M1441 2293h.1M1442 2303h.1M1442 2285h.1M1442 2345h.1M1442 2302h.1M1443 2305h.1M1443 2341h.1M1443 2277h.1M1443 2286h.1M1444 2298h.1M1444 2308h.1M1444 2292h.1M1444 2287h.1M1445 2285h.1M1445 2337h.1M1445 2288h.1M1445 2312h.1M1446 2328h.1M1446 2266h.1M1446 2319h.1M1446 2299h.1M1447 2286h.1M1447 2322h.1M1447 2285h.1M1447 2250h.1M1448 2309h.1M1448 2307h.1M1448 2284h.1M1448 2285h.1M1449 2295h.1M1449 2291h.1M1449 2281h.1M1449 2288h.1M1450 2318h.1M1450 2320h.1M1450 2306h.1M1450 2308h.1M1451 2284h.1M1451 2272h.1M1451 2248h.1M1451 2306h.1M1452 2272h.1M1452 2276h.1M1452 2258h.1M1452 2278h.1M1453 2271h.1M1453 2250h.1M1453 2253h.1M1453 2266h.1M1454 2281h.1M1454 2294h.1M1454 2286h.1M1454 2248h.1M1455 2277h.1M1455 2351h.1M1455 2287h.1M1455 2285h.1M1456 2268h.1M1456 2261h.1M1456 2271h.1M1456 2289h.1M1457 2259h.1M1457 2306h.1M1457 2260h.1M1458 2294h.1M1458 2265h.1M1458 2280h.1M1458 2274h.1M1459 2298h.1M1459 2338h.1M1459 2307h.1M1459 2315h.1M1460 2342h.1M1460 2312h.1M1460 2263h.1M1460 2282h.1M1461 2325h.1M1461 2286h.1M1461 2356h.1M1462 2330h.1M1462 2295h.1M1462 2290h.1M1462 2269h.1M1463 2285h.1M1463 2264h.1M1463 2297h.1M1463 2248h.1M1464 2265h.1M1464 2247h.1M1464 2260h.1M1464 2235h.1M1465 2264h.1M1465 2243h.1M1465 2297h.1M1465 2298h.1M1466 2265h.1M1466 2228h.1M1466 2256h.1M1466 2257h.1M1467 2240h.1M1467 2238h.1M1467 2210h.1M1467 2266h.1M1468 2247h.1M1468 2236h.1M1468 2211h.1M1468 2271h.1M1469 2240h.1M1469 2246h.1M1469 2243h.1M1470 2237h.1M1470 2244h.1M1470 2233h.1M1470 2236h.1M1471 2254h.1M1471 2259h.1M1471 2286h.1M1471 2289h.1M1472 2230h.1M1472 2253h.1M1472 2264h.1M1472 2267h.1M1473 2256h.1M1473 2227h.1M1473 2270h.1M1473 2203h.1M1474 2234h.1M1474 2258h.1M1474 2261h.1M1474 2218h.1M1475 2244h.1M1475 2192h.1M1475 2230h.1M1475 2248h.1M1476 2219h.1M1476 2207h.1M1476 2211h.1M1476 2199h.1M1477 2211h.1M1477 2210h.1M1477 2213h.1M1478 2196h.1M1478 2194h.1M1478 2213h.1M1478 2211h.1M1479 2201h.1M1479 2208h.1M1479 2190h.1M1479 2196h.1M1480 2187h.1M1480 2203h.1M1480 2227h.1M1481 2202h.1M1481 2236h.1M1481 2235h.1M1481 2196h.1M1482 2239h.1M1482 2209h.1M1482 2221h.1M1482 2210h.1M1483 2257h.1M1483 2199h.1M1483 2223h.1M1483 2210h.1M1484 2191h.1M1484 2197h.1M1484 2251h.1M1484 2221h.1M1485 2217h.1M1485 2262h.1M1485 2269h.1M1485 2204h.1M1486 2210h.1M1486 2216h.1M1486 2202h.1M1486 2207h.1M1487 2206h.1M1487 2187h.1M1487 2234h.1M1487 2243h.1M1488 2228h.1M1488 2227h.1M1488 2264h.1M1488 2205h.1M1489 2245h.1M1489 2221h.1M1489 2236h.1M1489 2217h.1M1490 2225h.1M1490 2249h.1M1490 2237h.1M1490 2229h.1M1491 2250h.1M1491 2218h.1M1491 2262h.1M1491 2242h.1M1492 2247h.1M1492 2248h.1M1492 2231h.1M1492 2240h.1M1493 2222h.1M1493 2218h.1M1493 2215h.1M1493 2265h.1M1494 2204h.1M1494 2208h.1M1494 2227h.1M1494 2260h.1M1495 2274h.1M1495 2240h.1M1495 2233h.1M1495 2251h.1M1496 2293h.1M1496 2217h.1M1496 2212h.1M1496 2243h.1M1497 2194h.1M1497 2207h.1M1497 2217h.1M1497 2231h.1M1498 2194h.1M1498 2218h.1M1498 2221h.1M1499 2266h.1M1499 2220h.1M1499 2224h.1M1499 2226h.1M1500 2264h.1M1500 2244h.1M1500 2230h.1M1500 2206h.1M1501 2241h.1M1501 2264h.1M1501 2273h.1M1501 2230h.1M1502 2248h.1M1502 2272h.1M1502 2271h.1M1502 2295h.1M1503 2265h.1M1503 2290h.1M1503 2288h.1M1503 2238h.1M1504 2251h.1M1504 2266h.1M1504 2255h.1M1505 2250h.1M1505 2284h.1M1505 2257h.1M1505 2245h.1M1506 2265h.1M1506 2247h.1M1506 2270h.1M1507 2288h.1M1507 2252h.1M1507 2233h.1M1507 2240h.1M1508 2281h.1M1508 2261h.1M1508 2311h.1M1509 2282h.1M1509 2278h.1M1509 2268h.1M1509 2275h.1M1510 2282h.1M1510 2318h.1M1510 2335h.1M1510 2327h.1M1511 2280h.1M1511 2330h.1M1511 2266h.1M1511 2303h.1M1512 2310h.1M1512 2271h.1M1512 2278h.1M1512 2262h.1M1513 2271h.1M1513 2265h.1M1513 2266h.1M1513 2275h.1M1514 2253h.1M1514 2280h.1M1514 2246h.1M1514 2275h.1M1515 2275h.1M1515 2282h.1M1515 2293h.1M1515 2249h.1M1516 2314h.1M1516 2292h.1M1516 2264h.1M1516 2257h.1M1517 2283h.1M1517 2238h.1M1517 2252h.1M1517 2275h.1M1518 2270h.1M1518 2276h.1M1518 2263h.1M1518 2265h.1M1519 2241h.1M1519 2270h.1M1519 2277h.1M1519 2294h.1M1520 2283h.1M1520 2257h.1M1520 2286h.1M1520 2261h.1M1521 2287h.1M1521 2295h.1M1521 2278h.1M1521 2301h.1M1522 2274h.1M1522 2257h.1M1522 2298h.1M1523 2279h.1M1523 2304h.1M1523 2250h.1M1523 2294h.1M1524 2264h.1M1524 2248h.1M1524 2246h.1M1524 2252h.1M1525 2286h.1M1525 2269h.1M1525 2347h.1M1525 2304h.1M1526 2313h.1M1526 2276h.1M1526 2283h.1M1526 2272h.1M1527 2298h.1M1527 2288h.1M1527 2283h.1M1527 2287h.1M1528 2279h.1M1528 2305h.1M1528 2291h.1M1528 2324h.1M1529 2274h.1M1529 2294h.1M1529 2275h.1M1529 2291h.1M1530 2283h.1M1530 2305h.1M1530 2274h.1M1530 2306h.1M1531 2283h.1M1531 2292h.1M1531 2319h.1M1531 2300h.1M1532 2329h.1M1532 2291h.1M1532 2303h.1M1532 2293h.1M1533 2250h.1M1533 2264h.1M1533 2266h.1M1533 2279h.1M1534 2263h.1M1534 2254h.1M1534 2249h.1M1534 2287h.1M1535 2329h.1M1535 2312h.1M1535 2304h.1M1535 2288h.1M1536 2300h.1M1536 2293h.1M1536 2301h.1M1536 2333h.1M1537 2319h.1M1537 2312h.1M1537 2325h.1M1537 2299h.1M1538 2318h.1M1538 2313h.1M1538 2334h.1M1538 2275h.1M1539 2288h.1M1539 2322h.1M1539 2281h.1M1539 2292h.1M1540 2324h.1M1540 2314h.1M1540 2302h.1M1540 2290h.1M1541 2321h.1M1541 2331h.1M1541 2325h.1M1541 2302h.1M1542 2333h.1M1542 2308h.1M1542 2294h.1M1542 2268h.1M1543 2319h.1M1543 2307h.1M1543 2322h.1M1543 2279h.1M1544 2264h.1M1544 2277h.1M1544 2272h.1M1544 2244h.1M1545 2246h.1M1545 2270h.1M1545 2267h.1M1545 2274h.1M1546 2265h.1M1546 2270h.1M1546 2239h.1M1547 2265h.1M1547 2263h.1M1547 2257h.1M1547 2277h.1M1548 2241h.1M1548 2287h.1M1548 2304h.1M1548 2272h.1M1549 2255h.1M1549 2258h.1M1549 2261h.1M1549 2273h.1M1550 2278h.1M1550 2247h.1M1550 2215h.1M1550 2225h.1M1551 2210h.1M1551 2228h.1M1551 2227h.1M1551 2255h.1M1552 2236h.1M1552 2272h.1M1552 2258h.1M1552 2246h.1M1553 2237h.1M1553 2247h.1M1553 2246h.1M1554 2278h.1M1554 2251h.1M1554 2209h.1M1554 2229h.1M1555 2247h.1M1555 2257h.1M1555 2270h.1M1555 2218h.1M1556 2228h.1M1556 2225h.1M1556 2221h.1M1556 2252h.1M1557 2238h.1M1557 2290h.1M1557 2242h.1M1557 2247h.1M1558 2240h.1M1558 2208h.1M1558 2175h.1M1558 2217h.1M1559 2198h.1M1559 2205h.1M1559 2201h.1M1559 2190h.1M1560 2185h.1M1560 2198h.1M1560 2235h.1M1560 2232h.1M1561 2213h.1M1561 2221h.1M1561 2209h.1M1561 2232h.1M1562 2229h.1M1562 2238h.1M1562 2233h.1M1563 2235h.1M1563 2202h.1M1563 2212h.1M1563 2215h.1M1564 2204h.1M1564 2206h.1M1564 2185h.1M1564 2225h.1M1565 2195h.1M1565 2190h.1M1565 2192h.1M1565 2176h.1M1566 2198h.1M1566 2197h.1M1566 2178h.1M1566 2223h.1M1567 2239h.1M1567 2215h.1M1567 2229h.1M1567 2210h.1M1568 2239h.1M1568 2199h.1M1568 2218h.1M1568 2222h.1M1569 2225h.1M1569 2187h.1M1569 2200h.1M1569 2170h.1M1570 2204h.1M1570 2206h.1M1570 2188h.1M1570 2207h.1M1571 2173h.1M1571 2256h.1M1571 2210h.1M1571 2251h.1M1572 2231h.1M1572 2221h.1M1572 2213h.1M1572 2205h.1M1572 2249h.1M1573 2220h.1M1573 2197h.1M1573 2234h.1M1573 2207h.1M1574 2238h.1M1574 2193h.1M1574 2224h.1M1574 2184h.1M1575 2174h.1M1575 2194h.1M1575 2189h.1M1575 2208h.1M1576 2206h.1M1576 2197h.1M1576 2236h.1M1576 2213h.1M1577 2206h.1M1577 2221h.1M1577 2223h.1M1577 2204h.1M1578 2239h.1M1578 2215h.1M1578 2225h.1M1578 2231h.1M1579 2205h.1M1579 2203h.1M1579 2228h.1M1579 2257h.1M1580 2226h.1M1580 2241h.1M1580 2233h.1M1580 2264h.1M1581 2220h.1M1581 2254h.1M1581 2246h.1M1581 2243h.1M1582 2260h.1M1582 2221h.1M1582 2230h.1M1582 2252h.1M1583 2229h.1M1583 2251h.1M1583 2239h.1M1583 2201h.1M1584 2245h.1M1584 2222h.1M1584 2201h.1M1584 2260h.1M1585 2288h.1M1585 2210h.1M1585 2236h.1M1585 2222h.1M1586 2226h.1M1586 2238h.1M1586 2227h.1M1586 2206h.1M1587 2214h.1M1587 2239h.1M1587 2204h.1M1587 2237h.1M1588 2224h.1M1588 2225h.1M1588 2241h.1M1588 2247h.1M1589 2264h.1M1589 2228h.1M1589 2237h.1M1589 2245h.1M1590 2283h.1M1590 2246h.1M1590 2260h.1M1590 2258h.1M1591 2247h.1M1591 2246h.1M1591 2283h.1M1591 2292h.1M1592 2308h.1M1592 2309h.1M1592 2306h.1M1592 2351h.1M1593 2277h.1M1593 2357h.1M1593 2315h.1M1593 2291h.1M1594 2279h.1M1594 2327h.1M1594 2265h.1M1594 2268h.1M1595 2234h.1M1595 2276h.1M1595 2261h.1M1595 2271h.1M1596 2264h.1M1596 2249h.1M1596 2265h.1M1596 2286h.1M1597 2288h.1M1597 2249h.1M1597 2274h.1M1597 2291h.1M1598 2263h.1M1598 2255h.1M1598 2249h.1M1598 2309h.1M1599 2257h.1M1599 2319h.1M1599 2246h.1M1600 2270h.1M1600 2318h.1M1600 2312h.1M1600 2295h.1M1601 2247h.1M1601 2290h.1M1601 2302h.1M1601 2294h.1M1602 2270h.1M1602 2319h.1M1602 2299h.1M1602 2279h.1M1603 2290h.1M1603 2295h.1M1603 2327h.1M1603 2293h.1M1604 2297h.1M1604 2331h.1M1604 2291h.1M1604 2317h.1M1605 2284h.1M1605 2295h.1M1605 2273h.1M1605 2296h.1M1606 2283h.1M1606 2275h.1M1606 2253h.1M1607 2276h.1M1607 2319h.1M1607 2337h.1M1607 2278h.1M1608 2310h.1M1608 2278h.1M1608 2299h.1M1608 2327h.1M1609 2305h.1M1609 2264h.1M1609 2300h.1M1609 2299h.1M1610 2328h.1M1610 2284h.1M1610 2323h.1M1610 2327h.1M1611 2302h.1M1611 2309h.1M1611 2292h.1M1612 2254h.1M1612 2278h.1M1612 2265h.1M1612 2233h.1M1613 2286h.1M1613 2271h.1M1613 2264h.1M1613 2254h.1M1614 2259h.1M1614 2253h.1M1614 2264h.1M1614 2278h.1M1615 2280h.1M1615 2289h.1M1615 2258h.1M1615 2305h.1M1616 2352h.1M1616 2261h.1M1616 2321h.1M1616 2284h.1M1617 2277h.1M1617 2276h.1M1617 2266h.1M1617 2322h.1M1618 2303h.1M1618 2289h.1M1618 2279h.1M1618 2271h.1M1619 2330h.1M1619 2324h.1M1619 2282h.1M1619 2294h.1M1620 2277h.1M1620 2262h.1M1620 2273h.1M1620 2266h.1M1621 2288h.1M1621 2266h.1M1621 2290h.1M1621 2270h.1M1622 2272h.1M1622 2240h.1M1622 2225h.1M1622 2237h.1M1623 2286h.1M1623 2289h.1M1623 2311h.1M1623 2326h.1M1624 2276h.1M1624 2284h.1M1624 2256h.1M1624 2253h.1M1625 2296h.1M1625 2297h.1M1625 2298h.1M1625 2285h.1M1626 2242h.1M1626 2278h.1M1626 2302h.1M1626 2291h.1M1627 2316h.1M1627 2298h.1M1627 2273h.1M1627 2244h.1M1628 2262h.1M1628 2278h.1M1628 2282h.1M1628 2235h.1M1629 2311h.1M1629 2267h.1M1629 2281h.1M1629 2292h.1M1630 2287h.1M1630 2308h.1M1630 2290h.1M1630 2292h.1M1631 2337h.1M1631 2309h.1M1631 2300h.1M1631 2279h.1M1632 2287h.1M1632 2316h.1M1632 2278h.1M1632 2270h.1M1633 2266h.1M1633 2277h.1M1633 2238h.1M1633 2260h.1M1634 2274h.1M1634 2272h.1M1634 2267h.1M1634 2228h.1M1635 2253h.1M1635 2261h.1M1635 2258h.1M1636 2318h.1M1636 2287h.1M1636 2236h.1M1636 2251h.1M1637 2242h.1M1637 2254h.1M1637 2286h.1M1637 2228h.1M1638 2242h.1M1638 2247h.1M1638 2236h.1M1638 2291h.1M1639 2256h.1M1639 2251h.1M1639 2227h.1M1639 2286h.1M1640 2261h.1M1640 2293h.1M1640 2297h.1M1640 2252h.1M1641 2318h.1M1641 2285h.1M1641 2324h.1M1641 2345h.1M1642 2288h.1M1642 2293h.1M1642 2291h.1M1643 2276h.1M1643 2315h.1M1643 2279h.1M1643 2262h.1M1644 2275h.1M1644 2305h.1M1644 2235h.1M1644 2266h.1M1645 2298h.1M1645 2284h.1M1645 2235h.1M1646 2256h.1M1646 2239h.1M1646 2226h.1M1646 2242h.1M1647 2254h.1M1647 2239h.1M1647 2229h.1M1647 2237h.1M1648 2247h.1M1648 2232h.1M1648 2235h.1M1648 2275h.1M1649 2226h.1M1649 2232h.1M1649 2219h.1M1649 2220h.1M1650 2239h.1M1650 2256h.1M1650 2241h.1M1650 2227h.1M1651 2246h.1M1651 2264h.1M1651 2186h.1M1651 2213h.1M1652 2228h.1M1652 2215h.1M1652 2209h.1M1652 2211h.1M1653 2214h.1M1653 2221h.1M1653 2212h.1M1654 2242h.1M1654 2250h.1M1654 2207h.1M1654 2214h.1M1655 2203h.1M1655 2247h.1M1655 2243h.1M1655 2204h.1M1656 2265h.1M1656 2251h.1M1656 2257h.1M1656 2238h.1M1657 2264h.1M1657 2265h.1M1657 2235h.1M1657 2181h.1M1658 2214h.1M1658 2199h.1M1658 2231h.1M1659 2239h.1M1659 2248h.1M1659 2238h.1M1659 2227h.1M1660 2220h.1M1660 2216h.1M1660 2227h.1M1660 2215h.1M1661 2222h.1M1661 2197h.1M1661 2191h.1M1661 2223h.1M1662 2209h.1M1662 2221h.1M1662 2252h.1M1662 2226h.1M1663 2259h.1M1663 2203h.1M1663 2261h.1M1663 2233h.1M1664 2217h.1M1664 2286h.1M1664 2249h.1M1664 2207h.1M1665 2242h.1M1665 2264h.1M1665 2233h.1M1665 2208h.1M1666 2241h.1M1666 2220h.1M1666 2238h.1M1666 2211h.1M1667 2217h.1M1667 2237h.1M1667 2235h.1M1667 2188h.1M1668 2257h.1M1668 2209h.1M1668 2211h.1M1668 2252h.1M1669 2231h.1M1669 2260h.1M1669 2257h.1M1669 2216h.1M1670 2236h.1M1670 2217h.1M1670 2275h.1M1671 2261h.1M1671 2221h.1M1671 2230h.1M1671 2238h.1M1672 2200h.1M1672 2219h.1M1672 2196h.1M1672 2238h.1M1673 2249h.1M1673 2216h.1M1673 2230h.1M1673 2240h.1M1674 2239h.1M1674 2221h.1M1674 2240h.1M1674 2253h.1M1675 2237h.1M1675 2230h.1M1675 2251h.1M1675 2270h.1M1676 2234h.1M1676 2258h.1M1676 2209h.1M1676 2291h.1M1677 2248h.1M1677 2287h.1M1677 2224h.1M1677 2256h.1M1678 2260h.1M1678 2301h.1M1678 2226h.1M1678 2247h.1M1679 2236h.1M1679 2258h.1M1679 2287h.1M1679 2260h.1M1680 2274h.1M1680 2280h.1M1680 2314h.1M1680 2237h.1M1681 2274h.1M1681 2311h.1M1681 2271h.1M1681 2236h.1M1682 2256h.1M1682 2265h.1M1682 2264h.1M1682 2254h.1M1683 2195h.1M1683 2218h.1M1683 2233h.1M1683 2234h.1M1684 2263h.1M1684 2227h.1M1684 2246h.1M1684 2238h.1M1685 2242h.1M1685 2257h.1M1685 2233h.1M1685 2217h.1M1686 2215h.1M1686 2231h.1M1686 2242h.1M1686 2206h.1M1687 2263h.1M1687 2282h.1M1687 2306h.1M1687 2250h.1M1688 2283h.1M1688 2246h.1M1688 2262h.1M1688 2263h.1M1689 2216h.1M1689 2231h.1M1689 2294h.1M1689 2239h.1M1690 2254h.1M1690 2276h.1M1690 2262h.1M1690 2294h.1M1691 2235h.1M1691 2238h.1M1691 2290h.1M1691 2250h.1M1692 2257h.1M1692 2318h.1M1692 2292h.1M1692 2294h.1M1693 2311h.1M1693 2289h.1M1693 2321h.1M1693 2293h.1M1694 2255h.1M1694 2298h.1M1694 2310h.1M1694 2272h.1M1695 2293h.1M1695 2283h.1M1695 2301h.1M1695 2289h.1M1696 2263h.1M1696 2268h.1M1696 2277h.1M1696 2283h.1M1697 2276h.1M1697 2266h.1M1697 2273h.1M1697 2252h.1M1698 2268h.1M1698 2347h.1M1698 2294h.1M1699 2321h.1M1699 2325h.1M1699 2279h.1M1699 2301h.1M1700 2260h.1M1700 2304h.1M1700 2314h.1M1700 2319h.1M1701 2328h.1M1701 2336h.1M1701 2310h.1M1701 2269h.1M1702 2324h.1M1702 2260h.1M1702 2292h.1M1702 2289h.1M1703 2280h.1M1703 2259h.1M1703 2277h.1M1703 2303h.1M1704 2290h.1M1704 2324h.1M1704 2328h.1M1704 2323h.1M1705 2328h.1M1705 2285h.1M1705 2344h.1M1705 2322h.1M1706 2312h.1M1706 2297h.1M1706 2332h.1M1706 2313h.1M1707 2301h.1M1707 2344h.1M1707 2312h.1M1707 2310h.1M1708 2289h.1M1708 2316h.1M1708 2307h.1M1708 2339h.1M1709 2331h.1M1709 2339h.1M1709 2274h.1M1710 2322h.1M1710 2289h.1M1710 2292h.1M1710 2299h.1M1711 2304h.1M1711 2318h.1M1711 2303h.1M1712 2241h.1M1712 2270h.1M1712 2251h.1M1712 2253h.1M1713 2268h.1M1713 2323h.1M1713 2267h.1M1713 2312h.1M1714 2330h.1M1714 2316h.1M1714 2328h.1M1714 2310h.1M1715 2353h.1M1715 2349h.1M1715 2318h.1M1715 2328h.1M1716 2304h.1M1716 2289h.1M1716 2311h.1M1716 2266h.1M1717 2291h.1M1717 2319h.1M1717 2298h.1M1717 2313h.1M1718 2296h.1M1718 2282h.1M1718 2269h.1M1718 2266h.1M1719 2287h.1M1719 2253h.1M1719 2284h.1M1719 2259h.1M1720 2313h.1M1720 2250h.1M1720 2319h.1M1720 2285h.1M1721 2288h.1M1721 2311h.1M1721 2273h.1M1721 2298h.1M1722 2270h.1M1722 2271h.1M1722 2282h.1M1722 2301h.1M1723 2280h.1M1723 2279h.1M1723 2327h.1M1723 2273h.1M1724 2304h.1M1724 2251h.1M1724 2241h.1M1724 2283h.1M1725 2242h.1M1725 2266h.1M1725 2268h.1M1725 2247h.1M1726 2252h.1M1726 2284h.1M1726 2265h.1M1726 2258h.1M1727 2305h.1M1727 2294h.1M1727 2267h.1M1727 2237h.1M1728 2332h.1M1728 2318h.1M1728 2266h.1M1728 2313h.1M1729 2320h.1M1729 2266h.1M1729 2273h.1M1729 2265h.1M1730 2250h.1M1730 2241h.1M1730 2249h.1M1730 2293h.1M1731 2273h.1M1731 2236h.1M1731 2245h.1M1731 2267h.1M1732 2261h.1M1732 2257h.1M1732 2249h.1M1732 2286h.1M1733 2307h.1M1733 2294h.1M1733 2260h.1M1733 2290h.1M1734 2279h.1M1734 2312h.1M1734 2274h.1M1734 2286h.1M1735 2250h.1M1735 2245h.1M1735 2287h.1M1735 2228h.1M1736 2310h.1M1736 2279h.1M1736 2281h.1M1736 2275h.1M1737 2240h.1M1737 2236h.1M1737 2292h.1M1737 2246h.1M1738 2254h.1M1738 2237h.1M1738 2251h.1M1738 2239h.1M1739 2250h.1M1739 2245h.1M1739 2267h.1M1739 2315h.1M1740 2266h.1M1740 2243h.1M1740 2217h.1M1740 2238h.1M1741 2234h.1M1741 2233h.1M1741 2267h.1M1741 2236h.1M1742 2236h.1M1742 2247h.1M1742 2248h.1M1742 2256h.1M1743 2220h.1M1743 2238h.1M1743 2191h.1M1743 2230h.1M1744 2204h.1M1744 2224h.1M1744 2202h.1M1744 2218h.1M1745 2214h.1M1745 2193h.1M1745 2224h.1M1745 2174h.1M1746 2194h.1M1746 2217h.1M1746 2167h.1M1747 2188h.1M1747 2236h.1M1747 2164h.1M1747 2220h.1M1748 2230h.1M1748 2218h.1M1748 2176h.1M1748 2202h.1M1749 2214h.1M1749 2179h.1M1749 2182h.1M1749 2202h.1M1750 2225h.1M1750 2210h.1M1750 2241h.1M1750 2194h.1M1751 2191h.1M1751 2222h.1M1751 2247h.1M1751 2243h.1M1752 2229h.1M1752 2226h.1M1752 2257h.1M1752 2236h.1M1753 2270h.1M1753 2192h.1M1753 2280h.1M1753 2203h.1M1754 2221h.1M1754 2210h.1M1754 2218h.1M1754 2205h.1M1755 2198h.1M1755 2239h.1M1755 2235h.1M1755 2228h.1M1756 2246h.1M1756 2218h.1M1756 2206h.1M1756 2255h.1M1757 2220h.1M1757 2196h.1M1757 2237h.1M1757 2226h.1M1758 2210h.1M1758 2221h.1M1758 2228h.1M1759 2198h.1M1759 2209h.1M1759 2187h.1M1760 2174h.1M1760 2212h.1M1760 2209h.1M1760 2260h.1M1761 2207h.1M1761 2237h.1M1761 2185h.1M1761 2225h.1M1762 2236h.1M1762 2263h.1M1762 2181h.1M1762 2206h.1M1763 2229h.1M1763 2233h.1M1763 2215h.1M1763 2240h.1M1764 2210h.1M1764 2205h.1M1764 2172h.1M1764 2192h.1M1765 2187h.1M1765 2233h.1M1765 2195h.1M1765 2199h.1M1766 2202h.1M1766 2213h.1M1766 2174h.1M1766 2186h.1M1767 2196h.1M1767 2206h.1M1767 2236h.1M1767 2207h.1M1768 2217h.1M1768 2204h.1M1768 2203h.1M1769 2198h.1M1769 2185h.1M1769 2228h.1M1769 2203h.1M1770 2224h.1M1770 2228h.1M1770 2244h.1M1771 2254h.1M1771 2233h.1M1771 2221h.1M1771 2226h.1M1772 2223h.1M1772 2213h.1M1772 2206h.1M1772 2234h.1M1773 2231h.1M1773 2214h.1M1773 2286h.1M1773 2218h.1M1774 2253h.1M1774 2245h.1M1774 2260h.1M1774 2225h.1M1775 2243h.1M1775 2265h.1M1775 2241h.1M1775 2260h.1M1776 2294h.1M1776 2286h.1M1776 2309h.1M1776 2293h.1M1777 2273h.1M1777 2293h.1M1777 2242h.1M1778 2273h.1M1778 2247h.1M1778 2272h.1M1778 2277h.1M1779 2235h.1M1779 2268h.1M1779 2254h.1M1779 2281h.1M1780 2242h.1M1780 2296h.1M1780 2274h.1M1780 2306h.1M1781 2296h.1M1781 2275h.1M1781 2281h.1M1782 2241h.1M1782 2279h.1M1782 2244h.1M1782 2298h.1M1783 2247h.1M1783 2257h.1M1783 2253h.1M1783 2267h.1M1784 2303h.1M1784 2262h.1M1784 2272h.1M1784 2329h.1M1785 2274h.1M1785 2271h.1M1785 2308h.1M1785 2316h.1M1786 2262h.1M1786 2283h.1M1786 2239h.1M1786 2247h.1M1787 2284h.1M1787 2269h.1M1787 2288h.1M1787 2266h.1M1788 2282h.1M1788 2283h.1M1788 2268h.1M1788 2252h.1M1789 2249h.1M1789 2291h.1M1789 2256h.1M1790 2250h.1M1790 2283h.1M1790 2288h.1M1790 2292h.1M1791 2250h.1M1791 2252h.1M1791 2265h.1M1792 2308h.1M1792 2255h.1M1792 2291h.1M1792 2249h.1M1793 2264h.1M1793 2252h.1M1793 2265h.1M1793 2280h.1M1794 2269h.1M1794 2203h.1M1794 2211h.1M1794 2215h.1M1794 2202h.1M1795 2258h.1M1795 2247h.1M1795 2249h.1M1795 2233h.1M1796 2198h.1M1796 2261h.1M1796 2243h.1M1796 2244h.1M1797 2209h.1M1797 2273h.1M1797 2229h.1M1797 2251h.1M1798 2247h.1M1798 2232h.1M1798 2240h.1M1799 2281h.1M1799 2256h.1M1799 2284h.1M1799 2283h.1M1800 2272h.1M1800 2283h.1M1800 2303h.1M1800 2265h.1M1801 2277h.1M1801 2291h.1M1801 2268h.1M1802 2292h.1M1802 2273h.1M1802 2267h.1M1803 2291h.1M1803 2327h.1M1803 2307h.1M1803 2284h.1M1804 2291h.1M1804 2268h.1M1804 2302h.1M1804 2309h.1M1805 2309h.1M1805 2284h.1M1805 2261h.1M1805 2335h.1M1806 2311h.1M1806 2323h.1M1806 2335h.1M1806 2285h.1M1807 2310h.1M1807 2318h.1M1807 2347h.1M1807 2289h.1M1808 2280h.1M1808 2327h.1M1808 2316h.1M1808 2296h.1M1809 2259h.1M1809 2287h.1M1809 2299h.1M1809 2316h.1M1810 2317h.1M1810 2327h.1M1810 2304h.1M1810 2315h.1M1811 2312h.1M1811 2334h.1M1811 2356h.1M1811 2315h.1M1812 2318h.1M1812 2290h.1M1812 2299h.1M1813 2299h.1M1813 2267h.1M1813 2324h.1M1813 2311h.1M1814 2301h.1M1814 2329h.1M1814 2333h.1M1814 2307h.1M1815 2286h.1M1815 2275h.1M1815 2281h.1M1815 2317h.1M1816 2262h.1M1816 2287h.1M1816 2283h.1M1816 2269h.1M1817 2259h.1M1817 2290h.1M1817 2282h.1M1817 2296h.1M1818 2267h.1M1818 2265h.1M1818 2262h.1M1818 2269h.1M1819 2310h.1M1819 2305h.1M1819 2338h.1M1819 2280h.1M1820 2277h.1M1820 2260h.1M1820 2241h.1M1820 2263h.1M1821 2301h.1M1821 2264h.1M1821 2279h.1M1821 2334h.1M1822 2289h.1M1822 2302h.1M1822 2316h.1M1822 2282h.1M1823 2267h.1M1823 2287h.1M1823 2276h.1M1823 2255h.1M1824 2298h.1M1824 2312h.1M1824 2282h.1M1824 2271h.1M1825 2243h.1M1825 2328h.1M1825 2266h.1M1825 2284h.1M1826 2315h.1M1826 2294h.1M1826 2335h.1M1826 2338h.1M1827 2264h.1M1827 2306h.1M1827 2296h.1M1827 2318h.1M1828 2304h.1M644 1763h.1M1248 2375h.1M1342 2375h.1M524 2364h.1M394 2146h.1M756 2137h.1M969 2155h.1M1666 2151h.1M1756 2160h.1M1816 2352h.1"/><path fill="none" stroke="#ff0000" stroke-width="8.3" stroke-linejoin="round" d="M234.5 2273.2L236.0 2275.5L237.5 2277.4L239.0 2279.0L240.5 2280.3L242.0 2281.4L243.5 2282.2L245.0 2282.7L246.5 2283.1L248.0 2283.3L249.5 2283.4L251.0 2283.3L252.5 2283.2L254.0 2282.9L255.5 2282.6L257.0 2282.2L258.5 2281.7L260.0 2281.0L261.5 2280.2L263.0 2279.3L264.5 2278.1L266.0 2276.8L267.5 2275.1L269.0 2273.2L270.5 2271.1L272.0 2268.6L273.5 2265.9L275.0 2262.9L276.5 2259.6L278.0 2256.2L279.5 2252.5L281.0 2248.8L282.5 2245.0L284.0 2241.2L285.5 2237.5L287.0 2233.9L288.5 2230.6L290.0 2227.6L291.5 2225.0L293.0 2222.8L294.5 2221.1L296.0 2220.0L297.5 2219.4L299.0 2219.5L300.5 2220.1L302.0 2221.3L303.5 2223.0L305.0 2225.3L306.5 2228.0L308.0 2231.1L309.5 2234.6L311.0 2238.3L312.5 2242.2L314.0 2246.2L315.5 2250.2L317.0 2254.2L318.5 2258.0L320.0 2261.7L321.5 2265.1L323.0 2268.3L324.5 2271.1L326.0 2273.7L327.5 2275.9L329.0 2277.8L330.5 2279.3L332.0 2280.6L333.5 2281.6L335.0 2282.3L336.5 2282.8L338.0 2283.1L339.5 2283.3L341.0 2283.4L342.5 2283.3L344.0 2283.1L345.5 2282.9L347.0 2282.5L348.5 2282.1L350.0 2281.5L351.5 2280.9L353.0 2280.1L354.5 2279.1L356.0 2277.9L357.5 2276.4L359.0 2274.8L360.5 2272.8L362.0 2270.6L363.5 2268.1L365.0 2265.3L366.5 2262.2L368.0 2258.9L369.5 2255.4L371.0 2251.8L372.5 2248.0L374.0 2244.2L375.5 2240.4L377.0 2236.7L378.5 2233.2L380.0 2230.0L381.5 2227.0L383.0 2224.5L384.5 2222.4L386.0 2220.9L387.5 2219.8L389.0 2219.4L390.5 2219.5L392.0 2220.3L393.5 2221.6L395.0 2223.4L396.5 2225.8L398.0 2228.6L399.5 2231.8L401.0 2235.3L402.5 2239.1L404.0 2243.0L405.5 2247.0L407.0 2251.0L408.5 2255.0L410.0 2258.8L411.5 2262.4L413.0 2265.8L414.5 2268.9L416.0 2271.7L417.5 2274.1L419.0 2276.3L420.5 2278.1L422.0 2279.6L423.5 2280.8L425.0 2281.7L426.5 2282.4L428.0 2282.9L429.5 2283.2L431.0 2283.3L432.5 2283.4L434.0 2283.3L435.5 2283.1L437.0 2282.8L438.5 2282.5L440.0 2282.0L441.5 2281.4L443.0 2280.7L444.5 2279.9L446.0 2278.8L447.5 2277.6L449.0 2276.1L450.5 2274.4L452.0 2272.4L453.5 2270.1L455.0 2267.6L456.5 2264.7L458.0 2261.6L459.5 2258.3L461.0 2254.7L462.5 2251.0L464.0 2247.2L465.5 2243.4L467.0 2239.6L468.5 2236.0L470.0 2232.5L471.5 2229.3L473.0 2226.5L474.5 2224.0L476.0 2222.1L477.5 2220.6L479.0 2219.7L480.5 2219.4L482.0 2219.6L483.5 2220.5L485.0 2221.9L486.5 2223.9L488.0 2226.3L489.5 2229.2L491.0 2232.5L492.5 2236.1L494.0 2239.9L495.5 2243.8L497.0 2247.8L498.5 2251.8L500.0 2255.7L501.5 2259.5L503.0 2263.1L504.5 2266.4L506.0 2269.5L507.5 2272.2L509.0 2274.6L510.5 2276.7L512.0 2278.4L513.5 2279.9L515.0 2281.0L516.5 2281.9L518.0 2282.5L519.5 2283.0L521.0 2283.2L522.5 2283.3L524.0 2283.3L525.5 2283.2L527.1 2283.0L528.6 2282.7L530.1 2282.4L531.6 2281.9L533.1 2281.3L534.6 2280.6L536.1 2279.7L537.6 2278.6L539.1 2277.3L540.6 2275.8L542.1 2274.0L543.6 2272.0L545.1 2269.6L546.6 2267.0L548.1 2264.1L549.6 2260.9L551.1 2257.5L552.6 2254.0L554.1 2250.3L555.6 2246.5L557.1 2242.6L558.6 2238.9L560.1 2235.3L561.6 2231.9L563.1 2228.7L564.6 2225.9L566.1 2223.6L567.6 2221.7L569.1 2220.4L570.6 2219.6L572.1 2219.4L573.6 2219.8L575.1 2220.7L576.6 2222.3L578.1 2224.3L579.6 2226.9L581.1 2229.8L582.6 2233.2L584.1 2236.8L585.6 2240.6L587.1 2244.6L588.6 2248.6L590.1 2252.6L591.6 2256.5L593.1 2260.3L594.6 2263.8L596.1 2267.1L597.6 2270.1L599.1 2272.7L600.6 2275.1L602.1 2277.1L603.6 2278.7L605.1 2280.1L606.6 2281.2L608.1 2282.0L609.6 2282.6L611.1 2283.0L612.6 2283.3L614.1 2283.4L615.6 2283.3L617.1 2283.2L618.6 2283.0L620.1 2282.7L621.6 2282.3L623.1 2281.8L624.6 2281.2L626.1 2280.4L627.6 2279.5L629.1 2278.4L630.6 2277.0L632.1 2275.5L633.6 2273.6L635.1 2271.5L636.6 2269.1L638.1 2266.4L639.6 2263.5L641.1 2260.3L642.6 2256.8L644.1 2253.2L644.3 2252.6L644.3 2239.6L645.6 2236.4L647.1 2232.6L648.6 2228.8L650.1 2225.1L651.6 2221.5L653.1 2218.1L654.6 2215.1L656.1 2212.4L657.6 2210.1L659.1 2208.3L660.6 2207.1L662.1 2206.4L663.6 2206.3L665.1 2206.8L666.6 2207.9L668.1 2209.6L669.6 2211.7L671.1 2214.4L672.6 2217.4L674.1 2220.8L675.6 2224.5L677.1 2228.4L678.6 2232.4L680.1 2236.4L681.6 2240.4L683.1 2244.2L684.6 2247.9L686.1 2251.4L687.6 2254.6L689.1 2257.6L690.6 2260.2L692.1 2262.4L693.6 2264.4L695.1 2266.0L696.6 2267.3L698.1 2268.3L699.6 2269.1L701.1 2269.7L702.6 2270.0L704.1 2270.2L705.6 2270.3L707.1 2270.2L708.6 2270.1L710.1 2269.9L711.6 2269.5L713.1 2269.1L714.6 2268.6L716.1 2267.9L717.6 2267.2L719.1 2266.2L720.6 2265.0L722.1 2263.7L723.6 2262.0L725.1 2260.1L726.6 2258.0L728.1 2255.5L729.6 2252.8L731.1 2249.8L732.6 2246.5L734.1 2243.0L735.6 2239.4L737.1 2235.6L738.6 2231.8L740.1 2228.0L741.6 2224.3L743.1 2220.8L744.6 2217.5L746.1 2214.5L747.6 2211.9L749.1 2209.7L750.6 2208.0L752.1 2206.9L753.6 2206.4L755.1 2206.4L756.6 2207.0L758.1 2208.2L759.6 2210.0L761.1 2212.2L762.6 2215.0L764.1 2218.1L765.6 2221.6L767.1 2225.3L768.6 2229.2L770.1 2233.2L771.6 2237.2L773.1 2241.2L774.6 2245.0L776.1 2248.7L777.6 2252.1L779.1 2255.3L780.6 2258.1L782.1 2260.6L783.6 2262.8L785.1 2264.7L786.6 2266.3L788.1 2267.5L789.6 2268.5L791.1 2269.2L792.6 2269.7L794.1 2270.1L795.6 2270.3L797.1 2270.3L798.6 2270.2L800.1 2270.1L801.6 2269.8L803.1 2269.5L804.6 2269.0L806.1 2268.5L807.6 2267.8L809.1 2267.0L810.6 2266.0L812.1 2264.8L813.6 2263.4L815.1 2261.7L816.6 2259.7L818.1 2257.5L819.6 2255.0L821.1 2252.2L822.6 2249.1L824.1 2245.8L825.6 2242.3L827.1 2238.7L828.6 2234.9L830.1 2231.1L831.6 2227.3L833.1 2223.6L834.6 2220.1L836.1 2216.8L837.6 2213.9L839.1 2211.4L840.6 2209.3L842.1 2207.8L843.6 2206.8L845.1 2206.3L846.6 2206.5L848.1 2207.2L849.6 2208.5L851.1 2210.4L852.6 2212.8L854.1 2215.6L855.6 2218.8L857.1 2222.3L858.6 2226.1L860.1 2230.0L861.6 2234.0L863.1 2238.0L864.6 2242.0L866.1 2245.8L867.6 2249.4L869.1 2252.8L870.6 2255.9L872.1 2258.7L873.6 2261.1L875.1 2263.2L876.6 2265.1L878.1 2266.5L879.6 2267.7L881.1 2268.7L882.6 2269.4L884.1 2269.8L885.6 2270.1L887.1 2270.3L888.6 2270.3L890.1 2270.2L891.6 2270.0L893.1 2269.7L894.6 2269.4L896.1 2268.9L897.6 2268.3L899.1 2267.6L900.6 2266.8L902.1 2265.8L903.6 2264.5L905.1 2263.0L906.6 2261.3L908.1 2259.3L909.6 2257.0L911.1 2254.4L912.6 2251.6L914.1 2248.5L915.6 2245.1L917.1 2241.6L918.6 2237.9L920.1 2234.1L921.6 2230.3L923.1 2226.5L924.6 2222.9L926.1 2219.4L927.6 2216.2L929.1 2213.4L930.6 2210.9L932.1 2209.0L933.6 2207.5L935.1 2206.6L936.6 2206.3L938.1 2206.6L939.6 2207.4L941.1 2208.9L942.6 2210.8L944.1 2213.3L945.6 2216.2L947.1 2219.5L948.6 2223.0L950.1 2226.8L951.6 2230.8L953.1 2234.8L953.4 2235.6L953.4 2246.7L954.6 2249.9L956.1 2253.8L957.6 2257.6L959.1 2261.2L960.6 2264.5L962.1 2267.5L963.6 2270.2L965.1 2272.6L966.6 2274.7L968.1 2276.4L969.6 2277.9L971.1 2279.0L972.6 2279.9L974.1 2280.5L975.6 2281.0L977.1 2281.2L978.6 2281.3L980.1 2281.3L981.6 2281.2L983.1 2281.0L984.6 2280.7L986.1 2280.4L987.6 2279.9L989.1 2279.3L990.6 2278.5L992.1 2277.7L993.6 2276.6L995.1 2275.3L996.6 2273.8L998.1 2272.0L999.6 2269.9L1001.1 2267.6L1002.6 2264.9L1004.1 2262.0L1005.6 2258.9L1007.1 2255.5L1008.6 2251.9L1010.1 2248.2L1011.6 2244.4L1013.1 2240.6L1014.6 2236.8L1016.1 2233.2L1017.6 2229.8L1019.1 2226.7L1020.6 2223.9L1022.1 2221.6L1023.6 2219.7L1025.1 2218.3L1026.6 2217.6L1028.1 2217.4L1029.6 2217.8L1031.1 2218.7L1032.6 2220.3L1034.1 2222.3L1035.6 2224.9L1037.1 2227.9L1038.6 2231.2L1040.1 2234.9L1041.6 2238.7L1043.1 2242.7L1044.6 2246.7L1046.1 2250.7L1047.6 2254.6L1049.1 2258.3L1050.6 2261.8L1052.1 2265.1L1053.6 2268.1L1055.1 2270.7L1056.6 2273.1L1058.1 2275.1L1059.6 2276.8L1061.1 2278.1L1062.6 2279.2L1064.1 2280.0L1065.6 2280.6L1067.1 2281.0L1068.6 2281.3L1070.1 2281.3L1071.6 2281.3L1073.1 2281.2L1074.6 2281.0L1076.1 2280.7L1077.6 2280.3L1079.1 2279.8L1080.6 2279.1L1082.1 2278.4L1083.6 2277.4L1085.1 2276.3L1086.6 2275.0L1088.1 2273.4L1089.6 2271.6L1091.1 2269.5L1092.6 2267.1L1094.1 2264.4L1095.6 2261.4L1097.1 2258.2L1098.6 2254.8L1100.1 2251.2L1101.6 2247.4L1103.1 2243.6L1104.6 2239.8L1106.1 2236.1L1107.6 2232.5L1109.1 2229.1L1110.6 2226.1L1112.1 2223.4L1113.6 2221.1L1115.1 2219.4L1116.6 2218.1L1118.1 2217.5L1119.6 2217.4L1121.1 2217.9L1122.6 2219.0L1124.1 2220.7L1125.6 2222.8L1127.1 2225.5L1128.6 2228.5L1130.1 2231.9L1131.6 2235.6L1133.1 2239.5L1134.6 2243.5L1136.1 2247.5L1137.6 2251.5L1139.1 2255.4L1140.6 2259.1L1142.1 2262.5L1143.6 2265.7L1145.1 2268.7L1146.6 2271.2L1148.1 2273.5L1149.7 2275.4L1151.2 2277.1L1152.7 2278.4L1154.2 2279.4L1155.7 2280.2L1157.2 2280.7L1158.7 2281.1L1160.2 2281.3L1161.7 2281.4L1163.2 2281.3L1164.7 2281.2L1166.2 2280.9L1167.7 2280.6L1169.2 2280.2L1170.7 2279.6L1172.2 2279.0L1173.7 2278.2L1175.2 2277.2L1176.7 2276.1L1178.2 2274.7L1179.7 2273.1L1181.2 2271.2L1182.7 2269.0L1184.2 2266.5L1185.7 2263.8L1187.2 2260.8L1188.7 2257.5L1190.2 2254.0L1191.7 2250.4L1193.2 2246.6L1194.7 2242.8L1196.2 2239.0L1197.7 2235.3L1199.2 2231.8L1200.7 2228.5L1202.2 2225.5L1203.7 2222.9L1205.2 2220.7L1206.7 2219.1L1208.2 2218.0L1209.7 2217.4L1211.2 2217.5L1212.7 2218.1L1214.2 2219.3L1215.7 2221.1L1217.2 2223.3L1218.7 2226.1L1220.2 2229.2L1221.7 2232.7L1223.2 2236.4L1224.7 2240.3L1226.2 2244.3L1227.7 2248.3L1229.2 2252.3L1230.7 2256.1L1232.2 2259.8L1233.7 2263.2L1235.2 2266.4L1236.7 2269.2L1238.2 2271.7L1239.7 2273.9L1241.2 2275.8L1242.7 2277.3L1244.2 2278.6L1245.7 2279.6L1247.2 2280.3L1248.7 2280.8L1250.2 2281.1L1251.7 2281.3L1253.2 2281.4L1254.7 2281.3L1256.2 2281.1L1257.7 2280.9L1259.2 2280.5L1260.7 2280.1L1262.2 2279.5L1263.7 2278.8L1265.2 2278.0L1266.7 2277.0L1268.2 2275.8L1269.7 2274.4L1271.2 2272.7L1272.7 2270.8L1274.2 2268.5L1275.7 2266.0L1277.2 2263.2L1278.7 2260.1L1280.2 2256.8L1281.7 2253.3L1283.2 2249.6L1284.7 2245.9L1286.2 2242.1L1287.7 2238.3L1289.2 2234.6L1290.7 2231.1L1292.2 2227.8L1293.7 2224.9L1295.2 2222.4L1296.7 2220.4L1298.2 2218.8L1299.7 2217.8L1301.2 2217.4L1302.7 2217.5L1304.2 2218.3L1305.7 2219.6L1307.2 2221.5L1308.7 2223.9L1310.2 2226.7L1311.7 2229.9L1313.2 2233.4L1314.7 2237.2L1316.2 2241.1L1317.7 2245.1L1319.2 2249.1L1320.7 2253.1L1322.2 2256.9L1323.7 2260.5L1325.2 2263.9L1326.7 2267.0L1328.2 2269.7L1329.7 2272.2L1331.2 2274.3L1332.7 2276.1L1334.2 2277.6L1335.7 2278.8L1337.2 2279.7L1338.7 2280.4L1340.2 2280.9L1341.7 2281.2L1343.2 2281.3L1344.7 2281.3L1346.2 2281.3L1347.7 2281.1L1349.2 2280.8L1350.7 2280.4L1352.2 2280.0L1353.7 2279.4L1355.2 2278.7L1356.7 2277.8L1358.2 2276.8L1359.7 2275.5L1361.2 2274.1L1362.7 2272.3L1364.2 2270.3L1365.7 2268.0L1367.2 2265.5L1368.7 2262.6L1370.2 2259.5L1371.7 2256.1L1373.2 2252.6L1374.7 2248.9L1376.2 2245.1L1377.7 2241.3L1379.2 2237.5L1380.7 2233.9L1382.2 2230.4L1383.7 2227.2L1385.2 2224.4L1386.7 2222.0L1388.2 2220.0L1389.7 2218.6L1391.2 2217.7L1392.7 2217.4L1394.2 2217.6L1395.7 2218.5L1397.2 2219.9L1398.7 2221.9L1400.2 2224.4L1401.7 2227.3L1403.2 2230.6L1404.7 2234.2L1406.2 2238.0L1407.7 2241.9L1409.2 2245.9L1410.7 2249.9L1412.2 2253.9L1413.7 2257.6L1415.2 2261.2L1416.7 2264.5L1418.2 2267.6L1419.7 2270.3L1421.2 2272.7L1422.7 2274.7L1424.2 2276.5L1425.7 2277.9L1427.2 2279.0L1428.7 2279.9L1430.2 2280.5L1431.7 2281.0L1433.2 2281.2L1434.7 2281.3L1436.2 2281.3L1437.7 2281.2L1439.2 2281.0L1440.7 2280.7L1442.2 2280.3L1443.7 2279.9L1445.2 2279.3L1446.7 2278.5L1448.2 2277.6L1449.7 2276.6L1451.2 2275.3L1452.7 2273.7L1454.2 2271.9L1455.7 2269.9L1457.2 2267.5L1458.7 2264.9L1460.2 2262.0L1461.7 2258.8L1463.2 2255.4L1464.7 2251.8L1466.2 2248.1L1467.7 2244.3L1469.2 2240.5L1470.7 2236.8L1472.2 2233.1L1473.7 2229.7L1475.2 2226.6L1476.7 2223.9L1478.2 2221.5L1479.7 2219.7L1481.2 2218.3L1482.7 2217.6L1484.2 2217.4L1485.7 2217.8L1487.2 2218.8L1488.7 2220.3L1490.2 2222.4L1491.7 2224.9L1493.2 2227.9L1494.7 2231.3L1496.2 2234.9L1497.7 2238.8L1499.2 2242.7L1500.7 2246.7L1502.2 2250.7L1503.7 2254.6L1505.0 2257.9L1505.0 2254.1L1505.2 2254.7L1506.7 2258.2L1508.2 2261.4L1509.7 2264.4L1511.2 2267.1L1512.7 2269.4L1514.2 2271.4L1515.7 2273.1L1517.2 2274.4L1518.7 2275.5L1520.2 2276.3L1521.7 2276.9L1523.2 2277.3L1524.7 2277.5L1526.2 2277.6L1527.7 2277.6L1529.2 2277.5L1530.7 2277.2L1532.2 2276.9L1533.7 2276.5L1535.2 2276.0L1536.7 2275.4L1538.2 2274.6L1539.7 2273.7L1541.2 2272.6L1542.7 2271.3L1544.2 2269.7L1545.7 2267.8L1547.2 2265.7L1548.7 2263.3L1550.2 2260.6L1551.7 2257.6L1553.2 2254.4L1554.7 2251.0L1556.2 2247.4L1557.7 2243.6L1559.2 2239.8L1560.7 2236.0L1562.2 2232.3L1563.7 2228.7L1565.2 2225.4L1566.7 2222.3L1568.2 2219.6L1569.7 2217.4L1571.2 2215.6L1572.7 2214.4L1574.2 2213.7L1575.7 2213.7L1577.2 2214.2L1578.7 2215.3L1580.2 2217.0L1581.7 2219.1L1583.2 2221.8L1584.7 2224.9L1586.2 2228.3L1587.7 2232.0L1589.2 2235.8L1590.7 2239.8L1592.2 2243.8L1593.7 2247.8L1595.2 2251.7L1596.7 2255.4L1598.2 2258.9L1599.7 2262.1L1601.2 2265.0L1602.7 2267.6L1604.2 2269.8L1605.7 2271.7L1607.2 2273.4L1608.7 2274.7L1610.2 2275.7L1611.7 2276.5L1613.2 2277.0L1614.7 2277.4L1616.2 2277.6L1617.7 2277.6L1619.2 2277.6L1620.7 2277.4L1622.2 2277.2L1623.7 2276.9L1625.2 2276.4L1626.7 2275.9L1628.2 2275.3L1629.7 2274.5L1631.2 2273.5L1632.7 2272.3L1634.2 2271.0L1635.7 2269.3L1637.2 2267.4L1638.7 2265.2L1640.2 2262.8L1641.7 2260.0L1643.2 2257.0L1644.7 2253.7L1646.2 2250.3L1647.7 2246.6L1649.2 2242.9L1650.7 2239.1L1652.2 2235.3L1653.7 2231.6L1655.2 2228.0L1656.7 2224.7L1658.2 2221.7L1659.7 2219.1L1661.2 2217.0L1662.7 2215.3L1664.2 2214.2L1665.7 2213.7L1667.2 2213.7L1668.7 2214.4L1670.2 2215.6L1671.7 2217.4L1673.2 2219.7L1674.7 2222.4L1676.2 2225.5L1677.7 2229.0L1679.2 2232.7L1680.7 2236.6L1682.2 2240.6L1683.7 2244.7L1685.2 2248.6L1686.7 2252.5L1688.2 2256.1L1689.7 2259.5L1691.2 2262.7L1692.7 2265.5L1694.2 2268.1L1695.7 2270.2L1697.2 2272.1L1698.7 2273.6L1700.2 2274.9L1701.7 2275.9L1703.2 2276.6L1704.7 2277.1L1706.2 2277.4L1707.7 2277.6L1709.2 2277.6L1710.7 2277.6L1712.2 2277.4L1713.7 2277.1L1715.2 2276.8L1716.7 2276.3L1718.2 2275.8L1719.7 2275.1L1721.2 2274.3L1722.7 2273.3L1724.2 2272.1L1725.7 2270.6L1727.2 2269.0L1728.7 2267.0L1730.2 2264.8L1731.7 2262.2L1733.2 2259.4L1734.7 2256.4L1736.2 2253.1L1737.7 2249.5L1739.2 2245.9L1740.7 2242.1L1742.2 2238.3L1743.7 2234.5L1745.2 2230.8L1746.7 2227.3L1748.2 2224.1L1749.7 2221.2L1751.2 2218.7L1752.7 2216.6L1754.2 2215.1L1755.7 2214.1L1757.2 2213.6L1758.7 2213.8L1760.2 2214.6L1761.7 2215.9L1763.2 2217.8L1764.7 2220.2L1766.2 2223.0L1767.7 2226.2L1769.2 2229.7L1770.8 2233.5L1772.3 2237.4L1773.8 2241.5L1775.3 2245.5L1776.8 2249.4L1778.3 2253.2L1779.8 2256.8L1781.3 2260.2L1782.8 2263.3L1784.3 2266.1L1785.8 2268.5L1787.3 2270.6L1788.8 2272.4L1790.3 2273.9L1791.8 2275.1L1793.3 2276.0L1794.8 2276.7L1796.3 2277.2L1797.8 2277.5L1799.3 2277.6L1800.8 2277.6L1802.3 2277.5L1803.8 2277.3L1805.3 2277.1L1806.8 2276.7L1808.3 2276.2L1809.8 2275.7L1811.3 2275.0L1812.8 2274.1L1814.3 2273.1L1815.8 2271.8L1817.3 2270.3L1818.8 2268.6L1820.3 2266.6L1821.8 2264.3L1823.3 2261.7L1824.8 2258.8L1826.3 2255.7L1827.8 2252.4"/></g>
<path stroke="#000" stroke-width="2" fill="none" d="M247.1 1751.0v-10.0M247.1 2389.0v10.0M292.7 1751.0v-10.0M292.7 2389.0v10.0M338.3 1751.0v-18.5M338.3 2389.0v18.5M383.9 1751.0v-10.0M383.9 2389.0v10.0M429.5 1751.0v-10.0M429.5 2389.0v10.0M475.1 1751.0v-10.0M475.1 2389.0v10.0M520.7 1751.0v-18.5M520.7 2389.0v18.5M566.3 1751.0v-10.0M566.3 2389.0v10.0M611.9 1751.0v-10.0M611.9 2389.0v10.0M657.5 1751.0v-10.0M657.5 2389.0v10.0M703.1 1751.0v-18.5M703.1 2389.0v18.5M748.7 1751.0v-10.0M748.7 2389.0v10.0M794.3 1751.0v-10.0M794.3 2389.0v10.0M840.0 1751.0v-10.0M840.0 2389.0v10.0M885.6 1751.0v-18.5M885.6 2389.0v18.5M931.2 1751.0v-10.0M931.2 2389.0v10.0M976.8 1751.0v-10.0M976.8 2389.0v10.0M1022.4 1751.0v-10.0M1022.4 2389.0v10.0M1068.0 1751.0v-18.5M1068.0 2389.0v18.5M1113.6 1751.0v-10.0M1113.6 2389.0v10.0M1159.2 1751.0v-10.0M1159.2 2389.0v10.0M1204.8 1751.0v-10.0M1204.8 2389.0v10.0M1250.4 1751.0v-18.5M1250.4 2389.0v18.5M1296.0 1751.0v-10.0M1296.0 2389.0v10.0M1341.6 1751.0v-10.0M1341.6 2389.0v10.0M1387.2 1751.0v-10.0M1387.2 2389.0v10.0M1432.8 1751.0v-18.5M1432.8 2389.0v18.5M1478.4 1751.0v-10.0M1478.4 2389.0v10.0M1524.0 1751.0v-10.0M1524.0 2389.0v10.0M1569.6 1751.0v-10.0M1569.6 2389.0v10.0M1615.2 1751.0v-18.5M1615.2 2389.0v18.5M1660.8 1751.0v-10.0M1660.8 2389.0v10.0M1706.4 1751.0v-10.0M1706.4 2389.0v10.0M1752.1 1751.0v-10.0M1752.1 2389.0v10.0M1797.7 1751.0v-18.5M1797.7 2389.0v18.5M1843.3 1751.0v-10.0M1843.3 2389.0v10.0M202.6 1799.6H183.0M1860.0 1799.6H1878.9M202.6 1950.4H183.0M1860.0 1950.4H1878.9M202.6 2101.1H183.0M1860.0 2101.1H1878.9M202.6 2251.9H183.0M1860.0 2251.9H1878.9"/>
<text transform="translate(167.4 1815.4) scale(1 1.035)" text-anchor="end" font-weight="bold" font-size="43">90</text>
<text transform="translate(167.4 1966.2) scale(1 1.035)" text-anchor="end" font-weight="bold" font-size="43">60</text>
<text transform="translate(167.4 2116.9) scale(1 1.035)" text-anchor="end" font-weight="bold" font-size="43">30</text>
<text transform="translate(167.4 2267.7) scale(1 1.035)" text-anchor="end" font-weight="bold" font-size="43">0</text>
<text transform="translate(338.3 2455.3) scale(1 1.035)" text-anchor="middle" font-weight="bold" font-size="43">2006</text>
<text transform="translate(520.7 2455.3) scale(1 1.035)" text-anchor="middle" font-weight="bold" font-size="43">2008</text>
<text transform="translate(703.1 2455.3) scale(1 1.035)" text-anchor="middle" font-weight="bold" font-size="43">2010</text>
<text transform="translate(885.6 2455.3) scale(1 1.035)" text-anchor="middle" font-weight="bold" font-size="43">2012</text>
<text transform="translate(1068.0 2455.3) scale(1 1.035)" text-anchor="middle" font-weight="bold" font-size="43">2014</text>
<text transform="translate(1250.4 2455.3) scale(1 1.035)" text-anchor="middle" font-weight="bold" font-size="43">2016</text>
<text transform="translate(1432.8 2455.3) scale(1 1.035)" text-anchor="middle" font-weight="bold" font-size="43">2018</text>
<text transform="translate(1615.2 2455.3) scale(1 1.035)" text-anchor="middle" font-weight="bold" font-size="43">2020</text>
<text transform="translate(1797.7 2455.3) scale(1 1.035)" text-anchor="middle" font-weight="bold" font-size="43">2022</text>
<text transform="translate(90 2070.0) rotate(-90) scale(0.984 1)" text-anchor="middle" font-size="43">Up (mm)</text>
<text transform="translate(1792.8 1792.5) scale(0.989 1.04)" text-anchor="end" font-weight="bold" font-size="36">0.000+/- 0.486 mm/yr</text>
<text transform="translate(1031 2514.4) scale(0.997 1)" text-anchor="middle" font-size="43">Time (year)</text>
<rect x="202.7" y="2618.2" width="1657.3" height="152.8" fill="none" stroke="#000" stroke-width="5.8"/>
<text transform="translate(1031.3 2667.7) scale(0.988 1.01)" text-anchor="middle" font-weight="bold" font-size="36">24 Hour Positions Using Final Orbits (blue) and Rapid Orbits (magenta).</text>
<text transform="translate(1031.3 2707.5) scale(0.988 1.01)" text-anchor="middle" font-weight="bold" font-size="36">Processed by the Nevada Geodetic Laboratory.</text>
<text transform="translate(1031.3 2747.7) scale(0.988 1.01)" text-anchor="middle" font-weight="bold" font-size="36">Plotted on 2026-Apr-26. Last data on 2022-May-02.</text>
</svg></body></html>
